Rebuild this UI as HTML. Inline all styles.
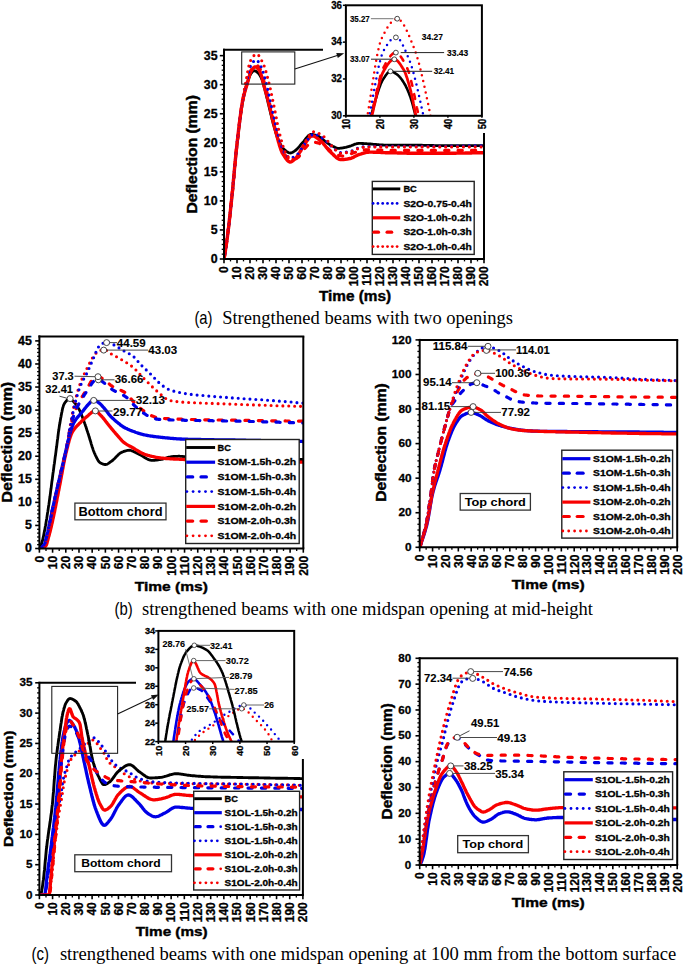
<!DOCTYPE html><html><head><meta charset="utf-8"><style>html,body{margin:0;padding:0;background:#fff;overflow:hidden;width:685px;height:965px;}svg{display:block;}</style></head><body><svg width="685" height="965" viewBox="0 0 685 965">
<rect width="685" height="965" fill="#fff"/>
<defs><clipPath id="cA"><rect x="224" y="49" width="260" height="210.5"/></clipPath><clipPath id="cAi"><rect x="345.9" y="5.3" width="136" height="110.5"/></clipPath></defs>
<path d="M224.0,259.0 224.2,257.8 224.4,256.5 224.7,255.2 224.9,253.9 225.1,252.6 225.3,251.2 225.5,249.8 225.7,248.4 226.0,246.9 226.2,245.5 226.4,244.0 226.6,242.4 226.8,240.9 227.0,239.3 227.3,237.7 227.5,236.1 227.7,234.5 227.9,232.8 228.1,231.1 228.3,229.4 228.6,227.6 228.8,225.8 229.0,224.0 229.2,222.1 229.4,220.2 229.6,218.2 229.9,216.3 230.1,214.3 230.3,212.3 230.5,210.2 230.7,208.2 230.9,206.2 231.2,204.1 231.4,202.1 231.6,200.0 231.8,197.9 232.0,195.9 232.2,193.7 232.5,191.5 232.7,189.3 232.9,187.1 233.1,184.8 233.3,182.5 233.5,180.2 233.8,177.9 234.0,175.6 234.2,173.3 234.4,170.9 234.6,168.6 234.8,166.3 235.1,164.0 235.3,161.8 235.5,159.5 235.7,157.3 235.9,155.2 236.1,153.0 236.4,150.9 236.6,148.9 236.8,146.9 237.0,145.0 237.2,143.1 237.4,141.3 237.7,139.4 237.9,137.5 238.1,135.6 238.3,133.8 238.5,131.9 238.7,130.1 239.0,128.3 239.2,126.5 239.4,124.7 239.6,123.0 239.8,121.2 240.0,119.5 240.3,117.9 240.5,116.2 240.7,114.6 240.9,113.0 241.1,111.5 241.3,110.0 241.6,108.6 241.8,107.2 242.0,105.8 242.2,104.5 242.4,103.2 242.6,102.0 242.9,100.9 243.1,99.8 243.3,98.7 243.5,97.6 243.7,96.6 243.9,95.6 244.2,94.6 244.4,93.6 244.6,92.7 244.8,91.7 245.0,90.8 245.3,90.0 245.5,89.1 245.7,88.3 245.9,87.4 246.1,86.6 246.3,85.9 246.8,84.4 247.2,83.0 247.6,81.7 248.1,80.4 248.5,79.2 248.9,78.0 249.4,76.9 249.8,75.8 250.2,74.9 250.7,74.0 251.1,73.3 251.8,72.5 252.4,71.7 253.1,71.1 253.9,70.7 254.8,70.8 255.7,71.2 256.5,71.6 257.4,72.3 258.0,72.9 258.7,73.7 259.3,74.5 260.0,75.5 260.4,76.2 260.9,77.1 261.3,78.0 261.7,79.0 262.2,80.1 262.6,81.4 263.0,82.8 263.5,84.2 263.9,85.8 264.1,86.6 264.3,87.4 264.6,88.2 264.8,89.0 265.0,89.9 265.2,90.8 265.4,91.7 265.6,92.5 265.9,93.4 266.1,94.3 266.3,95.2 266.5,96.1 266.7,97.0 266.9,97.9 267.2,98.8 267.4,99.7 267.6,100.5 267.8,101.4 268.0,102.3 268.2,103.2 268.5,104.1 268.7,105.0 268.9,105.9 269.1,106.8 269.3,107.7 269.5,108.7 269.8,109.6 270.0,110.5 270.2,111.4 270.4,112.3 270.6,113.3 270.8,114.2 271.1,115.1 271.3,116.0 271.5,116.9 271.7,117.7 271.9,118.6 272.1,119.5 272.4,120.3 272.6,121.2 272.8,122.0 273.0,122.8 273.2,123.6 273.4,124.4 273.9,125.9 274.3,127.4 274.7,128.9 275.2,130.5 275.6,131.9 276.0,133.4 276.5,134.7 276.9,136.1 277.3,137.3 277.8,138.5 278.2,139.6 278.6,140.6 279.1,141.5 279.5,142.4 279.9,143.3 280.4,144.2 280.8,145.0 281.2,145.8 281.7,146.5 282.1,147.2 282.8,148.1 283.4,148.8 284.1,149.4 284.7,150.0 285.4,150.5 286.0,151.1 286.7,151.5 287.5,152.1 288.4,152.5 289.3,152.8 290.1,153.0 291.0,152.9 291.9,152.6 292.7,152.2 293.6,151.7 294.5,151.1 295.3,150.5 296.0,150.0 296.6,149.4 297.3,148.8 297.9,148.1 298.6,147.3 299.2,146.6 299.9,145.8 300.5,145.0 301.2,144.3 301.8,143.5 302.5,142.8 303.1,142.1 303.8,141.3 304.5,140.4 305.1,139.6 305.8,138.7 306.4,137.9 307.1,137.1 307.7,136.4 308.4,135.7 309.0,135.2 309.9,134.7 310.7,134.4 311.6,134.4 312.5,134.5 313.3,134.6 314.2,134.8 315.1,135.0 315.9,135.3 316.8,135.6 317.7,135.9 318.5,136.2 319.4,136.8 320.3,137.4 320.9,137.9 321.6,138.5 322.2,139.0 322.9,139.6 323.5,140.2 324.2,140.7 324.8,141.2 325.7,141.8 326.6,142.4 327.4,143.0 328.3,143.6 329.2,144.2 330.0,144.7 330.9,145.2 331.8,145.6 332.6,146.1 333.5,146.6 334.4,147.0 335.2,147.5 336.1,147.8 337.0,148.1 337.8,148.3 338.7,148.3 339.6,148.3 340.4,148.2 341.3,148.1 342.2,148.0 343.0,147.8 343.9,147.6 344.8,147.5 345.7,147.3 346.5,147.1 347.4,146.9 348.3,146.7 349.1,146.4 350.0,146.1 350.9,145.8 351.7,145.5 352.6,145.1 353.5,144.8 354.3,144.4 355.2,144.1 356.1,143.9 356.9,143.7 357.8,143.5 358.7,143.4 359.5,143.4 360.4,143.4 361.3,143.4 362.1,143.5 363.0,143.5 363.9,143.6 364.7,143.6 365.6,143.7 366.5,143.7 367.3,143.8 368.2,143.9 369.1,143.9 369.9,144.0 370.8,144.0 371.7,144.1 372.5,144.2 373.4,144.3 374.3,144.3 375.1,144.4 376.0,144.5 376.9,144.6 377.7,144.6 378.6,144.7 379.5,144.8 380.3,144.9 381.2,144.9 382.1,145.0 382.9,145.0 383.8,145.1 384.7,145.1 385.6,145.1 386.4,145.1 387.3,145.1 388.2,145.1 389.0,145.1 389.9,145.1 390.8,145.1 391.6,145.1 392.5,145.1 393.4,145.1 394.2,145.1 395.1,145.1 396.0,145.1 396.8,145.1 397.7,145.1 398.6,145.1 399.4,145.1 400.3,145.1 401.2,145.1 402.0,145.1 402.9,145.1 403.8,145.1 404.6,145.1 405.5,145.1 406.4,145.1 407.2,145.1 408.1,145.1 409.0,145.1 409.8,145.1 410.7,145.1 411.6,145.1 412.4,145.1 413.3,145.1 414.2,145.1 415.0,145.1 415.9,145.1 416.8,145.2 417.6,145.2 418.5,145.2 419.4,145.2 420.2,145.2 421.1,145.2 422.0,145.2 422.8,145.3 423.7,145.3 424.6,145.3 425.5,145.3 426.3,145.3 427.2,145.4 428.1,145.4 428.9,145.4 429.8,145.4 430.7,145.5 431.5,145.5 432.4,145.5 433.3,145.5 434.1,145.6 435.0,145.6 435.9,145.6 436.7,145.6 437.6,145.6 438.5,145.6 439.3,145.7 440.2,145.7 441.1,145.7 441.9,145.7 442.8,145.7 443.7,145.7 444.5,145.7 445.4,145.7 446.3,145.7 447.1,145.7 448.0,145.7 448.9,145.7 449.7,145.7 450.6,145.7 451.5,145.7 452.3,145.7 453.2,145.7 454.1,145.7 454.9,145.7 455.8,145.7 456.7,145.7 457.5,145.7 458.4,145.7 459.3,145.7 460.1,145.7 461.0,145.7 461.9,145.7 462.7,145.7 463.6,145.7 464.5,145.7 465.4,145.7 466.2,145.7 467.1,145.7 468.0,145.7 468.8,145.7 469.7,145.7 470.6,145.7 471.4,145.7 472.3,145.7 473.2,145.7 474.0,145.7 474.9,145.7 475.8,145.7 476.6,145.7 477.5,145.7 478.4,145.7 479.2,145.7 480.1,145.7 481.0,145.7 481.8,145.7 482.7,145.7 483.6,145.7 484.0,145.7" fill="none" stroke="#000000" stroke-width="2.8" stroke-linejoin="round" stroke-linecap="round" clip-path="url(#cA)"/>
<path d="M224.0,259.0 224.2,257.8 224.4,256.5 224.7,255.3 224.9,254.0 225.1,252.6 225.3,251.3 225.5,249.9 225.7,248.4 226.0,247.0 226.2,245.5 226.4,244.0 226.6,242.5 226.8,240.9 227.0,239.4 227.3,237.8 227.5,236.1 227.7,234.5 227.9,232.8 228.1,231.1 228.3,229.4 228.6,227.6 228.8,225.7 229.0,223.9 229.2,221.9 229.4,220.0 229.6,218.0 229.9,216.0 230.1,214.0 230.3,211.9 230.5,209.9 230.7,207.8 230.9,205.7 231.2,203.6 231.4,201.5 231.6,199.4 231.8,197.4 232.0,195.2 232.2,193.1 232.5,190.9 232.7,188.6 232.9,186.4 233.1,184.1 233.3,181.8 233.5,179.4 233.8,177.1 234.0,174.7 234.2,172.4 234.4,170.0 234.6,167.7 234.8,165.3 235.1,163.0 235.3,160.7 235.5,158.5 235.7,156.3 235.9,154.1 236.1,151.9 236.4,149.8 236.6,147.8 236.8,145.8 237.0,143.9 237.2,142.0 237.4,140.1 237.7,138.2 237.9,136.3 238.1,134.4 238.3,132.5 238.5,130.6 238.7,128.8 239.0,127.0 239.2,125.1 239.4,123.3 239.6,121.6 239.8,119.8 240.0,118.1 240.3,116.4 240.5,114.8 240.7,113.2 240.9,111.6 241.1,110.1 241.3,108.6 241.6,107.2 241.8,105.8 242.0,104.4 242.2,103.2 242.4,102.0 242.6,100.8 242.9,99.7 243.1,98.7 243.3,97.7 243.5,96.8 243.7,95.8 243.9,95.0 244.2,94.1 244.4,93.3 244.6,92.5 244.8,91.7 245.3,90.2 245.7,88.8 246.1,87.3 246.6,85.9 247.0,84.5 247.4,83.0 247.9,81.5 248.1,80.7 248.3,79.9 248.5,79.0 248.7,78.2 248.9,77.4 249.2,76.6 249.4,75.9 249.8,74.4 250.2,73.1 250.7,72.0 251.1,71.1 251.8,70.1 252.4,69.2 253.1,68.4 253.7,67.7 254.4,67.2 255.2,66.9 256.1,67.0 257.0,67.6 257.6,68.3 258.3,69.1 258.9,69.9 259.6,70.9 260.0,71.8 260.4,72.9 260.9,74.1 261.3,75.4 261.7,76.7 262.2,78.2 262.4,79.0 262.6,79.9 262.8,80.8 263.0,81.7 263.2,82.6 263.5,83.5 263.7,84.3 263.9,85.2 264.1,86.0 264.3,86.8 264.6,87.6 264.8,88.4 265.0,89.2 265.2,90.0 265.4,90.7 265.6,91.5 265.9,92.3 266.1,93.1 266.3,93.9 266.5,94.7 266.7,95.4 266.9,96.2 267.2,97.0 267.4,97.8 267.6,98.6 267.8,99.5 268.0,100.3 268.2,101.1 268.5,102.0 268.7,102.8 268.9,103.7 269.1,104.5 269.3,105.4 269.5,106.3 269.8,107.2 270.0,108.1 270.2,109.0 270.4,109.9 270.6,110.8 270.8,111.7 271.1,112.7 271.3,113.6 271.5,114.5 271.7,115.4 271.9,116.3 272.1,117.2 272.4,118.2 272.6,119.1 272.8,120.0 273.0,120.9 273.2,121.8 273.4,122.6 273.7,123.5 273.9,124.4 274.1,125.3 274.3,126.1 274.5,126.9 274.7,127.8 275.0,128.6 275.2,129.4 275.4,130.2 275.6,131.0 275.8,131.8 276.0,132.6 276.3,133.4 276.5,134.2 276.7,135.0 276.9,135.9 277.1,136.7 277.3,137.5 277.6,138.3 277.8,139.2 278.0,140.0 278.2,140.8 278.4,141.6 278.6,142.4 278.9,143.1 279.3,144.7 279.7,146.1 280.2,147.5 280.6,148.8 281.0,150.0 281.5,151.1 281.9,152.1 282.3,153.0 282.8,153.7 283.2,154.4 283.6,155.1 284.1,155.8 284.5,156.5 285.2,157.5 285.8,158.5 286.5,159.3 287.1,160.1 287.8,160.7 288.4,161.3 289.3,161.8 290.1,162.0 291.0,161.9 291.9,161.5 292.7,160.9 293.4,160.4 294.0,159.8 294.7,159.2 295.3,158.6 296.0,158.0 296.6,157.2 297.3,156.3 297.9,155.3 298.4,154.6 298.8,153.8 299.2,153.1 299.7,152.3 300.1,151.5 300.5,150.7 301.0,150.0 301.4,149.2 301.8,148.5 302.3,147.8 302.9,146.8 303.6,145.9 304.2,145.0 304.9,144.0 305.5,143.0 306.2,142.0 306.8,141.0 307.5,140.1 308.1,139.2 308.8,138.3 309.4,137.6 310.1,136.9 310.7,136.4 311.6,136.0 312.5,135.8 313.3,135.9 314.2,136.2 315.1,136.6 315.9,137.2 316.8,137.8 317.5,138.3 318.1,138.8 318.8,139.3 319.4,139.9 320.1,140.4 320.7,140.9 321.4,141.5 322.0,142.1 322.7,142.8 323.3,143.6 324.0,144.4 324.6,145.2 325.3,146.0 325.9,146.8 326.6,147.6 327.2,148.4 327.9,149.2 328.5,150.0 329.2,150.7 329.8,151.4 330.5,152.0 331.1,152.6 331.8,153.2 332.4,153.8 333.1,154.4 333.7,155.1 334.4,155.7 335.0,156.3 335.7,156.9 336.3,157.5 337.0,158.0 337.8,158.6 338.7,159.1 339.6,159.4 340.4,159.6 341.3,159.6 342.2,159.6 343.0,159.6 343.9,159.5 344.8,159.4 345.7,159.3 346.5,159.1 347.4,159.0 348.3,158.8 349.1,158.7 350.0,158.5 350.9,158.3 351.7,158.0 352.6,157.6 353.5,157.2 354.3,156.7 355.2,156.3 356.1,155.8 356.9,155.4 357.8,154.9 358.7,154.6 359.5,154.3 360.4,154.1 361.3,153.8 362.1,153.5 363.0,153.3 363.9,153.0 364.7,152.8 365.6,152.6 366.5,152.4 367.3,152.3 368.2,152.2 369.1,152.1 369.9,152.1 370.8,152.1 371.7,152.1 372.5,152.1 373.4,152.2 374.3,152.2 375.1,152.2 376.0,152.2 376.9,152.3 377.7,152.3 378.6,152.4 379.5,152.4 380.3,152.4 381.2,152.5 382.1,152.5 382.9,152.6 383.8,152.6 384.7,152.6 385.6,152.7 386.4,152.7 387.3,152.7 388.2,152.7 389.0,152.7 389.9,152.8 390.8,152.8 391.6,152.8 392.5,152.8 393.4,152.8 394.2,152.9 395.1,152.9 396.0,152.9 396.8,152.9 397.7,153.0 398.6,153.0 399.4,153.0 400.3,153.0 401.2,153.0 402.0,153.1 402.9,153.1 403.8,153.1 404.6,153.1 405.5,153.1 406.4,153.1 407.2,153.2 408.1,153.2 409.0,153.2 409.8,153.2 410.7,153.2 411.6,153.2 412.4,153.2 413.3,153.2 414.2,153.2 415.0,153.2 415.9,153.2 416.8,153.3 417.6,153.3 418.5,153.3 419.4,153.3 420.2,153.3 421.1,153.3 422.0,153.3 422.8,153.3 423.7,153.3 424.6,153.3 425.5,153.3 426.3,153.3 427.2,153.3 428.1,153.3 428.9,153.3 429.8,153.3 430.7,153.3 431.5,153.3 432.4,153.3 433.3,153.3 434.1,153.3 435.0,153.2 435.9,153.2 436.7,153.2 437.6,153.2 438.5,153.2 439.3,153.2 440.2,153.2 441.1,153.2 441.9,153.2 442.8,153.2 443.7,153.2 444.5,153.2 445.4,153.2 446.3,153.2 447.1,153.2 448.0,153.2 448.9,153.2 449.7,153.2 450.6,153.2 451.5,153.2 452.3,153.2 453.2,153.2 454.1,153.2 454.9,153.2 455.8,153.2 456.7,153.1 457.5,153.1 458.4,153.1 459.3,153.1 460.1,153.1 461.0,153.1 461.9,153.1 462.7,153.1 463.6,153.1 464.5,153.1 465.4,153.0 466.2,153.0 467.1,153.0 468.0,153.0 468.8,153.0 469.7,153.0 470.6,153.0 471.4,153.0 472.3,152.9 473.2,152.9 474.0,152.9 474.9,152.9 475.8,152.9 476.6,152.9 477.5,152.8 478.4,152.8 479.2,152.8 480.1,152.8 481.0,152.8 481.8,152.7 482.7,152.7 483.6,152.7 484.0,152.7" fill="none" stroke="#f80000" stroke-width="3.4" stroke-linejoin="round" stroke-linecap="round" clip-path="url(#cA)"/>
<path d="M224.0,259.0 224.2,257.8 224.4,256.5 224.7,255.3 224.9,254.0 225.1,252.6 225.3,251.3 225.5,249.9 225.7,248.4 226.0,247.0 226.2,245.5 226.4,244.0 226.6,242.5 226.8,240.9 227.0,239.4 227.3,237.8 227.5,236.1 227.7,234.5 227.9,232.8 228.1,231.1 228.3,229.4 228.6,227.6 228.8,225.7 229.0,223.9 229.2,221.9 229.4,220.0 229.6,218.0 229.9,216.0 230.1,214.0 230.3,211.9 230.5,209.9 230.7,207.8 230.9,205.7 231.2,203.6 231.4,201.5 231.6,199.4 231.8,197.4 232.0,195.2 232.2,193.1 232.5,190.9 232.7,188.6 232.9,186.4 233.1,184.1 233.3,181.8 233.5,179.4 233.8,177.1 234.0,174.7 234.2,172.4 234.4,170.0 234.6,167.7 234.8,165.3 235.1,163.0 235.3,160.7 235.5,158.5 235.7,156.3 235.9,154.1 236.1,151.9 236.4,149.8 236.6,147.8 236.8,145.8 237.0,143.9 237.2,142.0 237.4,140.1 237.7,138.2 237.9,136.3 238.1,134.4 238.3,132.6 238.5,130.7 238.7,128.9 239.0,127.0 239.2,125.2 239.4,123.4 239.6,121.7 239.8,120.0 240.0,118.2 240.3,116.6 240.5,114.9 240.7,113.3 240.9,111.8 241.1,110.2 241.3,108.7 241.6,107.3 241.8,105.9 242.0,104.6 242.2,103.3 242.4,102.0 242.6,100.8 242.9,99.7 243.1,98.7 243.3,97.6 243.5,96.6 243.7,95.7 243.9,94.7 244.2,93.8 244.4,93.0 244.6,92.1 244.8,91.3 245.0,90.5 245.3,89.7 245.5,88.9 245.9,87.4 246.3,85.9 246.8,84.4 247.2,82.8 247.4,82.0 247.6,81.2 247.9,80.4 248.1,79.6 248.3,78.8 248.5,77.9 248.7,77.1 248.9,76.3 249.2,75.5 249.6,74.0 250.0,72.6 250.5,71.4 250.9,70.4 251.3,69.6 251.8,68.9 252.4,67.9 253.1,67.0 253.7,66.2 254.4,65.5 255.0,65.1 255.9,64.8 256.7,65.0 257.6,65.6 258.3,66.4 258.9,67.2 259.6,68.2 260.0,68.9 260.4,69.6 260.9,70.5 261.3,71.6 261.7,72.9 262.2,74.4 262.4,75.2 262.6,76.0 262.8,76.8 263.0,77.7 263.2,78.5 263.5,79.4 263.7,80.3 263.9,81.1 264.1,82.0 264.3,82.9 264.6,83.7 264.8,84.5 265.0,85.3 265.2,86.1 265.4,86.9 265.6,87.7 265.9,88.6 266.1,89.4 266.3,90.3 266.5,91.1 266.7,92.0 266.9,92.8 267.2,93.7 267.4,94.5 267.6,95.4 267.8,96.3 268.0,97.2 268.2,98.0 268.5,98.9 268.7,99.8 268.9,100.7 269.1,101.6 269.3,102.5 269.5,103.4 269.8,104.3 270.0,105.2 270.2,106.1 270.4,107.1 270.6,108.0 270.8,109.0 271.1,110.0 271.3,110.9 271.5,111.9 271.7,112.9 271.9,113.9 272.1,114.9 272.4,115.8 272.6,116.8 272.8,117.8 273.0,118.8 273.2,119.7 273.4,120.7 273.7,121.7 273.9,122.6 274.1,123.6 274.3,124.5 274.5,125.4 274.7,126.3 275.0,127.2 275.2,128.1 275.4,128.9 275.6,129.8 275.8,130.6 276.0,131.4 276.3,132.2 276.7,133.7 277.1,135.1 277.6,136.6 278.0,138.0 278.4,139.5 278.9,140.9 279.3,142.3 279.7,143.6 280.2,145.0 280.6,146.2 281.0,147.4 281.5,148.6 281.9,149.7 282.3,150.6 282.8,151.5 283.2,152.3 283.6,153.0 284.3,153.9 284.9,154.8 285.6,155.6 286.2,156.4 286.9,157.2 287.5,157.9 288.2,158.5 288.8,159.1 289.7,159.7 290.6,160.1 291.4,160.2 292.3,160.2 293.2,160.0 294.0,159.7 294.9,159.3 295.8,158.8 296.6,158.3 297.5,157.7 298.4,157.1 299.0,156.5 299.7,155.7 300.3,154.8 301.0,153.8 301.4,153.2 301.8,152.5 302.3,151.8 302.7,151.1 303.4,150.1 304.0,149.3 304.7,148.5 305.3,147.9 306.0,147.1 306.6,146.4 307.3,145.7 307.9,145.0 308.6,144.3 309.2,143.8 309.9,143.2 310.7,142.7 311.6,142.3 312.5,142.2 313.3,142.2 314.2,142.3 315.1,142.4 315.9,142.5 316.8,142.7 317.7,142.8 318.5,143.0 319.4,143.4 320.3,143.8 321.1,144.2 322.0,144.7 322.9,145.3 323.7,145.8 324.6,146.4 325.5,146.9 326.4,147.5 327.0,148.0 327.7,148.5 328.3,149.0 329.0,149.6 329.6,150.1 330.3,150.7 330.9,151.3 331.6,151.8 332.2,152.3 332.9,152.8 333.7,153.4 334.6,153.9 335.5,154.3 336.3,154.6 337.2,154.9 338.1,155.2 338.9,155.4 339.8,155.6 340.7,155.8 341.5,156.0 342.4,156.1 343.3,156.2 344.1,156.1 345.0,156.0 345.9,155.8 346.7,155.6 347.6,155.3 348.5,154.9 349.3,154.5 350.2,154.1 351.1,153.8 351.9,153.4 352.8,153.1 353.7,152.8 354.5,152.5 355.4,152.3 356.3,152.0 357.1,151.8 358.0,151.5 358.9,151.2 359.7,151.0 360.6,150.8 361.5,150.5 362.3,150.3 363.2,150.2 364.1,150.0 365.0,149.9 365.8,149.8 366.7,149.8 367.6,149.8 368.4,149.8 369.3,149.8 370.2,149.8 371.0,149.8 371.9,149.8 372.8,149.8 373.6,149.9 374.5,149.9 375.4,149.9 376.2,149.9 377.1,150.0 378.0,150.0 378.8,150.0 379.7,150.1 380.6,150.1 381.4,150.1 382.3,150.1 383.2,150.2 384.0,150.2 384.9,150.2 385.8,150.2 386.6,150.3 387.5,150.3 388.4,150.3 389.2,150.3 390.1,150.3 391.0,150.3 391.8,150.3 392.7,150.4 393.6,150.4 394.4,150.4 395.3,150.4 396.2,150.4 397.0,150.4 397.9,150.4 398.8,150.4 399.6,150.4 400.5,150.4 401.4,150.4 402.2,150.4 403.1,150.4 404.0,150.4 404.9,150.4 405.7,150.4 406.6,150.4 407.5,150.4 408.3,150.4 409.2,150.4 410.1,150.4 410.9,150.4 411.8,150.4 412.7,150.4 413.5,150.4 414.4,150.4 415.3,150.4 416.1,150.4 417.0,150.4 417.9,150.4 418.7,150.4 419.6,150.4 420.5,150.4 421.3,150.4 422.2,150.4 423.1,150.4 423.9,150.4 424.8,150.4 425.7,150.4 426.5,150.4 427.4,150.4 428.3,150.4 429.1,150.4 430.0,150.4 430.9,150.4 431.7,150.4 432.6,150.4 433.5,150.4 434.3,150.4 435.2,150.4 436.1,150.4 436.9,150.4 437.8,150.4 438.7,150.4 439.5,150.4 440.4,150.4 441.3,150.4 442.1,150.4 443.0,150.4 443.9,150.4 444.8,150.4 445.6,150.4 446.5,150.4 447.4,150.4 448.2,150.4 449.1,150.4 450.0,150.4 450.8,150.4 451.7,150.4 452.6,150.4 453.4,150.4 454.3,150.4 455.2,150.4 456.0,150.4 456.9,150.4 457.8,150.4 458.6,150.4 459.5,150.4 460.4,150.4 461.2,150.4 462.1,150.4 463.0,150.4 463.8,150.4 464.7,150.4 465.6,150.4 466.4,150.4 467.3,150.4 468.2,150.4 469.0,150.4 469.9,150.4 470.8,150.4 471.6,150.4 472.5,150.4 473.4,150.4 474.2,150.4 475.1,150.4 476.0,150.4 476.8,150.4 477.7,150.4 478.6,150.4 479.4,150.4 480.3,150.4 481.2,150.4 482.0,150.4 482.9,150.4 483.8,150.4 484.0,150.4" fill="none" stroke="#f80000" stroke-width="3.2" stroke-dasharray="4.2 9.2" stroke-linecap="round" stroke-linejoin="round" clip-path="url(#cA)"/>
<path d="M224.0,259.0 224.2,257.8 224.4,256.5 224.7,255.3 224.9,254.0 225.1,252.6 225.3,251.3 225.5,249.9 225.7,248.4 226.0,247.0 226.2,245.5 226.4,244.0 226.6,242.5 226.8,240.9 227.0,239.4 227.3,237.8 227.5,236.1 227.7,234.5 227.9,232.8 228.1,231.1 228.3,229.4 228.6,227.6 228.8,225.7 229.0,223.9 229.2,221.9 229.4,220.0 229.6,218.0 229.9,216.0 230.1,214.0 230.3,211.9 230.5,209.9 230.7,207.8 230.9,205.7 231.2,203.6 231.4,201.5 231.6,199.4 231.8,197.4 232.0,195.2 232.2,193.1 232.5,190.9 232.7,188.7 232.9,186.4 233.1,184.1 233.3,181.8 233.5,179.5 233.8,177.1 234.0,174.8 234.2,172.4 234.4,170.1 234.6,167.8 234.8,165.4 235.1,163.1 235.3,160.8 235.5,158.6 235.7,156.3 235.9,154.2 236.1,152.0 236.4,149.9 236.6,147.8 236.8,145.8 237.0,143.9 237.2,141.9 237.4,140.0 237.7,138.1 237.9,136.2 238.1,134.3 238.3,132.4 238.5,130.5 238.7,128.7 239.0,126.8 239.2,125.0 239.4,123.2 239.6,121.4 239.8,119.6 240.0,117.9 240.3,116.2 240.5,114.5 240.7,112.9 240.9,111.3 241.1,109.7 241.3,108.1 241.6,106.6 241.8,105.2 242.0,103.8 242.2,102.4 242.4,101.1 242.6,99.8 242.9,98.6 243.1,97.4 243.3,96.2 243.5,95.2 243.7,94.1 243.9,93.1 244.2,92.1 244.4,91.1 244.6,90.2 244.8,89.3 245.0,88.4 245.3,87.5 245.5,86.6 245.7,85.7 245.9,84.8 246.1,83.9 246.3,83.1 246.6,82.2 246.8,81.2 247.0,80.3 247.2,79.3 247.4,78.3 247.6,77.4 247.9,76.4 248.1,75.4 248.3,74.4 248.5,73.5 248.7,72.5 248.9,71.6 249.2,70.7 249.4,69.8 249.6,69.0 249.8,68.2 250.2,66.8 250.7,65.6 251.1,64.7 251.5,64.0 252.2,63.1 252.8,62.2 253.5,61.5 254.1,60.8 254.8,60.3 255.7,59.9 256.5,60.0 257.4,60.6 258.0,61.3 258.7,62.3 259.1,63.0 259.6,63.8 260.0,64.6 260.4,65.5 260.9,66.3 261.3,67.2 261.7,68.2 262.2,69.2 262.6,70.4 263.0,71.7 263.5,73.1 263.9,74.6 264.3,76.1 264.6,76.9 264.8,77.7 265.0,78.5 265.2,79.3 265.4,80.1 265.6,80.9 265.9,81.7 266.1,82.5 266.3,83.4 266.5,84.2 266.7,85.0 266.9,85.8 267.2,86.7 267.4,87.6 267.6,88.6 267.8,89.5 268.0,90.5 268.2,91.4 268.5,92.4 268.7,93.4 268.9,94.5 269.1,95.5 269.3,96.5 269.5,97.5 269.8,98.5 270.0,99.5 270.2,100.5 270.4,101.5 270.6,102.5 270.8,103.5 271.1,104.4 271.3,105.4 271.5,106.3 271.7,107.3 271.9,108.3 272.1,109.3 272.4,110.2 272.6,111.2 272.8,112.2 273.0,113.2 273.2,114.2 273.4,115.1 273.7,116.1 273.9,117.1 274.1,118.0 274.3,119.0 274.5,120.0 274.7,120.9 275.0,121.8 275.2,122.8 275.4,123.7 275.6,124.6 275.8,125.5 276.0,126.4 276.3,127.2 276.5,128.1 276.7,128.9 276.9,129.7 277.1,130.6 277.3,131.3 277.6,132.1 277.8,132.9 278.0,133.7 278.2,134.5 278.4,135.4 278.6,136.2 278.9,137.0 279.1,137.8 279.3,138.6 279.5,139.4 279.7,140.2 279.9,141.0 280.2,141.7 280.6,143.2 281.0,144.7 281.5,146.0 281.9,147.3 282.3,148.5 282.8,149.5 283.2,150.5 283.6,151.3 284.3,152.2 284.9,153.2 285.6,154.1 286.2,155.0 286.9,155.7 287.5,156.4 288.2,157.0 289.1,157.6 289.9,157.9 290.8,157.9 291.7,157.7 292.5,157.5 293.4,157.1 294.3,156.6 295.1,156.1 296.0,155.5 296.9,155.0 297.5,154.4 298.2,153.7 298.8,152.9 299.5,152.0 300.1,151.0 300.5,150.3 301.0,149.6 301.4,148.8 301.8,148.1 302.3,147.4 302.7,146.7 303.1,146.0 303.8,145.0 304.5,144.1 305.1,143.3 305.8,142.4 306.4,141.5 307.1,140.6 307.7,139.6 308.4,138.7 309.0,137.8 309.7,137.0 310.3,136.2 311.0,135.5 311.6,135.0 312.5,134.4 313.3,134.1 314.2,134.1 315.1,134.2 315.9,134.5 316.8,134.8 317.7,135.1 318.5,135.6 319.4,136.1 320.3,136.6 321.1,137.1 322.0,137.7 322.9,138.2 323.7,138.8 324.4,139.3 325.1,139.9 325.7,140.5 326.4,141.2 327.0,141.9 327.7,142.6 328.3,143.3 329.0,144.0 329.6,144.7 330.3,145.4 330.9,146.0 331.6,146.7 332.2,147.2 332.9,147.8 333.5,148.3 334.2,148.8 334.8,149.3 335.5,149.8 336.1,150.3 336.8,150.8 337.6,151.4 338.5,151.9 339.4,152.3 340.2,152.6 341.1,152.7 342.0,152.7 342.8,152.6 343.7,152.5 344.6,152.4 345.4,152.3 346.3,152.1 347.2,151.9 348.0,151.7 348.9,151.5 349.8,151.3 350.6,151.1 351.5,150.9 352.4,150.7 353.2,150.3 354.1,149.9 355.0,149.5 355.8,149.1 356.7,148.6 357.6,148.2 358.4,147.8 359.3,147.4 360.2,147.2 361.0,147.0 361.9,146.9 362.8,146.8 363.6,146.8 364.5,146.7 365.4,146.7 366.3,146.6 367.1,146.6 368.0,146.5 368.9,146.5 369.7,146.5 370.6,146.4 371.5,146.4 372.3,146.4 373.2,146.4 374.1,146.3 374.9,146.3 375.8,146.3 376.7,146.3 377.5,146.3 378.4,146.3 379.3,146.3 380.1,146.3 381.0,146.3 381.9,146.3 382.7,146.3 383.6,146.3 384.5,146.3 385.3,146.3 386.2,146.3 387.1,146.3 387.9,146.3 388.8,146.3 389.7,146.3 390.5,146.3 391.4,146.3 392.3,146.3 393.1,146.3 394.0,146.3 394.9,146.3 395.7,146.3 396.6,146.3 397.5,146.3 398.3,146.3 399.2,146.3 400.1,146.3 400.9,146.3 401.8,146.3 402.7,146.3 403.5,146.3 404.4,146.3 405.3,146.3 406.2,146.3 407.0,146.3 407.9,146.3 408.8,146.3 409.6,146.3 410.5,146.3 411.4,146.3 412.2,146.3 413.1,146.3 414.0,146.3 414.8,146.3 415.7,146.3 416.6,146.3 417.4,146.3 418.3,146.3 419.2,146.3 420.0,146.3 420.9,146.3 421.8,146.3 422.6,146.3 423.5,146.3 424.4,146.3 425.2,146.3 426.1,146.3 427.0,146.3 427.8,146.3 428.7,146.3 429.6,146.3 430.4,146.3 431.3,146.3 432.2,146.3 433.0,146.3 433.9,146.2 434.8,146.2 435.6,146.2 436.5,146.2 437.4,146.2 438.2,146.2 439.1,146.2 440.0,146.2 440.8,146.2 441.7,146.2 442.6,146.2 443.4,146.2 444.3,146.2 445.2,146.2 446.1,146.2 446.9,146.2 447.8,146.1 448.7,146.1 449.5,146.1 450.4,146.1 451.3,146.1 452.1,146.1 453.0,146.1 453.9,146.1 454.7,146.1 455.6,146.1 456.5,146.1 457.3,146.1 458.2,146.0 459.1,146.0 459.9,146.0 460.8,146.0 461.7,146.0 462.5,146.0 463.4,146.0 464.3,146.0 465.1,146.0 466.0,146.0 466.9,145.9 467.7,145.9 468.6,145.9 469.5,145.9 470.3,145.9 471.2,145.9 472.1,145.9 472.9,145.9 473.8,145.8 474.7,145.8 475.5,145.8 476.4,145.8 477.3,145.8 478.1,145.8 479.0,145.8 479.9,145.8 480.7,145.8 481.6,145.7 482.5,145.7 483.3,145.7 484.0,145.7" fill="none" stroke="#0000e6" stroke-width="3.1" stroke-dasharray="0 5.9" stroke-linecap="round" clip-path="url(#cA)"/>
<path d="M224.0,259.0 224.2,257.8 224.4,256.5 224.7,255.3 224.9,254.0 225.1,252.6 225.3,251.3 225.5,249.9 225.7,248.4 226.0,247.0 226.2,245.5 226.4,244.0 226.6,242.5 226.8,240.9 227.0,239.4 227.3,237.8 227.5,236.1 227.7,234.5 227.9,232.8 228.1,231.1 228.3,229.4 228.6,227.6 228.8,225.7 229.0,223.9 229.2,221.9 229.4,220.0 229.6,218.0 229.9,216.0 230.1,214.0 230.3,211.9 230.5,209.9 230.7,207.8 230.9,205.7 231.2,203.6 231.4,201.5 231.6,199.4 231.8,197.4 232.0,195.2 232.2,193.1 232.5,190.9 232.7,188.7 232.9,186.4 233.1,184.1 233.3,181.8 233.5,179.5 233.8,177.2 234.0,174.8 234.2,172.5 234.4,170.1 234.6,167.8 234.8,165.5 235.1,163.2 235.3,160.9 235.5,158.6 235.7,156.4 235.9,154.2 236.1,152.0 236.4,149.9 236.6,147.8 236.8,145.8 237.0,143.9 237.2,141.9 237.4,140.0 237.7,138.1 237.9,136.2 238.1,134.3 238.3,132.5 238.5,130.6 238.7,128.8 239.0,127.0 239.2,125.2 239.4,123.4 239.6,121.6 239.8,119.9 240.0,118.2 240.3,116.5 240.5,114.8 240.7,113.1 240.9,111.5 241.1,109.9 241.3,108.3 241.6,106.7 241.8,105.2 242.0,103.7 242.2,102.2 242.4,100.8 242.6,99.4 242.9,98.0 243.1,96.6 243.3,95.3 243.5,94.0 243.7,92.7 243.9,91.5 244.2,90.3 244.4,89.1 244.6,88.0 244.8,86.8 245.0,85.7 245.3,84.6 245.5,83.5 245.7,82.4 245.9,81.3 246.1,80.2 246.3,79.0 246.6,77.9 246.8,76.7 247.0,75.5 247.2,74.3 247.4,73.2 247.6,72.0 247.9,70.9 248.1,69.8 248.3,68.7 248.5,67.6 248.7,66.6 248.9,65.7 249.2,64.8 249.4,63.9 249.6,63.1 250.0,61.7 250.5,60.7 250.9,59.9 251.3,59.2 251.8,58.5 252.4,57.5 253.1,56.6 253.7,55.8 254.4,55.2 255.0,54.7 255.9,54.2 256.7,54.1 257.6,54.4 258.3,54.9 258.9,55.7 259.6,56.6 260.0,57.3 260.4,58.1 260.9,58.9 261.3,59.8 261.7,60.6 262.2,61.5 262.6,62.4 263.0,63.3 263.5,64.2 263.9,65.3 264.3,66.4 264.8,67.7 265.2,69.1 265.6,70.5 266.1,72.0 266.3,72.8 266.5,73.6 266.7,74.4 266.9,75.2 267.2,76.0 267.4,76.8 267.6,77.7 267.8,78.5 268.0,79.4 268.2,80.2 268.5,81.1 268.7,81.9 268.9,82.8 269.1,83.6 269.3,84.5 269.5,85.4 269.8,86.3 270.0,87.2 270.2,88.1 270.4,89.1 270.6,90.1 270.8,91.0 271.1,92.1 271.3,93.1 271.5,94.1 271.7,95.1 271.9,96.2 272.1,97.2 272.4,98.3 272.6,99.3 272.8,100.4 273.0,101.4 273.2,102.5 273.4,103.5 273.7,104.5 273.9,105.6 274.1,106.6 274.3,107.7 274.5,108.8 274.7,109.9 275.0,111.0 275.2,112.1 275.4,113.2 275.6,114.3 275.8,115.5 276.0,116.6 276.3,117.7 276.5,118.8 276.7,119.9 276.9,121.0 277.1,122.1 277.3,123.2 277.6,124.3 277.8,125.3 278.0,126.4 278.2,127.4 278.4,128.4 278.6,129.4 278.9,130.4 279.1,131.3 279.3,132.2 279.5,133.1 279.7,134.0 279.9,134.8 280.2,135.7 280.4,136.5 280.6,137.3 280.8,138.2 281.0,139.0 281.2,139.8 281.5,140.7 281.7,141.5 281.9,142.3 282.1,143.1 282.3,143.8 282.8,145.4 283.2,146.8 283.6,148.2 284.1,149.5 284.5,150.6 284.9,151.7 285.4,152.6 285.8,153.3 286.2,154.0 286.7,154.7 287.1,155.4 287.8,156.4 288.4,157.3 289.1,158.1 289.7,158.7 290.4,159.2 291.2,159.6 292.1,159.6 293.0,159.4 293.8,159.0 294.7,158.5 295.3,158.0 296.0,157.5 296.6,156.9 297.3,156.3 297.9,155.7 298.6,155.0 299.2,154.1 299.7,153.4 300.1,152.6 300.5,151.7 301.0,150.8 301.4,149.8 301.8,148.9 302.3,147.8 302.7,146.8 303.1,145.8 303.6,144.9 304.0,143.9 304.5,143.0 304.9,142.2 305.3,141.4 305.8,140.7 306.4,139.7 307.1,138.8 307.7,137.8 308.4,136.8 309.0,135.8 309.7,134.9 310.3,134.1 311.0,133.4 311.6,132.7 312.3,132.2 313.1,131.8 314.0,131.8 314.9,131.9 315.7,132.1 316.6,132.3 317.5,132.7 318.3,133.1 319.2,133.6 320.1,134.1 320.9,134.6 321.8,135.2 322.7,135.7 323.5,136.4 324.2,136.9 324.8,137.5 325.5,138.2 326.1,139.0 326.8,139.8 327.4,140.6 328.1,141.4 328.7,142.3 329.4,143.1 330.0,143.9 330.7,144.8 331.3,145.5 332.0,146.3 332.6,146.9 333.3,147.5 333.9,148.1 334.6,148.8 335.2,149.4 335.9,150.1 336.5,150.7 337.2,151.3 337.8,151.8 338.5,152.3 339.4,152.8 340.2,153.2 341.1,153.3 342.0,153.2 342.8,153.2 343.7,153.1 344.6,153.0 345.4,152.8 346.3,152.7 347.2,152.5 348.0,152.3 348.9,152.1 349.8,151.9 350.6,151.7 351.5,151.5 352.4,151.2 353.2,150.9 354.1,150.5 355.0,150.1 355.8,149.6 356.7,149.2 357.6,148.8 358.4,148.4 359.3,148.0 360.2,147.7 361.0,147.5 361.9,147.4 362.8,147.4 363.6,147.3 364.5,147.3 365.4,147.2 366.3,147.2 367.1,147.2 368.0,147.1 368.9,147.1 369.7,147.1 370.6,147.0 371.5,147.0 372.3,147.0 373.2,146.9 374.1,146.9 374.9,146.9 375.8,146.9 376.7,146.9 377.5,146.9 378.4,146.9 379.3,146.9 380.1,146.9 381.0,146.9 381.9,146.9 382.7,146.9 383.6,146.9 384.5,146.9 385.3,146.9 386.2,146.9 387.1,146.9 387.9,146.9 388.8,146.9 389.7,146.9 390.5,146.9 391.4,146.9 392.3,146.9 393.1,146.9 394.0,146.9 394.9,146.9 395.7,146.9 396.6,146.9 397.5,146.9 398.3,146.9 399.2,146.9 400.1,146.9 400.9,146.9 401.8,146.9 402.7,146.9 403.5,146.9 404.4,146.9 405.3,146.9 406.2,146.9 407.0,146.9 407.9,146.9 408.8,146.9 409.6,146.9 410.5,146.9 411.4,146.9 412.2,146.9 413.1,146.9 414.0,146.9 414.8,146.9 415.7,146.9 416.6,146.9 417.4,146.9 418.3,146.9 419.2,146.9 420.0,146.9 420.9,146.9 421.8,146.9 422.6,146.9 423.5,146.9 424.4,146.9 425.2,146.9 426.1,146.9 427.0,146.9 427.8,146.9 428.7,146.9 429.6,146.9 430.4,146.9 431.3,146.9 432.2,146.9 433.0,146.9 433.9,146.9 434.8,146.9 435.6,146.9 436.5,146.9 437.4,146.9 438.2,146.9 439.1,146.9 440.0,146.9 440.8,146.9 441.7,146.9 442.6,146.9 443.4,146.9 444.3,146.9 445.2,146.9 446.1,146.9 446.9,146.9 447.8,146.9 448.7,146.9 449.5,146.9 450.4,146.9 451.3,146.9 452.1,146.9 453.0,146.9 453.9,146.9 454.7,146.9 455.6,146.9 456.5,146.9 457.3,146.9 458.2,146.9 459.1,146.9 459.9,146.9 460.8,146.9 461.7,146.9 462.5,146.9 463.4,146.9 464.3,146.9 465.1,146.9 466.0,146.9 466.9,146.9 467.7,146.9 468.6,146.9 469.5,146.9 470.3,146.9 471.2,146.9 472.1,146.9 472.9,146.9 473.8,146.9 474.7,146.9 475.5,146.9 476.4,146.9 477.3,146.9 478.1,146.9 479.0,146.9 479.9,146.9 480.7,146.9 481.6,146.9 482.5,146.9 483.3,146.9 484.0,146.9" fill="none" stroke="#f80000" stroke-width="3.1" stroke-dasharray="0 5.9" stroke-linecap="round" clip-path="url(#cA)"/>
<rect x="241.7" y="51.9" width="53.1" height="32.2" fill="none" stroke="#222" stroke-width="1.1"/>
<rect x="324" y="0" width="200" height="132.5" fill="#fff"/>
<line x1="219.8" y1="259" x2="224" y2="259" stroke="#000" stroke-width="1.6" />
<line x1="221.7" y1="254.16" x2="224" y2="254.16" stroke="#000" stroke-width="1.3" />
<line x1="221.7" y1="249.32" x2="224" y2="249.32" stroke="#000" stroke-width="1.3" />
<line x1="221.7" y1="244.47" x2="224" y2="244.47" stroke="#000" stroke-width="1.3" />
<line x1="221.7" y1="239.63" x2="224" y2="239.63" stroke="#000" stroke-width="1.3" />
<line x1="221.7" y1="234.79" x2="224" y2="234.79" stroke="#000" stroke-width="1.3" />
<line x1="219.8" y1="229.95" x2="224" y2="229.95" stroke="#000" stroke-width="1.6" />
<line x1="221.7" y1="225.11" x2="224" y2="225.11" stroke="#000" stroke-width="1.3" />
<line x1="221.7" y1="220.27" x2="224" y2="220.27" stroke="#000" stroke-width="1.3" />
<line x1="221.7" y1="215.43" x2="224" y2="215.43" stroke="#000" stroke-width="1.3" />
<line x1="221.7" y1="210.58" x2="224" y2="210.58" stroke="#000" stroke-width="1.3" />
<line x1="221.7" y1="205.74" x2="224" y2="205.74" stroke="#000" stroke-width="1.3" />
<line x1="219.8" y1="200.9" x2="224" y2="200.9" stroke="#000" stroke-width="1.6" />
<line x1="221.7" y1="196.06" x2="224" y2="196.06" stroke="#000" stroke-width="1.3" />
<line x1="221.7" y1="191.22" x2="224" y2="191.22" stroke="#000" stroke-width="1.3" />
<line x1="221.7" y1="186.38" x2="224" y2="186.38" stroke="#000" stroke-width="1.3" />
<line x1="221.7" y1="181.53" x2="224" y2="181.53" stroke="#000" stroke-width="1.3" />
<line x1="221.7" y1="176.69" x2="224" y2="176.69" stroke="#000" stroke-width="1.3" />
<line x1="219.8" y1="171.85" x2="224" y2="171.85" stroke="#000" stroke-width="1.6" />
<line x1="221.7" y1="167.01" x2="224" y2="167.01" stroke="#000" stroke-width="1.3" />
<line x1="221.7" y1="162.17" x2="224" y2="162.17" stroke="#000" stroke-width="1.3" />
<line x1="221.7" y1="157.32" x2="224" y2="157.32" stroke="#000" stroke-width="1.3" />
<line x1="221.7" y1="152.48" x2="224" y2="152.48" stroke="#000" stroke-width="1.3" />
<line x1="221.7" y1="147.64" x2="224" y2="147.64" stroke="#000" stroke-width="1.3" />
<line x1="219.8" y1="142.8" x2="224" y2="142.8" stroke="#000" stroke-width="1.6" />
<line x1="221.7" y1="137.96" x2="224" y2="137.96" stroke="#000" stroke-width="1.3" />
<line x1="221.7" y1="133.12" x2="224" y2="133.12" stroke="#000" stroke-width="1.3" />
<line x1="221.7" y1="128.28" x2="224" y2="128.28" stroke="#000" stroke-width="1.3" />
<line x1="221.7" y1="123.43" x2="224" y2="123.43" stroke="#000" stroke-width="1.3" />
<line x1="221.7" y1="118.59" x2="224" y2="118.59" stroke="#000" stroke-width="1.3" />
<line x1="219.8" y1="113.75" x2="224" y2="113.75" stroke="#000" stroke-width="1.6" />
<line x1="221.7" y1="108.91" x2="224" y2="108.91" stroke="#000" stroke-width="1.3" />
<line x1="221.7" y1="104.07" x2="224" y2="104.07" stroke="#000" stroke-width="1.3" />
<line x1="221.7" y1="99.22" x2="224" y2="99.22" stroke="#000" stroke-width="1.3" />
<line x1="221.7" y1="94.38" x2="224" y2="94.38" stroke="#000" stroke-width="1.3" />
<line x1="221.7" y1="89.54" x2="224" y2="89.54" stroke="#000" stroke-width="1.3" />
<line x1="219.8" y1="84.7" x2="224" y2="84.7" stroke="#000" stroke-width="1.6" />
<line x1="221.7" y1="79.86" x2="224" y2="79.86" stroke="#000" stroke-width="1.3" />
<line x1="221.7" y1="75.02" x2="224" y2="75.02" stroke="#000" stroke-width="1.3" />
<line x1="221.7" y1="70.18" x2="224" y2="70.18" stroke="#000" stroke-width="1.3" />
<line x1="221.7" y1="65.33" x2="224" y2="65.33" stroke="#000" stroke-width="1.3" />
<line x1="221.7" y1="60.49" x2="224" y2="60.49" stroke="#000" stroke-width="1.3" />
<line x1="219.8" y1="55.65" x2="224" y2="55.65" stroke="#000" stroke-width="1.6" />
<line x1="224" y1="259" x2="224" y2="263.2" stroke="#000" stroke-width="1.6" />
<line x1="230.5" y1="259" x2="230.5" y2="261.4" stroke="#000" stroke-width="1.3" />
<line x1="237" y1="259" x2="237" y2="263.2" stroke="#000" stroke-width="1.6" />
<line x1="243.5" y1="259" x2="243.5" y2="261.4" stroke="#000" stroke-width="1.3" />
<line x1="250" y1="259" x2="250" y2="263.2" stroke="#000" stroke-width="1.6" />
<line x1="256.5" y1="259" x2="256.5" y2="261.4" stroke="#000" stroke-width="1.3" />
<line x1="263" y1="259" x2="263" y2="263.2" stroke="#000" stroke-width="1.6" />
<line x1="269.5" y1="259" x2="269.5" y2="261.4" stroke="#000" stroke-width="1.3" />
<line x1="276" y1="259" x2="276" y2="263.2" stroke="#000" stroke-width="1.6" />
<line x1="282.5" y1="259" x2="282.5" y2="261.4" stroke="#000" stroke-width="1.3" />
<line x1="289" y1="259" x2="289" y2="263.2" stroke="#000" stroke-width="1.6" />
<line x1="295.5" y1="259" x2="295.5" y2="261.4" stroke="#000" stroke-width="1.3" />
<line x1="302" y1="259" x2="302" y2="263.2" stroke="#000" stroke-width="1.6" />
<line x1="308.5" y1="259" x2="308.5" y2="261.4" stroke="#000" stroke-width="1.3" />
<line x1="315" y1="259" x2="315" y2="263.2" stroke="#000" stroke-width="1.6" />
<line x1="321.5" y1="259" x2="321.5" y2="261.4" stroke="#000" stroke-width="1.3" />
<line x1="328" y1="259" x2="328" y2="263.2" stroke="#000" stroke-width="1.6" />
<line x1="334.5" y1="259" x2="334.5" y2="261.4" stroke="#000" stroke-width="1.3" />
<line x1="341" y1="259" x2="341" y2="263.2" stroke="#000" stroke-width="1.6" />
<line x1="347.5" y1="259" x2="347.5" y2="261.4" stroke="#000" stroke-width="1.3" />
<line x1="354" y1="259" x2="354" y2="263.2" stroke="#000" stroke-width="1.6" />
<line x1="360.5" y1="259" x2="360.5" y2="261.4" stroke="#000" stroke-width="1.3" />
<line x1="367" y1="259" x2="367" y2="263.2" stroke="#000" stroke-width="1.6" />
<line x1="373.5" y1="259" x2="373.5" y2="261.4" stroke="#000" stroke-width="1.3" />
<line x1="380" y1="259" x2="380" y2="263.2" stroke="#000" stroke-width="1.6" />
<line x1="386.5" y1="259" x2="386.5" y2="261.4" stroke="#000" stroke-width="1.3" />
<line x1="393" y1="259" x2="393" y2="263.2" stroke="#000" stroke-width="1.6" />
<line x1="399.5" y1="259" x2="399.5" y2="261.4" stroke="#000" stroke-width="1.3" />
<line x1="406" y1="259" x2="406" y2="263.2" stroke="#000" stroke-width="1.6" />
<line x1="412.5" y1="259" x2="412.5" y2="261.4" stroke="#000" stroke-width="1.3" />
<line x1="419" y1="259" x2="419" y2="263.2" stroke="#000" stroke-width="1.6" />
<line x1="425.5" y1="259" x2="425.5" y2="261.4" stroke="#000" stroke-width="1.3" />
<line x1="432" y1="259" x2="432" y2="263.2" stroke="#000" stroke-width="1.6" />
<line x1="438.5" y1="259" x2="438.5" y2="261.4" stroke="#000" stroke-width="1.3" />
<line x1="445" y1="259" x2="445" y2="263.2" stroke="#000" stroke-width="1.6" />
<line x1="451.5" y1="259" x2="451.5" y2="261.4" stroke="#000" stroke-width="1.3" />
<line x1="458" y1="259" x2="458" y2="263.2" stroke="#000" stroke-width="1.6" />
<line x1="464.5" y1="259" x2="464.5" y2="261.4" stroke="#000" stroke-width="1.3" />
<line x1="471" y1="259" x2="471" y2="263.2" stroke="#000" stroke-width="1.6" />
<line x1="477.5" y1="259" x2="477.5" y2="261.4" stroke="#000" stroke-width="1.3" />
<line x1="484" y1="259" x2="484" y2="263.2" stroke="#000" stroke-width="1.6" />
<line x1="224" y1="48.84" x2="224" y2="260" stroke="#000" stroke-width="2.0" />
<line x1="223" y1="259" x2="485" y2="259" stroke="#000" stroke-width="2.0" />
<line x1="484" y1="133" x2="484" y2="259" stroke="#000" stroke-width="2.0" />
<line x1="223" y1="49.84" x2="323" y2="49.84" stroke="#000" stroke-width="2.0" />
<text x="217.6" y="262.94" font-family='"Liberation Sans", sans-serif' font-size="12.4" font-weight="bold" text-anchor="end" fill="#000" stroke="#000" stroke-width="0.3" >0</text>
<text x="217.6" y="233.89" font-family='"Liberation Sans", sans-serif' font-size="12.4" font-weight="bold" text-anchor="end" fill="#000" stroke="#000" stroke-width="0.3" >5</text>
<text x="217.6" y="204.84" font-family='"Liberation Sans", sans-serif' font-size="12.4" font-weight="bold" text-anchor="end" fill="#000" stroke="#000" stroke-width="0.3" >10</text>
<text x="217.6" y="175.79" font-family='"Liberation Sans", sans-serif' font-size="12.4" font-weight="bold" text-anchor="end" fill="#000" stroke="#000" stroke-width="0.3" >15</text>
<text x="217.6" y="146.74" font-family='"Liberation Sans", sans-serif' font-size="12.4" font-weight="bold" text-anchor="end" fill="#000" stroke="#000" stroke-width="0.3" >20</text>
<text x="217.6" y="117.69" font-family='"Liberation Sans", sans-serif' font-size="12.4" font-weight="bold" text-anchor="end" fill="#000" stroke="#000" stroke-width="0.3" >25</text>
<text x="217.6" y="88.64" font-family='"Liberation Sans", sans-serif' font-size="12.4" font-weight="bold" text-anchor="end" fill="#000" stroke="#000" stroke-width="0.3" >30</text>
<text x="217.6" y="59.59" font-family='"Liberation Sans", sans-serif' font-size="12.4" font-weight="bold" text-anchor="end" fill="#000" stroke="#000" stroke-width="0.3" >35</text>
<text transform="translate(228.3,266.3) rotate(-90)" font-family='"Liberation Sans", sans-serif' font-size="12.0" font-weight="bold" text-anchor="end" stroke="#000" stroke-width="0.3">0</text>
<text transform="translate(241.3,266.3) rotate(-90)" font-family='"Liberation Sans", sans-serif' font-size="12.0" font-weight="bold" text-anchor="end" stroke="#000" stroke-width="0.3">10</text>
<text transform="translate(254.3,266.3) rotate(-90)" font-family='"Liberation Sans", sans-serif' font-size="12.0" font-weight="bold" text-anchor="end" stroke="#000" stroke-width="0.3">20</text>
<text transform="translate(267.3,266.3) rotate(-90)" font-family='"Liberation Sans", sans-serif' font-size="12.0" font-weight="bold" text-anchor="end" stroke="#000" stroke-width="0.3">30</text>
<text transform="translate(280.3,266.3) rotate(-90)" font-family='"Liberation Sans", sans-serif' font-size="12.0" font-weight="bold" text-anchor="end" stroke="#000" stroke-width="0.3">40</text>
<text transform="translate(293.3,266.3) rotate(-90)" font-family='"Liberation Sans", sans-serif' font-size="12.0" font-weight="bold" text-anchor="end" stroke="#000" stroke-width="0.3">50</text>
<text transform="translate(306.3,266.3) rotate(-90)" font-family='"Liberation Sans", sans-serif' font-size="12.0" font-weight="bold" text-anchor="end" stroke="#000" stroke-width="0.3">60</text>
<text transform="translate(319.3,266.3) rotate(-90)" font-family='"Liberation Sans", sans-serif' font-size="12.0" font-weight="bold" text-anchor="end" stroke="#000" stroke-width="0.3">70</text>
<text transform="translate(332.3,266.3) rotate(-90)" font-family='"Liberation Sans", sans-serif' font-size="12.0" font-weight="bold" text-anchor="end" stroke="#000" stroke-width="0.3">80</text>
<text transform="translate(345.3,266.3) rotate(-90)" font-family='"Liberation Sans", sans-serif' font-size="12.0" font-weight="bold" text-anchor="end" stroke="#000" stroke-width="0.3">90</text>
<text transform="translate(358.3,266.3) rotate(-90)" font-family='"Liberation Sans", sans-serif' font-size="12.0" font-weight="bold" text-anchor="end" stroke="#000" stroke-width="0.3">100</text>
<text transform="translate(371.3,266.3) rotate(-90)" font-family='"Liberation Sans", sans-serif' font-size="12.0" font-weight="bold" text-anchor="end" stroke="#000" stroke-width="0.3">110</text>
<text transform="translate(384.3,266.3) rotate(-90)" font-family='"Liberation Sans", sans-serif' font-size="12.0" font-weight="bold" text-anchor="end" stroke="#000" stroke-width="0.3">120</text>
<text transform="translate(397.3,266.3) rotate(-90)" font-family='"Liberation Sans", sans-serif' font-size="12.0" font-weight="bold" text-anchor="end" stroke="#000" stroke-width="0.3">130</text>
<text transform="translate(410.3,266.3) rotate(-90)" font-family='"Liberation Sans", sans-serif' font-size="12.0" font-weight="bold" text-anchor="end" stroke="#000" stroke-width="0.3">140</text>
<text transform="translate(423.3,266.3) rotate(-90)" font-family='"Liberation Sans", sans-serif' font-size="12.0" font-weight="bold" text-anchor="end" stroke="#000" stroke-width="0.3">150</text>
<text transform="translate(436.3,266.3) rotate(-90)" font-family='"Liberation Sans", sans-serif' font-size="12.0" font-weight="bold" text-anchor="end" stroke="#000" stroke-width="0.3">160</text>
<text transform="translate(449.3,266.3) rotate(-90)" font-family='"Liberation Sans", sans-serif' font-size="12.0" font-weight="bold" text-anchor="end" stroke="#000" stroke-width="0.3">170</text>
<text transform="translate(462.3,266.3) rotate(-90)" font-family='"Liberation Sans", sans-serif' font-size="12.0" font-weight="bold" text-anchor="end" stroke="#000" stroke-width="0.3">180</text>
<text transform="translate(475.3,266.3) rotate(-90)" font-family='"Liberation Sans", sans-serif' font-size="12.0" font-weight="bold" text-anchor="end" stroke="#000" stroke-width="0.3">190</text>
<text transform="translate(488.3,266.3) rotate(-90)" font-family='"Liberation Sans", sans-serif' font-size="12.0" font-weight="bold" text-anchor="end" stroke="#000" stroke-width="0.3">200</text>
<line x1="294.8" y1="68.9" x2="338.01" y2="55.17" stroke="#111" stroke-width="1.1" />
<polygon points="344.2,53.2 337.84,57.95 336.26,52.99" fill="#111"/>
<path d="M370.3,119.5 370.9,117.1 371.4,114.8 372.0,112.6 372.6,110.4 373.2,108.2 373.7,106.2 374.3,104.2 374.9,102.2 375.4,100.2 376.0,98.3 376.6,96.4 377.1,94.5 377.7,92.7 378.3,90.9 378.8,89.2 379.4,87.6 380.0,86.1 380.5,84.6 381.1,83.2 381.7,82.0 382.2,80.8 382.8,79.8 383.4,78.9 383.9,78.0 384.5,77.2 385.1,76.3 385.6,75.5 386.2,74.7 386.8,74.0 387.3,73.3 387.9,72.7 389.0,71.8 390.2,71.4 391.3,71.5 392.4,71.8 393.6,72.3 394.7,72.9 395.8,73.7 397.0,74.4 398.1,75.3 399.2,76.4 399.8,77.1 400.4,77.7 400.9,78.5 401.5,79.2 402.1,80.0 402.6,80.9 403.2,81.7 403.8,82.6 404.3,83.5 404.9,84.5 405.5,85.5 406.0,86.6 406.6,87.8 407.2,89.0 407.7,90.3 408.3,91.7 408.9,93.1 409.4,94.5 410.0,96.0 410.6,97.6 411.1,99.3 411.7,101.2 412.3,103.2 412.9,105.3 413.4,107.5 414.0,109.7 414.6,112.0 415.1,114.3 415.7,116.7 416.3,119.2" fill="none" stroke="#000000" stroke-width="2.6" stroke-linejoin="round" stroke-linecap="round" clip-path="url(#cAi)"/>
<path d="M370.9,119.7 371.4,117.4 372.0,115.1 372.6,112.8 373.2,110.5 373.7,108.0 374.3,105.5 374.9,103.0 375.4,100.4 376.0,97.8 376.6,95.3 377.1,92.7 377.7,90.2 378.3,87.8 378.8,85.4 379.4,83.1 380.0,81.0 380.5,79.0 381.1,77.1 381.7,75.4 382.2,73.9 382.8,72.6 383.4,71.5 383.9,70.5 384.5,69.5 385.1,68.6 385.6,67.6 386.2,66.7 386.8,65.8 387.3,65.0 387.9,64.2 388.5,63.4 389.0,62.7 389.6,62.0 390.2,61.4 391.3,60.4 392.4,59.7 393.6,59.3 394.7,59.3 395.8,59.7 397.0,60.5 398.1,61.6 398.7,62.2 399.2,62.9 399.8,63.7 400.4,64.5 400.9,65.3 401.5,66.2 402.1,67.1 402.6,68.0 403.2,68.9 403.8,69.9 404.3,70.9 404.9,72.2 405.5,73.5 406.0,75.0 406.6,76.7 407.2,78.4 407.7,80.2 408.3,82.2 408.9,84.1 409.4,86.2 410.0,88.2 410.6,90.3 411.1,92.6 411.7,95.0 412.3,97.7 412.9,100.4 413.4,103.3 414.0,106.2 414.6,109.0 415.1,111.9 415.7,114.6 416.3,117.2 416.8,119.8" fill="none" stroke="#f80000" stroke-width="2.8" stroke-linejoin="round" stroke-linecap="round" clip-path="url(#cAi)"/>
<path d="M370.3,119.6 370.9,117.2 371.4,114.8 372.0,112.4 372.6,109.9 373.2,107.4 373.7,104.8 374.3,102.2 374.9,99.6 375.4,96.9 376.0,94.3 376.6,91.7 377.1,89.2 377.7,86.7 378.3,84.2 378.8,81.9 379.4,79.6 380.0,77.5 380.5,75.5 381.1,73.6 381.7,71.9 382.2,70.3 382.8,69.0 383.4,67.8 383.9,66.7 384.5,65.7 385.1,64.6 385.6,63.6 386.2,62.5 386.8,61.5 387.3,60.6 387.9,59.6 388.5,58.8 389.0,57.9 389.6,57.1 390.2,56.4 390.7,55.7 391.3,55.0 391.9,54.5 393.0,53.5 394.1,52.9 395.3,52.6 396.4,52.8 397.5,53.3 398.7,54.1 399.8,55.3 400.4,56.1 400.9,56.8 401.5,57.7 402.1,58.5 402.6,59.5 403.2,60.5 403.8,61.5 404.3,62.5 404.9,63.6 405.5,64.7 406.0,65.8 406.6,66.9 407.2,68.1 407.7,69.4 408.3,70.8 408.9,72.5 409.4,74.3 410.0,76.3 410.6,78.5 411.1,80.8 411.7,83.2 412.3,85.6 412.9,88.2 413.4,90.8 414.0,93.5 414.6,96.3 415.1,99.0 415.7,101.8 416.3,104.5 416.8,107.3 417.4,110.0 418.0,112.6 418.5,115.2 419.1,117.7 419.7,120.3" fill="none" stroke="#f80000" stroke-width="2.6" stroke-dasharray="4.8 8.6" stroke-linecap="round" stroke-linejoin="round" clip-path="url(#cAi)"/>
<path d="M368.6,119.0 369.2,116.2 369.7,113.4 370.3,110.6 370.9,107.7 371.4,104.8 372.0,101.8 372.6,98.7 373.2,95.6 373.7,92.5 374.3,89.4 374.9,86.3 375.4,83.2 376.0,80.2 376.6,77.2 377.1,74.2 377.7,71.4 378.3,68.7 378.8,66.1 379.4,63.6 380.0,61.3 380.5,59.1 381.1,57.1 381.7,55.3 382.2,53.7 382.8,52.4 383.4,51.2 383.9,50.2 384.5,49.2 385.1,48.2 385.6,47.3 386.2,46.3 386.8,45.4 387.3,44.6 387.9,43.7 388.5,42.9 389.0,42.1 389.6,41.4 390.2,40.7 390.7,40.1 391.3,39.5 392.4,38.5 393.6,37.8 394.7,37.3 395.8,37.2 397.0,37.4 398.1,38.1 399.2,39.3 399.8,40.0 400.4,40.8 400.9,41.7 401.5,42.7 402.1,43.7 402.6,44.8 403.2,45.9 403.8,47.1 404.3,48.4 404.9,49.6 405.5,50.9 406.0,52.2 406.6,53.6 407.2,54.9 407.7,56.2 408.3,57.6 408.9,58.9 409.4,60.3 410.0,61.8 410.6,63.4 411.1,65.0 411.7,66.8 412.3,68.7 412.9,70.6 413.4,72.6 414.0,74.7 414.6,76.9 415.1,79.1 415.7,81.4 416.3,83.7 416.8,86.1 417.4,88.5 418.0,91.0 418.5,93.5 419.1,96.0 419.7,98.6 420.2,101.1 420.8,103.7 421.4,106.3 421.9,108.9 422.5,111.5 423.1,114.1 423.6,116.8 424.2,119.4" fill="none" stroke="#0000e6" stroke-width="2.5" stroke-dasharray="0 5.9" stroke-linecap="round" clip-path="url(#cAi)"/>
<path d="M366.9,119.0 367.5,115.5 368.0,112.1 368.6,108.6 369.2,105.1 369.7,101.5 370.3,97.8 370.9,94.1 371.4,90.4 372.0,86.7 372.6,82.9 373.2,79.3 373.7,75.6 374.3,72.0 374.9,68.5 375.4,65.1 376.0,61.7 376.6,58.6 377.1,55.5 377.7,52.6 378.3,49.9 378.8,47.4 379.4,45.1 380.0,43.0 380.5,41.2 381.1,39.6 381.7,38.3 382.2,37.2 382.8,36.0 383.4,34.9 383.9,33.8 384.5,32.7 385.1,31.6 385.6,30.6 386.2,29.6 386.8,28.6 387.3,27.7 387.9,26.8 388.5,25.9 389.0,25.1 389.6,24.3 390.2,23.5 390.7,22.9 391.3,22.2 391.9,21.6 393.0,20.6 394.1,19.7 395.3,19.2 396.4,18.8 397.5,18.8 398.7,19.1 399.8,19.8 400.9,20.8 401.5,21.5 402.1,22.2 402.6,23.0 403.2,23.9 403.8,24.8 404.3,25.8 404.9,26.8 405.5,27.9 406.0,29.1 406.6,30.3 407.2,31.5 407.7,32.8 408.3,34.1 408.9,35.4 409.4,36.7 410.0,38.1 410.6,39.5 411.1,40.9 411.7,42.3 412.3,43.7 412.9,45.1 413.4,46.5 414.0,47.9 414.6,49.3 415.1,50.9 415.7,52.5 416.3,54.2 416.8,56.0 417.4,57.9 418.0,59.9 418.5,61.9 419.1,64.0 419.7,66.2 420.2,68.5 420.8,70.8 421.4,73.1 421.9,75.5 422.5,78.0 423.1,80.5 423.6,83.0 424.2,85.6 424.8,88.2 425.3,90.8 425.9,93.5 426.5,96.2 427.0,98.9 427.6,101.6 428.2,104.3 428.7,107.0 429.3,109.7 429.9,112.5 430.4,115.2 431.0,117.9 431.6,120.7" fill="none" stroke="#f80000" stroke-width="2.5" stroke-dasharray="0 5.9" stroke-linecap="round" clip-path="url(#cAi)"/>
<line x1="342.9" y1="115.8" x2="345.9" y2="115.8" stroke="#000" stroke-width="1.5" />
<text x="342" y="119.05" font-family='"Liberation Sans", sans-serif' font-size="10.2" font-weight="bold" text-anchor="end" fill="#000" textLength="10.8" lengthAdjust="spacingAndGlyphs" stroke="#000" stroke-width="0.3" >30</text>
<line x1="342.9" y1="78.97" x2="345.9" y2="78.97" stroke="#000" stroke-width="1.5" />
<text x="342" y="82.22" font-family='"Liberation Sans", sans-serif' font-size="10.2" font-weight="bold" text-anchor="end" fill="#000" textLength="10.8" lengthAdjust="spacingAndGlyphs" stroke="#000" stroke-width="0.3" >32</text>
<line x1="342.9" y1="42.13" x2="345.9" y2="42.13" stroke="#000" stroke-width="1.5" />
<text x="342" y="45.38" font-family='"Liberation Sans", sans-serif' font-size="10.2" font-weight="bold" text-anchor="end" fill="#000" textLength="10.8" lengthAdjust="spacingAndGlyphs" stroke="#000" stroke-width="0.3" >34</text>
<line x1="342.9" y1="5.3" x2="345.9" y2="5.3" stroke="#000" stroke-width="1.5" />
<text x="342" y="8.55" font-family='"Liberation Sans", sans-serif' font-size="10.2" font-weight="bold" text-anchor="end" fill="#000" textLength="10.8" lengthAdjust="spacingAndGlyphs" stroke="#000" stroke-width="0.3" >36</text>
<line x1="345.9" y1="115.8" x2="345.9" y2="117.8" stroke="#000" stroke-width="1.5" />
<text transform="translate(349.59,118.8) rotate(-90)" font-family='"Liberation Sans", sans-serif' font-size="10.3" font-weight="bold" text-anchor="end" stroke="#000" stroke-width="0.3" textLength="10.5" lengthAdjust="spacingAndGlyphs">10</text>
<line x1="379.9" y1="115.8" x2="379.9" y2="117.8" stroke="#000" stroke-width="1.5" />
<text transform="translate(383.59,118.8) rotate(-90)" font-family='"Liberation Sans", sans-serif' font-size="10.3" font-weight="bold" text-anchor="end" stroke="#000" stroke-width="0.3" textLength="10.5" lengthAdjust="spacingAndGlyphs">20</text>
<line x1="413.9" y1="115.8" x2="413.9" y2="117.8" stroke="#000" stroke-width="1.5" />
<text transform="translate(417.59,118.8) rotate(-90)" font-family='"Liberation Sans", sans-serif' font-size="10.3" font-weight="bold" text-anchor="end" stroke="#000" stroke-width="0.3" textLength="10.5" lengthAdjust="spacingAndGlyphs">30</text>
<line x1="447.9" y1="115.8" x2="447.9" y2="117.8" stroke="#000" stroke-width="1.5" />
<text transform="translate(451.59,118.8) rotate(-90)" font-family='"Liberation Sans", sans-serif' font-size="10.3" font-weight="bold" text-anchor="end" stroke="#000" stroke-width="0.3" textLength="10.5" lengthAdjust="spacingAndGlyphs">40</text>
<line x1="481.9" y1="115.8" x2="481.9" y2="117.8" stroke="#000" stroke-width="1.5" />
<text transform="translate(485.59,118.8) rotate(-90)" font-family='"Liberation Sans", sans-serif' font-size="10.3" font-weight="bold" text-anchor="end" stroke="#000" stroke-width="0.3" textLength="10.5" lengthAdjust="spacingAndGlyphs">50</text>
<rect x="345.9" y="5.3" width="136" height="110.5" fill="none" stroke="#000" stroke-width="2"/>
<line x1="370.9" y1="18.7" x2="393.5" y2="18.7" stroke="#777" stroke-width="1.0" />
<circle cx="397.2" cy="18.7" r="2.4" fill="#fff" stroke="#333" stroke-width="0.9"/>
<circle cx="395.9" cy="37.4" r="2.4" fill="#fff" stroke="#333" stroke-width="0.9"/>
<line x1="400.7" y1="52.6" x2="444.1" y2="52.6" stroke="#222" stroke-width="1.0" />
<circle cx="395.9" cy="52.6" r="2.4" fill="#fff" stroke="#333" stroke-width="0.9"/>
<line x1="371" y1="59.2" x2="392" y2="59.2" stroke="#222" stroke-width="1.0" />
<circle cx="394.3" cy="59.3" r="2.4" fill="#fff" stroke="#333" stroke-width="0.9"/>
<line x1="393" y1="71.3" x2="432.2" y2="71.3" stroke="#222" stroke-width="1.0" />
<circle cx="390.4" cy="71.3" r="2.4" fill="#fff" stroke="#333" stroke-width="0.9"/>
<text x="349.9" y="21.6" font-family='"Liberation Sans", sans-serif' font-size="8.2" font-weight="bold" text-anchor="start" fill="#000" textLength="19.8" lengthAdjust="spacingAndGlyphs" stroke="#000" stroke-width="0.12" >35.27</text>
<text x="421.8" y="40.2" font-family='"Liberation Sans", sans-serif' font-size="8.2" font-weight="bold" text-anchor="start" fill="#000" textLength="21.1" lengthAdjust="spacingAndGlyphs" stroke="#000" stroke-width="0.12" >34.27</text>
<text x="447.1" y="55.6" font-family='"Liberation Sans", sans-serif' font-size="8.2" font-weight="bold" text-anchor="start" fill="#000" textLength="21.1" lengthAdjust="spacingAndGlyphs" stroke="#000" stroke-width="0.12" >33.43</text>
<text x="349.9" y="62.2" font-family='"Liberation Sans", sans-serif' font-size="8.2" font-weight="bold" text-anchor="start" fill="#000" textLength="19.8" lengthAdjust="spacingAndGlyphs" stroke="#000" stroke-width="0.12" >33.07</text>
<text x="433.7" y="74.3" font-family='"Liberation Sans", sans-serif' font-size="8.2" font-weight="bold" text-anchor="start" fill="#000" textLength="20.4" lengthAdjust="spacingAndGlyphs" stroke="#000" stroke-width="0.12" >32.41</text>
<rect x="372.3" y="181.4" width="101.9" height="73" fill="#fff" stroke="#222" stroke-width="1.4"/>
<line x1="372.8" y1="188.9" x2="400.3" y2="188.9" stroke="#000000" stroke-width="2.9"/>
<text x="403.4" y="192.19" font-family='"Liberation Sans", sans-serif' font-size="9.2" font-weight="bold" text-anchor="start" fill="#000" textLength="13.4" lengthAdjust="spacingAndGlyphs" stroke="#000" stroke-width="0.3" >BC</text>
<circle cx="373.1" cy="203.4" r="1.4" fill="#0000e6"/>
<circle cx="377.9" cy="203.4" r="1.4" fill="#0000e6"/>
<circle cx="382.7" cy="203.4" r="1.4" fill="#0000e6"/>
<circle cx="387.5" cy="203.4" r="1.4" fill="#0000e6"/>
<circle cx="392.3" cy="203.4" r="1.4" fill="#0000e6"/>
<circle cx="397.1" cy="203.4" r="1.4" fill="#0000e6"/>
<text x="403.4" y="206.69" font-family='"Liberation Sans", sans-serif' font-size="9.2" font-weight="bold" text-anchor="start" fill="#000" textLength="68.4" lengthAdjust="spacingAndGlyphs" stroke="#000" stroke-width="0.3" >S2O-0.75-0.4h</text>
<line x1="372.8" y1="217.8" x2="400.3" y2="217.8" stroke="#f80000" stroke-width="3.2"/>
<text x="403.4" y="221.09" font-family='"Liberation Sans", sans-serif' font-size="9.2" font-weight="bold" text-anchor="start" fill="#000" textLength="68.4" lengthAdjust="spacingAndGlyphs" stroke="#000" stroke-width="0.3" >S2O-1.0h-0.2h</text>
<line x1="373.9" y1="232.2" x2="378.5" y2="232.2" stroke="#f80000" stroke-width="3.2" stroke-linecap="round"/>
<line x1="387.1" y1="232.2" x2="391.7" y2="232.2" stroke="#f80000" stroke-width="3.2" stroke-linecap="round"/>
<text x="403.4" y="235.49" font-family='"Liberation Sans", sans-serif' font-size="9.2" font-weight="bold" text-anchor="start" fill="#000" textLength="68.4" lengthAdjust="spacingAndGlyphs" stroke="#000" stroke-width="0.3" >S2O-1.0h-0.3h</text>
<circle cx="373.1" cy="246.6" r="1.4" fill="#f80000"/>
<circle cx="377.9" cy="246.6" r="1.4" fill="#f80000"/>
<circle cx="382.7" cy="246.6" r="1.4" fill="#f80000"/>
<circle cx="387.5" cy="246.6" r="1.4" fill="#f80000"/>
<circle cx="392.3" cy="246.6" r="1.4" fill="#f80000"/>
<circle cx="397.1" cy="246.6" r="1.4" fill="#f80000"/>
<text x="403.4" y="249.89" font-family='"Liberation Sans", sans-serif' font-size="9.2" font-weight="bold" text-anchor="start" fill="#000" textLength="68.4" lengthAdjust="spacingAndGlyphs" stroke="#000" stroke-width="0.3" >S2O-1.0h-0.4h</text>
<text transform="translate(197.1,154.3) rotate(-90)" font-family='"Liberation Sans", sans-serif' font-size="14.1" font-weight="bold" text-anchor="middle" textLength="118.4" lengthAdjust="spacingAndGlyphs" stroke="#000" stroke-width="0.4">Deflection (mm)</text>
<text x="318.9" y="300.7" font-family='"Liberation Sans", sans-serif' font-size="13.8" font-weight="bold" text-anchor="start" fill="#000" textLength="72.2" lengthAdjust="spacingAndGlyphs" stroke="#000" stroke-width="0.4" >Time (ms)</text>
<defs><clipPath id="cB1"><rect x="39.4" y="336" width="264" height="213"/></clipPath></defs>
<path d="M39.4,548.5 39.8,547.8 40.3,546.9 40.7,545.9 41.2,544.7 41.6,543.4 42.0,542.0 42.5,540.5 42.7,539.6 42.9,538.7 43.1,537.7 43.4,536.7 43.6,535.6 43.8,534.5 44.0,533.4 44.2,532.3 44.5,531.2 44.7,530.0 44.9,528.9 45.1,527.7 45.3,526.5 45.6,525.3 45.8,524.0 46.0,522.7 46.2,521.4 46.4,520.1 46.7,518.7 46.9,517.4 47.1,516.0 47.3,514.6 47.5,513.2 47.8,511.7 48.0,510.3 48.2,508.9 48.4,507.4 48.6,505.9 48.9,504.4 49.1,502.9 49.3,501.4 49.5,499.9 49.7,498.3 50.0,496.6 50.2,495.0 50.4,493.3 50.6,491.7 50.8,490.0 51.1,488.3 51.3,486.6 51.5,484.8 51.7,483.1 51.9,481.5 52.2,479.8 52.4,478.1 52.6,476.5 52.8,474.8 53.0,473.2 53.3,471.5 53.5,469.9 53.7,468.3 53.9,466.7 54.1,465.0 54.4,463.4 54.6,461.8 54.8,460.2 55.0,458.6 55.2,456.9 55.5,455.3 55.7,453.7 55.9,452.1 56.1,450.5 56.3,448.8 56.6,447.1 56.8,445.4 57.0,443.7 57.2,442.0 57.4,440.2 57.7,438.5 57.9,436.7 58.1,435.0 58.3,433.3 58.5,431.7 58.8,430.1 59.0,428.6 59.2,427.1 59.4,425.7 59.6,424.3 59.9,423.1 60.1,421.8 60.3,420.6 60.5,419.3 60.7,418.0 61.0,416.8 61.2,415.6 61.4,414.4 61.6,413.2 61.9,412.1 62.1,411.0 62.3,409.9 62.5,408.9 62.7,408.0 63.0,407.2 63.2,406.4 63.6,405.1 64.1,404.1 64.5,403.4 64.9,402.8 65.6,401.8 66.3,401.0 66.9,400.3 67.6,399.7 68.2,399.2 69.1,398.9 70.0,398.8 70.9,399.2 71.5,399.7 72.2,400.3 72.9,401.0 73.5,401.6 74.2,402.3 74.8,403.0 75.5,403.8 76.2,404.7 76.8,405.6 77.3,406.3 77.7,407.0 78.1,407.7 78.6,408.5 79.0,409.2 79.5,410.1 79.9,411.0 80.3,411.9 80.8,413.0 81.2,414.0 81.7,415.1 82.1,416.3 82.5,417.4 83.0,418.6 83.4,419.8 83.9,420.9 84.3,422.2 84.7,423.4 85.2,424.7 85.6,426.0 86.1,427.3 86.5,428.7 86.9,430.0 87.4,431.4 87.8,432.7 88.3,434.0 88.7,435.4 89.1,436.8 89.6,438.3 90.0,439.8 90.5,441.2 90.9,442.7 91.3,444.1 91.8,445.6 92.2,447.0 92.7,448.3 93.1,449.6 93.5,450.8 94.0,452.0 94.4,453.1 94.9,454.0 95.3,455.0 95.7,455.9 96.2,456.8 96.6,457.7 97.1,458.6 97.5,459.4 97.9,460.2 98.4,460.9 99.0,461.8 99.7,462.4 100.6,463.0 101.5,463.4 102.3,463.8 103.2,464.2 104.1,464.4 105.0,464.5 105.9,464.5 106.8,464.3 107.6,463.9 108.5,463.4 109.2,462.9 109.8,462.4 110.5,461.9 111.2,461.4 111.8,461.0 112.5,460.5 113.1,459.9 113.8,459.3 114.5,458.7 115.1,458.0 115.8,457.3 116.4,456.6 117.1,455.9 117.8,455.2 118.4,454.6 119.1,454.0 119.7,453.4 120.4,453.0 121.3,452.5 122.2,452.1 123.0,451.8 123.9,451.4 124.8,451.1 125.7,450.8 126.6,450.6 127.4,450.4 128.3,450.3 129.2,450.2 130.1,450.3 131.0,450.5 131.8,450.8 132.7,451.1 133.6,451.5 134.5,452.0 135.4,452.4 136.2,452.9 137.1,453.3 138.0,453.8 138.9,454.2 139.8,454.6 140.6,455.1 141.5,455.6 142.4,456.1 143.3,456.7 144.2,457.2 145.0,457.8 145.9,458.3 146.8,458.8 147.7,459.2 148.6,459.6 149.5,459.9 150.3,460.2 151.2,460.3 152.1,460.4 153.0,460.4 153.9,460.3 154.7,460.3 155.6,460.2 156.5,460.1 157.4,460.0 158.3,459.8 159.1,459.7 160.0,459.6 160.9,459.4 161.8,459.3 162.7,459.1 163.5,458.8 164.4,458.6 165.3,458.3 166.2,458.0 167.1,457.7 167.9,457.4 168.8,457.2 169.7,457.0 170.6,456.8 171.5,456.7 172.3,456.6 173.2,456.5 174.1,456.5 175.0,456.4 175.9,456.3 176.7,456.3 177.6,456.3 178.5,456.2 179.4,456.2 180.3,456.3 181.1,456.3 182.0,456.4 182.9,456.5 183.8,456.6 184.7,456.7 185.5,456.9 186.4,457.0 187.3,457.2 188.2,457.3 189.1,457.4 189.9,457.5 190.8,457.6 191.7,457.7 192.6,457.7 193.5,457.8 194.4,457.8 195.2,457.9 196.1,457.9 197.0,458.0 197.9,458.0 198.8,458.1 199.6,458.1 200.5,458.2 201.4,458.2 202.3,458.3 203.2,458.3 204.0,458.3 204.9,458.4 205.8,458.4 206.7,458.4 207.6,458.5 208.4,458.5 209.3,458.5 210.2,458.5 211.1,458.5 212.0,458.6 212.8,458.6 213.7,458.6 214.6,458.6 215.5,458.6 216.4,458.6 217.2,458.7 218.1,458.7 219.0,458.7 219.9,458.7 220.8,458.7 221.6,458.7 222.5,458.7 223.4,458.8 224.3,458.8 225.2,458.8 226.0,458.8 226.9,458.8 227.8,458.8 228.7,458.9 229.6,458.9 230.4,458.9 231.3,458.9 232.2,458.9 233.1,458.9 234.0,458.9 234.8,458.9 235.7,459.0 236.6,459.0 237.5,459.0 238.4,459.0 239.3,459.0 240.1,459.0 241.0,459.0 241.9,459.0 242.8,459.1 243.7,459.1 244.5,459.1 245.4,459.1 246.3,459.1 247.2,459.1 248.1,459.1 248.9,459.1 249.8,459.1 250.7,459.2 251.6,459.2 252.5,459.2 253.3,459.2 254.2,459.2 255.1,459.2 256.0,459.2 256.9,459.2 257.7,459.2 258.6,459.2 259.5,459.2 260.4,459.3 261.3,459.3 262.1,459.3 263.0,459.3 263.9,459.3 264.8,459.3 265.7,459.3 266.5,459.3 267.4,459.3 268.3,459.3 269.2,459.3 270.1,459.3 270.9,459.3 271.8,459.3 272.7,459.4 273.6,459.4 274.5,459.4 275.3,459.4 276.2,459.4 277.1,459.4 278.0,459.4 278.9,459.4 279.7,459.4 280.6,459.4 281.5,459.4 282.4,459.4 283.3,459.4 284.2,459.4 285.0,459.4 285.9,459.4 286.8,459.4 287.7,459.4 288.6,459.4 289.4,459.4 290.3,459.4 291.2,459.4 292.1,459.4 293.0,459.5 293.8,459.5 294.7,459.5 295.6,459.5 296.5,459.5 297.4,459.5 298.2,459.5 299.1,459.5 300.0,459.5 300.9,459.5 301.8,459.5 302.6,459.5 303.3,459.5" fill="none" stroke="#000000" stroke-width="2.8" stroke-linejoin="round" stroke-linecap="round" clip-path="url(#cB1)"/>
<path d="M39.4,548.5 40.3,548.5 41.2,548.3 42.0,548.1 42.9,547.7 43.8,547.3 44.7,546.8 45.6,546.2 46.2,545.3 46.7,544.1 47.1,542.7 47.3,541.9 47.5,541.1 47.8,540.2 48.0,539.4 48.2,538.5 48.4,537.7 48.6,536.9 48.9,536.2 49.1,535.4 49.3,534.6 49.5,533.7 49.7,532.9 50.0,532.0 50.2,531.1 50.4,530.2 50.6,529.3 50.8,528.4 51.1,527.5 51.3,526.6 51.5,525.6 51.7,524.7 51.9,523.7 52.2,522.7 52.4,521.7 52.6,520.8 52.8,519.8 53.0,518.8 53.3,517.8 53.5,516.8 53.7,515.7 53.9,514.7 54.1,513.6 54.4,512.6 54.6,511.5 54.8,510.4 55.0,509.3 55.2,508.2 55.5,507.1 55.7,506.0 55.9,504.9 56.1,503.8 56.3,502.7 56.6,501.5 56.8,500.4 57.0,499.3 57.2,498.1 57.4,497.0 57.7,495.9 57.9,494.7 58.1,493.6 58.3,492.4 58.5,491.3 58.8,490.2 59.0,489.0 59.2,487.9 59.4,486.8 59.6,485.7 59.9,484.5 60.1,483.4 60.3,482.2 60.5,481.1 60.7,479.9 61.0,478.7 61.2,477.5 61.4,476.3 61.6,475.1 61.9,473.9 62.1,472.6 62.3,471.4 62.5,470.2 62.7,469.0 63.0,467.8 63.2,466.6 63.4,465.5 63.6,464.3 63.8,463.1 64.1,462.0 64.3,460.9 64.5,459.8 64.7,458.8 64.9,457.7 65.2,456.7 65.4,455.7 65.6,454.8 65.8,453.8 66.0,452.9 66.3,452.0 66.5,451.1 66.7,450.2 66.9,449.3 67.1,448.4 67.4,447.5 67.6,446.6 67.8,445.7 68.0,444.9 68.2,444.0 68.5,443.2 68.7,442.3 68.9,441.5 69.1,440.7 69.3,440.0 69.8,438.5 70.2,437.1 70.7,435.8 71.1,434.7 71.5,433.6 72.0,432.7 72.4,432.0 72.9,431.2 73.3,430.5 74.0,429.5 74.6,428.6 75.3,427.8 75.9,427.0 76.6,426.3 77.3,425.6 77.9,425.0 78.6,424.3 79.2,423.7 79.9,423.0 80.6,422.4 81.2,421.7 81.9,421.0 82.5,420.4 83.2,419.8 83.9,419.2 84.5,418.6 85.2,418.0 85.8,417.4 86.5,416.9 87.2,416.4 87.8,415.8 88.5,415.2 89.1,414.6 89.8,414.0 90.5,413.4 91.1,412.8 91.8,412.3 92.4,411.9 93.3,411.3 94.2,411.0 95.1,410.8 96.0,410.9 96.8,411.4 97.5,412.0 98.2,412.6 98.8,413.4 99.5,414.1 100.1,414.8 100.8,415.4 101.5,416.1 102.1,416.9 102.8,417.6 103.4,418.4 104.1,419.2 104.8,420.1 105.4,420.9 106.1,421.8 106.8,422.6 107.4,423.5 108.1,424.3 108.7,425.2 109.4,426.0 110.1,426.8 110.7,427.6 111.4,428.4 112.0,429.2 112.7,430.0 113.4,430.8 114.0,431.6 114.7,432.3 115.3,433.1 116.0,433.9 116.7,434.7 117.3,435.4 118.0,436.2 118.6,436.9 119.3,437.7 120.0,438.4 120.6,439.2 121.3,439.9 121.9,440.6 122.6,441.3 123.3,441.9 123.9,442.4 124.6,442.9 125.2,443.4 126.1,444.0 127.0,444.6 127.9,445.1 128.8,445.6 129.6,446.1 130.5,446.5 131.4,447.0 132.3,447.5 133.2,448.0 134.0,448.5 134.9,449.0 135.8,449.6 136.7,450.1 137.6,450.6 138.4,451.2 139.3,451.7 140.2,452.2 141.1,452.7 142.0,453.1 142.8,453.6 143.7,453.9 144.6,454.3 145.5,454.6 146.4,454.8 147.2,455.1 148.1,455.4 149.0,455.6 149.9,455.9 150.8,456.1 151.7,456.3 152.5,456.5 153.4,456.7 154.3,456.9 155.2,457.1 156.1,457.3 156.9,457.5 157.8,457.6 158.7,457.7 159.6,457.9 160.5,458.0 161.3,458.1 162.2,458.2 163.1,458.2 164.0,458.3 164.9,458.4 165.7,458.5 166.6,458.5 167.5,458.6 168.4,458.7 169.3,458.7 170.1,458.8 171.0,458.8 171.9,458.9 172.8,458.9 173.7,459.0 174.5,459.0 175.4,459.1 176.3,459.1 177.2,459.2 178.1,459.2 178.9,459.2 179.8,459.3 180.7,459.3 181.6,459.3 182.5,459.4 183.3,459.4 184.2,459.5 185.1,459.5 186.0,459.5 186.9,459.5 187.7,459.6 188.6,459.6 189.5,459.6 190.4,459.7 191.3,459.7 192.1,459.7 193.0,459.8 193.9,459.8 194.8,459.8 195.7,459.8 196.6,459.9 197.4,459.9 198.3,459.9 199.2,459.9 200.1,460.0 201.0,460.0 201.8,460.0 202.7,460.0 203.6,460.1 204.5,460.1 205.4,460.1 206.2,460.1 207.1,460.2 208.0,460.2 208.9,460.2 209.8,460.2 210.6,460.2 211.5,460.3 212.4,460.3 213.3,460.3 214.2,460.3 215.0,460.3 215.9,460.4 216.8,460.4 217.7,460.4 218.6,460.4 219.4,460.4 220.3,460.5 221.2,460.5 222.1,460.5 223.0,460.5 223.8,460.5 224.7,460.6 225.6,460.6 226.5,460.6 227.4,460.6 228.2,460.6 229.1,460.7 230.0,460.7 230.9,460.7 231.8,460.7 232.6,460.7 233.5,460.8 234.4,460.8 235.3,460.8 236.2,460.8 237.0,460.8 237.9,460.9 238.8,460.9 239.7,460.9 240.6,460.9 241.5,460.9 242.3,461.0 243.2,461.0 244.1,461.0 245.0,461.0 245.9,461.0 246.7,461.1 247.6,461.1 248.5,461.1 249.4,461.1 250.3,461.1 251.1,461.2 252.0,461.2 252.9,461.2 253.8,461.2 254.7,461.2 255.5,461.3 256.4,461.3 257.3,461.3 258.2,461.3 259.1,461.3 259.9,461.4 260.8,461.4 261.7,461.4 262.6,461.4 263.5,461.4 264.3,461.5 265.2,461.5 266.1,461.5 267.0,461.5 267.9,461.5 268.7,461.5 269.6,461.6 270.5,461.6 271.4,461.6 272.3,461.6 273.1,461.6 274.0,461.7 274.9,461.7 275.8,461.7 276.7,461.7 277.5,461.7 278.4,461.8 279.3,461.8 280.2,461.8 281.1,461.8 282.0,461.8 282.8,461.8 283.7,461.9 284.6,461.9 285.5,461.9 286.4,461.9 287.2,461.9 288.1,461.9 289.0,462.0 289.9,462.0 290.8,462.0 291.6,462.0 292.5,462.0 293.4,462.0 294.3,462.1 295.2,462.1 296.0,462.1 296.9,462.1 297.8,462.1 298.7,462.1 299.6,462.2 300.4,462.2 301.3,462.2 302.2,462.2 303.1,462.2 303.3,462.2" fill="none" stroke="#f80000" stroke-width="3.3" stroke-linejoin="round" stroke-linecap="round" clip-path="url(#cB1)"/>
<path d="M39.4,548.5 40.3,548.3 41.2,547.8 41.8,547.3 42.5,546.7 43.1,545.9 43.8,545.1 44.5,544.1 44.9,543.0 45.3,541.7 45.8,540.1 46.0,539.2 46.2,538.4 46.4,537.4 46.7,536.5 46.9,535.5 47.1,534.5 47.3,533.6 47.5,532.6 47.8,531.6 48.0,530.6 48.2,529.6 48.4,528.6 48.6,527.7 48.9,526.8 49.1,525.8 49.3,524.8 49.5,523.8 49.7,522.8 50.0,521.7 50.2,520.6 50.4,519.5 50.6,518.5 50.8,517.4 51.1,516.3 51.3,515.2 51.5,514.1 51.7,513.0 51.9,511.9 52.2,510.8 52.4,509.8 52.6,508.8 52.8,507.8 53.0,506.7 53.3,505.7 53.5,504.7 53.7,503.7 53.9,502.7 54.1,501.8 54.4,500.8 54.6,499.8 54.8,498.8 55.0,497.8 55.2,496.8 55.5,495.9 55.7,494.9 55.9,493.9 56.1,492.9 56.3,492.0 56.6,491.0 56.8,490.0 57.0,489.1 57.2,488.1 57.4,487.2 57.7,486.2 57.9,485.2 58.1,484.3 58.3,483.3 58.5,482.4 58.8,481.4 59.0,480.5 59.2,479.5 59.4,478.6 59.6,477.6 59.9,476.7 60.1,475.8 60.3,474.8 60.5,473.9 60.7,472.9 61.0,472.0 61.2,471.1 61.4,470.1 61.6,469.2 61.9,468.2 62.1,467.3 62.3,466.3 62.5,465.4 62.7,464.4 63.0,463.5 63.2,462.5 63.4,461.5 63.6,460.6 63.8,459.6 64.1,458.6 64.3,457.7 64.5,456.7 64.7,455.7 64.9,454.8 65.2,453.8 65.4,452.8 65.6,451.9 65.8,450.9 66.0,450.0 66.3,449.0 66.5,448.0 66.7,447.1 66.9,446.1 67.1,445.2 67.4,444.2 67.6,443.2 67.8,442.2 68.0,441.2 68.2,440.2 68.5,439.2 68.7,438.3 68.9,437.3 69.1,436.4 69.3,435.6 69.6,434.8 69.8,434.0 70.2,432.5 70.7,431.1 71.1,429.7 71.5,428.4 72.0,427.1 72.4,425.9 72.9,424.8 73.3,423.8 73.7,423.0 74.2,422.2 74.6,421.4 75.1,420.7 75.5,420.0 76.2,419.1 76.8,418.2 77.5,417.4 78.1,416.6 78.8,415.8 79.5,415.1 80.1,414.3 80.8,413.6 81.4,412.8 82.1,412.0 82.8,411.2 83.4,410.4 84.1,409.5 84.7,408.7 85.4,407.8 86.1,407.0 86.7,406.2 87.4,405.5 88.0,404.7 88.7,404.1 89.4,403.3 90.0,402.6 90.7,401.8 91.3,401.2 92.0,400.6 92.9,400.1 93.8,400.0 94.6,400.1 95.5,400.5 96.4,401.0 97.1,401.5 97.7,402.0 98.4,402.4 99.0,402.9 99.7,403.4 100.4,404.0 101.0,404.7 101.7,405.4 102.3,406.1 103.0,406.9 103.7,407.6 104.3,408.4 105.0,409.2 105.7,410.0 106.3,410.8 107.0,411.7 107.6,412.6 108.3,413.5 109.0,414.4 109.6,415.2 110.3,415.9 110.9,416.6 111.6,417.3 112.3,417.9 112.9,418.5 113.6,419.1 114.2,419.7 114.9,420.3 115.6,420.9 116.2,421.4 116.9,422.0 117.5,422.5 118.2,423.1 118.9,423.6 119.5,424.1 120.2,424.7 120.8,425.2 121.5,425.6 122.2,426.1 123.0,426.7 123.9,427.2 124.8,427.7 125.7,428.2 126.6,428.6 127.4,429.0 128.3,429.4 129.2,429.8 130.1,430.2 131.0,430.5 131.8,430.9 132.7,431.2 133.6,431.5 134.5,431.8 135.4,432.2 136.2,432.5 137.1,432.8 138.0,433.1 138.9,433.4 139.8,433.7 140.6,433.9 141.5,434.2 142.4,434.4 143.3,434.6 144.2,434.8 145.0,435.0 145.9,435.2 146.8,435.4 147.7,435.5 148.6,435.7 149.5,435.8 150.3,436.0 151.2,436.1 152.1,436.2 153.0,436.4 153.9,436.5 154.7,436.6 155.6,436.7 156.5,436.8 157.4,436.9 158.3,437.0 159.1,437.1 160.0,437.2 160.9,437.3 161.8,437.4 162.7,437.5 163.5,437.6 164.4,437.7 165.3,437.8 166.2,437.9 167.1,437.9 167.9,438.0 168.8,438.1 169.7,438.2 170.6,438.3 171.5,438.4 172.3,438.4 173.2,438.5 174.1,438.6 175.0,438.6 175.9,438.7 176.7,438.8 177.6,438.8 178.5,438.9 179.4,438.9 180.3,439.0 181.1,439.0 182.0,439.1 182.9,439.1 183.8,439.1 184.7,439.2 185.5,439.2 186.4,439.2 187.3,439.2 188.2,439.3 189.1,439.3 189.9,439.3 190.8,439.3 191.7,439.4 192.6,439.4 193.5,439.4 194.4,439.4 195.2,439.4 196.1,439.5 197.0,439.5 197.9,439.5 198.8,439.5 199.6,439.5 200.5,439.5 201.4,439.6 202.3,439.6 203.2,439.6 204.0,439.6 204.9,439.6 205.8,439.6 206.7,439.6 207.6,439.7 208.4,439.7 209.3,439.7 210.2,439.7 211.1,439.7 212.0,439.7 212.8,439.7 213.7,439.7 214.6,439.8 215.5,439.8 216.4,439.8 217.2,439.8 218.1,439.8 219.0,439.8 219.9,439.8 220.8,439.8 221.6,439.8 222.5,439.9 223.4,439.9 224.3,439.9 225.2,439.9 226.0,439.9 226.9,439.9 227.8,439.9 228.7,439.9 229.6,440.0 230.4,440.0 231.3,440.0 232.2,440.0 233.1,440.0 234.0,440.0 234.8,440.0 235.7,440.1 236.6,440.1 237.5,440.1 238.4,440.1 239.3,440.1 240.1,440.1 241.0,440.2 241.9,440.2 242.8,440.2 243.7,440.2 244.5,440.2 245.4,440.2 246.3,440.3 247.2,440.3 248.1,440.3 248.9,440.3 249.8,440.3 250.7,440.3 251.6,440.4 252.5,440.4 253.3,440.4 254.2,440.4 255.1,440.4 256.0,440.5 256.9,440.5 257.7,440.5 258.6,440.5 259.5,440.5 260.4,440.5 261.3,440.6 262.1,440.6 263.0,440.6 263.9,440.6 264.8,440.6 265.7,440.6 266.5,440.7 267.4,440.7 268.3,440.7 269.2,440.7 270.1,440.7 270.9,440.8 271.8,440.8 272.7,440.8 273.6,440.8 274.5,440.8 275.3,440.9 276.2,440.9 277.1,440.9 278.0,440.9 278.9,440.9 279.7,440.9 280.6,441.0 281.5,441.0 282.4,441.0 283.3,441.0 284.2,441.0 285.0,441.1 285.9,441.1 286.8,441.1 287.7,441.1 288.6,441.1 289.4,441.2 290.3,441.2 291.2,441.2 292.1,441.2 293.0,441.2 293.8,441.3 294.7,441.3 295.6,441.3 296.5,441.3 297.4,441.3 298.2,441.4 299.1,441.4 300.0,441.4 300.9,441.4 301.8,441.4 302.6,441.5 303.3,441.5" fill="none" stroke="#0000e6" stroke-width="3.3" stroke-linejoin="round" stroke-linecap="round" clip-path="url(#cB1)"/>
<path d="M39.4,548.5 40.3,548.4 41.2,548.2 42.0,547.8 42.9,547.3 43.6,546.9 44.2,546.3 44.9,545.8 45.6,544.7 46.0,543.4 46.4,541.8 46.7,540.9 46.9,540.0 47.1,539.0 47.3,538.0 47.5,536.9 47.8,535.9 48.0,534.9 48.2,533.8 48.4,532.8 48.6,531.9 48.9,530.9 49.1,529.9 49.3,528.8 49.5,527.8 49.7,526.6 50.0,525.5 50.2,524.4 50.4,523.2 50.6,522.0 50.8,520.9 51.1,519.7 51.3,518.5 51.5,517.3 51.7,516.1 51.9,514.9 52.2,513.8 52.4,512.7 52.6,511.5 52.8,510.4 53.0,509.3 53.3,508.2 53.5,507.1 53.7,506.0 53.9,504.9 54.1,503.8 54.4,502.7 54.6,501.6 54.8,500.5 55.0,499.4 55.2,498.4 55.5,497.3 55.7,496.2 55.9,495.1 56.1,494.0 56.3,493.0 56.6,491.9 56.8,490.9 57.0,489.8 57.2,488.8 57.4,487.7 57.7,486.7 57.9,485.7 58.1,484.7 58.3,483.7 58.5,482.7 58.8,481.7 59.0,480.7 59.2,479.7 59.4,478.8 59.6,477.8 59.9,476.8 60.1,475.9 60.3,474.9 60.5,474.0 60.7,473.0 61.0,472.1 61.2,471.1 61.4,470.2 61.6,469.2 61.9,468.3 62.1,467.3 62.3,466.3 62.5,465.4 62.7,464.4 63.0,463.5 63.2,462.5 63.4,461.6 63.6,460.7 63.8,459.7 64.1,458.8 64.3,457.9 64.5,456.9 64.7,456.0 64.9,455.1 65.2,454.1 65.4,453.2 65.6,452.2 65.8,451.2 66.0,450.2 66.3,449.2 66.5,448.2 66.7,447.1 66.9,446.0 67.1,444.9 67.4,443.7 67.6,442.5 67.8,441.3 68.0,440.0 68.2,438.8 68.5,437.5 68.7,436.2 68.9,435.0 69.1,433.8 69.3,432.6 69.6,431.4 69.8,430.3 70.0,429.2 70.2,428.2 70.4,427.3 70.7,426.3 70.9,425.3 71.1,424.4 71.3,423.4 71.5,422.5 71.8,421.6 72.0,420.7 72.2,419.9 72.4,419.1 72.6,418.2 72.9,417.5 73.3,416.0 73.7,414.6 74.2,413.4 74.6,412.2 75.1,411.0 75.5,409.9 75.9,408.9 76.4,407.9 76.8,406.9 77.3,406.0 77.7,405.0 78.1,404.2 78.6,403.3 79.0,402.4 79.5,401.5 79.9,400.7 80.3,399.9 80.8,399.1 81.2,398.3 81.7,397.6 82.1,396.8 82.5,396.1 83.0,395.4 83.4,394.7 83.9,394.0 84.3,393.3 84.7,392.6 85.2,391.9 85.6,391.1 86.1,390.4 86.5,389.7 86.9,389.0 87.4,388.3 87.8,387.5 88.3,386.7 88.7,385.9 89.1,385.0 89.6,384.2 90.0,383.4 90.5,382.6 90.9,381.8 91.3,381.2 92.0,380.3 92.7,379.6 93.3,378.9 94.0,378.3 94.6,377.7 95.3,377.1 96.2,376.6 97.1,376.4 97.9,376.5 98.8,376.7 99.7,377.1 100.6,377.5 101.5,378.0 102.3,378.5 103.2,379.0 104.1,379.6 104.8,380.1 105.4,380.6 106.1,381.2 106.8,381.8 107.4,382.4 108.1,383.0 108.7,383.6 109.4,384.1 110.1,384.7 110.7,385.2 111.4,385.7 112.3,386.3 113.1,386.8 114.0,387.3 114.9,387.7 115.8,388.1 116.7,388.5 117.5,388.9 118.4,389.2 119.3,389.6 120.2,390.0 121.1,390.4 121.9,390.8 122.8,391.3 123.7,391.7 124.6,392.3 125.5,392.9 126.1,393.4 126.8,393.9 127.4,394.6 128.1,395.3 128.8,396.0 129.4,396.8 130.1,397.6 130.7,398.5 131.4,399.3 132.1,400.1 132.7,400.9 133.4,401.6 134.0,402.4 134.7,403.0 135.4,403.7 136.0,404.3 136.7,404.9 137.3,405.5 138.0,406.2 138.7,406.8 139.3,407.3 140.0,407.9 140.6,408.5 141.3,409.0 142.0,409.6 142.6,410.1 143.3,410.6 143.9,411.1 144.6,411.5 145.3,412.0 146.1,412.6 147.0,413.2 147.9,413.7 148.8,414.2 149.7,414.7 150.6,415.2 151.4,415.6 152.3,416.0 153.2,416.3 154.1,416.7 155.0,417.1 155.8,417.4 156.7,417.6 157.6,417.8 158.5,417.9 159.4,418.0 160.2,418.1 161.1,418.2 162.0,418.3 162.9,418.4 163.8,418.4 164.6,418.5 165.5,418.6 166.4,418.6 167.3,418.7 168.2,418.7 169.0,418.8 169.9,418.8 170.8,418.9 171.7,418.9 172.6,418.9 173.4,419.0 174.3,419.0 175.2,419.0 176.1,419.1 177.0,419.1 177.8,419.1 178.7,419.2 179.6,419.2 180.5,419.2 181.4,419.2 182.2,419.3 183.1,419.3 184.0,419.3 184.9,419.3 185.8,419.4 186.6,419.4 187.5,419.4 188.4,419.4 189.3,419.5 190.2,419.5 191.0,419.5 191.9,419.5 192.8,419.5 193.7,419.6 194.6,419.6 195.5,419.6 196.3,419.6 197.2,419.6 198.1,419.6 199.0,419.7 199.9,419.7 200.7,419.7 201.6,419.7 202.5,419.7 203.4,419.7 204.3,419.8 205.1,419.8 206.0,419.8 206.9,419.8 207.8,419.8 208.7,419.8 209.5,419.8 210.4,419.9 211.3,419.9 212.2,419.9 213.1,419.9 213.9,419.9 214.8,419.9 215.7,419.9 216.6,420.0 217.5,420.0 218.3,420.0 219.2,420.0 220.1,420.0 221.0,420.0 221.9,420.0 222.7,420.0 223.6,420.1 224.5,420.1 225.4,420.1 226.3,420.1 227.1,420.1 228.0,420.1 228.9,420.1 229.8,420.1 230.7,420.2 231.5,420.2 232.4,420.2 233.3,420.2 234.2,420.2 235.1,420.2 235.9,420.2 236.8,420.2 237.7,420.3 238.6,420.3 239.5,420.3 240.4,420.3 241.2,420.3 242.1,420.3 243.0,420.3 243.9,420.4 244.8,420.4 245.6,420.4 246.5,420.4 247.4,420.4 248.3,420.4 249.2,420.4 250.0,420.4 250.9,420.5 251.8,420.5 252.7,420.5 253.6,420.5 254.4,420.5 255.3,420.5 256.2,420.5 257.1,420.5 258.0,420.6 258.8,420.6 259.7,420.6 260.6,420.6 261.5,420.6 262.4,420.6 263.2,420.6 264.1,420.7 265.0,420.7 265.9,420.7 266.8,420.7 267.6,420.7 268.5,420.7 269.4,420.7 270.3,420.7 271.2,420.8 272.0,420.8 272.9,420.8 273.8,420.8 274.7,420.8 275.6,420.8 276.4,420.8 277.3,420.8 278.2,420.8 279.1,420.9 280.0,420.9 280.8,420.9 281.7,420.9 282.6,420.9 283.5,420.9 284.4,420.9 285.3,420.9 286.1,421.0 287.0,421.0 287.9,421.0 288.8,421.0 289.7,421.0 290.5,421.0 291.4,421.0 292.3,421.0 293.2,421.0 294.1,421.1 294.9,421.1 295.8,421.1 296.7,421.1 297.6,421.1 298.5,421.1 299.3,421.1 300.2,421.1 301.1,421.1 302.0,421.2 302.9,421.2 303.3,421.2" fill="none" stroke="#f80000" stroke-width="3.2" stroke-dasharray="4.2 9.2" stroke-linecap="round" stroke-linejoin="round" clip-path="url(#cB1)"/>
<path d="M39.4,548.5 40.3,548.3 41.2,547.8 41.8,547.3 42.5,546.7 43.1,545.9 43.8,545.1 44.5,544.1 44.9,543.0 45.3,541.7 45.8,540.1 46.0,539.2 46.2,538.4 46.4,537.4 46.7,536.5 46.9,535.5 47.1,534.5 47.3,533.6 47.5,532.6 47.8,531.6 48.0,530.6 48.2,529.6 48.4,528.6 48.6,527.7 48.9,526.8 49.1,525.8 49.3,524.8 49.5,523.8 49.7,522.8 50.0,521.7 50.2,520.6 50.4,519.5 50.6,518.5 50.8,517.4 51.1,516.3 51.3,515.2 51.5,514.1 51.7,513.0 51.9,511.9 52.2,510.8 52.4,509.8 52.6,508.8 52.8,507.8 53.0,506.7 53.3,505.7 53.5,504.7 53.7,503.7 53.9,502.7 54.1,501.8 54.4,500.8 54.6,499.8 54.8,498.8 55.0,497.8 55.2,496.8 55.5,495.9 55.7,494.9 55.9,493.9 56.1,492.9 56.3,492.0 56.6,491.0 56.8,490.0 57.0,489.1 57.2,488.1 57.4,487.2 57.7,486.2 57.9,485.2 58.1,484.3 58.3,483.3 58.5,482.4 58.8,481.4 59.0,480.5 59.2,479.5 59.4,478.6 59.6,477.6 59.9,476.7 60.1,475.8 60.3,474.8 60.5,473.9 60.7,472.9 61.0,472.0 61.2,471.1 61.4,470.1 61.6,469.2 61.9,468.2 62.1,467.3 62.3,466.3 62.5,465.4 62.7,464.4 63.0,463.5 63.2,462.6 63.4,461.6 63.6,460.7 63.8,459.8 64.1,458.8 64.3,457.9 64.5,457.0 64.7,456.0 64.9,455.1 65.2,454.1 65.4,453.2 65.6,452.2 65.8,451.2 66.0,450.2 66.3,449.2 66.5,448.2 66.7,447.1 66.9,446.0 67.1,444.9 67.4,443.7 67.6,442.5 67.8,441.2 68.0,439.9 68.2,438.6 68.5,437.4 68.7,436.1 68.9,434.8 69.1,433.6 69.3,432.4 69.6,431.3 69.8,430.2 70.0,429.2 70.2,428.3 70.4,427.4 70.7,426.5 70.9,425.6 71.1,424.7 71.3,423.9 71.5,423.0 71.8,422.2 72.0,421.4 72.2,420.6 72.6,419.1 73.1,417.7 73.5,416.3 74.0,414.9 74.4,413.7 74.8,412.5 75.3,411.4 75.7,410.3 76.2,409.3 76.6,408.4 77.0,407.4 77.5,406.5 77.9,405.7 78.4,404.8 78.8,404.0 79.2,403.3 79.7,402.5 80.1,401.8 80.6,401.0 81.0,400.3 81.4,399.6 81.9,398.9 82.3,398.2 82.8,397.5 83.2,396.7 83.6,396.0 84.1,395.3 84.5,394.6 85.0,393.9 85.4,393.3 86.1,392.3 86.7,391.3 87.4,390.3 88.0,389.4 88.7,388.4 89.4,387.4 89.8,386.7 90.2,386.0 90.7,385.3 91.1,384.6 91.6,383.9 92.2,382.9 92.9,382.1 93.5,381.5 94.2,380.9 94.9,380.4 95.5,379.9 96.4,379.4 97.3,379.1 98.2,379.0 99.0,379.2 99.9,379.7 100.6,380.2 101.2,380.8 101.9,381.3 102.6,381.8 103.2,382.3 103.9,382.8 104.5,383.3 105.2,383.9 105.9,384.4 106.5,385.0 107.2,385.6 107.9,386.1 108.5,386.7 109.2,387.2 109.8,387.8 110.5,388.3 111.2,388.8 111.8,389.2 112.7,389.8 113.6,390.3 114.5,390.8 115.3,391.3 116.2,391.7 117.1,392.1 118.0,392.5 118.9,392.9 119.7,393.3 120.6,393.8 121.5,394.2 122.4,394.7 123.3,395.2 124.1,395.7 125.0,396.3 125.7,396.7 126.3,397.2 127.0,397.8 127.7,398.4 128.3,399.0 129.0,399.7 129.6,400.4 130.3,401.2 131.0,401.9 131.6,402.6 132.3,403.4 132.9,404.1 133.6,404.7 134.3,405.4 134.9,406.0 135.6,406.6 136.2,407.2 136.9,407.7 137.6,408.3 138.2,408.9 138.9,409.5 139.5,410.0 140.2,410.6 140.9,411.1 141.5,411.6 142.2,412.1 142.8,412.6 143.5,413.1 144.4,413.6 145.3,414.2 146.1,414.8 147.0,415.3 147.9,415.8 148.8,416.3 149.7,416.7 150.6,417.1 151.4,417.4 152.3,417.8 153.2,418.1 154.1,418.4 155.0,418.6 155.8,418.9 156.7,419.1 157.6,419.2 158.5,419.3 159.4,419.4 160.2,419.5 161.1,419.5 162.0,419.6 162.9,419.6 163.8,419.7 164.6,419.7 165.5,419.7 166.4,419.8 167.3,419.8 168.2,419.8 169.0,419.9 169.9,419.9 170.8,419.9 171.7,420.0 172.6,420.0 173.4,420.0 174.3,420.0 175.2,420.0 176.1,420.1 177.0,420.1 177.8,420.1 178.7,420.1 179.6,420.1 180.5,420.2 181.4,420.2 182.2,420.2 183.1,420.2 184.0,420.2 184.9,420.3 185.8,420.3 186.6,420.3 187.5,420.3 188.4,420.3 189.3,420.4 190.2,420.4 191.0,420.4 191.9,420.4 192.8,420.4 193.7,420.4 194.6,420.5 195.5,420.5 196.3,420.5 197.2,420.5 198.1,420.5 199.0,420.5 199.9,420.6 200.7,420.6 201.6,420.6 202.5,420.6 203.4,420.6 204.3,420.6 205.1,420.6 206.0,420.7 206.9,420.7 207.8,420.7 208.7,420.7 209.5,420.7 210.4,420.7 211.3,420.7 212.2,420.7 213.1,420.8 213.9,420.8 214.8,420.8 215.7,420.8 216.6,420.8 217.5,420.8 218.3,420.8 219.2,420.9 220.1,420.9 221.0,420.9 221.9,420.9 222.7,420.9 223.6,420.9 224.5,420.9 225.4,421.0 226.3,421.0 227.1,421.0 228.0,421.0 228.9,421.0 229.8,421.0 230.7,421.0 231.5,421.1 232.4,421.1 233.3,421.1 234.2,421.1 235.1,421.1 235.9,421.1 236.8,421.2 237.7,421.2 238.6,421.2 239.5,421.2 240.4,421.2 241.2,421.3 242.1,421.3 243.0,421.3 243.9,421.3 244.8,421.3 245.6,421.4 246.5,421.4 247.4,421.4 248.3,421.4 249.2,421.4 250.0,421.5 250.9,421.5 251.8,421.5 252.7,421.5 253.6,421.5 254.4,421.6 255.3,421.6 256.2,421.6 257.1,421.6 258.0,421.7 258.8,421.7 259.7,421.7 260.6,421.7 261.5,421.8 262.4,421.8 263.2,421.8 264.1,421.8 265.0,421.8 265.9,421.9 266.8,421.9 267.6,421.9 268.5,421.9 269.4,422.0 270.3,422.0 271.2,422.0 272.0,422.0 272.9,422.1 273.8,422.1 274.7,422.1 275.6,422.1 276.4,422.2 277.3,422.2 278.2,422.2 279.1,422.2 280.0,422.3 280.8,422.3 281.7,422.3 282.6,422.4 283.5,422.4 284.4,422.4 285.3,422.4 286.1,422.5 287.0,422.5 287.9,422.5 288.8,422.5 289.7,422.6 290.5,422.6 291.4,422.6 292.3,422.7 293.2,422.7 294.1,422.7 294.9,422.7 295.8,422.8 296.7,422.8 297.6,422.8 298.5,422.9 299.3,422.9 300.2,422.9 301.1,422.9 302.0,423.0 302.9,423.0 303.3,423.0" fill="none" stroke="#0000e6" stroke-width="3.2" stroke-dasharray="4.2 9.2" stroke-linecap="round" stroke-linejoin="round" clip-path="url(#cB1)"/>
<path d="M39.4,548.5 40.3,548.4 41.2,548.1 42.0,547.6 42.7,547.1 43.4,546.6 44.0,546.0 44.7,545.3 45.1,544.5 45.6,543.3 46.0,541.7 46.2,540.8 46.4,539.8 46.7,538.8 46.9,537.8 47.1,536.7 47.3,535.6 47.5,534.4 47.8,533.3 48.0,532.2 48.2,531.1 48.4,530.1 48.6,529.1 48.9,528.1 49.1,527.1 49.3,526.0 49.5,525.0 49.7,523.9 50.0,522.8 50.2,521.8 50.4,520.7 50.6,519.5 50.8,518.4 51.1,517.3 51.3,516.2 51.5,515.1 51.7,514.0 51.9,512.9 52.2,511.8 52.4,510.8 52.6,509.7 52.8,508.6 53.0,507.6 53.3,506.6 53.5,505.5 53.7,504.5 53.9,503.4 54.1,502.4 54.4,501.4 54.6,500.3 54.8,499.3 55.0,498.3 55.2,497.3 55.5,496.2 55.7,495.2 55.9,494.2 56.1,493.2 56.3,492.2 56.6,491.2 56.8,490.2 57.0,489.2 57.2,488.2 57.4,487.2 57.7,486.2 57.9,485.2 58.1,484.3 58.3,483.3 58.5,482.3 58.8,481.4 59.0,480.4 59.2,479.5 59.4,478.5 59.6,477.6 59.9,476.6 60.1,475.7 60.3,474.8 60.5,473.8 60.7,472.9 61.0,472.0 61.2,471.0 61.4,470.1 61.6,469.2 61.9,468.2 62.1,467.3 62.3,466.3 62.5,465.4 62.7,464.4 63.0,463.5 63.2,462.6 63.4,461.7 63.6,460.7 63.8,459.8 64.1,458.9 64.3,458.0 64.5,457.1 64.7,456.2 64.9,455.2 65.2,454.3 65.4,453.3 65.6,452.4 65.8,451.4 66.0,450.3 66.3,449.3 66.5,448.2 66.7,447.1 66.9,446.0 67.1,444.8 67.4,443.5 67.6,442.2 67.8,440.8 68.0,439.5 68.2,438.1 68.5,436.7 68.7,435.2 68.9,433.8 69.1,432.4 69.3,431.1 69.6,429.7 69.8,428.4 70.0,427.1 70.2,425.9 70.4,424.6 70.7,423.4 70.9,422.2 71.1,421.0 71.3,419.8 71.5,418.5 71.8,417.3 72.0,416.1 72.2,415.0 72.4,413.8 72.6,412.6 72.9,411.5 73.1,410.3 73.3,409.2 73.5,408.1 73.7,407.0 74.0,406.0 74.2,404.9 74.4,403.9 74.6,402.9 74.8,401.9 75.1,401.0 75.3,400.1 75.5,399.2 75.7,398.3 75.9,397.5 76.2,396.6 76.4,395.8 76.6,395.0 76.8,394.2 77.0,393.4 77.5,391.9 77.9,390.4 78.4,389.0 78.8,387.7 79.2,386.3 79.7,385.1 80.1,383.8 80.6,382.7 81.0,381.5 81.4,380.4 81.9,379.3 82.3,378.3 82.8,377.3 83.2,376.3 83.6,375.3 84.1,374.3 84.5,373.4 85.0,372.5 85.4,371.6 85.8,370.7 86.3,369.8 86.7,368.9 87.2,368.0 87.6,367.1 88.0,366.2 88.5,365.3 88.9,364.4 89.4,363.6 89.8,362.7 90.2,361.8 90.7,361.0 91.1,360.2 91.6,359.4 92.0,358.6 92.4,357.9 93.1,356.9 93.8,356.1 94.4,355.2 95.1,354.4 95.7,353.6 96.4,352.9 97.1,352.2 97.7,351.7 98.6,351.1 99.5,350.7 100.4,350.4 101.2,350.1 102.1,349.9 103.0,349.7 103.9,349.7 104.8,349.8 105.7,350.1 106.5,350.5 107.4,351.1 108.1,351.5 108.7,352.0 109.4,352.5 110.1,353.0 110.7,353.5 111.6,354.1 112.5,354.6 113.4,355.1 114.2,355.5 115.1,356.0 116.0,356.5 116.9,357.0 117.8,357.5 118.6,358.0 119.5,358.5 120.4,359.0 121.3,359.5 122.2,360.0 123.0,360.6 123.9,361.1 124.8,361.7 125.7,362.2 126.6,362.7 127.4,363.3 128.3,363.8 129.2,364.4 130.1,365.0 130.7,365.5 131.4,366.0 132.1,366.5 132.7,367.0 133.4,367.6 134.0,368.1 134.7,368.8 135.4,369.4 136.0,370.1 136.7,370.8 137.3,371.5 138.0,372.3 138.7,373.0 139.3,373.7 140.0,374.4 140.6,375.1 141.3,375.8 142.0,376.5 142.6,377.2 143.3,377.8 143.9,378.5 144.6,379.2 145.3,379.8 145.9,380.5 146.6,381.2 147.2,381.8 147.9,382.5 148.6,383.1 149.2,383.8 149.9,384.4 150.6,385.1 151.2,385.7 151.9,386.3 152.5,387.0 153.2,387.6 153.9,388.2 154.5,388.9 155.2,389.5 155.8,390.1 156.5,390.7 157.2,391.3 157.8,391.9 158.5,392.5 159.1,393.1 159.8,393.6 160.5,394.1 161.1,394.7 161.8,395.2 162.4,395.8 163.1,396.3 163.8,396.9 164.4,397.4 165.1,398.0 165.7,398.5 166.4,398.9 167.3,399.5 168.2,400.0 169.0,400.3 169.9,400.5 170.8,400.7 171.7,400.9 172.6,401.0 173.4,401.2 174.3,401.3 175.2,401.4 176.1,401.5 177.0,401.6 177.8,401.7 178.7,401.8 179.6,401.9 180.5,402.0 181.4,402.0 182.2,402.1 183.1,402.2 184.0,402.2 184.9,402.3 185.8,402.3 186.6,402.4 187.5,402.4 188.4,402.5 189.3,402.5 190.2,402.6 191.0,402.6 191.9,402.7 192.8,402.7 193.7,402.7 194.6,402.8 195.5,402.8 196.3,402.8 197.2,402.9 198.1,402.9 199.0,402.9 199.9,403.0 200.7,403.0 201.6,403.0 202.5,403.1 203.4,403.1 204.3,403.1 205.1,403.2 206.0,403.2 206.9,403.2 207.8,403.3 208.7,403.3 209.5,403.3 210.4,403.4 211.3,403.4 212.2,403.4 213.1,403.5 213.9,403.5 214.8,403.5 215.7,403.6 216.6,403.6 217.5,403.6 218.3,403.7 219.2,403.7 220.1,403.7 221.0,403.8 221.9,403.8 222.7,403.8 223.6,403.8 224.5,403.9 225.4,403.9 226.3,403.9 227.1,404.0 228.0,404.0 228.9,404.0 229.8,404.1 230.7,404.1 231.5,404.1 232.4,404.2 233.3,404.2 234.2,404.2 235.1,404.3 235.9,404.3 236.8,404.3 237.7,404.3 238.6,404.4 239.5,404.4 240.4,404.4 241.2,404.5 242.1,404.5 243.0,404.5 243.9,404.6 244.8,404.6 245.6,404.6 246.5,404.7 247.4,404.7 248.3,404.7 249.2,404.8 250.0,404.8 250.9,404.8 251.8,404.9 252.7,404.9 253.6,404.9 254.4,405.0 255.3,405.0 256.2,405.0 257.1,405.0 258.0,405.1 258.8,405.1 259.7,405.1 260.6,405.2 261.5,405.2 262.4,405.2 263.2,405.3 264.1,405.3 265.0,405.3 265.9,405.3 266.8,405.4 267.6,405.4 268.5,405.4 269.4,405.5 270.3,405.5 271.2,405.5 272.0,405.5 272.9,405.6 273.8,405.6 274.7,405.6 275.6,405.6 276.4,405.7 277.3,405.7 278.2,405.7 279.1,405.8 280.0,405.8 280.8,405.8 281.7,405.8 282.6,405.9 283.5,405.9 284.4,405.9 285.3,405.9 286.1,406.0 287.0,406.0 287.9,406.0 288.8,406.0 289.7,406.1 290.5,406.1 291.4,406.1 292.3,406.1 293.2,406.1 294.1,406.2 294.9,406.2 295.8,406.2 296.7,406.2 297.6,406.3 298.5,406.3 299.3,406.3 300.2,406.3 301.1,406.4 302.0,406.4 302.9,406.4 303.3,406.4" fill="none" stroke="#f80000" stroke-width="3.1" stroke-dasharray="0 5.9" stroke-linecap="round" clip-path="url(#cB1)"/>
<path d="M39.4,548.5 40.3,548.3 41.2,547.8 41.8,547.3 42.5,546.7 43.1,545.9 43.8,545.1 44.5,544.1 44.9,543.0 45.3,541.7 45.8,540.1 46.0,539.2 46.2,538.4 46.4,537.4 46.7,536.5 46.9,535.5 47.1,534.5 47.3,533.6 47.5,532.6 47.8,531.6 48.0,530.6 48.2,529.6 48.4,528.6 48.6,527.7 48.9,526.8 49.1,525.8 49.3,524.8 49.5,523.8 49.7,522.8 50.0,521.7 50.2,520.6 50.4,519.5 50.6,518.5 50.8,517.4 51.1,516.3 51.3,515.2 51.5,514.1 51.7,513.0 51.9,511.9 52.2,510.8 52.4,509.8 52.6,508.8 52.8,507.8 53.0,506.7 53.3,505.7 53.5,504.7 53.7,503.7 53.9,502.7 54.1,501.8 54.4,500.8 54.6,499.8 54.8,498.8 55.0,497.8 55.2,496.8 55.5,495.9 55.7,494.9 55.9,493.9 56.1,492.9 56.3,492.0 56.6,491.0 56.8,490.0 57.0,489.1 57.2,488.1 57.4,487.2 57.7,486.2 57.9,485.2 58.1,484.3 58.3,483.3 58.5,482.4 58.8,481.4 59.0,480.5 59.2,479.5 59.4,478.6 59.6,477.6 59.9,476.7 60.1,475.8 60.3,474.8 60.5,473.9 60.7,472.9 61.0,472.0 61.2,471.1 61.4,470.1 61.6,469.2 61.9,468.2 62.1,467.3 62.3,466.3 62.5,465.4 62.7,464.4 63.0,463.5 63.2,462.6 63.4,461.6 63.6,460.7 63.8,459.8 64.1,458.9 64.3,458.0 64.5,457.1 64.7,456.1 64.9,455.2 65.2,454.2 65.4,453.3 65.6,452.3 65.8,451.3 66.0,450.3 66.3,449.3 66.5,448.2 66.7,447.1 66.9,446.0 67.1,444.8 67.4,443.6 67.6,442.3 67.8,441.0 68.0,439.7 68.2,438.4 68.5,437.1 68.7,435.7 68.9,434.4 69.1,433.0 69.3,431.7 69.6,430.4 69.8,429.2 70.0,428.0 70.2,426.8 70.4,425.6 70.7,424.5 70.9,423.3 71.1,422.2 71.3,421.0 71.5,419.9 71.8,418.7 72.0,417.6 72.2,416.5 72.4,415.4 72.6,414.3 72.9,413.2 73.1,412.1 73.3,411.0 73.5,410.0 73.7,409.0 74.0,408.0 74.2,407.0 74.4,406.0 74.6,405.1 74.8,404.1 75.1,403.2 75.3,402.4 75.5,401.5 75.7,400.7 75.9,399.8 76.2,399.0 76.4,398.2 76.6,397.4 76.8,396.7 77.3,395.1 77.7,393.7 78.1,392.2 78.6,390.9 79.0,389.6 79.5,388.3 79.9,387.1 80.3,386.0 80.8,385.0 81.2,384.0 81.7,383.0 82.1,382.1 82.5,381.2 83.0,380.4 83.4,379.6 83.9,378.8 84.3,378.0 84.7,377.2 85.2,376.4 85.6,375.6 86.1,374.8 86.5,374.0 86.9,373.1 87.4,372.2 87.8,371.2 88.3,370.3 88.7,369.3 89.1,368.3 89.6,367.3 90.0,366.2 90.5,365.2 90.9,364.1 91.3,363.1 91.8,362.0 92.2,361.0 92.7,360.0 93.1,359.0 93.5,358.0 94.0,357.0 94.4,356.0 94.9,354.9 95.3,353.8 95.7,352.7 96.2,351.6 96.6,350.5 97.1,349.5 97.5,348.6 97.9,347.8 98.4,347.1 99.0,346.2 99.7,345.6 100.4,345.1 101.0,344.6 101.7,344.1 102.6,343.5 103.4,343.0 104.3,342.6 105.2,342.3 106.1,342.1 107.0,342.1 107.9,342.2 108.7,342.4 109.6,342.8 110.5,343.2 111.4,343.6 112.3,344.1 113.1,344.5 114.0,344.9 114.9,345.4 115.8,345.9 116.7,346.4 117.5,347.0 118.4,347.5 119.3,348.1 120.2,348.7 121.1,349.2 121.9,349.8 122.8,350.3 123.7,350.8 124.6,351.3 125.5,351.7 126.3,352.2 127.2,352.6 128.1,353.1 129.0,353.6 129.9,354.1 130.7,354.6 131.6,355.2 132.3,355.6 132.9,356.1 133.6,356.7 134.3,357.3 134.9,357.9 135.6,358.6 136.2,359.4 136.9,360.2 137.6,361.0 138.2,361.7 138.9,362.5 139.5,363.3 140.2,364.0 140.9,364.8 141.5,365.4 142.2,366.1 142.8,366.7 143.5,367.4 144.2,368.0 144.8,368.6 145.5,369.2 146.1,369.8 146.8,370.5 147.5,371.1 148.1,371.7 148.8,372.3 149.5,372.9 150.1,373.6 150.8,374.2 151.4,374.8 152.1,375.5 152.8,376.2 153.4,376.9 154.1,377.6 154.7,378.3 155.4,379.0 156.1,379.7 156.7,380.4 157.4,381.1 158.0,381.8 158.7,382.4 159.4,383.1 160.0,383.6 160.7,384.2 161.3,384.7 162.0,385.2 162.7,385.7 163.3,386.2 164.0,386.7 164.6,387.1 165.5,387.7 166.4,388.3 167.3,388.8 168.2,389.2 169.0,389.6 169.9,390.0 170.8,390.3 171.7,390.5 172.6,390.8 173.4,391.0 174.3,391.3 175.2,391.5 176.1,391.7 177.0,391.9 177.8,392.1 178.7,392.3 179.6,392.5 180.5,392.7 181.4,392.8 182.2,393.0 183.1,393.2 184.0,393.4 184.9,393.5 185.8,393.7 186.6,393.8 187.5,393.9 188.4,394.0 189.3,394.2 190.2,394.3 191.0,394.4 191.9,394.5 192.8,394.6 193.7,394.7 194.6,394.8 195.5,394.9 196.3,395.0 197.2,395.1 198.1,395.1 199.0,395.2 199.9,395.3 200.7,395.4 201.6,395.5 202.5,395.5 203.4,395.6 204.3,395.7 205.1,395.8 206.0,395.8 206.9,395.9 207.8,396.0 208.7,396.1 209.5,396.1 210.4,396.2 211.3,396.3 212.2,396.4 213.1,396.4 213.9,396.5 214.8,396.6 215.7,396.7 216.6,396.7 217.5,396.8 218.3,396.9 219.2,396.9 220.1,397.0 221.0,397.1 221.9,397.1 222.7,397.2 223.6,397.3 224.5,397.3 225.4,397.4 226.3,397.4 227.1,397.5 228.0,397.6 228.9,397.6 229.8,397.7 230.7,397.8 231.5,397.8 232.4,397.9 233.3,397.9 234.2,398.0 235.1,398.1 235.9,398.1 236.8,398.2 237.7,398.2 238.6,398.3 239.5,398.4 240.4,398.4 241.2,398.5 242.1,398.5 243.0,398.6 243.9,398.7 244.8,398.7 245.6,398.8 246.5,398.8 247.4,398.9 248.3,399.0 249.2,399.0 250.0,399.1 250.9,399.1 251.8,399.2 252.7,399.2 253.6,399.3 254.4,399.4 255.3,399.4 256.2,399.5 257.1,399.5 258.0,399.6 258.8,399.6 259.7,399.7 260.6,399.7 261.5,399.8 262.4,399.9 263.2,399.9 264.1,400.0 265.0,400.0 265.9,400.1 266.8,400.2 267.6,400.2 268.5,400.3 269.4,400.3 270.3,400.4 271.2,400.5 272.0,400.5 272.9,400.6 273.8,400.7 274.7,400.7 275.6,400.8 276.4,400.9 277.3,400.9 278.2,401.0 279.1,401.1 280.0,401.2 280.8,401.2 281.7,401.3 282.6,401.4 283.5,401.4 284.4,401.5 285.3,401.6 286.1,401.7 287.0,401.7 287.9,401.8 288.8,401.9 289.7,402.0 290.5,402.0 291.4,402.1 292.3,402.2 293.2,402.3 294.1,402.3 294.9,402.4 295.8,402.5 296.7,402.6 297.6,402.7 298.5,402.7 299.3,402.8 300.2,402.9 301.1,403.0 302.0,403.1 302.9,403.1 303.3,403.2" fill="none" stroke="#0000e6" stroke-width="3.1" stroke-dasharray="0 5.9" stroke-linecap="round" clip-path="url(#cB1)"/>
<line x1="35.2" y1="548.5" x2="39.4" y2="548.5" stroke="#000" stroke-width="1.6" />
<line x1="37.1" y1="544.66" x2="39.4" y2="544.66" stroke="#000" stroke-width="1.3" />
<line x1="37.1" y1="540.81" x2="39.4" y2="540.81" stroke="#000" stroke-width="1.3" />
<line x1="37.1" y1="536.97" x2="39.4" y2="536.97" stroke="#000" stroke-width="1.3" />
<line x1="37.1" y1="533.12" x2="39.4" y2="533.12" stroke="#000" stroke-width="1.3" />
<line x1="37.1" y1="529.28" x2="39.4" y2="529.28" stroke="#000" stroke-width="1.3" />
<line x1="35.2" y1="525.43" x2="39.4" y2="525.43" stroke="#000" stroke-width="1.6" />
<line x1="37.1" y1="521.59" x2="39.4" y2="521.59" stroke="#000" stroke-width="1.3" />
<line x1="37.1" y1="517.74" x2="39.4" y2="517.74" stroke="#000" stroke-width="1.3" />
<line x1="37.1" y1="513.9" x2="39.4" y2="513.9" stroke="#000" stroke-width="1.3" />
<line x1="37.1" y1="510.06" x2="39.4" y2="510.06" stroke="#000" stroke-width="1.3" />
<line x1="37.1" y1="506.21" x2="39.4" y2="506.21" stroke="#000" stroke-width="1.3" />
<line x1="35.2" y1="502.37" x2="39.4" y2="502.37" stroke="#000" stroke-width="1.6" />
<line x1="37.1" y1="498.52" x2="39.4" y2="498.52" stroke="#000" stroke-width="1.3" />
<line x1="37.1" y1="494.68" x2="39.4" y2="494.68" stroke="#000" stroke-width="1.3" />
<line x1="37.1" y1="490.83" x2="39.4" y2="490.83" stroke="#000" stroke-width="1.3" />
<line x1="37.1" y1="486.99" x2="39.4" y2="486.99" stroke="#000" stroke-width="1.3" />
<line x1="37.1" y1="483.14" x2="39.4" y2="483.14" stroke="#000" stroke-width="1.3" />
<line x1="35.2" y1="479.3" x2="39.4" y2="479.3" stroke="#000" stroke-width="1.6" />
<line x1="37.1" y1="475.46" x2="39.4" y2="475.46" stroke="#000" stroke-width="1.3" />
<line x1="37.1" y1="471.61" x2="39.4" y2="471.61" stroke="#000" stroke-width="1.3" />
<line x1="37.1" y1="467.77" x2="39.4" y2="467.77" stroke="#000" stroke-width="1.3" />
<line x1="37.1" y1="463.92" x2="39.4" y2="463.92" stroke="#000" stroke-width="1.3" />
<line x1="37.1" y1="460.08" x2="39.4" y2="460.08" stroke="#000" stroke-width="1.3" />
<line x1="35.2" y1="456.23" x2="39.4" y2="456.23" stroke="#000" stroke-width="1.6" />
<line x1="37.1" y1="452.39" x2="39.4" y2="452.39" stroke="#000" stroke-width="1.3" />
<line x1="37.1" y1="448.54" x2="39.4" y2="448.54" stroke="#000" stroke-width="1.3" />
<line x1="37.1" y1="444.7" x2="39.4" y2="444.7" stroke="#000" stroke-width="1.3" />
<line x1="37.1" y1="440.86" x2="39.4" y2="440.86" stroke="#000" stroke-width="1.3" />
<line x1="37.1" y1="437.01" x2="39.4" y2="437.01" stroke="#000" stroke-width="1.3" />
<line x1="35.2" y1="433.17" x2="39.4" y2="433.17" stroke="#000" stroke-width="1.6" />
<line x1="37.1" y1="429.32" x2="39.4" y2="429.32" stroke="#000" stroke-width="1.3" />
<line x1="37.1" y1="425.48" x2="39.4" y2="425.48" stroke="#000" stroke-width="1.3" />
<line x1="37.1" y1="421.63" x2="39.4" y2="421.63" stroke="#000" stroke-width="1.3" />
<line x1="37.1" y1="417.79" x2="39.4" y2="417.79" stroke="#000" stroke-width="1.3" />
<line x1="37.1" y1="413.94" x2="39.4" y2="413.94" stroke="#000" stroke-width="1.3" />
<line x1="35.2" y1="410.1" x2="39.4" y2="410.1" stroke="#000" stroke-width="1.6" />
<line x1="37.1" y1="406.26" x2="39.4" y2="406.26" stroke="#000" stroke-width="1.3" />
<line x1="37.1" y1="402.41" x2="39.4" y2="402.41" stroke="#000" stroke-width="1.3" />
<line x1="37.1" y1="398.57" x2="39.4" y2="398.57" stroke="#000" stroke-width="1.3" />
<line x1="37.1" y1="394.72" x2="39.4" y2="394.72" stroke="#000" stroke-width="1.3" />
<line x1="37.1" y1="390.88" x2="39.4" y2="390.88" stroke="#000" stroke-width="1.3" />
<line x1="35.2" y1="387.03" x2="39.4" y2="387.03" stroke="#000" stroke-width="1.6" />
<line x1="37.1" y1="383.19" x2="39.4" y2="383.19" stroke="#000" stroke-width="1.3" />
<line x1="37.1" y1="379.34" x2="39.4" y2="379.34" stroke="#000" stroke-width="1.3" />
<line x1="37.1" y1="375.5" x2="39.4" y2="375.5" stroke="#000" stroke-width="1.3" />
<line x1="37.1" y1="371.66" x2="39.4" y2="371.66" stroke="#000" stroke-width="1.3" />
<line x1="37.1" y1="367.81" x2="39.4" y2="367.81" stroke="#000" stroke-width="1.3" />
<line x1="35.2" y1="363.97" x2="39.4" y2="363.97" stroke="#000" stroke-width="1.6" />
<line x1="37.1" y1="360.12" x2="39.4" y2="360.12" stroke="#000" stroke-width="1.3" />
<line x1="37.1" y1="356.28" x2="39.4" y2="356.28" stroke="#000" stroke-width="1.3" />
<line x1="37.1" y1="352.43" x2="39.4" y2="352.43" stroke="#000" stroke-width="1.3" />
<line x1="37.1" y1="348.59" x2="39.4" y2="348.59" stroke="#000" stroke-width="1.3" />
<line x1="37.1" y1="344.74" x2="39.4" y2="344.74" stroke="#000" stroke-width="1.3" />
<line x1="35.2" y1="340.9" x2="39.4" y2="340.9" stroke="#000" stroke-width="1.6" />
<line x1="39.4" y1="548.5" x2="39.4" y2="552.7" stroke="#000" stroke-width="1.6" />
<line x1="46" y1="548.5" x2="46" y2="550.9" stroke="#000" stroke-width="1.3" />
<line x1="52.59" y1="548.5" x2="52.59" y2="552.7" stroke="#000" stroke-width="1.6" />
<line x1="59.19" y1="548.5" x2="59.19" y2="550.9" stroke="#000" stroke-width="1.3" />
<line x1="65.79" y1="548.5" x2="65.79" y2="552.7" stroke="#000" stroke-width="1.6" />
<line x1="72.39" y1="548.5" x2="72.39" y2="550.9" stroke="#000" stroke-width="1.3" />
<line x1="78.99" y1="548.5" x2="78.99" y2="552.7" stroke="#000" stroke-width="1.6" />
<line x1="85.58" y1="548.5" x2="85.58" y2="550.9" stroke="#000" stroke-width="1.3" />
<line x1="92.18" y1="548.5" x2="92.18" y2="552.7" stroke="#000" stroke-width="1.6" />
<line x1="98.78" y1="548.5" x2="98.78" y2="550.9" stroke="#000" stroke-width="1.3" />
<line x1="105.38" y1="548.5" x2="105.38" y2="552.7" stroke="#000" stroke-width="1.6" />
<line x1="111.97" y1="548.5" x2="111.97" y2="550.9" stroke="#000" stroke-width="1.3" />
<line x1="118.57" y1="548.5" x2="118.57" y2="552.7" stroke="#000" stroke-width="1.6" />
<line x1="125.17" y1="548.5" x2="125.17" y2="550.9" stroke="#000" stroke-width="1.3" />
<line x1="131.77" y1="548.5" x2="131.77" y2="552.7" stroke="#000" stroke-width="1.6" />
<line x1="138.36" y1="548.5" x2="138.36" y2="550.9" stroke="#000" stroke-width="1.3" />
<line x1="144.96" y1="548.5" x2="144.96" y2="552.7" stroke="#000" stroke-width="1.6" />
<line x1="151.56" y1="548.5" x2="151.56" y2="550.9" stroke="#000" stroke-width="1.3" />
<line x1="158.16" y1="548.5" x2="158.16" y2="552.7" stroke="#000" stroke-width="1.6" />
<line x1="164.75" y1="548.5" x2="164.75" y2="550.9" stroke="#000" stroke-width="1.3" />
<line x1="171.35" y1="548.5" x2="171.35" y2="552.7" stroke="#000" stroke-width="1.6" />
<line x1="177.95" y1="548.5" x2="177.95" y2="550.9" stroke="#000" stroke-width="1.3" />
<line x1="184.55" y1="548.5" x2="184.55" y2="552.7" stroke="#000" stroke-width="1.6" />
<line x1="191.14" y1="548.5" x2="191.14" y2="550.9" stroke="#000" stroke-width="1.3" />
<line x1="197.74" y1="548.5" x2="197.74" y2="552.7" stroke="#000" stroke-width="1.6" />
<line x1="204.34" y1="548.5" x2="204.34" y2="550.9" stroke="#000" stroke-width="1.3" />
<line x1="210.94" y1="548.5" x2="210.94" y2="552.7" stroke="#000" stroke-width="1.6" />
<line x1="217.53" y1="548.5" x2="217.53" y2="550.9" stroke="#000" stroke-width="1.3" />
<line x1="224.13" y1="548.5" x2="224.13" y2="552.7" stroke="#000" stroke-width="1.6" />
<line x1="230.73" y1="548.5" x2="230.73" y2="550.9" stroke="#000" stroke-width="1.3" />
<line x1="237.33" y1="548.5" x2="237.33" y2="552.7" stroke="#000" stroke-width="1.6" />
<line x1="243.92" y1="548.5" x2="243.92" y2="550.9" stroke="#000" stroke-width="1.3" />
<line x1="250.52" y1="548.5" x2="250.52" y2="552.7" stroke="#000" stroke-width="1.6" />
<line x1="257.12" y1="548.5" x2="257.12" y2="550.9" stroke="#000" stroke-width="1.3" />
<line x1="263.72" y1="548.5" x2="263.72" y2="552.7" stroke="#000" stroke-width="1.6" />
<line x1="270.31" y1="548.5" x2="270.31" y2="550.9" stroke="#000" stroke-width="1.3" />
<line x1="276.91" y1="548.5" x2="276.91" y2="552.7" stroke="#000" stroke-width="1.6" />
<line x1="283.51" y1="548.5" x2="283.51" y2="550.9" stroke="#000" stroke-width="1.3" />
<line x1="290.11" y1="548.5" x2="290.11" y2="552.7" stroke="#000" stroke-width="1.6" />
<line x1="296.7" y1="548.5" x2="296.7" y2="550.9" stroke="#000" stroke-width="1.3" />
<line x1="303.3" y1="548.5" x2="303.3" y2="552.7" stroke="#000" stroke-width="1.6" />
<line x1="39.4" y1="335.38" x2="39.4" y2="549.5" stroke="#000" stroke-width="2.0" />
<line x1="38.4" y1="548.5" x2="304.3" y2="548.5" stroke="#000" stroke-width="2.0" />
<line x1="303.3" y1="336.38" x2="303.3" y2="548.5" stroke="#000" stroke-width="2.0" />
<line x1="38.4" y1="336.38" x2="304.3" y2="336.38" stroke="#000" stroke-width="2.0" />
<text x="31.9" y="552.44" font-family='"Liberation Sans", sans-serif' font-size="12.4" font-weight="bold" text-anchor="end" fill="#000" stroke="#000" stroke-width="0.3" >0</text>
<text x="31.9" y="529.37" font-family='"Liberation Sans", sans-serif' font-size="12.4" font-weight="bold" text-anchor="end" fill="#000" stroke="#000" stroke-width="0.3" >5</text>
<text x="31.9" y="506.31" font-family='"Liberation Sans", sans-serif' font-size="12.4" font-weight="bold" text-anchor="end" fill="#000" stroke="#000" stroke-width="0.3" >10</text>
<text x="31.9" y="483.24" font-family='"Liberation Sans", sans-serif' font-size="12.4" font-weight="bold" text-anchor="end" fill="#000" stroke="#000" stroke-width="0.3" >15</text>
<text x="31.9" y="460.17" font-family='"Liberation Sans", sans-serif' font-size="12.4" font-weight="bold" text-anchor="end" fill="#000" stroke="#000" stroke-width="0.3" >20</text>
<text x="31.9" y="437.11" font-family='"Liberation Sans", sans-serif' font-size="12.4" font-weight="bold" text-anchor="end" fill="#000" stroke="#000" stroke-width="0.3" >25</text>
<text x="31.9" y="414.04" font-family='"Liberation Sans", sans-serif' font-size="12.4" font-weight="bold" text-anchor="end" fill="#000" stroke="#000" stroke-width="0.3" >30</text>
<text x="31.9" y="390.97" font-family='"Liberation Sans", sans-serif' font-size="12.4" font-weight="bold" text-anchor="end" fill="#000" stroke="#000" stroke-width="0.3" >35</text>
<text x="31.9" y="367.91" font-family='"Liberation Sans", sans-serif' font-size="12.4" font-weight="bold" text-anchor="end" fill="#000" stroke="#000" stroke-width="0.3" >40</text>
<text x="31.9" y="344.84" font-family='"Liberation Sans", sans-serif' font-size="12.4" font-weight="bold" text-anchor="end" fill="#000" stroke="#000" stroke-width="0.3" >45</text>
<text transform="translate(43.7,555.8) rotate(-90)" font-family='"Liberation Sans", sans-serif' font-size="12.0" font-weight="bold" text-anchor="end" stroke="#000" stroke-width="0.3">0</text>
<text transform="translate(56.89,555.8) rotate(-90)" font-family='"Liberation Sans", sans-serif' font-size="12.0" font-weight="bold" text-anchor="end" stroke="#000" stroke-width="0.3">10</text>
<text transform="translate(70.09,555.8) rotate(-90)" font-family='"Liberation Sans", sans-serif' font-size="12.0" font-weight="bold" text-anchor="end" stroke="#000" stroke-width="0.3">20</text>
<text transform="translate(83.28,555.8) rotate(-90)" font-family='"Liberation Sans", sans-serif' font-size="12.0" font-weight="bold" text-anchor="end" stroke="#000" stroke-width="0.3">30</text>
<text transform="translate(96.48,555.8) rotate(-90)" font-family='"Liberation Sans", sans-serif' font-size="12.0" font-weight="bold" text-anchor="end" stroke="#000" stroke-width="0.3">40</text>
<text transform="translate(109.67,555.8) rotate(-90)" font-family='"Liberation Sans", sans-serif' font-size="12.0" font-weight="bold" text-anchor="end" stroke="#000" stroke-width="0.3">50</text>
<text transform="translate(122.87,555.8) rotate(-90)" font-family='"Liberation Sans", sans-serif' font-size="12.0" font-weight="bold" text-anchor="end" stroke="#000" stroke-width="0.3">60</text>
<text transform="translate(136.06,555.8) rotate(-90)" font-family='"Liberation Sans", sans-serif' font-size="12.0" font-weight="bold" text-anchor="end" stroke="#000" stroke-width="0.3">70</text>
<text transform="translate(149.26,555.8) rotate(-90)" font-family='"Liberation Sans", sans-serif' font-size="12.0" font-weight="bold" text-anchor="end" stroke="#000" stroke-width="0.3">80</text>
<text transform="translate(162.45,555.8) rotate(-90)" font-family='"Liberation Sans", sans-serif' font-size="12.0" font-weight="bold" text-anchor="end" stroke="#000" stroke-width="0.3">90</text>
<text transform="translate(175.65,555.8) rotate(-90)" font-family='"Liberation Sans", sans-serif' font-size="12.0" font-weight="bold" text-anchor="end" stroke="#000" stroke-width="0.3">100</text>
<text transform="translate(188.84,555.8) rotate(-90)" font-family='"Liberation Sans", sans-serif' font-size="12.0" font-weight="bold" text-anchor="end" stroke="#000" stroke-width="0.3">110</text>
<text transform="translate(202.04,555.8) rotate(-90)" font-family='"Liberation Sans", sans-serif' font-size="12.0" font-weight="bold" text-anchor="end" stroke="#000" stroke-width="0.3">120</text>
<text transform="translate(215.23,555.8) rotate(-90)" font-family='"Liberation Sans", sans-serif' font-size="12.0" font-weight="bold" text-anchor="end" stroke="#000" stroke-width="0.3">130</text>
<text transform="translate(228.43,555.8) rotate(-90)" font-family='"Liberation Sans", sans-serif' font-size="12.0" font-weight="bold" text-anchor="end" stroke="#000" stroke-width="0.3">140</text>
<text transform="translate(241.62,555.8) rotate(-90)" font-family='"Liberation Sans", sans-serif' font-size="12.0" font-weight="bold" text-anchor="end" stroke="#000" stroke-width="0.3">150</text>
<text transform="translate(254.82,555.8) rotate(-90)" font-family='"Liberation Sans", sans-serif' font-size="12.0" font-weight="bold" text-anchor="end" stroke="#000" stroke-width="0.3">160</text>
<text transform="translate(268.01,555.8) rotate(-90)" font-family='"Liberation Sans", sans-serif' font-size="12.0" font-weight="bold" text-anchor="end" stroke="#000" stroke-width="0.3">170</text>
<text transform="translate(281.21,555.8) rotate(-90)" font-family='"Liberation Sans", sans-serif' font-size="12.0" font-weight="bold" text-anchor="end" stroke="#000" stroke-width="0.3">180</text>
<text transform="translate(294.4,555.8) rotate(-90)" font-family='"Liberation Sans", sans-serif' font-size="12.0" font-weight="bold" text-anchor="end" stroke="#000" stroke-width="0.3">190</text>
<text transform="translate(307.6,555.8) rotate(-90)" font-family='"Liberation Sans", sans-serif' font-size="12.0" font-weight="bold" text-anchor="end" stroke="#000" stroke-width="0.3">200</text>
<rect x="185.7" y="439.5" width="113.5" height="104" fill="#fff" stroke="#222" stroke-width="1.4"/>
<line x1="186.2" y1="447.5" x2="215.1" y2="447.5" stroke="#000000" stroke-width="2.9"/>
<text x="217.6" y="450.79" font-family='"Liberation Sans", sans-serif' font-size="9.2" font-weight="bold" text-anchor="start" fill="#000" textLength="13.4" lengthAdjust="spacingAndGlyphs" stroke="#000" stroke-width="0.3" >BC</text>
<line x1="186.2" y1="462.2" x2="215.1" y2="462.2" stroke="#0000e6" stroke-width="3.2"/>
<text x="217.6" y="465.49" font-family='"Liberation Sans", sans-serif' font-size="9.2" font-weight="bold" text-anchor="start" fill="#000" textLength="78.6" lengthAdjust="spacingAndGlyphs" stroke="#000" stroke-width="0.3" >S1OM-1.5h-0.2h</text>
<line x1="187.3" y1="476.9" x2="192.7" y2="476.9" stroke="#0000e6" stroke-width="3.2" stroke-linecap="round"/>
<line x1="201" y1="476.9" x2="206.4" y2="476.9" stroke="#0000e6" stroke-width="3.2" stroke-linecap="round"/>
<text x="217.6" y="480.19" font-family='"Liberation Sans", sans-serif' font-size="9.2" font-weight="bold" text-anchor="start" fill="#000" textLength="78.6" lengthAdjust="spacingAndGlyphs" stroke="#000" stroke-width="0.3" >S1OM-1.5h-0.3h</text>
<circle cx="186.9" cy="491.6" r="1.4" fill="#0000e6"/>
<circle cx="193.1" cy="491.6" r="1.4" fill="#0000e6"/>
<circle cx="199.3" cy="491.6" r="1.4" fill="#0000e6"/>
<circle cx="205.5" cy="491.6" r="1.4" fill="#0000e6"/>
<circle cx="211.7" cy="491.6" r="1.4" fill="#0000e6"/>
<text x="217.6" y="494.89" font-family='"Liberation Sans", sans-serif' font-size="9.2" font-weight="bold" text-anchor="start" fill="#000" textLength="78.6" lengthAdjust="spacingAndGlyphs" stroke="#000" stroke-width="0.3" >S1OM-1.5h-0.4h</text>
<line x1="186.2" y1="506.4" x2="215.1" y2="506.4" stroke="#f80000" stroke-width="3.2"/>
<text x="217.6" y="509.69" font-family='"Liberation Sans", sans-serif' font-size="9.2" font-weight="bold" text-anchor="start" fill="#000" textLength="78.6" lengthAdjust="spacingAndGlyphs" stroke="#000" stroke-width="0.3" >S1OM-2.0h-0.2h</text>
<line x1="187.3" y1="521.1" x2="192.7" y2="521.1" stroke="#f80000" stroke-width="3.2" stroke-linecap="round"/>
<line x1="201" y1="521.1" x2="206.4" y2="521.1" stroke="#f80000" stroke-width="3.2" stroke-linecap="round"/>
<text x="217.6" y="524.39" font-family='"Liberation Sans", sans-serif' font-size="9.2" font-weight="bold" text-anchor="start" fill="#000" textLength="78.6" lengthAdjust="spacingAndGlyphs" stroke="#000" stroke-width="0.3" >S1OM-2.0h-0.3h</text>
<circle cx="186.9" cy="535.8" r="1.4" fill="#f80000"/>
<circle cx="193.1" cy="535.8" r="1.4" fill="#f80000"/>
<circle cx="199.3" cy="535.8" r="1.4" fill="#f80000"/>
<circle cx="205.5" cy="535.8" r="1.4" fill="#f80000"/>
<circle cx="211.7" cy="535.8" r="1.4" fill="#f80000"/>
<text x="217.6" y="539.09" font-family='"Liberation Sans", sans-serif' font-size="9.2" font-weight="bold" text-anchor="start" fill="#000" textLength="78.6" lengthAdjust="spacingAndGlyphs" stroke="#000" stroke-width="0.3" >S1OM-2.0h-0.4h</text>
<rect x="74.9" y="503.1" width="91.1" height="16.7" fill="#fff" stroke="#333" stroke-width="1.3"/>
<text x="78.4" y="515.9" font-family='"Liberation Sans", sans-serif' font-size="13" font-weight="bold" text-anchor="start" fill="#000" textLength="84.1" lengthAdjust="spacingAndGlyphs" stroke="#000" stroke-width="0.01" >Bottom chord</text>
<line x1="59.5" y1="396.2" x2="67.5" y2="398.4" stroke="#333" stroke-width="0.9" />
<circle cx="70.1" cy="398.6" r="3.0" fill="#fff" stroke="#333" stroke-width="0.9"/>
<text x="45.3" y="392.8" font-family='"Liberation Sans", sans-serif' font-size="11" font-weight="bold" text-anchor="start" fill="#000" textLength="27.7" lengthAdjust="spacingAndGlyphs" stroke="#000" stroke-width="0.12" >32.41</text>
<line x1="74.5" y1="376.2" x2="95" y2="376.7" stroke="#333" stroke-width="0.9" />
<line x1="100" y1="379.8" x2="114.5" y2="379.8" stroke="#333" stroke-width="0.9" />
<circle cx="98.3" cy="379.8" r="3.0" fill="#fff" stroke="#333" stroke-width="0.9"/>
<circle cx="98" cy="376.7" r="3.0" fill="#fff" stroke="#333" stroke-width="0.9"/>
<text x="52.3" y="380.4" font-family='"Liberation Sans", sans-serif' font-size="11" font-weight="bold" text-anchor="start" fill="#000" textLength="21.4" lengthAdjust="spacingAndGlyphs" stroke="#000" stroke-width="0.12" >37.3</text>
<text x="114.7" y="383.4" font-family='"Liberation Sans", sans-serif' font-size="11" font-weight="bold" text-anchor="start" fill="#000" textLength="28.7" lengthAdjust="spacingAndGlyphs" stroke="#000" stroke-width="0.12" >36.66</text>
<line x1="109" y1="342.6" x2="117" y2="342.6" stroke="#333" stroke-width="0.9" />
<line x1="106" y1="350.1" x2="148" y2="350.1" stroke="#333" stroke-width="0.9" />
<circle cx="103.7" cy="350.1" r="3.0" fill="#fff" stroke="#333" stroke-width="0.9"/>
<circle cx="106.6" cy="342.6" r="3.0" fill="#fff" stroke="#333" stroke-width="0.9"/>
<text x="116.8" y="346.6" font-family='"Liberation Sans", sans-serif' font-size="11" font-weight="bold" text-anchor="start" fill="#000" textLength="28.9" lengthAdjust="spacingAndGlyphs" stroke="#000" stroke-width="0.12" >44.59</text>
<text x="148.3" y="353.7" font-family='"Liberation Sans", sans-serif' font-size="11" font-weight="bold" text-anchor="start" fill="#000" textLength="28.9" lengthAdjust="spacingAndGlyphs" stroke="#000" stroke-width="0.12" >43.03</text>
<line x1="96" y1="400.4" x2="135.5" y2="400.4" stroke="#333" stroke-width="0.9" />
<circle cx="93.7" cy="400.4" r="3.0" fill="#fff" stroke="#333" stroke-width="0.9"/>
<text x="135.7" y="403.6" font-family='"Liberation Sans", sans-serif' font-size="11" font-weight="bold" text-anchor="start" fill="#000" textLength="29.3" lengthAdjust="spacingAndGlyphs" stroke="#000" stroke-width="0.12" >32.13</text>
<line x1="98" y1="411" x2="112.5" y2="411" stroke="#333" stroke-width="0.9" />
<circle cx="95.4" cy="410.9" r="3.0" fill="#fff" stroke="#333" stroke-width="0.9"/>
<text x="112.9" y="415.8" font-family='"Liberation Sans", sans-serif' font-size="11" font-weight="bold" text-anchor="start" fill="#000" textLength="29.3" lengthAdjust="spacingAndGlyphs" stroke="#000" stroke-width="0.12" >29.77</text>
<text transform="translate(11.65,442.2) rotate(-90)" font-family='"Liberation Sans", sans-serif' font-size="14.1" font-weight="bold" text-anchor="middle" textLength="120.7" lengthAdjust="spacingAndGlyphs" stroke="#000" stroke-width="0.4">Deflection (mm)</text>
<text x="134.7" y="591.2" font-family='"Liberation Sans", sans-serif' font-size="13.4" font-weight="bold" text-anchor="start" fill="#000" textLength="73.2" lengthAdjust="spacingAndGlyphs" stroke="#000" stroke-width="0.4" >Time (ms)</text>
<defs><clipPath id="cB2"><rect x="419" y="339" width="258.5" height="209"/></clipPath></defs>
<path d="M419.7,547.3 420.1,546.1 420.6,544.9 421.0,543.6 421.4,542.4 421.8,541.1 422.3,539.8 422.7,538.5 423.1,537.1 423.6,535.8 424.0,534.5 424.4,533.1 424.9,531.8 425.3,530.4 425.7,528.9 426.1,527.4 426.4,526.6 426.6,525.8 426.8,525.0 427.0,524.1 427.2,523.2 427.4,522.2 427.6,521.2 427.9,520.1 428.1,519.0 428.3,517.8 428.5,516.6 428.7,515.4 428.9,514.1 429.1,512.8 429.4,511.5 429.6,510.2 429.8,508.9 430.0,507.6 430.2,506.3 430.4,505.0 430.7,503.7 430.9,502.4 431.1,501.2 431.3,500.0 431.5,498.8 431.7,497.7 431.9,496.6 432.2,495.6 432.4,494.6 432.6,493.7 432.8,492.8 433.0,492.0 433.2,491.1 433.4,490.3 433.7,489.6 434.1,488.0 434.5,486.6 434.9,485.2 435.4,483.9 435.8,482.6 436.2,481.3 436.7,480.0 437.1,478.8 437.5,477.5 438.0,476.3 438.4,475.0 438.8,473.7 439.2,472.4 439.7,471.0 440.1,469.6 440.5,468.1 441.0,466.6 441.2,465.8 441.4,465.0 441.6,464.2 441.8,463.4 442.0,462.6 442.3,461.8 442.5,460.9 442.7,460.1 442.9,459.3 443.1,458.4 443.3,457.6 443.5,456.8 443.8,455.9 444.0,455.1 444.2,454.3 444.4,453.5 444.6,452.6 444.8,451.8 445.0,451.0 445.3,450.2 445.5,449.5 445.9,447.9 446.3,446.5 446.8,445.1 447.2,443.7 447.6,442.4 448.0,441.2 448.5,440.0 448.9,438.9 449.3,437.7 449.8,436.5 450.2,435.4 450.6,434.3 451.1,433.2 451.5,432.2 451.9,431.2 452.3,430.2 452.8,429.2 453.2,428.3 453.6,427.4 454.1,426.5 454.5,425.7 454.9,424.9 455.4,424.2 455.8,423.5 456.2,422.8 456.9,421.8 457.5,420.9 458.1,419.9 458.8,419.0 459.4,418.2 460.1,417.4 460.7,416.7 461.4,416.2 462.0,415.7 462.9,415.2 463.7,414.8 464.6,414.4 465.4,414.0 466.3,413.6 467.2,413.3 468.0,413.0 468.9,412.8 469.7,412.7 470.6,412.6 471.5,412.6 472.3,412.7 473.2,412.8 474.0,413.1 474.9,413.4 475.8,413.7 476.6,414.1 477.5,414.4 478.3,414.8 479.2,415.2 480.0,415.6 480.9,416.1 481.8,416.6 482.6,417.2 483.5,417.8 484.3,418.4 485.2,419.0 486.1,419.5 486.9,420.1 487.8,420.5 488.6,421.0 489.5,421.4 490.4,421.8 491.2,422.2 492.1,422.6 492.9,423.0 493.8,423.3 494.7,423.7 495.5,424.0 496.4,424.4 497.2,424.7 498.1,425.0 498.9,425.3 499.8,425.5 500.7,425.8 501.5,426.1 502.4,426.3 503.2,426.5 504.1,426.8 505.0,427.0 505.8,427.2 506.7,427.4 507.5,427.6 508.4,427.8 509.3,428.0 510.1,428.2 511.0,428.4 511.8,428.5 512.7,428.7 513.6,428.9 514.4,429.0 515.3,429.2 516.1,429.4 517.0,429.5 517.8,429.6 518.7,429.8 519.6,429.9 520.4,430.0 521.3,430.1 522.1,430.2 523.0,430.3 523.9,430.4 524.7,430.5 525.6,430.6 526.4,430.6 527.3,430.7 528.2,430.8 529.0,430.8 529.9,430.9 530.7,430.9 531.6,431.0 532.5,431.0 533.3,431.1 534.2,431.1 535.0,431.1 535.9,431.2 536.7,431.2 537.6,431.2 538.5,431.2 539.3,431.2 540.2,431.3 541.0,431.3 541.9,431.3 542.8,431.3 543.6,431.3 544.5,431.3 545.3,431.3 546.2,431.3 547.1,431.4 547.9,431.4 548.8,431.4 549.6,431.4 550.5,431.4 551.3,431.4 552.2,431.4 553.1,431.4 553.9,431.4 554.8,431.4 555.6,431.5 556.5,431.5 557.4,431.5 558.2,431.5 559.1,431.5 559.9,431.5 560.8,431.5 561.7,431.5 562.5,431.5 563.4,431.5 564.2,431.5 565.1,431.5 566.0,431.5 566.8,431.5 567.7,431.6 568.5,431.6 569.4,431.6 570.2,431.6 571.1,431.6 572.0,431.6 572.8,431.6 573.7,431.6 574.5,431.6 575.4,431.6 576.3,431.6 577.1,431.6 578.0,431.6 578.8,431.6 579.7,431.6 580.6,431.6 581.4,431.7 582.3,431.7 583.1,431.7 584.0,431.7 584.9,431.7 585.7,431.7 586.6,431.7 587.4,431.7 588.3,431.7 589.1,431.7 590.0,431.7 590.9,431.7 591.7,431.7 592.6,431.7 593.4,431.7 594.3,431.7 595.2,431.7 596.0,431.7 596.9,431.7 597.7,431.7 598.6,431.8 599.5,431.8 600.3,431.8 601.2,431.8 602.0,431.8 602.9,431.8 603.8,431.8 604.6,431.8 605.5,431.8 606.3,431.8 607.2,431.8 608.0,431.8 608.9,431.8 609.8,431.8 610.6,431.8 611.5,431.8 612.3,431.8 613.2,431.9 614.1,431.9 614.9,431.9 615.8,431.9 616.6,431.9 617.5,431.9 618.4,431.9 619.2,431.9 620.1,431.9 620.9,431.9 621.8,431.9 622.7,431.9 623.5,431.9 624.4,431.9 625.2,431.9 626.1,431.9 626.9,432.0 627.8,432.0 628.7,432.0 629.5,432.0 630.4,432.0 631.2,432.0 632.1,432.0 633.0,432.0 633.8,432.0 634.7,432.0 635.5,432.0 636.4,432.0 637.3,432.0 638.1,432.0 639.0,432.0 639.8,432.1 640.7,432.1 641.5,432.1 642.4,432.1 643.3,432.1 644.1,432.1 645.0,432.1 645.8,432.1 646.7,432.1 647.6,432.1 648.4,432.1 649.3,432.1 650.1,432.1 651.0,432.1 651.9,432.2 652.7,432.2 653.6,432.2 654.4,432.2 655.3,432.2 656.2,432.2 657.0,432.2 657.9,432.2 658.7,432.2 659.6,432.2 660.4,432.2 661.3,432.2 662.2,432.2 663.0,432.2 663.9,432.3 664.7,432.3 665.6,432.3 666.5,432.3 667.3,432.3 668.2,432.3 669.0,432.3 669.9,432.3 670.8,432.3 671.6,432.3 672.5,432.3 673.3,432.3 674.2,432.3 675.1,432.3 675.9,432.4 676.8,432.4 677.2,432.4" fill="none" stroke="#0000e6" stroke-width="3.3" stroke-linejoin="round" stroke-linecap="round" clip-path="url(#cB2)"/>
<path d="M419.7,547.3 420.1,546.0 420.6,544.8 421.0,543.5 421.4,542.1 421.8,540.8 422.3,539.4 422.7,538.0 423.1,536.5 423.6,535.1 424.0,533.7 424.4,532.2 424.9,530.7 425.3,529.2 425.5,528.4 425.7,527.6 425.9,526.8 426.1,525.9 426.4,525.1 426.6,524.2 426.8,523.3 427.0,522.4 427.2,521.5 427.4,520.5 427.6,519.4 427.9,518.3 428.1,517.2 428.3,516.1 428.5,514.9 428.7,513.7 428.9,512.4 429.1,511.2 429.4,509.9 429.6,508.7 429.8,507.4 430.0,506.1 430.2,504.8 430.4,503.6 430.7,502.3 430.9,501.0 431.1,499.8 431.3,498.6 431.5,497.4 431.7,496.2 431.9,495.1 432.2,494.0 432.4,493.0 432.6,491.9 432.8,491.0 433.0,490.0 433.2,489.0 433.4,488.1 433.7,487.2 433.9,486.3 434.1,485.4 434.3,484.5 434.5,483.6 434.7,482.8 434.9,481.9 435.2,481.1 435.4,480.2 435.6,479.4 435.8,478.6 436.0,477.7 436.2,476.9 436.5,476.1 436.7,475.3 436.9,474.5 437.1,473.7 437.3,472.9 437.5,472.1 437.7,471.2 438.0,470.4 438.2,469.6 438.4,468.8 438.6,468.0 438.8,467.2 439.0,466.3 439.2,465.5 439.5,464.7 439.7,463.8 439.9,463.0 440.1,462.2 440.3,461.4 440.5,460.5 440.7,459.7 441.0,458.9 441.2,458.1 441.4,457.3 441.6,456.5 441.8,455.7 442.0,454.9 442.3,454.1 442.5,453.3 442.7,452.5 443.1,451.0 443.5,449.5 444.0,448.1 444.4,446.7 444.8,445.3 445.3,444.0 445.7,442.7 446.1,441.4 446.5,440.1 447.0,438.8 447.4,437.5 447.8,436.3 448.3,435.1 448.7,433.9 449.1,432.7 449.6,431.6 450.0,430.4 450.4,429.4 450.8,428.3 451.3,427.3 451.7,426.3 452.1,425.4 452.6,424.5 453.0,423.7 453.4,422.8 453.8,422.0 454.3,421.2 454.7,420.4 455.1,419.6 455.6,418.8 456.0,418.1 456.4,417.3 456.9,416.6 457.3,415.8 457.7,415.1 458.4,414.1 459.0,413.2 459.6,412.4 460.3,411.6 460.9,411.0 461.6,410.4 462.4,409.9 463.3,409.5 464.2,409.1 465.0,408.7 465.9,408.4 466.7,408.1 467.6,407.8 468.5,407.5 469.3,407.3 470.2,407.2 471.0,407.0 471.9,407.0 472.7,407.0 473.6,407.0 474.5,407.2 475.3,407.5 476.2,407.8 477.0,408.1 477.9,408.6 478.8,409.0 479.6,409.4 480.5,409.9 481.3,410.4 482.0,410.9 482.6,411.5 483.3,412.1 483.9,412.7 484.6,413.4 485.2,414.0 485.8,414.7 486.5,415.3 487.1,415.9 487.8,416.4 488.4,416.9 489.1,417.4 489.7,417.9 490.4,418.4 491.0,418.8 491.9,419.5 492.7,420.1 493.6,420.7 494.4,421.3 495.3,421.8 496.2,422.4 497.0,422.9 497.9,423.4 498.7,423.8 499.6,424.3 500.5,424.7 501.3,425.1 502.2,425.5 503.0,425.9 503.9,426.2 504.7,426.6 505.6,426.9 506.5,427.3 507.3,427.6 508.2,427.9 509.0,428.1 509.9,428.4 510.8,428.6 511.6,428.8 512.5,429.0 513.3,429.1 514.2,429.3 515.1,429.5 515.9,429.6 516.8,429.7 517.6,429.9 518.5,430.0 519.3,430.1 520.2,430.2 521.1,430.3 521.9,430.4 522.8,430.5 523.6,430.5 524.5,430.6 525.4,430.7 526.2,430.7 527.1,430.8 527.9,430.8 528.8,430.9 529.7,430.9 530.5,431.0 531.4,431.0 532.2,431.1 533.1,431.1 534.0,431.1 534.8,431.2 535.7,431.2 536.5,431.2 537.4,431.2 538.2,431.3 539.1,431.3 540.0,431.3 540.8,431.4 541.7,431.4 542.5,431.4 543.4,431.4 544.3,431.5 545.1,431.5 546.0,431.5 546.8,431.5 547.7,431.6 548.6,431.6 549.4,431.6 550.3,431.6 551.1,431.6 552.0,431.7 552.9,431.7 553.7,431.7 554.6,431.7 555.4,431.7 556.3,431.8 557.1,431.8 558.0,431.8 558.9,431.8 559.7,431.8 560.6,431.9 561.4,431.9 562.3,431.9 563.2,431.9 564.0,431.9 564.9,431.9 565.7,432.0 566.6,432.0 567.5,432.0 568.3,432.0 569.2,432.0 570.0,432.0 570.9,432.1 571.8,432.1 572.6,432.1 573.5,432.1 574.3,432.1 575.2,432.2 576.0,432.2 576.9,432.2 577.8,432.2 578.6,432.2 579.5,432.3 580.3,432.3 581.2,432.3 582.1,432.3 582.9,432.3 583.8,432.4 584.6,432.4 585.5,432.4 586.4,432.4 587.2,432.4 588.1,432.5 588.9,432.5 589.8,432.5 590.7,432.5 591.5,432.5 592.4,432.6 593.2,432.6 594.1,432.6 594.9,432.6 595.8,432.6 596.7,432.6 597.5,432.7 598.4,432.7 599.2,432.7 600.1,432.7 601.0,432.7 601.8,432.8 602.7,432.8 603.5,432.8 604.4,432.8 605.3,432.8 606.1,432.9 607.0,432.9 607.8,432.9 608.7,432.9 609.5,432.9 610.4,432.9 611.3,433.0 612.1,433.0 613.0,433.0 613.8,433.0 614.7,433.0 615.6,433.0 616.4,433.1 617.3,433.1 618.1,433.1 619.0,433.1 619.9,433.1 620.7,433.1 621.6,433.2 622.4,433.2 623.3,433.2 624.2,433.2 625.0,433.2 625.9,433.2 626.7,433.2 627.6,433.3 628.4,433.3 629.3,433.3 630.2,433.3 631.0,433.3 631.9,433.3 632.7,433.3 633.6,433.4 634.5,433.4 635.3,433.4 636.2,433.4 637.0,433.4 637.9,433.4 638.8,433.4 639.6,433.5 640.5,433.5 641.3,433.5 642.2,433.5 643.1,433.5 643.9,433.5 644.8,433.5 645.6,433.5 646.5,433.6 647.3,433.6 648.2,433.6 649.1,433.6 649.9,433.6 650.8,433.6 651.6,433.6 652.5,433.6 653.4,433.6 654.2,433.7 655.1,433.7 655.9,433.7 656.8,433.7 657.7,433.7 658.5,433.7 659.4,433.7 660.2,433.7 661.1,433.7 662.0,433.8 662.8,433.8 663.7,433.8 664.5,433.8 665.4,433.8 666.2,433.8 667.1,433.8 668.0,433.8 668.8,433.8 669.7,433.8 670.5,433.9 671.4,433.9 672.3,433.9 673.1,433.9 674.0,433.9 674.8,433.9 675.7,433.9 676.6,433.9 677.2,433.9" fill="none" stroke="#f80000" stroke-width="3.3" stroke-linejoin="round" stroke-linecap="round" clip-path="url(#cB2)"/>
<path d="M419.7,547.3 420.1,546.1 420.6,544.8 421.0,543.5 421.4,542.1 421.8,540.7 422.3,539.2 422.7,537.7 422.9,536.9 423.1,536.1 423.4,535.4 423.6,534.6 423.8,533.8 424.0,533.0 424.2,532.1 424.4,531.3 424.6,530.5 424.9,529.6 425.1,528.7 425.3,527.8 425.5,526.9 425.7,526.0 425.9,525.0 426.1,524.0 426.4,523.0 426.6,522.0 426.8,520.9 427.0,519.8 427.2,518.7 427.4,517.5 427.6,516.2 427.9,514.9 428.1,513.5 428.3,512.1 428.5,510.7 428.7,509.2 428.9,507.7 429.1,506.1 429.4,504.6 429.6,503.1 429.8,501.5 430.0,500.0 430.2,498.4 430.4,496.9 430.7,495.4 430.9,493.9 431.1,492.3 431.3,490.7 431.5,489.0 431.7,487.4 431.9,485.7 432.2,484.0 432.4,482.3 432.6,480.7 432.8,479.1 433.0,477.5 433.2,475.9 433.4,474.4 433.7,473.0 433.9,471.7 434.1,470.4 434.3,469.2 434.5,468.1 434.7,467.1 434.9,466.0 435.2,465.0 435.4,464.1 435.6,463.2 435.8,462.3 436.0,461.4 436.2,460.5 436.5,459.7 436.7,458.9 436.9,458.0 437.1,457.2 437.3,456.4 437.5,455.6 437.7,454.7 438.0,453.9 438.2,453.1 438.4,452.2 438.6,451.3 438.8,450.4 439.0,449.5 439.2,448.7 439.5,447.8 439.7,446.9 439.9,446.0 440.1,445.1 440.3,444.3 440.5,443.4 440.7,442.5 441.0,441.7 441.2,440.8 441.4,440.0 441.6,439.1 441.8,438.3 442.0,437.4 442.3,436.6 442.5,435.8 442.7,435.0 442.9,434.2 443.1,433.3 443.3,432.5 443.5,431.7 443.8,430.9 444.0,430.1 444.2,429.3 444.4,428.5 444.6,427.7 444.8,427.0 445.0,426.2 445.3,425.4 445.5,424.6 445.7,423.8 445.9,423.1 446.1,422.3 446.3,421.5 446.5,420.7 446.8,420.0 447.0,419.2 447.2,418.4 447.6,416.9 447.8,416.1 448.0,415.3 448.3,414.4 448.5,413.6 448.7,412.7 448.9,411.9 449.1,411.1 449.3,410.3 449.8,408.8 450.2,407.6 450.6,406.7 451.1,405.9 451.5,405.2 452.1,404.3 452.8,403.4 453.4,402.6 454.1,401.8 454.7,400.9 455.4,400.0 456.0,399.2 456.6,398.3 457.3,397.4 457.9,396.5 458.6,395.7 459.2,394.9 459.9,394.1 460.5,393.3 461.1,392.6 461.8,391.9 462.4,391.2 463.1,390.6 463.7,390.0 464.4,389.3 465.0,388.7 465.7,388.1 466.3,387.5 466.9,386.9 467.6,386.4 468.2,385.9 468.9,385.4 469.7,384.8 470.6,384.3 471.5,383.9 472.3,383.6 473.2,383.4 474.0,383.1 474.9,382.9 475.8,382.8 476.6,382.8 477.5,382.8 478.3,383.0 479.2,383.3 480.0,383.6 480.9,384.0 481.8,384.5 482.6,384.9 483.5,385.3 484.3,385.6 485.2,386.0 486.1,386.3 486.9,386.6 487.8,387.0 488.6,387.3 489.5,387.7 490.4,388.0 491.2,388.4 492.1,388.8 492.9,389.3 493.8,389.8 494.7,390.3 495.5,390.9 496.4,391.5 497.2,392.0 498.1,392.6 498.9,393.1 499.8,393.6 500.7,394.1 501.5,394.5 502.4,395.0 503.2,395.4 504.1,395.8 505.0,396.2 505.8,396.6 506.7,397.0 507.5,397.4 508.4,397.9 509.3,398.4 510.1,398.8 511.0,399.3 511.8,399.7 512.7,400.0 513.6,400.3 514.4,400.6 515.3,400.8 516.1,401.1 517.0,401.3 517.8,401.5 518.7,401.6 519.6,401.8 520.4,401.9 521.3,402.0 522.1,402.1 523.0,402.2 523.9,402.3 524.7,402.3 525.6,402.4 526.4,402.5 527.3,402.6 528.2,402.6 529.0,402.7 529.9,402.7 530.7,402.8 531.6,402.9 532.5,402.9 533.3,402.9 534.2,403.0 535.0,403.0 535.9,403.1 536.7,403.1 537.6,403.1 538.5,403.1 539.3,403.2 540.2,403.2 541.0,403.2 541.9,403.2 542.8,403.2 543.6,403.2 544.5,403.2 545.3,403.2 546.2,403.3 547.1,403.3 547.9,403.3 548.8,403.3 549.6,403.3 550.5,403.3 551.3,403.3 552.2,403.3 553.1,403.3 553.9,403.3 554.8,403.3 555.6,403.4 556.5,403.4 557.4,403.4 558.2,403.4 559.1,403.4 559.9,403.4 560.8,403.4 561.7,403.4 562.5,403.4 563.4,403.4 564.2,403.4 565.1,403.4 566.0,403.4 566.8,403.4 567.7,403.4 568.5,403.4 569.4,403.5 570.2,403.5 571.1,403.5 572.0,403.5 572.8,403.5 573.7,403.5 574.5,403.5 575.4,403.5 576.3,403.5 577.1,403.5 578.0,403.5 578.8,403.6 579.7,403.6 580.6,403.6 581.4,403.6 582.3,403.6 583.1,403.6 584.0,403.6 584.9,403.6 585.7,403.6 586.6,403.7 587.4,403.7 588.3,403.7 589.1,403.7 590.0,403.7 590.9,403.7 591.7,403.7 592.6,403.7 593.4,403.7 594.3,403.7 595.2,403.8 596.0,403.8 596.9,403.8 597.7,403.8 598.6,403.8 599.5,403.8 600.3,403.8 601.2,403.8 602.0,403.9 602.9,403.9 603.8,403.9 604.6,403.9 605.5,403.9 606.3,403.9 607.2,403.9 608.0,403.9 608.9,403.9 609.8,404.0 610.6,404.0 611.5,404.0 612.3,404.0 613.2,404.0 614.1,404.0 614.9,404.0 615.8,404.0 616.6,404.1 617.5,404.1 618.4,404.1 619.2,404.1 620.1,404.1 620.9,404.1 621.8,404.1 622.7,404.1 623.5,404.2 624.4,404.2 625.2,404.2 626.1,404.2 626.9,404.2 627.8,404.2 628.7,404.2 629.5,404.3 630.4,404.3 631.2,404.3 632.1,404.3 633.0,404.3 633.8,404.3 634.7,404.3 635.5,404.3 636.4,404.4 637.3,404.4 638.1,404.4 639.0,404.4 639.8,404.4 640.7,404.4 641.5,404.4 642.4,404.5 643.3,404.5 644.1,404.5 645.0,404.5 645.8,404.5 646.7,404.5 647.6,404.5 648.4,404.6 649.3,404.6 650.1,404.6 651.0,404.6 651.9,404.6 652.7,404.6 653.6,404.6 654.4,404.7 655.3,404.7 656.2,404.7 657.0,404.7 657.9,404.7 658.7,404.7 659.6,404.7 660.4,404.8 661.3,404.8 662.2,404.8 663.0,404.8 663.9,404.8 664.7,404.8 665.6,404.8 666.5,404.9 667.3,404.9 668.2,404.9 669.0,404.9 669.9,404.9 670.8,404.9 671.6,405.0 672.5,405.0 673.3,405.0 674.2,405.0 675.1,405.0 675.9,405.0 676.8,405.1 677.2,405.1" fill="none" stroke="#0000e6" stroke-width="3.2" stroke-dasharray="4.2 9.2" stroke-linecap="round" stroke-linejoin="round" clip-path="url(#cB2)"/>
<path d="M419.7,547.3 420.1,546.1 420.6,544.8 421.0,543.5 421.4,542.1 421.8,540.7 422.3,539.2 422.7,537.7 422.9,536.9 423.1,536.1 423.4,535.4 423.6,534.6 423.8,533.8 424.0,533.0 424.2,532.1 424.4,531.3 424.6,530.5 424.9,529.6 425.1,528.7 425.3,527.8 425.5,526.9 425.7,526.0 425.9,525.0 426.1,524.0 426.4,523.0 426.6,522.0 426.8,520.9 427.0,519.8 427.2,518.7 427.4,517.5 427.6,516.2 427.9,514.9 428.1,513.5 428.3,512.1 428.5,510.7 428.7,509.2 428.9,507.7 429.1,506.1 429.4,504.6 429.6,503.1 429.8,501.5 430.0,500.0 430.2,498.4 430.4,496.9 430.7,495.4 430.9,493.9 431.1,492.3 431.3,490.7 431.5,489.0 431.7,487.4 431.9,485.7 432.2,484.0 432.4,482.3 432.6,480.7 432.8,479.1 433.0,477.5 433.2,475.9 433.4,474.4 433.7,473.0 433.9,471.7 434.1,470.4 434.3,469.2 434.5,468.1 434.7,467.1 434.9,466.0 435.2,465.0 435.4,464.1 435.6,463.2 435.8,462.3 436.0,461.4 436.2,460.5 436.5,459.7 436.7,458.9 436.9,458.0 437.1,457.2 437.3,456.4 437.5,455.6 437.7,454.7 438.0,453.9 438.2,453.1 438.4,452.2 438.6,451.3 438.8,450.4 439.0,449.5 439.2,448.7 439.5,447.8 439.7,446.9 439.9,446.0 440.1,445.1 440.3,444.3 440.5,443.4 440.7,442.5 441.0,441.7 441.2,440.8 441.4,440.0 441.6,439.1 441.8,438.3 442.0,437.4 442.3,436.6 442.5,435.8 442.7,435.0 442.9,434.2 443.1,433.3 443.3,432.5 443.5,431.7 443.8,430.9 444.0,430.1 444.2,429.3 444.4,428.5 444.6,427.7 444.8,427.0 445.0,426.2 445.3,425.4 445.5,424.6 445.7,423.8 445.9,423.1 446.1,422.3 446.3,421.5 446.5,420.7 446.8,420.0 447.0,419.2 447.2,418.4 447.6,416.9 447.8,416.1 448.0,415.3 448.3,414.5 448.5,413.7 448.7,412.9 448.9,412.1 449.1,411.4 449.6,409.8 450.0,408.4 450.4,407.1 450.8,405.9 451.3,404.8 451.7,403.7 452.1,402.7 452.6,401.7 453.0,400.7 453.4,399.7 453.8,398.8 454.3,397.8 454.7,396.9 455.1,396.0 455.6,395.1 456.0,394.3 456.4,393.4 456.9,392.6 457.3,391.8 457.7,391.0 458.1,390.2 458.6,389.4 459.0,388.6 459.4,387.9 459.9,387.1 460.3,386.3 460.7,385.5 461.1,384.8 461.6,384.0 462.0,383.3 462.4,382.6 463.1,381.6 463.7,380.7 464.4,379.9 465.0,379.3 465.7,378.7 466.3,378.1 466.9,377.6 467.6,377.1 468.5,376.5 469.3,376.0 470.2,375.6 471.0,375.2 471.9,374.9 472.7,374.6 473.6,374.3 474.5,374.1 475.3,373.9 476.2,373.7 477.0,373.6 477.9,373.6 478.8,373.7 479.6,373.8 480.5,374.0 481.3,374.3 482.2,374.5 483.1,374.8 483.9,375.1 484.8,375.4 485.6,375.7 486.5,376.1 487.4,376.5 488.2,376.9 489.1,377.4 489.9,377.9 490.8,378.4 491.6,378.9 492.5,379.4 493.4,379.9 494.2,380.3 495.1,380.8 495.9,381.3 496.8,381.8 497.7,382.3 498.5,382.8 499.4,383.4 500.2,383.9 501.1,384.4 502.0,384.9 502.8,385.4 503.7,385.8 504.5,386.3 505.4,386.7 506.2,387.1 507.1,387.5 508.0,387.9 508.8,388.3 509.7,388.7 510.5,389.1 511.4,389.5 512.3,389.9 513.1,390.4 514.0,390.8 514.8,391.3 515.7,391.7 516.6,392.2 517.4,392.6 518.3,393.1 519.1,393.4 520.0,393.8 520.9,394.1 521.7,394.4 522.6,394.6 523.4,394.7 524.3,394.9 525.1,395.0 526.0,395.1 526.9,395.2 527.7,395.3 528.6,395.4 529.4,395.5 530.3,395.6 531.2,395.7 532.0,395.7 532.9,395.8 533.7,395.8 534.6,395.9 535.5,395.9 536.3,395.9 537.2,395.9 538.0,395.9 538.9,396.0 539.8,396.0 540.6,396.0 541.5,396.0 542.3,396.0 543.2,396.0 544.0,396.0 544.9,396.0 545.8,396.0 546.6,396.1 547.5,396.1 548.3,396.1 549.2,396.1 550.1,396.1 550.9,396.1 551.8,396.1 552.6,396.1 553.5,396.1 554.4,396.1 555.2,396.1 556.1,396.1 556.9,396.1 557.8,396.1 558.7,396.1 559.5,396.1 560.4,396.1 561.2,396.1 562.1,396.2 562.9,396.2 563.8,396.2 564.7,396.2 565.5,396.2 566.4,396.2 567.2,396.2 568.1,396.2 569.0,396.2 569.8,396.2 570.7,396.2 571.5,396.2 572.4,396.2 573.3,396.2 574.1,396.2 575.0,396.3 575.8,396.3 576.7,396.3 577.6,396.3 578.4,396.3 579.3,396.3 580.1,396.3 581.0,396.3 581.8,396.3 582.7,396.3 583.6,396.4 584.4,396.4 585.3,396.4 586.1,396.4 587.0,396.4 587.9,396.4 588.7,396.4 589.6,396.4 590.4,396.5 591.3,396.5 592.2,396.5 593.0,396.5 593.9,396.5 594.7,396.5 595.6,396.5 596.4,396.5 597.3,396.6 598.2,396.6 599.0,396.6 599.9,396.6 600.7,396.6 601.6,396.6 602.5,396.6 603.3,396.7 604.2,396.7 605.0,396.7 605.9,396.7 606.8,396.7 607.6,396.7 608.5,396.7 609.3,396.7 610.2,396.8 611.1,396.8 611.9,396.8 612.8,396.8 613.6,396.8 614.5,396.8 615.3,396.8 616.2,396.8 617.1,396.8 617.9,396.9 618.8,396.9 619.6,396.9 620.5,396.9 621.4,396.9 622.2,396.9 623.1,396.9 623.9,396.9 624.8,396.9 625.7,396.9 626.5,396.9 627.4,396.9 628.2,397.0 629.1,397.0 630.0,397.0 630.8,397.0 631.7,397.0 632.5,397.0 633.4,397.0 634.2,397.0 635.1,397.0 636.0,397.0 636.8,397.0 637.7,397.0 638.5,397.0 639.4,397.1 640.3,397.1 641.1,397.1 642.0,397.1 642.8,397.1 643.7,397.1 644.6,397.1 645.4,397.1 646.3,397.1 647.1,397.1 648.0,397.1 648.9,397.1 649.7,397.1 650.6,397.1 651.4,397.1 652.3,397.1 653.1,397.2 654.0,397.2 654.9,397.2 655.7,397.2 656.6,397.2 657.4,397.2 658.3,397.2 659.2,397.2 660.0,397.2 660.9,397.2 661.7,397.2 662.6,397.2 663.5,397.2 664.3,397.2 665.2,397.2 666.0,397.2 666.9,397.2 667.8,397.2 668.6,397.2 669.5,397.2 670.3,397.3 671.2,397.3 672.0,397.3 672.9,397.3 673.8,397.3 674.6,397.3 675.5,397.3 676.3,397.3 677.2,397.3" fill="none" stroke="#f80000" stroke-width="3.2" stroke-dasharray="4.2 9.2" stroke-linecap="round" stroke-linejoin="round" clip-path="url(#cB2)"/>
<path d="M419.7,547.3 420.1,546.1 420.6,544.8 421.0,543.5 421.4,542.1 421.8,540.7 422.3,539.2 422.7,537.7 422.9,536.9 423.1,536.1 423.4,535.4 423.6,534.6 423.8,533.8 424.0,533.0 424.2,532.1 424.4,531.3 424.6,530.5 424.9,529.6 425.1,528.7 425.3,527.8 425.5,526.9 425.7,526.0 425.9,525.0 426.1,524.0 426.4,523.0 426.6,522.0 426.8,520.9 427.0,519.8 427.2,518.7 427.4,517.5 427.6,516.2 427.9,514.9 428.1,513.5 428.3,512.1 428.5,510.7 428.7,509.2 428.9,507.7 429.1,506.1 429.4,504.6 429.6,503.1 429.8,501.5 430.0,500.0 430.2,498.4 430.4,496.9 430.7,495.4 430.9,493.9 431.1,492.3 431.3,490.7 431.5,489.0 431.7,487.4 431.9,485.7 432.2,484.0 432.4,482.3 432.6,480.7 432.8,479.1 433.0,477.5 433.2,475.9 433.4,474.4 433.7,473.0 433.9,471.7 434.1,470.4 434.3,469.2 434.5,468.1 434.7,467.1 434.9,466.0 435.2,465.0 435.4,464.1 435.6,463.2 435.8,462.3 436.0,461.4 436.2,460.5 436.5,459.7 436.7,458.9 436.9,458.0 437.1,457.2 437.3,456.4 437.5,455.6 437.7,454.7 438.0,453.9 438.2,453.1 438.4,452.2 438.6,451.3 438.8,450.4 439.0,449.5 439.2,448.7 439.5,447.8 439.7,446.9 439.9,446.0 440.1,445.1 440.3,444.3 440.5,443.4 440.7,442.5 441.0,441.7 441.2,440.8 441.4,440.0 441.6,439.1 441.8,438.3 442.0,437.4 442.3,436.6 442.5,435.8 442.7,435.0 442.9,434.2 443.1,433.3 443.3,432.5 443.5,431.7 443.8,430.9 444.0,430.1 444.2,429.3 444.4,428.5 444.6,427.7 444.8,427.0 445.0,426.2 445.3,425.4 445.5,424.6 445.7,423.8 445.9,423.1 446.1,422.3 446.3,421.5 446.5,420.7 446.8,420.0 447.0,419.2 447.2,418.4 447.6,416.9 447.8,416.1 448.0,415.3 448.3,414.5 448.5,413.8 448.7,413.0 448.9,412.2 449.1,411.4 449.6,409.9 450.0,408.5 450.4,407.1 450.8,405.8 451.3,404.5 451.7,403.3 452.1,402.2 452.6,401.0 453.0,399.9 453.4,398.7 453.8,397.5 454.3,396.4 454.7,395.2 455.1,394.1 455.6,392.9 456.0,391.8 456.4,390.6 456.9,389.5 457.3,388.4 457.7,387.3 458.1,386.2 458.6,385.1 459.0,384.0 459.4,382.8 459.9,381.7 460.3,380.6 460.7,379.5 461.1,378.4 461.6,377.3 462.0,376.2 462.4,375.2 462.9,374.1 463.3,373.1 463.7,372.2 464.2,371.2 464.6,370.3 465.0,369.4 465.4,368.5 465.9,367.6 466.3,366.7 466.7,365.8 467.2,365.0 467.6,364.2 468.0,363.4 468.5,362.6 468.9,361.9 469.3,361.2 470.0,360.3 470.6,359.3 471.2,358.4 471.9,357.5 472.5,356.6 473.2,355.8 473.8,355.1 474.5,354.3 475.1,353.6 475.8,352.9 476.4,352.3 477.0,351.7 477.7,351.0 478.3,350.4 479.0,349.9 479.6,349.3 480.5,348.7 481.3,348.3 482.2,347.9 483.1,347.5 483.9,347.2 484.8,346.9 485.6,346.7 486.5,346.5 487.4,346.5 488.2,346.5 489.1,346.7 489.9,346.9 490.8,347.2 491.6,347.5 492.5,347.7 493.4,348.0 494.2,348.3 495.1,348.7 495.9,349.1 496.8,349.5 497.7,349.9 498.5,350.3 499.4,350.8 500.2,351.2 501.1,351.8 502.0,352.3 502.8,353.0 503.5,353.5 504.1,354.0 504.7,354.5 505.4,355.0 506.0,355.6 506.7,356.1 507.3,356.7 508.0,357.2 508.6,357.7 509.3,358.2 509.9,358.7 510.8,359.4 511.6,359.9 512.5,360.5 513.3,361.0 514.2,361.6 515.1,362.1 515.9,362.6 516.8,363.1 517.6,363.6 518.5,364.1 519.3,364.6 520.2,365.0 521.1,365.5 521.9,365.9 522.8,366.3 523.6,366.8 524.5,367.2 525.4,367.6 526.2,368.0 527.1,368.4 527.9,368.9 528.8,369.3 529.7,369.6 530.5,370.0 531.4,370.4 532.2,370.7 533.1,371.0 534.0,371.4 534.8,371.6 535.7,371.9 536.5,372.2 537.4,372.4 538.2,372.6 539.1,372.9 540.0,373.1 540.8,373.3 541.7,373.6 542.5,373.8 543.4,374.0 544.3,374.2 545.1,374.3 546.0,374.5 546.8,374.7 547.7,374.8 548.6,374.9 549.4,375.0 550.3,375.1 551.1,375.2 552.0,375.3 552.9,375.4 553.7,375.4 554.6,375.5 555.4,375.6 556.3,375.6 557.1,375.7 558.0,375.8 558.9,375.8 559.7,375.9 560.6,375.9 561.4,376.0 562.3,376.0 563.2,376.1 564.0,376.1 564.9,376.2 565.7,376.2 566.6,376.2 567.5,376.3 568.3,376.3 569.2,376.4 570.0,376.4 570.9,376.4 571.8,376.5 572.6,376.5 573.5,376.5 574.3,376.5 575.2,376.6 576.0,376.6 576.9,376.6 577.8,376.6 578.6,376.7 579.5,376.7 580.3,376.7 581.2,376.7 582.1,376.8 582.9,376.8 583.8,376.8 584.6,376.8 585.5,376.8 586.4,376.8 587.2,376.9 588.1,376.9 588.9,376.9 589.8,376.9 590.7,376.9 591.5,376.9 592.4,376.9 593.2,377.0 594.1,377.0 594.9,377.0 595.8,377.0 596.7,377.0 597.5,377.0 598.4,377.1 599.2,377.1 600.1,377.1 601.0,377.1 601.8,377.2 602.7,377.2 603.5,377.2 604.4,377.2 605.3,377.3 606.1,377.3 607.0,377.3 607.8,377.4 608.7,377.4 609.5,377.4 610.4,377.5 611.3,377.5 612.1,377.6 613.0,377.6 613.8,377.7 614.7,377.7 615.6,377.8 616.4,377.8 617.3,377.9 618.1,377.9 619.0,378.0 619.9,378.0 620.7,378.1 621.6,378.1 622.4,378.2 623.3,378.2 624.2,378.3 625.0,378.4 625.9,378.4 626.7,378.5 627.6,378.5 628.4,378.6 629.3,378.6 630.2,378.7 631.0,378.7 631.9,378.8 632.7,378.8 633.6,378.9 634.5,378.9 635.3,379.0 636.2,379.0 637.0,379.1 637.9,379.1 638.8,379.1 639.6,379.2 640.5,379.2 641.3,379.3 642.2,379.3 643.1,379.3 643.9,379.4 644.8,379.4 645.6,379.4 646.5,379.5 647.3,379.5 648.2,379.5 649.1,379.6 649.9,379.6 650.8,379.6 651.6,379.7 652.5,379.7 653.4,379.7 654.2,379.8 655.1,379.8 655.9,379.8 656.8,379.9 657.7,379.9 658.5,379.9 659.4,380.0 660.2,380.0 661.1,380.0 662.0,380.1 662.8,380.1 663.7,380.1 664.5,380.1 665.4,380.2 666.2,380.2 667.1,380.2 668.0,380.3 668.8,380.3 669.7,380.3 670.5,380.3 671.4,380.4 672.3,380.4 673.1,380.4 674.0,380.4 674.8,380.5 675.7,380.5 676.6,380.5 677.2,380.5" fill="none" stroke="#0000e6" stroke-width="3.1" stroke-dasharray="0 5.9" stroke-linecap="round" clip-path="url(#cB2)"/>
<path d="M419.7,547.3 420.1,546.1 420.6,544.8 421.0,543.5 421.4,542.1 421.8,540.7 422.3,539.2 422.7,537.7 422.9,536.9 423.1,536.1 423.4,535.4 423.6,534.6 423.8,533.8 424.0,533.0 424.2,532.1 424.4,531.3 424.6,530.5 424.9,529.6 425.1,528.7 425.3,527.8 425.5,526.9 425.7,526.0 425.9,525.0 426.1,524.0 426.4,523.0 426.6,522.0 426.8,520.9 427.0,519.8 427.2,518.7 427.4,517.5 427.6,516.2 427.9,514.9 428.1,513.5 428.3,512.1 428.5,510.7 428.7,509.2 428.9,507.7 429.1,506.1 429.4,504.6 429.6,503.1 429.8,501.5 430.0,500.0 430.2,498.4 430.4,496.9 430.7,495.4 430.9,493.9 431.1,492.3 431.3,490.7 431.5,489.0 431.7,487.4 431.9,485.7 432.2,484.0 432.4,482.3 432.6,480.7 432.8,479.1 433.0,477.5 433.2,475.9 433.4,474.4 433.7,473.0 433.9,471.7 434.1,470.4 434.3,469.2 434.5,468.1 434.7,467.1 434.9,466.0 435.2,465.0 435.4,464.1 435.6,463.2 435.8,462.3 436.0,461.4 436.2,460.5 436.5,459.7 436.7,458.9 436.9,458.0 437.1,457.2 437.3,456.4 437.5,455.6 437.7,454.7 438.0,453.9 438.2,453.1 438.4,452.2 438.6,451.3 438.8,450.4 439.0,449.5 439.2,448.7 439.5,447.8 439.7,446.9 439.9,446.0 440.1,445.1 440.3,444.3 440.5,443.4 440.7,442.5 441.0,441.7 441.2,440.8 441.4,440.0 441.6,439.1 441.8,438.3 442.0,437.4 442.3,436.6 442.5,435.8 442.7,435.0 442.9,434.2 443.1,433.3 443.3,432.5 443.5,431.7 443.8,430.9 444.0,430.1 444.2,429.3 444.4,428.5 444.6,427.7 444.8,427.0 445.0,426.2 445.3,425.4 445.5,424.6 445.7,423.8 445.9,423.1 446.1,422.3 446.3,421.5 446.5,420.7 446.8,420.0 447.0,419.2 447.2,418.4 447.6,416.9 448.0,415.3 448.5,413.8 448.9,412.3 449.3,410.8 449.8,409.3 450.2,407.8 450.6,406.3 451.1,404.9 451.5,403.4 451.9,402.0 452.3,400.6 452.8,399.1 453.2,397.7 453.6,396.4 454.1,395.0 454.5,393.7 454.9,392.5 455.4,391.2 455.8,390.0 456.2,388.8 456.6,387.6 457.1,386.4 457.5,385.3 457.9,384.1 458.4,383.0 458.8,381.9 459.2,380.8 459.6,379.7 460.1,378.6 460.5,377.5 460.9,376.4 461.4,375.3 461.8,374.3 462.2,373.3 462.7,372.3 463.1,371.3 463.5,370.4 463.9,369.5 464.4,368.6 464.8,367.7 465.2,366.9 465.7,366.0 466.1,365.2 466.5,364.4 466.9,363.6 467.4,362.9 467.8,362.1 468.2,361.5 468.9,360.5 469.5,359.6 470.2,358.7 470.8,357.8 471.5,356.9 472.1,356.1 472.7,355.3 473.4,354.6 474.0,353.9 474.7,353.4 475.5,352.8 476.4,352.5 477.3,352.1 478.1,351.8 479.0,351.5 479.8,351.2 480.7,350.9 481.6,350.7 482.4,350.6 483.3,350.4 484.1,350.3 485.0,350.3 485.8,350.3 486.7,350.4 487.6,350.6 488.4,350.9 489.3,351.2 490.1,351.5 491.0,351.8 491.9,352.1 492.7,352.5 493.6,352.9 494.4,353.3 495.3,353.7 496.2,354.2 497.0,354.6 497.9,355.1 498.7,355.6 499.6,356.1 500.5,356.6 501.3,357.1 502.2,357.6 503.0,358.2 503.9,358.8 504.7,359.5 505.6,360.1 506.2,360.6 506.9,361.0 507.8,361.7 508.6,362.3 509.5,362.9 510.3,363.4 511.2,364.0 512.0,364.5 512.9,365.0 513.8,365.5 514.6,366.0 515.5,366.5 516.3,366.9 517.2,367.4 518.1,367.8 518.9,368.3 519.8,368.7 520.6,369.2 521.5,369.6 522.4,370.0 523.2,370.4 524.1,370.8 524.9,371.2 525.8,371.5 526.7,371.9 527.5,372.3 528.4,372.7 529.2,373.1 530.1,373.4 530.9,373.8 531.8,374.1 532.7,374.4 533.5,374.7 534.4,375.0 535.2,375.2 536.1,375.5 537.0,375.7 537.8,376.0 538.7,376.2 539.5,376.4 540.4,376.7 541.3,376.9 542.1,377.1 543.0,377.3 543.8,377.5 544.7,377.7 545.6,377.9 546.4,378.0 547.3,378.1 548.1,378.2 549.0,378.3 549.8,378.4 550.7,378.5 551.6,378.5 552.4,378.5 553.3,378.6 554.1,378.6 555.0,378.6 555.9,378.6 556.7,378.7 557.6,378.7 558.4,378.7 559.3,378.7 560.2,378.8 561.0,378.8 561.9,378.8 562.7,378.8 563.6,378.8 564.4,378.8 565.3,378.9 566.2,378.9 567.0,378.9 567.9,378.9 568.7,378.9 569.6,378.9 570.5,378.9 571.3,378.9 572.2,378.9 573.0,378.9 573.9,379.0 574.8,379.0 575.6,379.0 576.5,379.0 577.3,379.0 578.2,379.0 579.1,379.0 579.9,379.0 580.8,379.0 581.6,379.0 582.5,379.0 583.3,379.0 584.2,379.0 585.1,379.0 585.9,379.0 586.8,379.0 587.6,379.0 588.5,379.0 589.4,379.0 590.2,379.1 591.1,379.1 591.9,379.1 592.8,379.1 593.7,379.1 594.5,379.1 595.4,379.1 596.2,379.1 597.1,379.1 598.0,379.1 598.8,379.1 599.7,379.1 600.5,379.1 601.4,379.1 602.2,379.1 603.1,379.1 604.0,379.1 604.8,379.1 605.7,379.1 606.5,379.2 607.4,379.2 608.3,379.2 609.1,379.2 610.0,379.2 610.8,379.2 611.7,379.2 612.6,379.3 613.4,379.3 614.3,379.3 615.1,379.3 616.0,379.3 616.9,379.4 617.7,379.4 618.6,379.4 619.4,379.4 620.3,379.5 621.1,379.5 622.0,379.5 622.9,379.5 623.7,379.6 624.6,379.6 625.4,379.6 626.3,379.6 627.2,379.7 628.0,379.7 628.9,379.7 629.7,379.8 630.6,379.8 631.5,379.8 632.3,379.8 633.2,379.9 634.0,379.9 634.9,379.9 635.8,379.9 636.6,379.9 637.5,380.0 638.3,380.0 639.2,380.0 640.0,380.0 640.9,380.1 641.8,380.1 642.6,380.1 643.5,380.1 644.3,380.1 645.2,380.2 646.1,380.2 646.9,380.2 647.8,380.2 648.6,380.2 649.5,380.3 650.4,380.3 651.2,380.3 652.1,380.3 652.9,380.3 653.8,380.4 654.6,380.4 655.5,380.4 656.4,380.4 657.2,380.4 658.1,380.4 658.9,380.5 659.8,380.5 660.7,380.5 661.5,380.5 662.4,380.5 663.2,380.6 664.1,380.6 665.0,380.6 665.8,380.6 666.7,380.6 667.5,380.7 668.4,380.7 669.3,380.7 670.1,380.7 671.0,380.7 671.8,380.7 672.7,380.8 673.5,380.8 674.4,380.8 675.3,380.8 676.1,380.8 677.0,380.9 677.2,380.9" fill="none" stroke="#f80000" stroke-width="3.1" stroke-dasharray="0 5.9" stroke-linecap="round" clip-path="url(#cB2)"/>
<line x1="415.5" y1="547.3" x2="419.7" y2="547.3" stroke="#000" stroke-width="1.6" />
<line x1="417.4" y1="541.54" x2="419.7" y2="541.54" stroke="#000" stroke-width="1.3" />
<line x1="417.4" y1="535.78" x2="419.7" y2="535.78" stroke="#000" stroke-width="1.3" />
<line x1="417.4" y1="530.02" x2="419.7" y2="530.02" stroke="#000" stroke-width="1.3" />
<line x1="417.4" y1="524.26" x2="419.7" y2="524.26" stroke="#000" stroke-width="1.3" />
<line x1="417.4" y1="518.49" x2="419.7" y2="518.49" stroke="#000" stroke-width="1.3" />
<line x1="415.5" y1="512.73" x2="419.7" y2="512.73" stroke="#000" stroke-width="1.6" />
<line x1="417.4" y1="506.97" x2="419.7" y2="506.97" stroke="#000" stroke-width="1.3" />
<line x1="417.4" y1="501.21" x2="419.7" y2="501.21" stroke="#000" stroke-width="1.3" />
<line x1="417.4" y1="495.45" x2="419.7" y2="495.45" stroke="#000" stroke-width="1.3" />
<line x1="417.4" y1="489.69" x2="419.7" y2="489.69" stroke="#000" stroke-width="1.3" />
<line x1="417.4" y1="483.93" x2="419.7" y2="483.93" stroke="#000" stroke-width="1.3" />
<line x1="415.5" y1="478.17" x2="419.7" y2="478.17" stroke="#000" stroke-width="1.6" />
<line x1="417.4" y1="472.41" x2="419.7" y2="472.41" stroke="#000" stroke-width="1.3" />
<line x1="417.4" y1="466.64" x2="419.7" y2="466.64" stroke="#000" stroke-width="1.3" />
<line x1="417.4" y1="460.88" x2="419.7" y2="460.88" stroke="#000" stroke-width="1.3" />
<line x1="417.4" y1="455.12" x2="419.7" y2="455.12" stroke="#000" stroke-width="1.3" />
<line x1="417.4" y1="449.36" x2="419.7" y2="449.36" stroke="#000" stroke-width="1.3" />
<line x1="415.5" y1="443.6" x2="419.7" y2="443.6" stroke="#000" stroke-width="1.6" />
<line x1="417.4" y1="437.84" x2="419.7" y2="437.84" stroke="#000" stroke-width="1.3" />
<line x1="417.4" y1="432.08" x2="419.7" y2="432.08" stroke="#000" stroke-width="1.3" />
<line x1="417.4" y1="426.32" x2="419.7" y2="426.32" stroke="#000" stroke-width="1.3" />
<line x1="417.4" y1="420.56" x2="419.7" y2="420.56" stroke="#000" stroke-width="1.3" />
<line x1="417.4" y1="414.79" x2="419.7" y2="414.79" stroke="#000" stroke-width="1.3" />
<line x1="415.5" y1="409.03" x2="419.7" y2="409.03" stroke="#000" stroke-width="1.6" />
<line x1="417.4" y1="403.27" x2="419.7" y2="403.27" stroke="#000" stroke-width="1.3" />
<line x1="417.4" y1="397.51" x2="419.7" y2="397.51" stroke="#000" stroke-width="1.3" />
<line x1="417.4" y1="391.75" x2="419.7" y2="391.75" stroke="#000" stroke-width="1.3" />
<line x1="417.4" y1="385.99" x2="419.7" y2="385.99" stroke="#000" stroke-width="1.3" />
<line x1="417.4" y1="380.23" x2="419.7" y2="380.23" stroke="#000" stroke-width="1.3" />
<line x1="415.5" y1="374.47" x2="419.7" y2="374.47" stroke="#000" stroke-width="1.6" />
<line x1="417.4" y1="368.71" x2="419.7" y2="368.71" stroke="#000" stroke-width="1.3" />
<line x1="417.4" y1="362.94" x2="419.7" y2="362.94" stroke="#000" stroke-width="1.3" />
<line x1="417.4" y1="357.18" x2="419.7" y2="357.18" stroke="#000" stroke-width="1.3" />
<line x1="417.4" y1="351.42" x2="419.7" y2="351.42" stroke="#000" stroke-width="1.3" />
<line x1="417.4" y1="345.66" x2="419.7" y2="345.66" stroke="#000" stroke-width="1.3" />
<line x1="415.5" y1="339.9" x2="419.7" y2="339.9" stroke="#000" stroke-width="1.6" />
<line x1="419.7" y1="547.3" x2="419.7" y2="551.5" stroke="#000" stroke-width="1.6" />
<line x1="426.14" y1="547.3" x2="426.14" y2="549.7" stroke="#000" stroke-width="1.3" />
<line x1="432.57" y1="547.3" x2="432.57" y2="551.5" stroke="#000" stroke-width="1.6" />
<line x1="439.01" y1="547.3" x2="439.01" y2="549.7" stroke="#000" stroke-width="1.3" />
<line x1="445.45" y1="547.3" x2="445.45" y2="551.5" stroke="#000" stroke-width="1.6" />
<line x1="451.89" y1="547.3" x2="451.89" y2="549.7" stroke="#000" stroke-width="1.3" />
<line x1="458.32" y1="547.3" x2="458.32" y2="551.5" stroke="#000" stroke-width="1.6" />
<line x1="464.76" y1="547.3" x2="464.76" y2="549.7" stroke="#000" stroke-width="1.3" />
<line x1="471.2" y1="547.3" x2="471.2" y2="551.5" stroke="#000" stroke-width="1.6" />
<line x1="477.64" y1="547.3" x2="477.64" y2="549.7" stroke="#000" stroke-width="1.3" />
<line x1="484.07" y1="547.3" x2="484.07" y2="551.5" stroke="#000" stroke-width="1.6" />
<line x1="490.51" y1="547.3" x2="490.51" y2="549.7" stroke="#000" stroke-width="1.3" />
<line x1="496.95" y1="547.3" x2="496.95" y2="551.5" stroke="#000" stroke-width="1.6" />
<line x1="503.39" y1="547.3" x2="503.39" y2="549.7" stroke="#000" stroke-width="1.3" />
<line x1="509.82" y1="547.3" x2="509.82" y2="551.5" stroke="#000" stroke-width="1.6" />
<line x1="516.26" y1="547.3" x2="516.26" y2="549.7" stroke="#000" stroke-width="1.3" />
<line x1="522.7" y1="547.3" x2="522.7" y2="551.5" stroke="#000" stroke-width="1.6" />
<line x1="529.14" y1="547.3" x2="529.14" y2="549.7" stroke="#000" stroke-width="1.3" />
<line x1="535.58" y1="547.3" x2="535.58" y2="551.5" stroke="#000" stroke-width="1.6" />
<line x1="542.01" y1="547.3" x2="542.01" y2="549.7" stroke="#000" stroke-width="1.3" />
<line x1="548.45" y1="547.3" x2="548.45" y2="551.5" stroke="#000" stroke-width="1.6" />
<line x1="554.89" y1="547.3" x2="554.89" y2="549.7" stroke="#000" stroke-width="1.3" />
<line x1="561.33" y1="547.3" x2="561.33" y2="551.5" stroke="#000" stroke-width="1.6" />
<line x1="567.76" y1="547.3" x2="567.76" y2="549.7" stroke="#000" stroke-width="1.3" />
<line x1="574.2" y1="547.3" x2="574.2" y2="551.5" stroke="#000" stroke-width="1.6" />
<line x1="580.64" y1="547.3" x2="580.64" y2="549.7" stroke="#000" stroke-width="1.3" />
<line x1="587.08" y1="547.3" x2="587.08" y2="551.5" stroke="#000" stroke-width="1.6" />
<line x1="593.51" y1="547.3" x2="593.51" y2="549.7" stroke="#000" stroke-width="1.3" />
<line x1="599.95" y1="547.3" x2="599.95" y2="551.5" stroke="#000" stroke-width="1.6" />
<line x1="606.39" y1="547.3" x2="606.39" y2="549.7" stroke="#000" stroke-width="1.3" />
<line x1="612.83" y1="547.3" x2="612.83" y2="551.5" stroke="#000" stroke-width="1.6" />
<line x1="619.26" y1="547.3" x2="619.26" y2="549.7" stroke="#000" stroke-width="1.3" />
<line x1="625.7" y1="547.3" x2="625.7" y2="551.5" stroke="#000" stroke-width="1.6" />
<line x1="632.14" y1="547.3" x2="632.14" y2="549.7" stroke="#000" stroke-width="1.3" />
<line x1="638.58" y1="547.3" x2="638.58" y2="551.5" stroke="#000" stroke-width="1.6" />
<line x1="645.01" y1="547.3" x2="645.01" y2="549.7" stroke="#000" stroke-width="1.3" />
<line x1="651.45" y1="547.3" x2="651.45" y2="551.5" stroke="#000" stroke-width="1.6" />
<line x1="657.89" y1="547.3" x2="657.89" y2="549.7" stroke="#000" stroke-width="1.3" />
<line x1="664.33" y1="547.3" x2="664.33" y2="551.5" stroke="#000" stroke-width="1.6" />
<line x1="670.76" y1="547.3" x2="670.76" y2="549.7" stroke="#000" stroke-width="1.3" />
<line x1="677.2" y1="547.3" x2="677.2" y2="551.5" stroke="#000" stroke-width="1.6" />
<line x1="419.7" y1="338.9" x2="419.7" y2="548.3" stroke="#000" stroke-width="2.0" />
<line x1="418.7" y1="547.3" x2="678.2" y2="547.3" stroke="#000" stroke-width="2.0" />
<line x1="677.2" y1="339.9" x2="677.2" y2="547.3" stroke="#000" stroke-width="2.0" />
<line x1="418.7" y1="339.9" x2="678.2" y2="339.9" stroke="#000" stroke-width="2.0" />
<text x="411.5" y="551.02" font-family='"Liberation Sans", sans-serif' font-size="11.8" font-weight="bold" text-anchor="end" fill="#000" stroke="#000" stroke-width="0.3" >0</text>
<text x="411.5" y="516.46" font-family='"Liberation Sans", sans-serif' font-size="11.8" font-weight="bold" text-anchor="end" fill="#000" stroke="#000" stroke-width="0.3" >20</text>
<text x="411.5" y="481.89" font-family='"Liberation Sans", sans-serif' font-size="11.8" font-weight="bold" text-anchor="end" fill="#000" stroke="#000" stroke-width="0.3" >40</text>
<text x="411.5" y="447.32" font-family='"Liberation Sans", sans-serif' font-size="11.8" font-weight="bold" text-anchor="end" fill="#000" stroke="#000" stroke-width="0.3" >60</text>
<text x="411.5" y="412.76" font-family='"Liberation Sans", sans-serif' font-size="11.8" font-weight="bold" text-anchor="end" fill="#000" stroke="#000" stroke-width="0.3" >80</text>
<text x="411.5" y="378.19" font-family='"Liberation Sans", sans-serif' font-size="11.8" font-weight="bold" text-anchor="end" fill="#000" stroke="#000" stroke-width="0.3" >100</text>
<text x="411.5" y="343.62" font-family='"Liberation Sans", sans-serif' font-size="11.8" font-weight="bold" text-anchor="end" fill="#000" stroke="#000" stroke-width="0.3" >120</text>
<text transform="translate(424,554.6) rotate(-90)" font-family='"Liberation Sans", sans-serif' font-size="12.0" font-weight="bold" text-anchor="end" stroke="#000" stroke-width="0.3">0</text>
<text transform="translate(436.87,554.6) rotate(-90)" font-family='"Liberation Sans", sans-serif' font-size="12.0" font-weight="bold" text-anchor="end" stroke="#000" stroke-width="0.3">10</text>
<text transform="translate(449.75,554.6) rotate(-90)" font-family='"Liberation Sans", sans-serif' font-size="12.0" font-weight="bold" text-anchor="end" stroke="#000" stroke-width="0.3">20</text>
<text transform="translate(462.62,554.6) rotate(-90)" font-family='"Liberation Sans", sans-serif' font-size="12.0" font-weight="bold" text-anchor="end" stroke="#000" stroke-width="0.3">30</text>
<text transform="translate(475.5,554.6) rotate(-90)" font-family='"Liberation Sans", sans-serif' font-size="12.0" font-weight="bold" text-anchor="end" stroke="#000" stroke-width="0.3">40</text>
<text transform="translate(488.37,554.6) rotate(-90)" font-family='"Liberation Sans", sans-serif' font-size="12.0" font-weight="bold" text-anchor="end" stroke="#000" stroke-width="0.3">50</text>
<text transform="translate(501.25,554.6) rotate(-90)" font-family='"Liberation Sans", sans-serif' font-size="12.0" font-weight="bold" text-anchor="end" stroke="#000" stroke-width="0.3">60</text>
<text transform="translate(514.12,554.6) rotate(-90)" font-family='"Liberation Sans", sans-serif' font-size="12.0" font-weight="bold" text-anchor="end" stroke="#000" stroke-width="0.3">70</text>
<text transform="translate(527,554.6) rotate(-90)" font-family='"Liberation Sans", sans-serif' font-size="12.0" font-weight="bold" text-anchor="end" stroke="#000" stroke-width="0.3">80</text>
<text transform="translate(539.87,554.6) rotate(-90)" font-family='"Liberation Sans", sans-serif' font-size="12.0" font-weight="bold" text-anchor="end" stroke="#000" stroke-width="0.3">90</text>
<text transform="translate(552.75,554.6) rotate(-90)" font-family='"Liberation Sans", sans-serif' font-size="12.0" font-weight="bold" text-anchor="end" stroke="#000" stroke-width="0.3">100</text>
<text transform="translate(565.62,554.6) rotate(-90)" font-family='"Liberation Sans", sans-serif' font-size="12.0" font-weight="bold" text-anchor="end" stroke="#000" stroke-width="0.3">110</text>
<text transform="translate(578.5,554.6) rotate(-90)" font-family='"Liberation Sans", sans-serif' font-size="12.0" font-weight="bold" text-anchor="end" stroke="#000" stroke-width="0.3">120</text>
<text transform="translate(591.37,554.6) rotate(-90)" font-family='"Liberation Sans", sans-serif' font-size="12.0" font-weight="bold" text-anchor="end" stroke="#000" stroke-width="0.3">130</text>
<text transform="translate(604.25,554.6) rotate(-90)" font-family='"Liberation Sans", sans-serif' font-size="12.0" font-weight="bold" text-anchor="end" stroke="#000" stroke-width="0.3">140</text>
<text transform="translate(617.12,554.6) rotate(-90)" font-family='"Liberation Sans", sans-serif' font-size="12.0" font-weight="bold" text-anchor="end" stroke="#000" stroke-width="0.3">150</text>
<text transform="translate(630,554.6) rotate(-90)" font-family='"Liberation Sans", sans-serif' font-size="12.0" font-weight="bold" text-anchor="end" stroke="#000" stroke-width="0.3">160</text>
<text transform="translate(642.87,554.6) rotate(-90)" font-family='"Liberation Sans", sans-serif' font-size="12.0" font-weight="bold" text-anchor="end" stroke="#000" stroke-width="0.3">170</text>
<text transform="translate(655.75,554.6) rotate(-90)" font-family='"Liberation Sans", sans-serif' font-size="12.0" font-weight="bold" text-anchor="end" stroke="#000" stroke-width="0.3">180</text>
<text transform="translate(668.62,554.6) rotate(-90)" font-family='"Liberation Sans", sans-serif' font-size="12.0" font-weight="bold" text-anchor="end" stroke="#000" stroke-width="0.3">190</text>
<text transform="translate(681.5,554.6) rotate(-90)" font-family='"Liberation Sans", sans-serif' font-size="12.0" font-weight="bold" text-anchor="end" stroke="#000" stroke-width="0.3">200</text>
<rect x="561.8" y="450.2" width="110.8" height="87.9" fill="#fff" stroke="#222" stroke-width="1.4"/>
<line x1="562.3" y1="458.7" x2="590.4" y2="458.7" stroke="#0000e6" stroke-width="3.2"/>
<text x="593" y="461.99" font-family='"Liberation Sans", sans-serif' font-size="9.2" font-weight="bold" text-anchor="start" fill="#000" textLength="77.6" lengthAdjust="spacingAndGlyphs" stroke="#000" stroke-width="0.3" >S1OM-1.5h-0.2h</text>
<line x1="563.4" y1="473.2" x2="569.3" y2="473.2" stroke="#0000e6" stroke-width="3.2" stroke-linecap="round"/>
<line x1="577.2" y1="473.2" x2="583.1" y2="473.2" stroke="#0000e6" stroke-width="3.2" stroke-linecap="round"/>
<text x="593" y="476.49" font-family='"Liberation Sans", sans-serif' font-size="9.2" font-weight="bold" text-anchor="start" fill="#000" textLength="77.6" lengthAdjust="spacingAndGlyphs" stroke="#000" stroke-width="0.3" >S1OM-1.5h-0.3h</text>
<circle cx="562.8" cy="487.6" r="1.4" fill="#0000e6"/>
<circle cx="568.7" cy="487.6" r="1.4" fill="#0000e6"/>
<circle cx="574.6" cy="487.6" r="1.4" fill="#0000e6"/>
<circle cx="580.5" cy="487.6" r="1.4" fill="#0000e6"/>
<circle cx="586.4" cy="487.6" r="1.4" fill="#0000e6"/>
<text x="593" y="490.89" font-family='"Liberation Sans", sans-serif' font-size="9.2" font-weight="bold" text-anchor="start" fill="#000" textLength="77.6" lengthAdjust="spacingAndGlyphs" stroke="#000" stroke-width="0.3" >S1OM-1.5h-0.4h</text>
<line x1="562.3" y1="502.1" x2="590.4" y2="502.1" stroke="#f80000" stroke-width="3.2"/>
<text x="593" y="505.39" font-family='"Liberation Sans", sans-serif' font-size="9.2" font-weight="bold" text-anchor="start" fill="#000" textLength="77.6" lengthAdjust="spacingAndGlyphs" stroke="#000" stroke-width="0.3" >S1OM-2.0h-0.2h</text>
<line x1="563.4" y1="516.5" x2="569.3" y2="516.5" stroke="#f80000" stroke-width="3.2" stroke-linecap="round"/>
<line x1="577.2" y1="516.5" x2="583.1" y2="516.5" stroke="#f80000" stroke-width="3.2" stroke-linecap="round"/>
<text x="593" y="519.79" font-family='"Liberation Sans", sans-serif' font-size="9.2" font-weight="bold" text-anchor="start" fill="#000" textLength="77.6" lengthAdjust="spacingAndGlyphs" stroke="#000" stroke-width="0.3" >S1OM-2.0h-0.3h</text>
<circle cx="562.8" cy="531" r="1.4" fill="#f80000"/>
<circle cx="568.7" cy="531" r="1.4" fill="#f80000"/>
<circle cx="574.6" cy="531" r="1.4" fill="#f80000"/>
<circle cx="580.5" cy="531" r="1.4" fill="#f80000"/>
<circle cx="586.4" cy="531" r="1.4" fill="#f80000"/>
<text x="593" y="534.29" font-family='"Liberation Sans", sans-serif' font-size="9.2" font-weight="bold" text-anchor="start" fill="#000" textLength="77.6" lengthAdjust="spacingAndGlyphs" stroke="#000" stroke-width="0.3" >S1OM-2.0h-0.4h</text>
<rect x="460.2" y="493.5" width="70.2" height="16.6" fill="#fff" stroke="#333" stroke-width="1.3"/>
<text x="464.7" y="505.8" font-family='"Liberation Sans", sans-serif' font-size="11.6" font-weight="bold" text-anchor="start" fill="#000" textLength="61.2" lengthAdjust="spacingAndGlyphs" stroke="#000" stroke-width="0.01" >Top chord</text>
<line x1="467.8" y1="346.3" x2="485" y2="346.3" stroke="#333" stroke-width="0.9" />
<line x1="489" y1="349.9" x2="516" y2="349.9" stroke="#333" stroke-width="0.9" />
<circle cx="486.4" cy="350.4" r="3.0" fill="#fff" stroke="#333" stroke-width="0.9"/>
<circle cx="488" cy="346.3" r="3.0" fill="#fff" stroke="#333" stroke-width="0.9"/>
<text x="432.7" y="350.4" font-family='"Liberation Sans", sans-serif' font-size="11" font-weight="bold" text-anchor="start" fill="#000" textLength="34.7" lengthAdjust="spacingAndGlyphs" stroke="#000" stroke-width="0.12" >115.84</text>
<text x="516" y="354.1" font-family='"Liberation Sans", sans-serif' font-size="11" font-weight="bold" text-anchor="start" fill="#000" textLength="33.8" lengthAdjust="spacingAndGlyphs" stroke="#000" stroke-width="0.12" >114.01</text>
<line x1="480.5" y1="373.3" x2="495" y2="373.3" stroke="#333" stroke-width="0.9" />
<circle cx="477.8" cy="373.3" r="3.0" fill="#fff" stroke="#333" stroke-width="0.9"/>
<text x="495.2" y="377.4" font-family='"Liberation Sans", sans-serif' font-size="11" font-weight="bold" text-anchor="start" fill="#000" textLength="34.8" lengthAdjust="spacingAndGlyphs" stroke="#000" stroke-width="0.12" >100.36</text>
<line x1="452" y1="382.7" x2="474" y2="382.7" stroke="#333" stroke-width="0.9" />
<circle cx="476.8" cy="382.7" r="3.0" fill="#fff" stroke="#333" stroke-width="0.9"/>
<text x="423.1" y="386.2" font-family='"Liberation Sans", sans-serif' font-size="11" font-weight="bold" text-anchor="start" fill="#000" textLength="28.6" lengthAdjust="spacingAndGlyphs" stroke="#000" stroke-width="0.12" >95.14</text>
<line x1="450.5" y1="406.6" x2="470.4" y2="406.6" stroke="#333" stroke-width="0.9" />
<circle cx="473.1" cy="406.6" r="3.0" fill="#fff" stroke="#333" stroke-width="0.9"/>
<text x="421.6" y="410.1" font-family='"Liberation Sans", sans-serif' font-size="11" font-weight="bold" text-anchor="start" fill="#000" textLength="28.6" lengthAdjust="spacingAndGlyphs" stroke="#000" stroke-width="0.12" >81.15</text>
<line x1="473.8" y1="412.4" x2="501" y2="412.4" stroke="#333" stroke-width="0.9" />
<circle cx="471.1" cy="412.4" r="3.0" fill="#fff" stroke="#333" stroke-width="0.9"/>
<text x="501.3" y="415.8" font-family='"Liberation Sans", sans-serif' font-size="11" font-weight="bold" text-anchor="start" fill="#000" textLength="28.7" lengthAdjust="spacingAndGlyphs" stroke="#000" stroke-width="0.12" >77.92</text>
<text transform="translate(385.55,442.5) rotate(-90)" font-family='"Liberation Sans", sans-serif' font-size="14.1" font-weight="bold" text-anchor="middle" textLength="118.7" lengthAdjust="spacingAndGlyphs" stroke="#000" stroke-width="0.4">Deflection (mm)</text>
<text x="511.7" y="588.7" font-family='"Liberation Sans", sans-serif' font-size="12.9" font-weight="bold" text-anchor="start" fill="#000" textLength="72.9" lengthAdjust="spacingAndGlyphs" stroke="#000" stroke-width="0.4" >Time (ms)</text>
<defs><clipPath id="cC1"><rect x="39.4" y="682" width="263.5" height="213.5"/></clipPath><clipPath id="cC1i"><rect x="158.4" y="630.9" width="135.8" height="110.7"/></clipPath></defs>
<path d="M39.4,895.0 40.3,895.0 41.2,895.0 42.0,895.0 42.9,895.0 43.8,895.0 44.7,895.0 45.6,895.0 46.4,895.0 47.3,895.0 48.2,895.0 49.1,895.0 49.5,894.0 49.7,892.9 49.9,891.6 50.2,890.0 50.4,888.2 50.6,886.2 50.8,884.1 51.0,882.0 51.3,879.8 51.5,877.7 51.7,875.6 51.9,873.7 52.1,871.7 52.4,869.6 52.6,867.4 52.8,865.2 53.0,862.8 53.2,860.4 53.5,858.1 53.7,855.7 53.9,853.4 54.1,851.2 54.3,849.0 54.6,847.0 54.8,845.0 55.0,843.1 55.2,841.2 55.4,839.4 55.7,837.5 55.9,835.7 56.1,833.9 56.3,832.1 56.5,830.4 56.8,828.7 57.0,827.0 57.2,825.3 57.4,823.7 57.6,822.1 57.9,820.6 58.1,819.0 58.3,817.5 58.5,816.1 58.7,814.7 59.0,813.3 59.2,812.0 59.4,810.7 59.6,809.5 59.8,808.3 60.1,807.1 60.3,805.9 60.5,804.7 60.7,803.4 60.9,802.2 61.2,800.9 61.4,799.6 61.6,798.2 61.8,796.8 62.0,795.4 62.3,794.0 62.5,792.6 62.7,791.2 62.9,789.8 63.1,788.4 63.4,787.0 63.6,785.7 63.8,784.4 64.0,783.2 64.2,782.0 64.5,780.9 64.7,779.9 64.9,778.8 65.1,777.9 65.3,776.9 65.6,775.9 65.8,775.0 66.0,774.1 66.2,773.2 66.4,772.4 66.7,771.6 66.9,770.7 67.1,769.9 67.3,769.1 67.5,768.4 68.0,766.8 68.4,765.3 68.8,763.9 69.3,762.6 69.7,761.6 70.2,760.7 70.6,760.0 71.0,759.3 71.7,758.4 72.4,757.6 73.0,756.9 73.7,756.1 74.3,755.4 75.0,754.8 75.7,754.1 76.3,753.5 77.0,752.9 77.6,752.4 78.3,751.8 79.0,751.2 79.6,750.6 80.3,750.0 80.9,749.5 81.6,748.9 82.3,748.3 82.9,747.8 83.6,747.2 84.2,746.7 84.9,746.2 85.6,745.6 86.2,745.1 86.9,744.5 87.5,743.9 88.2,743.2 88.8,742.6 89.5,741.9 90.2,741.3 90.8,740.8 91.7,740.3 92.6,740.0 93.5,740.0 94.3,740.4 95.0,741.0 95.7,741.7 96.3,742.5 97.0,743.4 97.6,744.3 98.3,745.3 99.0,746.2 99.6,747.2 100.3,748.0 100.9,748.9 101.6,749.7 102.3,750.6 102.9,751.6 103.6,752.5 104.0,753.2 104.5,753.9 104.9,754.7 105.3,755.4 105.8,756.3 106.2,757.3 106.6,758.4 107.1,759.5 107.5,760.4 108.0,761.1 108.6,761.9 109.3,762.5 109.9,763.1 110.6,763.7 111.3,764.2 111.9,764.7 112.6,765.2 113.2,765.7 113.9,766.2 114.6,766.7 115.2,767.2 115.9,767.7 116.5,768.1 117.2,768.6 117.9,769.1 118.5,769.5 119.2,770.0 119.8,770.5 120.5,771.0 121.2,771.5 121.8,772.0 122.5,772.5 123.1,773.0 123.8,773.5 124.4,773.9 125.1,774.4 126.0,775.0 126.9,775.5 127.7,776.0 128.6,776.5 129.5,776.9 130.4,777.3 131.3,777.8 132.1,778.2 133.0,778.6 133.9,778.9 134.8,779.3 135.7,779.6 136.5,779.9 137.4,780.2 138.3,780.4 139.2,780.7 140.1,780.9 140.9,781.1 141.8,781.4 142.7,781.6 143.6,781.8 144.4,782.0 145.3,782.2 146.2,782.3 147.1,782.5 148.0,782.6 148.8,782.7 149.7,782.8 150.6,782.9 151.5,782.9 152.4,782.9 153.2,783.0 154.1,783.0 155.0,783.1 155.9,783.1 156.8,783.1 157.6,783.2 158.5,783.2 159.4,783.2 160.3,783.2 161.2,783.3 162.0,783.3 162.9,783.3 163.8,783.3 164.7,783.3 165.5,783.3 166.4,783.4 167.3,783.4 168.2,783.4 169.1,783.4 169.9,783.4 170.8,783.4 171.7,783.5 172.6,783.5 173.5,783.5 174.3,783.5 175.2,783.5 176.1,783.5 177.0,783.5 177.9,783.5 178.7,783.5 179.6,783.6 180.5,783.6 181.4,783.6 182.2,783.6 183.1,783.6 184.0,783.6 184.9,783.6 185.8,783.6 186.6,783.6 187.5,783.6 188.4,783.6 189.3,783.7 190.2,783.7 191.0,783.7 191.9,783.7 192.8,783.7 193.7,783.7 194.6,783.7 195.4,783.7 196.3,783.7 197.2,783.7 198.1,783.7 199.0,783.7 199.8,783.7 200.7,783.7 201.6,783.8 202.5,783.8 203.3,783.8 204.2,783.8 205.1,783.8 206.0,783.8 206.9,783.8 207.7,783.8 208.6,783.8 209.5,783.8 210.4,783.8 211.3,783.8 212.1,783.8 213.0,783.8 213.9,783.8 214.8,783.8 215.7,783.9 216.5,783.9 217.4,783.9 218.3,783.9 219.2,783.9 220.0,783.9 220.9,783.9 221.8,783.9 222.7,783.9 223.6,783.9 224.4,783.9 225.3,783.9 226.2,783.9 227.1,783.9 228.0,784.0 228.8,784.0 229.7,784.0 230.6,784.0 231.5,784.0 232.4,784.0 233.2,784.0 234.1,784.0 235.0,784.0 235.9,784.0 236.8,784.0 237.6,784.1 238.5,784.1 239.4,784.1 240.3,784.1 241.1,784.1 242.0,784.1 242.9,784.1 243.8,784.1 244.7,784.2 245.5,784.2 246.4,784.2 247.3,784.2 248.2,784.2 249.1,784.2 249.9,784.2 250.8,784.2 251.7,784.3 252.6,784.3 253.5,784.3 254.3,784.3 255.2,784.3 256.1,784.3 257.0,784.3 257.8,784.4 258.7,784.4 259.6,784.4 260.5,784.4 261.4,784.4 262.2,784.4 263.1,784.4 264.0,784.5 264.9,784.5 265.8,784.5 266.6,784.5 267.5,784.5 268.4,784.5 269.3,784.6 270.2,784.6 271.0,784.6 271.9,784.6 272.8,784.6 273.7,784.6 274.6,784.7 275.4,784.7 276.3,784.7 277.2,784.7 278.1,784.7 278.9,784.7 279.8,784.8 280.7,784.8 281.6,784.8 282.5,784.8 283.3,784.8 284.2,784.9 285.1,784.9 286.0,784.9 286.9,784.9 287.7,784.9 288.6,784.9 289.5,785.0 290.4,785.0 291.3,785.0 292.1,785.0 293.0,785.0 293.9,785.1 294.8,785.1 295.6,785.1 296.5,785.1 297.4,785.1 298.3,785.2 299.2,785.2 300.0,785.2 300.9,785.2 301.8,785.2 302.7,785.3 302.9,785.3" fill="none" stroke="#f80000" stroke-width="3.1" stroke-dasharray="0 5.9" stroke-linecap="round" clip-path="url(#cC1)"/>
<path d="M39.4,895.0 40.3,895.0 41.2,895.0 42.0,895.0 42.9,895.0 43.8,895.0 44.7,895.0 45.1,894.3 45.3,893.5 45.6,892.4 45.8,891.2 46.0,889.7 46.2,888.1 46.4,886.3 46.7,884.5 46.9,882.6 47.1,880.7 47.3,878.9 47.5,877.0 47.8,875.3 48.0,873.7 48.2,872.2 48.4,870.6 48.6,869.0 48.8,867.3 49.1,865.7 49.3,864.0 49.5,862.3 49.7,860.6 49.9,858.9 50.2,857.2 50.4,855.5 50.6,853.8 50.8,852.1 51.0,850.5 51.3,848.9 51.5,847.3 51.7,845.8 51.9,844.3 52.1,842.7 52.4,841.2 52.6,839.6 52.8,838.1 53.0,836.6 53.2,835.0 53.5,833.5 53.7,832.0 53.9,830.5 54.1,829.0 54.3,827.6 54.6,826.1 54.8,824.7 55.0,823.3 55.2,821.9 55.4,820.6 55.7,819.3 55.9,818.0 56.1,816.8 56.3,815.6 56.5,814.4 56.8,813.3 57.0,812.2 57.2,811.2 57.4,810.3 57.6,809.4 57.9,808.5 58.1,807.7 58.3,806.8 58.5,806.0 58.7,805.2 59.0,804.3 59.2,803.4 59.4,802.4 59.6,801.4 59.8,800.3 60.1,799.1 60.3,797.8 60.5,796.5 60.7,795.1 60.9,793.6 61.2,792.2 61.4,790.7 61.6,789.2 61.8,787.7 62.0,786.3 62.3,784.8 62.5,783.5 62.7,782.2 62.9,780.9 63.1,779.8 63.4,778.7 63.6,777.7 63.8,776.8 64.0,775.9 64.2,775.0 64.5,774.2 64.7,773.4 64.9,772.6 65.3,771.1 65.8,769.7 66.2,768.2 66.7,766.8 67.1,765.3 67.3,764.6 67.5,763.8 68.0,762.4 68.4,761.3 68.8,760.3 69.3,759.4 69.7,758.6 70.2,757.9 70.6,757.2 71.3,756.3 71.9,755.4 72.6,754.7 73.2,754.0 73.9,753.4 74.6,752.9 75.2,752.4 75.9,751.9 76.5,751.4 77.2,750.9 77.9,750.3 78.5,749.8 79.2,749.2 79.8,748.5 80.5,747.9 81.2,747.3 81.8,746.6 82.5,746.0 83.1,745.3 83.8,744.7 84.5,744.1 85.1,743.6 85.8,743.0 86.4,742.5 87.1,742.0 87.7,741.4 88.4,740.8 89.1,740.3 89.7,739.7 90.4,739.2 91.0,738.7 91.9,738.2 92.8,737.9 93.7,737.7 94.6,737.8 95.4,738.2 96.1,738.7 96.8,739.4 97.4,740.1 98.1,740.9 98.7,741.8 99.4,742.7 100.1,743.6 100.7,744.4 101.4,745.2 102.0,746.0 102.7,746.9 103.4,747.9 104.0,748.8 104.7,749.8 105.3,750.8 105.8,751.5 106.2,752.2 106.9,753.1 107.3,753.8 107.7,754.5 108.2,755.3 108.6,756.0 109.1,756.8 109.5,757.5 109.9,758.3 110.4,759.0 110.8,759.6 111.5,760.5 112.1,761.3 112.8,762.1 113.5,762.8 114.1,763.5 114.8,764.1 115.4,764.7 116.1,765.3 116.8,765.8 117.4,766.3 118.1,766.8 119.0,767.4 119.8,767.9 120.7,768.4 121.6,768.9 122.5,769.3 123.4,769.7 124.2,770.1 125.1,770.5 126.0,770.9 126.9,771.3 127.7,771.8 128.6,772.2 129.5,772.8 130.4,773.3 131.3,773.9 132.1,774.5 133.0,775.1 133.9,775.6 134.8,776.2 135.7,776.7 136.5,777.2 137.4,777.6 138.3,778.0 139.2,778.4 140.1,778.7 140.9,779.1 141.8,779.4 142.7,779.7 143.6,780.0 144.4,780.3 145.3,780.6 146.2,780.8 147.1,781.1 148.0,781.3 148.8,781.4 149.7,781.6 150.6,781.7 151.5,781.7 152.4,781.8 153.2,781.9 154.1,782.0 155.0,782.0 155.9,782.1 156.8,782.2 157.6,782.2 158.5,782.3 159.4,782.3 160.3,782.4 161.2,782.4 162.0,782.5 162.9,782.5 163.8,782.6 164.7,782.6 165.5,782.6 166.4,782.7 167.3,782.7 168.2,782.7 169.1,782.8 169.9,782.8 170.8,782.8 171.7,782.9 172.6,782.9 173.5,782.9 174.3,782.9 175.2,783.0 176.1,783.0 177.0,783.0 177.9,783.0 178.7,783.0 179.6,783.1 180.5,783.1 181.4,783.1 182.2,783.1 183.1,783.2 184.0,783.2 184.9,783.2 185.8,783.2 186.6,783.2 187.5,783.3 188.4,783.3 189.3,783.3 190.2,783.3 191.0,783.3 191.9,783.3 192.8,783.4 193.7,783.4 194.6,783.4 195.4,783.4 196.3,783.4 197.2,783.4 198.1,783.4 199.0,783.5 199.8,783.5 200.7,783.5 201.6,783.5 202.5,783.5 203.3,783.5 204.2,783.5 205.1,783.6 206.0,783.6 206.9,783.6 207.7,783.6 208.6,783.6 209.5,783.6 210.4,783.6 211.3,783.7 212.1,783.7 213.0,783.7 213.9,783.7 214.8,783.7 215.7,783.7 216.5,783.7 217.4,783.7 218.3,783.8 219.2,783.8 220.0,783.8 220.9,783.8 221.8,783.8 222.7,783.8 223.6,783.8 224.4,783.8 225.3,783.9 226.2,783.9 227.1,783.9 228.0,783.9 228.8,783.9 229.7,783.9 230.6,783.9 231.5,784.0 232.4,784.0 233.2,784.0 234.1,784.0 235.0,784.0 235.9,784.0 236.8,784.0 237.6,784.1 238.5,784.1 239.4,784.1 240.3,784.1 241.1,784.1 242.0,784.1 242.9,784.2 243.8,784.2 244.7,784.2 245.5,784.2 246.4,784.2 247.3,784.2 248.2,784.3 249.1,784.3 249.9,784.3 250.8,784.3 251.7,784.3 252.6,784.3 253.5,784.4 254.3,784.4 255.2,784.4 256.1,784.4 257.0,784.4 257.8,784.4 258.7,784.4 259.6,784.5 260.5,784.5 261.4,784.5 262.2,784.5 263.1,784.5 264.0,784.5 264.9,784.6 265.8,784.6 266.6,784.6 267.5,784.6 268.4,784.6 269.3,784.6 270.2,784.7 271.0,784.7 271.9,784.7 272.8,784.7 273.7,784.7 274.6,784.7 275.4,784.8 276.3,784.8 277.2,784.8 278.1,784.8 278.9,784.8 279.8,784.8 280.7,784.9 281.6,784.9 282.5,784.9 283.3,784.9 284.2,784.9 285.1,784.9 286.0,785.0 286.9,785.0 287.7,785.0 288.6,785.0 289.5,785.0 290.4,785.0 291.3,785.0 292.1,785.1 293.0,785.1 293.9,785.1 294.8,785.1 295.6,785.1 296.5,785.1 297.4,785.2 298.3,785.2 299.2,785.2 300.0,785.2 300.9,785.2 301.8,785.2 302.7,785.3 302.9,785.3" fill="none" stroke="#0000e6" stroke-width="3.1" stroke-dasharray="0 5.9" stroke-linecap="round" clip-path="url(#cC1)"/>
<path d="M39.4,895.0 40.3,894.5 40.9,893.6 41.4,892.4 41.6,891.4 41.8,890.3 42.0,889.0 42.3,887.6 42.5,886.1 42.7,884.6 42.9,883.0 43.1,881.4 43.4,879.8 43.6,878.2 43.8,876.3 44.0,874.3 44.2,872.2 44.5,870.0 44.7,867.7 44.9,865.3 45.1,862.9 45.3,860.5 45.6,858.1 45.8,855.7 46.0,853.4 46.2,851.1 46.4,849.0 46.7,847.1 46.9,845.2 47.1,843.4 47.3,841.6 47.5,839.9 47.8,838.3 48.0,836.7 48.2,835.1 48.4,833.6 48.6,832.1 48.8,830.6 49.1,829.1 49.3,827.6 49.5,826.1 49.7,824.6 49.9,823.1 50.2,821.6 50.4,820.1 50.6,818.5 50.8,816.9 51.0,815.3 51.3,813.6 51.5,811.8 51.7,810.0 51.9,808.1 52.1,806.2 52.4,804.2 52.6,802.0 52.8,799.7 53.0,797.2 53.2,794.5 53.5,791.7 53.7,788.8 53.9,785.9 54.1,782.9 54.3,779.9 54.6,777.0 54.8,774.1 55.0,771.3 55.2,768.6 55.4,766.0 55.7,763.6 55.9,761.5 56.1,759.5 56.3,757.5 56.5,755.6 56.8,753.8 57.0,752.1 57.2,750.3 57.4,748.7 57.6,747.0 57.9,745.5 58.1,743.9 58.3,742.4 58.5,740.8 58.7,739.3 59.0,737.8 59.2,736.3 59.4,734.8 59.6,733.3 59.8,731.8 60.1,730.3 60.3,728.7 60.5,727.2 60.7,725.7 60.9,724.2 61.2,722.7 61.4,721.3 61.6,719.9 61.8,718.5 62.0,717.2 62.3,716.0 62.5,714.8 62.7,713.7 62.9,712.7 63.1,711.7 63.4,710.9 63.6,710.1 63.8,709.2 64.0,708.5 64.5,707.0 64.9,705.6 65.3,704.4 65.8,703.4 66.2,702.5 66.7,701.8 67.1,701.2 67.7,700.2 68.4,699.4 69.1,698.8 69.9,698.5 70.8,698.6 71.7,698.8 72.6,699.2 73.5,699.7 74.3,700.2 75.0,700.7 75.7,701.2 76.3,701.7 77.0,702.5 77.6,703.5 78.1,704.2 78.5,705.0 79.0,705.9 79.4,706.7 79.8,707.5 80.3,708.4 80.7,709.2 81.2,710.1 81.6,711.1 82.0,712.1 82.5,713.1 82.9,714.3 83.4,715.6 83.8,717.0 84.0,717.8 84.2,718.6 84.5,719.4 84.7,720.3 84.9,721.2 85.1,722.1 85.3,723.0 85.6,724.0 85.8,725.0 86.0,726.0 86.2,727.0 86.4,728.1 86.6,729.1 86.9,730.1 87.1,731.2 87.3,732.2 87.5,733.3 87.7,734.3 88.0,735.3 88.2,736.4 88.4,737.5 88.6,738.6 88.8,739.8 89.1,741.0 89.3,742.2 89.5,743.4 89.7,744.7 89.9,746.0 90.2,747.2 90.4,748.5 90.6,749.8 90.8,751.0 91.0,752.3 91.3,753.5 91.5,754.7 91.7,755.8 91.9,756.9 92.1,758.0 92.4,759.0 92.6,759.9 92.8,760.8 93.0,761.6 93.2,762.4 93.7,763.9 94.1,765.3 94.6,766.7 95.0,768.0 95.4,769.2 95.9,770.4 96.3,771.6 96.8,772.6 97.2,773.7 97.6,774.6 98.1,775.6 98.5,776.4 99.0,777.3 99.4,778.2 99.8,779.1 100.3,780.0 100.7,780.8 101.2,781.7 101.6,782.4 102.0,783.1 102.7,784.0 103.4,784.5 104.2,784.6 105.1,784.5 106.0,784.2 106.9,783.7 107.7,783.2 108.6,782.6 109.5,782.0 110.2,781.5 110.8,780.9 111.5,780.1 112.1,779.3 112.8,778.4 113.5,777.5 114.1,776.6 114.8,775.6 115.4,774.7 116.1,773.8 116.8,773.0 117.4,772.3 118.1,771.6 118.7,771.1 119.4,770.5 120.1,770.0 120.7,769.5 121.4,768.9 122.0,768.4 122.7,767.9 123.4,767.4 124.0,766.9 124.9,766.3 125.8,765.8 126.6,765.4 127.5,765.0 128.4,764.8 129.3,764.7 130.2,764.7 131.0,764.9 131.9,765.4 132.8,766.0 133.5,766.5 134.1,767.1 134.8,767.7 135.4,768.3 136.1,769.0 136.8,769.6 137.4,770.2 138.1,770.8 138.7,771.4 139.4,771.8 140.3,772.4 140.9,772.9 141.6,773.4 142.3,773.9 142.9,774.4 143.6,774.8 144.2,775.3 144.9,775.8 145.8,776.4 146.6,776.9 147.5,777.3 148.4,777.7 149.3,777.9 150.2,778.0 151.0,778.0 151.9,778.0 152.8,777.9 153.7,777.9 154.6,777.9 155.4,777.8 156.3,777.7 157.2,777.7 158.1,777.6 159.0,777.5 159.8,777.5 160.7,777.4 161.6,777.3 162.5,777.1 163.3,776.9 164.2,776.7 165.1,776.4 166.0,776.2 166.9,775.9 167.7,775.6 168.6,775.3 169.5,775.0 170.4,774.7 171.3,774.5 172.1,774.3 173.0,774.1 173.9,773.9 174.8,773.8 175.7,773.7 176.5,773.7 177.4,773.8 178.3,773.8 179.2,773.9 180.1,774.0 180.9,774.1 181.8,774.2 182.7,774.4 183.6,774.5 184.4,774.6 185.3,774.8 186.2,774.9 187.1,775.1 188.0,775.2 188.8,775.3 189.7,775.4 190.6,775.5 191.5,775.6 192.4,775.7 193.2,775.8 194.1,775.8 195.0,775.9 195.9,776.0 196.8,776.1 197.6,776.1 198.5,776.2 199.4,776.3 200.3,776.3 201.1,776.4 202.0,776.5 202.9,776.5 203.8,776.6 204.7,776.6 205.5,776.7 206.4,776.7 207.3,776.7 208.2,776.8 209.1,776.8 209.9,776.8 210.8,776.9 211.7,776.9 212.6,776.9 213.5,777.0 214.3,777.0 215.2,777.0 216.1,777.0 217.0,777.0 217.9,777.1 218.7,777.1 219.6,777.1 220.5,777.1 221.4,777.2 222.2,777.2 223.1,777.2 224.0,777.2 224.9,777.2 225.8,777.3 226.6,777.3 227.5,777.3 228.4,777.3 229.3,777.3 230.2,777.3 231.0,777.4 231.9,777.4 232.8,777.4 233.7,777.4 234.6,777.4 235.4,777.4 236.3,777.4 237.2,777.5 238.1,777.5 238.9,777.5 239.8,777.5 240.7,777.5 241.6,777.5 242.5,777.5 243.3,777.6 244.2,777.6 245.1,777.6 246.0,777.6 246.9,777.6 247.7,777.6 248.6,777.7 249.5,777.7 250.4,777.7 251.3,777.7 252.1,777.7 253.0,777.7 253.9,777.8 254.8,777.8 255.7,777.8 256.5,777.8 257.4,777.8 258.3,777.8 259.2,777.9 260.0,777.9 260.9,777.9 261.8,777.9 262.7,777.9 263.6,777.9 264.4,778.0 265.3,778.0 266.2,778.0 267.1,778.0 268.0,778.0 268.8,778.0 269.7,778.0 270.6,778.1 271.5,778.1 272.4,778.1 273.2,778.1 274.1,778.1 275.0,778.1 275.9,778.2 276.7,778.2 277.6,778.2 278.5,778.2 279.4,778.2 280.3,778.2 281.1,778.2 282.0,778.3 282.9,778.3 283.8,778.3 284.7,778.3 285.5,778.3 286.4,778.3 287.3,778.3 288.2,778.4 289.1,778.4 289.9,778.4 290.8,778.4 291.7,778.4 292.6,778.4 293.5,778.4 294.3,778.5 295.2,778.5 296.1,778.5 297.0,778.5 297.8,778.5 298.7,778.5 299.6,778.5 300.5,778.6 301.4,778.6 302.2,778.6 302.9,778.6" fill="none" stroke="#000000" stroke-width="2.9" stroke-linejoin="round" stroke-linecap="round" clip-path="url(#cC1)"/>
<path d="M39.4,895.0 40.3,895.0 41.2,895.0 42.0,895.0 42.9,895.0 43.8,895.0 44.7,894.9 45.1,893.3 45.3,892.0 45.6,890.3 45.8,888.4 46.0,886.3 46.2,884.1 46.4,881.8 46.7,879.6 46.9,877.5 47.1,875.5 47.3,873.7 47.5,872.1 47.8,870.5 48.0,868.9 48.2,867.3 48.4,865.8 48.6,864.2 48.8,862.7 49.1,861.2 49.3,859.6 49.5,858.1 49.7,856.5 49.9,854.9 50.2,853.3 50.4,851.7 50.6,850.1 50.8,848.4 51.0,846.7 51.3,845.0 51.5,843.3 51.7,841.5 51.9,839.8 52.1,838.1 52.4,836.3 52.6,834.6 52.8,832.8 53.0,831.0 53.2,829.2 53.5,827.4 53.7,825.6 53.9,823.7 54.1,821.8 54.3,819.9 54.6,818.0 54.8,816.0 55.0,814.1 55.2,812.1 55.4,810.0 55.7,808.0 55.9,805.9 56.1,803.7 56.3,801.5 56.5,799.2 56.8,796.8 57.0,794.3 57.2,791.7 57.4,789.0 57.6,786.3 57.9,783.6 58.1,780.9 58.3,778.3 58.5,775.6 58.7,773.0 59.0,770.5 59.2,768.1 59.4,765.7 59.6,763.5 59.8,761.5 60.1,759.5 60.3,757.5 60.5,755.5 60.7,753.6 60.9,751.7 61.2,749.8 61.4,748.0 61.6,746.2 61.8,744.5 62.0,742.9 62.3,741.3 62.5,739.9 62.7,738.5 62.9,737.2 63.1,736.1 63.4,735.0 63.6,734.0 63.8,733.0 64.0,732.0 64.2,731.1 64.5,730.1 64.7,729.2 64.9,728.4 65.1,727.6 65.3,726.8 65.8,725.3 66.2,724.1 66.7,723.1 67.1,722.4 67.7,721.5 68.4,720.9 69.3,720.4 70.2,720.7 70.8,721.3 71.5,722.1 72.1,723.1 72.6,723.8 73.0,724.5 73.7,725.5 74.1,726.2 74.6,727.0 75.0,727.8 75.4,728.7 75.9,729.6 76.3,730.6 76.8,731.7 77.2,732.8 77.6,734.1 78.1,735.6 78.3,736.3 78.5,737.1 78.7,738.0 79.0,738.8 79.2,739.7 79.4,740.6 79.6,741.4 79.8,742.3 80.1,743.2 80.3,744.1 80.5,745.0 80.7,746.0 80.9,746.9 81.2,747.9 81.4,748.9 81.6,749.9 81.8,751.0 82.0,752.0 82.3,753.1 82.5,754.1 82.7,755.2 82.9,756.2 83.1,757.3 83.4,758.3 83.6,759.4 83.8,760.4 84.0,761.4 84.2,762.4 84.5,763.4 84.7,764.4 84.9,765.4 85.1,766.4 85.3,767.5 85.6,768.5 85.8,769.5 86.0,770.5 86.2,771.5 86.4,772.5 86.6,773.5 86.9,774.6 87.1,775.6 87.3,776.6 87.5,777.5 87.7,778.5 88.0,779.5 88.2,780.5 88.4,781.4 88.6,782.4 88.8,783.3 89.1,784.2 89.3,785.1 89.5,786.0 89.7,786.9 89.9,787.8 90.2,788.7 90.4,789.6 90.6,790.6 90.8,791.5 91.0,792.4 91.3,793.3 91.5,794.2 91.7,795.1 91.9,796.0 92.1,796.9 92.4,797.7 92.6,798.6 92.8,799.5 93.0,800.3 93.2,801.1 93.5,801.9 93.7,802.8 93.9,803.5 94.3,805.1 94.8,806.5 95.2,807.8 95.7,809.1 96.1,810.2 96.5,811.3 97.0,812.5 97.4,813.6 97.9,814.7 98.3,815.9 98.7,817.0 99.2,818.0 99.6,819.1 100.1,820.1 100.5,821.0 100.9,821.9 101.4,822.7 101.8,823.4 102.5,824.2 103.1,824.9 104.0,825.3 104.9,825.2 105.8,824.7 106.4,824.2 107.1,823.5 107.7,822.8 108.4,822.0 109.1,821.1 109.7,820.3 110.4,819.4 111.0,818.6 111.7,817.6 112.1,816.8 112.6,816.0 113.0,815.2 113.5,814.4 113.9,813.5 114.3,812.7 114.8,811.8 115.2,810.9 115.7,810.0 116.1,809.2 116.5,808.3 117.0,807.6 117.4,806.8 117.9,806.1 118.5,805.2 119.2,804.3 119.8,803.4 120.5,802.4 121.2,801.5 121.8,800.6 122.5,799.7 123.1,798.8 123.8,798.0 124.4,797.3 125.1,796.6 125.8,796.0 126.4,795.6 127.3,795.1 128.2,795.0 129.1,795.0 129.9,795.3 130.8,795.8 131.7,796.4 132.4,796.9 133.0,797.5 133.7,798.2 134.3,798.8 135.0,799.5 135.7,800.2 136.3,800.9 137.0,801.6 137.6,802.3 138.3,802.9 139.0,803.6 139.6,804.3 140.3,805.1 140.9,805.9 141.6,806.7 142.3,807.6 142.9,808.4 143.6,809.3 144.2,810.1 144.9,810.8 145.5,811.5 146.2,812.2 146.9,812.7 147.5,813.2 148.4,813.8 149.3,814.4 150.2,814.9 151.0,815.4 151.9,815.9 152.8,816.3 153.7,816.6 154.6,816.7 155.4,816.8 156.3,816.7 157.2,816.5 158.1,816.3 159.0,815.9 159.8,815.5 160.7,815.1 161.6,814.7 162.5,814.2 163.3,813.7 164.2,813.3 165.1,812.9 166.0,812.4 166.9,811.9 167.7,811.3 168.4,810.8 169.1,810.3 169.7,809.9 170.4,809.4 171.3,808.8 172.1,808.3 173.0,807.9 173.9,807.5 174.8,807.2 175.7,807.1 176.5,807.1 177.4,807.1 178.3,807.2 179.2,807.2 180.1,807.3 180.9,807.4 181.8,807.5 182.7,807.5 183.6,807.6 184.4,807.7 185.3,807.8 186.2,807.9 187.1,808.0 188.0,808.1 188.8,808.2 189.7,808.2 190.6,808.3 191.5,808.3 192.4,808.3 193.2,808.4 194.1,808.4 195.0,808.4 195.9,808.4 196.8,808.5 197.6,808.5 198.5,808.5 199.4,808.5 200.3,808.6 201.1,808.6 202.0,808.6 202.9,808.6 203.8,808.6 204.7,808.6 205.5,808.7 206.4,808.7 207.3,808.7 208.2,808.7 209.1,808.7 209.9,808.7 210.8,808.7 211.7,808.8 212.6,808.8 213.5,808.8 214.3,808.8 215.2,808.8 216.1,808.8 217.0,808.8 217.9,808.8 218.7,808.8 219.6,808.9 220.5,808.9 221.4,808.9 222.2,808.9 223.1,808.9 224.0,808.9 224.9,808.9 225.8,808.9 226.6,808.9 227.5,808.9 228.4,809.0 229.3,809.0 230.2,809.0 231.0,809.0 231.9,809.0 232.8,809.0 233.7,809.0 234.6,809.0 235.4,809.0 236.3,809.0 237.2,809.1 238.1,809.1 238.9,809.1 239.8,809.1 240.7,809.1 241.6,809.1 242.5,809.1 243.3,809.1 244.2,809.1 245.1,809.1 246.0,809.2 246.9,809.2 247.7,809.2 248.6,809.2 249.5,809.2 250.4,809.2 251.3,809.2 252.1,809.2 253.0,809.2 253.9,809.2 254.8,809.2 255.7,809.3 256.5,809.3 257.4,809.3 258.3,809.3 259.2,809.3 260.0,809.3 260.9,809.3 261.8,809.3 262.7,809.3 263.6,809.3 264.4,809.3 265.3,809.3 266.2,809.3 267.1,809.4 268.0,809.4 268.8,809.4 269.7,809.4 270.6,809.4 271.5,809.4 272.4,809.4 273.2,809.4 274.1,809.4 275.0,809.4 275.9,809.4 276.7,809.4 277.6,809.4 278.5,809.4 279.4,809.4 280.3,809.4 281.1,809.4 282.0,809.5 282.9,809.5 283.8,809.5 284.7,809.5 285.5,809.5 286.4,809.5 287.3,809.5 288.2,809.5 289.1,809.5 289.9,809.5 290.8,809.5 291.7,809.5 292.6,809.5 293.5,809.5 294.3,809.5 295.2,809.5 296.1,809.5 297.0,809.5 297.8,809.5 298.7,809.5 299.6,809.5 300.5,809.5 301.4,809.5 302.2,809.5 302.9,809.5" fill="none" stroke="#0000e6" stroke-width="3.3" stroke-linejoin="round" stroke-linecap="round" clip-path="url(#cC1)"/>
<path d="M39.4,895.0 40.3,895.0 41.2,895.0 42.0,895.0 42.9,895.0 43.8,895.0 44.7,895.0 45.6,895.0 46.4,895.0 47.3,895.0 48.2,895.0 49.1,894.8 49.3,893.9 49.5,892.5 49.7,890.7 49.9,888.5 50.2,886.1 50.4,883.6 50.6,880.9 50.8,878.4 51.0,875.9 51.3,873.7 51.5,871.6 51.7,869.4 51.9,867.2 52.1,865.0 52.4,862.8 52.6,860.5 52.8,858.3 53.0,856.0 53.2,853.7 53.5,851.5 53.7,849.2 53.9,847.0 54.1,844.8 54.3,842.6 54.6,840.5 54.8,838.4 55.0,836.3 55.2,834.2 55.4,832.1 55.7,830.0 55.9,827.9 56.1,825.8 56.3,823.7 56.5,821.6 56.8,819.4 57.0,817.2 57.2,814.9 57.4,812.6 57.6,810.2 57.9,807.8 58.1,805.3 58.3,802.7 58.5,800.0 58.7,797.1 59.0,794.0 59.2,790.8 59.4,787.5 59.6,784.2 59.8,780.9 60.1,777.6 60.3,774.3 60.5,771.2 60.7,768.2 60.9,765.4 61.2,762.9 61.4,760.5 61.6,758.3 61.8,756.1 62.0,754.1 62.3,752.1 62.5,750.1 62.7,748.3 62.9,746.4 63.1,744.7 63.4,742.9 63.6,741.2 63.8,739.5 64.0,737.8 64.2,736.1 64.5,734.3 64.7,732.6 64.9,730.8 65.1,729.0 65.3,727.1 65.6,725.4 65.8,723.6 66.0,722.0 66.2,720.4 66.4,718.9 66.7,717.6 66.9,716.4 67.1,715.4 67.3,714.5 67.5,713.7 67.7,712.8 68.0,712.0 68.4,710.5 68.8,709.4 69.3,708.7 70.2,709.1 70.6,710.0 71.0,711.2 71.5,712.6 71.9,714.0 72.4,715.2 72.8,716.3 73.5,717.1 74.1,717.7 74.8,718.1 75.7,718.7 76.5,719.3 77.2,719.9 77.9,720.6 78.5,721.3 79.2,722.3 79.6,723.2 80.1,724.6 80.3,725.7 80.5,727.0 80.7,728.5 80.9,730.1 81.2,731.7 81.4,733.3 81.6,734.9 81.8,736.4 82.0,737.7 82.3,738.8 82.5,740.0 82.7,741.1 82.9,742.2 83.1,743.2 83.4,744.3 83.6,745.3 83.8,746.4 84.0,747.4 84.2,748.3 84.5,749.3 84.7,750.2 84.9,751.1 85.1,752.0 85.3,752.9 85.6,753.8 85.8,754.6 86.0,755.4 86.4,756.9 86.9,758.2 87.3,759.4 87.7,760.7 88.2,762.2 88.4,763.0 88.6,763.8 88.8,764.6 89.1,765.5 89.3,766.4 89.5,767.3 89.7,768.2 89.9,769.1 90.2,770.0 90.4,771.0 90.6,771.9 90.8,772.9 91.0,773.9 91.3,774.8 91.5,775.8 91.7,776.8 91.9,777.7 92.1,778.7 92.4,779.6 92.6,780.6 92.8,781.5 93.0,782.4 93.2,783.3 93.5,784.2 93.7,785.1 93.9,785.9 94.1,786.7 94.3,787.5 94.6,788.3 95.0,789.8 95.4,791.3 95.9,792.7 96.3,794.2 96.8,795.6 97.2,797.0 97.6,798.3 98.1,799.6 98.5,800.8 99.0,801.9 99.4,802.9 99.8,803.7 100.3,804.5 100.7,805.4 101.2,806.2 101.6,806.9 102.0,807.7 102.5,808.4 103.1,809.2 103.8,809.8 104.7,810.1 105.5,810.0 106.4,809.6 107.3,809.1 108.0,808.7 108.6,808.1 109.3,807.6 109.9,807.0 110.6,806.4 111.3,805.7 111.9,804.9 112.6,803.9 113.0,803.2 113.5,802.4 113.9,801.6 114.3,800.8 114.8,800.0 115.2,799.2 115.7,798.4 116.1,797.7 116.5,796.9 117.0,796.2 117.6,795.3 118.3,794.5 119.0,793.9 119.6,793.2 120.3,792.5 120.9,791.9 121.6,791.2 122.3,790.6 122.9,790.0 123.6,789.4 124.2,788.9 124.9,788.4 125.5,787.9 126.4,787.4 127.3,787.0 128.2,786.7 129.1,786.5 129.9,786.5 130.8,786.6 131.7,787.0 132.6,787.4 133.5,788.0 134.1,788.5 134.8,789.0 135.4,789.5 136.1,790.0 136.8,790.6 137.4,791.1 138.1,791.6 138.7,792.0 139.6,792.6 140.5,793.1 141.4,793.7 142.3,794.2 143.1,794.8 143.8,795.3 144.4,795.8 145.3,796.3 146.2,796.9 147.1,797.5 148.0,798.0 148.8,798.5 149.7,798.9 150.6,799.2 151.5,799.5 152.4,799.7 153.2,799.8 154.1,799.8 155.0,799.8 155.9,799.7 156.8,799.6 157.6,799.5 158.5,799.3 159.4,799.1 160.3,799.0 161.2,798.8 162.0,798.6 162.9,798.4 163.8,798.2 164.7,798.0 165.5,797.7 166.4,797.5 167.3,797.1 168.2,796.8 169.1,796.4 169.9,796.0 170.8,795.6 171.7,795.3 172.6,795.0 173.5,794.7 174.3,794.5 175.2,794.4 176.1,794.4 177.0,794.4 177.9,794.4 178.7,794.4 179.6,794.5 180.5,794.6 181.4,794.7 182.2,794.8 183.1,794.9 184.0,795.0 184.9,795.1 185.8,795.2 186.6,795.3 187.5,795.3 188.4,795.4 189.3,795.5 190.2,795.5 191.0,795.6 191.9,795.6 192.8,795.6 193.7,795.7 194.6,795.7 195.4,795.7 196.3,795.7 197.2,795.7 198.1,795.8 199.0,795.8 199.8,795.8 200.7,795.8 201.6,795.9 202.5,795.9 203.3,795.9 204.2,795.9 205.1,795.9 206.0,795.9 206.9,796.0 207.7,796.0 208.6,796.0 209.5,796.0 210.4,796.0 211.3,796.0 212.1,796.0 213.0,796.0 213.9,796.1 214.8,796.1 215.7,796.1 216.5,796.1 217.4,796.1 218.3,796.1 219.2,796.1 220.0,796.1 220.9,796.1 221.8,796.2 222.7,796.2 223.6,796.2 224.4,796.2 225.3,796.2 226.2,796.2 227.1,796.2 228.0,796.2 228.8,796.2 229.7,796.2 230.6,796.3 231.5,796.3 232.4,796.3 233.2,796.3 234.1,796.3 235.0,796.3 235.9,796.3 236.8,796.3 237.6,796.3 238.5,796.3 239.4,796.4 240.3,796.4 241.1,796.4 242.0,796.4 242.9,796.4 243.8,796.4 244.7,796.4 245.5,796.4 246.4,796.4 247.3,796.4 248.2,796.4 249.1,796.5 249.9,796.5 250.8,796.5 251.7,796.5 252.6,796.5 253.5,796.5 254.3,796.5 255.2,796.5 256.1,796.5 257.0,796.5 257.8,796.5 258.7,796.5 259.6,796.6 260.5,796.6 261.4,796.6 262.2,796.6 263.1,796.6 264.0,796.6 264.9,796.6 265.8,796.6 266.6,796.6 267.5,796.6 268.4,796.6 269.3,796.6 270.2,796.6 271.0,796.7 271.9,796.7 272.8,796.7 273.7,796.7 274.6,796.7 275.4,796.7 276.3,796.7 277.2,796.7 278.1,796.7 278.9,796.7 279.8,796.7 280.7,796.7 281.6,796.7 282.5,796.7 283.3,796.7 284.2,796.7 285.1,796.7 286.0,796.7 286.9,796.7 287.7,796.7 288.6,796.8 289.5,796.8 290.4,796.8 291.3,796.8 292.1,796.8 293.0,796.8 293.9,796.8 294.8,796.8 295.6,796.8 296.5,796.8 297.4,796.8 298.3,796.8 299.2,796.8 300.0,796.8 300.9,796.8 301.8,796.8 302.7,796.8 302.9,796.8" fill="none" stroke="#f80000" stroke-width="3.3" stroke-linejoin="round" stroke-linecap="round" clip-path="url(#cC1)"/>
<path d="M39.4,895.0 40.3,895.0 41.2,895.0 42.0,895.0 42.9,895.0 43.8,895.0 44.7,895.0 45.3,894.3 45.6,893.4 45.8,892.2 46.0,890.8 46.2,889.1 46.4,887.3 46.7,885.3 46.9,883.3 47.1,881.2 47.3,879.2 47.5,877.3 47.8,875.4 48.0,873.7 48.2,872.1 48.4,870.5 48.6,868.9 48.8,867.3 49.1,865.7 49.3,864.1 49.5,862.5 49.7,860.8 49.9,859.2 50.2,857.5 50.4,855.8 50.6,854.2 50.8,852.5 51.0,850.8 51.3,849.1 51.5,847.4 51.7,845.6 51.9,843.9 52.1,842.2 52.4,840.4 52.6,838.6 52.8,836.8 53.0,835.1 53.2,833.3 53.5,831.5 53.7,829.6 53.9,827.8 54.1,826.0 54.3,824.2 54.6,822.3 54.8,820.5 55.0,818.6 55.2,816.8 55.4,814.9 55.7,813.1 55.9,811.2 56.1,809.3 56.3,807.5 56.5,805.6 56.8,803.7 57.0,801.8 57.2,799.9 57.4,798.0 57.6,796.0 57.9,794.0 58.1,792.0 58.3,790.0 58.5,788.0 58.7,786.0 59.0,784.0 59.2,781.9 59.4,779.9 59.6,778.0 59.8,776.0 60.1,774.0 60.3,772.1 60.5,770.2 60.7,768.3 60.9,766.4 61.2,764.6 61.4,762.9 61.6,761.1 61.8,759.4 62.0,757.6 62.3,755.8 62.5,753.9 62.7,752.1 62.9,750.3 63.1,748.5 63.4,746.7 63.6,745.1 63.8,743.4 64.0,741.9 64.2,740.5 64.5,739.1 64.7,737.9 64.9,736.9 65.1,735.9 65.3,735.2 65.8,733.7 66.2,732.3 66.7,730.9 67.1,729.7 67.5,728.6 68.0,727.6 68.4,726.9 69.1,726.3 69.9,726.2 70.8,726.4 71.7,726.9 72.6,727.4 73.2,727.9 73.9,728.6 74.6,729.5 75.0,730.3 75.4,731.1 75.9,732.0 76.3,732.8 76.8,733.7 77.2,734.6 77.6,735.5 78.1,736.5 78.5,737.6 79.0,738.8 79.4,739.9 79.8,741.1 80.3,742.3 80.7,743.4 81.2,744.5 81.6,745.5 82.0,746.4 82.5,747.2 82.9,748.0 83.4,748.7 83.8,749.4 84.2,750.1 84.9,751.1 85.6,752.0 86.2,753.0 86.9,754.0 87.3,754.7 88.0,755.7 88.6,756.6 89.3,757.6 89.9,758.5 90.6,759.6 91.0,760.3 91.5,761.0 91.9,761.8 92.4,762.6 92.8,763.6 93.2,764.6 93.7,765.6 94.1,766.7 94.6,767.8 95.0,768.9 95.4,769.9 95.9,770.9 96.3,771.8 96.8,772.7 97.2,773.5 97.6,774.1 98.3,775.1 99.0,776.1 99.6,777.0 100.3,777.8 100.9,778.6 101.6,779.4 102.3,780.1 102.9,780.8 103.6,781.4 104.2,782.0 104.9,782.4 105.8,783.0 106.6,783.4 107.5,783.8 108.4,784.2 109.3,784.5 110.2,784.8 111.0,785.1 111.9,785.3 112.8,785.4 113.7,785.6 114.6,785.8 115.4,785.9 116.3,786.0 117.2,786.1 118.1,786.2 119.0,786.3 119.8,786.4 120.7,786.5 121.6,786.5 122.5,786.5 123.4,786.6 124.2,786.6 125.1,786.6 126.0,786.7 126.9,786.7 127.7,786.7 128.6,786.8 129.5,786.8 130.4,786.8 131.3,786.8 132.1,786.9 133.0,786.9 133.9,786.9 134.8,786.9 135.7,786.9 136.5,786.9 137.4,787.0 138.3,787.0 139.2,787.0 140.1,787.0 140.9,787.0 141.8,787.0 142.7,787.0 143.6,787.1 144.4,787.1 145.3,787.1 146.2,787.1 147.1,787.1 148.0,787.1 148.8,787.1 149.7,787.2 150.6,787.2 151.5,787.2 152.4,787.2 153.2,787.2 154.1,787.2 155.0,787.2 155.9,787.3 156.8,787.3 157.6,787.3 158.5,787.3 159.4,787.3 160.3,787.3 161.2,787.3 162.0,787.3 162.9,787.3 163.8,787.4 164.7,787.4 165.5,787.4 166.4,787.4 167.3,787.4 168.2,787.4 169.1,787.4 169.9,787.4 170.8,787.4 171.7,787.4 172.6,787.5 173.5,787.5 174.3,787.5 175.2,787.5 176.1,787.5 177.0,787.5 177.9,787.5 178.7,787.5 179.6,787.5 180.5,787.5 181.4,787.5 182.2,787.6 183.1,787.6 184.0,787.6 184.9,787.6 185.8,787.6 186.6,787.6 187.5,787.6 188.4,787.6 189.3,787.6 190.2,787.6 191.0,787.6 191.9,787.6 192.8,787.6 193.7,787.7 194.6,787.7 195.4,787.7 196.3,787.7 197.2,787.7 198.1,787.7 199.0,787.7 199.8,787.7 200.7,787.7 201.6,787.7 202.5,787.7 203.3,787.7 204.2,787.7 205.1,787.7 206.0,787.8 206.9,787.8 207.7,787.8 208.6,787.8 209.5,787.8 210.4,787.8 211.3,787.8 212.1,787.8 213.0,787.8 213.9,787.8 214.8,787.8 215.7,787.8 216.5,787.8 217.4,787.8 218.3,787.8 219.2,787.9 220.0,787.9 220.9,787.9 221.8,787.9 222.7,787.9 223.6,787.9 224.4,787.9 225.3,787.9 226.2,787.9 227.1,787.9 228.0,787.9 228.8,787.9 229.7,787.9 230.6,787.9 231.5,787.9 232.4,788.0 233.2,788.0 234.1,788.0 235.0,788.0 235.9,788.0 236.8,788.0 237.6,788.0 238.5,788.0 239.4,788.0 240.3,788.0 241.1,788.0 242.0,788.0 242.9,788.0 243.8,788.0 244.7,788.0 245.5,788.0 246.4,788.0 247.3,788.1 248.2,788.1 249.1,788.1 249.9,788.1 250.8,788.1 251.7,788.1 252.6,788.1 253.5,788.1 254.3,788.1 255.2,788.1 256.1,788.1 257.0,788.1 257.8,788.1 258.7,788.1 259.6,788.1 260.5,788.1 261.4,788.1 262.2,788.1 263.1,788.1 264.0,788.1 264.9,788.2 265.8,788.2 266.6,788.2 267.5,788.2 268.4,788.2 269.3,788.2 270.2,788.2 271.0,788.2 271.9,788.2 272.8,788.2 273.7,788.2 274.6,788.2 275.4,788.2 276.3,788.2 277.2,788.2 278.1,788.2 278.9,788.2 279.8,788.2 280.7,788.2 281.6,788.2 282.5,788.2 283.3,788.2 284.2,788.2 285.1,788.2 286.0,788.2 286.9,788.3 287.7,788.3 288.6,788.3 289.5,788.3 290.4,788.3 291.3,788.3 292.1,788.3 293.0,788.3 293.9,788.3 294.8,788.3 295.6,788.3 296.5,788.3 297.4,788.3 298.3,788.3 299.2,788.3 300.0,788.3 300.9,788.3 301.8,788.3 302.7,788.3 302.9,788.3" fill="none" stroke="#0000e6" stroke-width="3.2" stroke-dasharray="4.2 9.2" stroke-linecap="round" stroke-linejoin="round" clip-path="url(#cC1)"/>
<path d="M39.4,895.0 40.3,895.0 41.2,895.0 42.0,895.0 42.9,895.0 43.8,895.0 44.7,895.0 45.6,895.0 46.4,895.0 47.3,895.0 48.2,895.0 49.1,895.0 49.7,893.9 49.9,892.7 50.2,891.2 50.4,889.3 50.6,887.3 50.8,885.0 51.0,882.7 51.3,880.3 51.5,878.0 51.7,875.8 51.9,873.7 52.1,871.7 52.4,869.6 52.6,867.4 52.8,865.2 53.0,863.0 53.2,860.7 53.5,858.4 53.7,856.1 53.9,853.8 54.1,851.5 54.3,849.2 54.6,847.0 54.8,844.7 55.0,842.5 55.2,840.3 55.4,838.1 55.7,836.0 55.9,833.8 56.1,831.6 56.3,829.4 56.5,827.2 56.8,825.0 57.0,822.8 57.2,820.5 57.4,818.3 57.6,815.9 57.9,813.6 58.1,811.2 58.3,808.8 58.5,806.3 58.7,803.8 59.0,801.1 59.2,798.4 59.4,795.4 59.6,792.4 59.8,789.3 60.1,786.2 60.3,783.0 60.5,779.9 60.7,776.8 60.9,773.8 61.2,770.8 61.4,768.0 61.6,765.3 61.8,762.8 62.0,760.5 62.3,758.2 62.5,756.0 62.7,753.8 62.9,751.7 63.1,749.6 63.4,747.6 63.6,745.6 63.8,743.7 64.0,742.0 64.2,740.3 64.5,738.7 64.7,737.3 64.9,735.9 65.1,734.7 65.3,733.5 65.6,732.4 65.8,731.3 66.0,730.3 66.2,729.3 66.4,728.3 66.7,727.5 66.9,726.6 67.3,725.2 67.7,724.0 68.2,722.8 68.6,721.8 69.1,721.0 69.9,720.7 70.6,721.2 71.3,722.0 71.9,723.0 72.4,723.7 72.8,724.4 73.5,725.3 73.9,726.0 74.3,726.7 74.8,727.5 75.2,728.2 75.7,729.1 76.1,729.9 76.5,730.8 77.0,731.7 77.4,732.7 77.9,733.7 78.3,734.8 78.7,736.0 79.2,737.3 79.6,738.6 80.1,739.9 80.5,741.3 80.9,742.7 81.4,744.1 81.8,745.5 82.3,747.0 82.5,747.8 82.7,748.6 82.9,749.4 83.1,750.2 83.4,751.1 83.6,751.9 83.8,752.7 84.0,753.5 84.5,755.0 84.9,756.4 85.3,757.6 85.8,758.5 86.2,759.5 86.6,760.3 87.1,761.1 87.5,761.8 88.0,762.5 88.6,763.5 89.3,764.4 89.9,765.3 90.6,766.1 91.3,766.8 91.9,767.5 92.6,768.2 93.2,768.8 93.9,769.4 94.6,770.0 95.2,770.5 95.9,771.0 96.5,771.4 97.4,772.0 98.3,772.6 99.2,773.1 100.1,773.7 100.9,774.2 101.8,774.8 102.7,775.3 103.6,775.8 104.5,776.3 105.3,776.8 106.2,777.3 107.1,777.8 108.0,778.3 108.8,778.7 109.7,779.1 110.6,779.5 111.5,779.7 112.4,779.9 113.2,780.0 114.1,780.2 115.0,780.3 115.9,780.4 116.8,780.5 117.6,780.6 118.5,780.7 119.4,780.7 120.3,780.8 121.2,780.9 122.0,781.0 122.9,781.0 123.8,781.1 124.7,781.1 125.5,781.2 126.4,781.2 127.3,781.3 128.2,781.4 129.1,781.4 129.9,781.5 130.8,781.6 131.7,781.6 132.6,781.7 133.5,781.8 134.3,781.9 135.2,781.9 136.1,782.0 137.0,782.1 137.9,782.2 138.7,782.2 139.6,782.3 140.5,782.4 141.4,782.5 142.3,782.5 143.1,782.6 144.0,782.7 144.9,782.8 145.8,782.8 146.6,782.9 147.5,783.0 148.4,783.1 149.3,783.1 150.2,783.2 151.0,783.3 151.9,783.3 152.8,783.4 153.7,783.5 154.6,783.6 155.4,783.6 156.3,783.7 157.2,783.8 158.1,783.8 159.0,783.9 159.8,784.0 160.7,784.0 161.6,784.1 162.5,784.1 163.3,784.2 164.2,784.3 165.1,784.3 166.0,784.4 166.9,784.4 167.7,784.5 168.6,784.5 169.5,784.6 170.4,784.6 171.3,784.7 172.1,784.7 173.0,784.8 173.9,784.8 174.8,784.8 175.7,784.9 176.5,784.9 177.4,785.0 178.3,785.0 179.2,785.1 180.1,785.1 180.9,785.1 181.8,785.2 182.7,785.2 183.6,785.3 184.4,785.3 185.3,785.3 186.2,785.4 187.1,785.4 188.0,785.5 188.8,785.5 189.7,785.5 190.6,785.6 191.5,785.6 192.4,785.6 193.2,785.7 194.1,785.7 195.0,785.7 195.9,785.8 196.8,785.8 197.6,785.8 198.5,785.9 199.4,785.9 200.3,785.9 201.1,785.9 202.0,786.0 202.9,786.0 203.8,786.0 204.7,786.0 205.5,786.1 206.4,786.1 207.3,786.1 208.2,786.1 209.1,786.1 209.9,786.2 210.8,786.2 211.7,786.2 212.6,786.2 213.5,786.2 214.3,786.2 215.2,786.2 216.1,786.3 217.0,786.3 217.9,786.3 218.7,786.3 219.6,786.3 220.5,786.3 221.4,786.3 222.2,786.4 223.1,786.4 224.0,786.4 224.9,786.4 225.8,786.4 226.6,786.4 227.5,786.4 228.4,786.5 229.3,786.5 230.2,786.5 231.0,786.5 231.9,786.5 232.8,786.5 233.7,786.5 234.6,786.5 235.4,786.6 236.3,786.6 237.2,786.6 238.1,786.6 238.9,786.6 239.8,786.6 240.7,786.6 241.6,786.6 242.5,786.7 243.3,786.7 244.2,786.7 245.1,786.7 246.0,786.7 246.9,786.7 247.7,786.7 248.6,786.7 249.5,786.7 250.4,786.8 251.3,786.8 252.1,786.8 253.0,786.8 253.9,786.8 254.8,786.8 255.7,786.8 256.5,786.8 257.4,786.8 258.3,786.8 259.2,786.8 260.0,786.9 260.9,786.9 261.8,786.9 262.7,786.9 263.6,786.9 264.4,786.9 265.3,786.9 266.2,786.9 267.1,786.9 268.0,786.9 268.8,786.9 269.7,786.9 270.6,786.9 271.5,787.0 272.4,787.0 273.2,787.0 274.1,787.0 275.0,787.0 275.9,787.0 276.7,787.0 277.6,787.0 278.5,787.0 279.4,787.0 280.3,787.0 281.1,787.0 282.0,787.0 282.9,787.0 283.8,787.0 284.7,787.0 285.5,787.0 286.4,787.0 287.3,787.0 288.2,787.1 289.1,787.1 289.9,787.1 290.8,787.1 291.7,787.1 292.6,787.1 293.5,787.1 294.3,787.1 295.2,787.1 296.1,787.1 297.0,787.1 297.8,787.1 298.7,787.1 299.6,787.1 300.5,787.1 301.4,787.1 302.2,787.1 302.9,787.1" fill="none" stroke="#f80000" stroke-width="3.2" stroke-dasharray="4.2 9.2" stroke-linecap="round" stroke-linejoin="round" clip-path="url(#cC1)"/>
<rect x="51.8" y="686.4" width="65.8" height="66.9" fill="none" stroke="#222" stroke-width="1.1"/>
<rect x="137" y="600" width="200" height="159" fill="#fff"/>
<line x1="35.2" y1="895" x2="39.4" y2="895" stroke="#000" stroke-width="1.6" />
<line x1="37.1" y1="889.95" x2="39.4" y2="889.95" stroke="#000" stroke-width="1.3" />
<line x1="37.1" y1="884.9" x2="39.4" y2="884.9" stroke="#000" stroke-width="1.3" />
<line x1="37.1" y1="879.84" x2="39.4" y2="879.84" stroke="#000" stroke-width="1.3" />
<line x1="37.1" y1="874.79" x2="39.4" y2="874.79" stroke="#000" stroke-width="1.3" />
<line x1="37.1" y1="869.74" x2="39.4" y2="869.74" stroke="#000" stroke-width="1.3" />
<line x1="35.2" y1="864.69" x2="39.4" y2="864.69" stroke="#000" stroke-width="1.6" />
<line x1="37.1" y1="859.63" x2="39.4" y2="859.63" stroke="#000" stroke-width="1.3" />
<line x1="37.1" y1="854.58" x2="39.4" y2="854.58" stroke="#000" stroke-width="1.3" />
<line x1="37.1" y1="849.53" x2="39.4" y2="849.53" stroke="#000" stroke-width="1.3" />
<line x1="37.1" y1="844.48" x2="39.4" y2="844.48" stroke="#000" stroke-width="1.3" />
<line x1="37.1" y1="839.42" x2="39.4" y2="839.42" stroke="#000" stroke-width="1.3" />
<line x1="35.2" y1="834.37" x2="39.4" y2="834.37" stroke="#000" stroke-width="1.6" />
<line x1="37.1" y1="829.32" x2="39.4" y2="829.32" stroke="#000" stroke-width="1.3" />
<line x1="37.1" y1="824.27" x2="39.4" y2="824.27" stroke="#000" stroke-width="1.3" />
<line x1="37.1" y1="819.21" x2="39.4" y2="819.21" stroke="#000" stroke-width="1.3" />
<line x1="37.1" y1="814.16" x2="39.4" y2="814.16" stroke="#000" stroke-width="1.3" />
<line x1="37.1" y1="809.11" x2="39.4" y2="809.11" stroke="#000" stroke-width="1.3" />
<line x1="35.2" y1="804.06" x2="39.4" y2="804.06" stroke="#000" stroke-width="1.6" />
<line x1="37.1" y1="799" x2="39.4" y2="799" stroke="#000" stroke-width="1.3" />
<line x1="37.1" y1="793.95" x2="39.4" y2="793.95" stroke="#000" stroke-width="1.3" />
<line x1="37.1" y1="788.9" x2="39.4" y2="788.9" stroke="#000" stroke-width="1.3" />
<line x1="37.1" y1="783.85" x2="39.4" y2="783.85" stroke="#000" stroke-width="1.3" />
<line x1="37.1" y1="778.8" x2="39.4" y2="778.8" stroke="#000" stroke-width="1.3" />
<line x1="35.2" y1="773.74" x2="39.4" y2="773.74" stroke="#000" stroke-width="1.6" />
<line x1="37.1" y1="768.69" x2="39.4" y2="768.69" stroke="#000" stroke-width="1.3" />
<line x1="37.1" y1="763.64" x2="39.4" y2="763.64" stroke="#000" stroke-width="1.3" />
<line x1="37.1" y1="758.59" x2="39.4" y2="758.59" stroke="#000" stroke-width="1.3" />
<line x1="37.1" y1="753.53" x2="39.4" y2="753.53" stroke="#000" stroke-width="1.3" />
<line x1="37.1" y1="748.48" x2="39.4" y2="748.48" stroke="#000" stroke-width="1.3" />
<line x1="35.2" y1="743.43" x2="39.4" y2="743.43" stroke="#000" stroke-width="1.6" />
<line x1="37.1" y1="738.38" x2="39.4" y2="738.38" stroke="#000" stroke-width="1.3" />
<line x1="37.1" y1="733.32" x2="39.4" y2="733.32" stroke="#000" stroke-width="1.3" />
<line x1="37.1" y1="728.27" x2="39.4" y2="728.27" stroke="#000" stroke-width="1.3" />
<line x1="37.1" y1="723.22" x2="39.4" y2="723.22" stroke="#000" stroke-width="1.3" />
<line x1="37.1" y1="718.17" x2="39.4" y2="718.17" stroke="#000" stroke-width="1.3" />
<line x1="35.2" y1="713.11" x2="39.4" y2="713.11" stroke="#000" stroke-width="1.6" />
<line x1="37.1" y1="708.06" x2="39.4" y2="708.06" stroke="#000" stroke-width="1.3" />
<line x1="37.1" y1="703.01" x2="39.4" y2="703.01" stroke="#000" stroke-width="1.3" />
<line x1="37.1" y1="697.96" x2="39.4" y2="697.96" stroke="#000" stroke-width="1.3" />
<line x1="37.1" y1="692.9" x2="39.4" y2="692.9" stroke="#000" stroke-width="1.3" />
<line x1="37.1" y1="687.85" x2="39.4" y2="687.85" stroke="#000" stroke-width="1.3" />
<line x1="35.2" y1="682.8" x2="39.4" y2="682.8" stroke="#000" stroke-width="1.6" />
<line x1="39.4" y1="895" x2="39.4" y2="899.2" stroke="#000" stroke-width="1.6" />
<line x1="45.99" y1="895" x2="45.99" y2="897.4" stroke="#000" stroke-width="1.3" />
<line x1="52.58" y1="895" x2="52.58" y2="899.2" stroke="#000" stroke-width="1.6" />
<line x1="59.16" y1="895" x2="59.16" y2="897.4" stroke="#000" stroke-width="1.3" />
<line x1="65.75" y1="895" x2="65.75" y2="899.2" stroke="#000" stroke-width="1.6" />
<line x1="72.34" y1="895" x2="72.34" y2="897.4" stroke="#000" stroke-width="1.3" />
<line x1="78.92" y1="895" x2="78.92" y2="899.2" stroke="#000" stroke-width="1.6" />
<line x1="85.51" y1="895" x2="85.51" y2="897.4" stroke="#000" stroke-width="1.3" />
<line x1="92.1" y1="895" x2="92.1" y2="899.2" stroke="#000" stroke-width="1.6" />
<line x1="98.69" y1="895" x2="98.69" y2="897.4" stroke="#000" stroke-width="1.3" />
<line x1="105.28" y1="895" x2="105.28" y2="899.2" stroke="#000" stroke-width="1.6" />
<line x1="111.86" y1="895" x2="111.86" y2="897.4" stroke="#000" stroke-width="1.3" />
<line x1="118.45" y1="895" x2="118.45" y2="899.2" stroke="#000" stroke-width="1.6" />
<line x1="125.04" y1="895" x2="125.04" y2="897.4" stroke="#000" stroke-width="1.3" />
<line x1="131.62" y1="895" x2="131.62" y2="899.2" stroke="#000" stroke-width="1.6" />
<line x1="138.21" y1="895" x2="138.21" y2="897.4" stroke="#000" stroke-width="1.3" />
<line x1="144.8" y1="895" x2="144.8" y2="899.2" stroke="#000" stroke-width="1.6" />
<line x1="151.39" y1="895" x2="151.39" y2="897.4" stroke="#000" stroke-width="1.3" />
<line x1="157.97" y1="895" x2="157.97" y2="899.2" stroke="#000" stroke-width="1.6" />
<line x1="164.56" y1="895" x2="164.56" y2="897.4" stroke="#000" stroke-width="1.3" />
<line x1="171.15" y1="895" x2="171.15" y2="899.2" stroke="#000" stroke-width="1.6" />
<line x1="177.74" y1="895" x2="177.74" y2="897.4" stroke="#000" stroke-width="1.3" />
<line x1="184.33" y1="895" x2="184.33" y2="899.2" stroke="#000" stroke-width="1.6" />
<line x1="190.91" y1="895" x2="190.91" y2="897.4" stroke="#000" stroke-width="1.3" />
<line x1="197.5" y1="895" x2="197.5" y2="899.2" stroke="#000" stroke-width="1.6" />
<line x1="204.09" y1="895" x2="204.09" y2="897.4" stroke="#000" stroke-width="1.3" />
<line x1="210.68" y1="895" x2="210.68" y2="899.2" stroke="#000" stroke-width="1.6" />
<line x1="217.26" y1="895" x2="217.26" y2="897.4" stroke="#000" stroke-width="1.3" />
<line x1="223.85" y1="895" x2="223.85" y2="899.2" stroke="#000" stroke-width="1.6" />
<line x1="230.44" y1="895" x2="230.44" y2="897.4" stroke="#000" stroke-width="1.3" />
<line x1="237.03" y1="895" x2="237.03" y2="899.2" stroke="#000" stroke-width="1.6" />
<line x1="243.61" y1="895" x2="243.61" y2="897.4" stroke="#000" stroke-width="1.3" />
<line x1="250.2" y1="895" x2="250.2" y2="899.2" stroke="#000" stroke-width="1.6" />
<line x1="256.79" y1="895" x2="256.79" y2="897.4" stroke="#000" stroke-width="1.3" />
<line x1="263.38" y1="895" x2="263.38" y2="899.2" stroke="#000" stroke-width="1.6" />
<line x1="269.96" y1="895" x2="269.96" y2="897.4" stroke="#000" stroke-width="1.3" />
<line x1="276.55" y1="895" x2="276.55" y2="899.2" stroke="#000" stroke-width="1.6" />
<line x1="283.14" y1="895" x2="283.14" y2="897.4" stroke="#000" stroke-width="1.3" />
<line x1="289.72" y1="895" x2="289.72" y2="899.2" stroke="#000" stroke-width="1.6" />
<line x1="296.31" y1="895" x2="296.31" y2="897.4" stroke="#000" stroke-width="1.3" />
<line x1="302.9" y1="895" x2="302.9" y2="899.2" stroke="#000" stroke-width="1.6" />
<line x1="39.4" y1="681.8" x2="39.4" y2="896" stroke="#000" stroke-width="2.0" />
<line x1="38.4" y1="895" x2="303.9" y2="895" stroke="#000" stroke-width="2.0" />
<line x1="302.9" y1="759" x2="302.9" y2="895" stroke="#000" stroke-width="2.0" />
<line x1="38.4" y1="682.8" x2="136" y2="682.8" stroke="#000" stroke-width="2.0" />
<text x="32.6" y="898.69" font-family='"Liberation Sans", sans-serif' font-size="11.7" font-weight="bold" text-anchor="end" fill="#000" stroke="#000" stroke-width="0.3" >0</text>
<text x="32.6" y="868.37" font-family='"Liberation Sans", sans-serif' font-size="11.7" font-weight="bold" text-anchor="end" fill="#000" stroke="#000" stroke-width="0.3" >5</text>
<text x="32.6" y="838.06" font-family='"Liberation Sans", sans-serif' font-size="11.7" font-weight="bold" text-anchor="end" fill="#000" stroke="#000" stroke-width="0.3" >10</text>
<text x="32.6" y="807.75" font-family='"Liberation Sans", sans-serif' font-size="11.7" font-weight="bold" text-anchor="end" fill="#000" stroke="#000" stroke-width="0.3" >15</text>
<text x="32.6" y="777.43" font-family='"Liberation Sans", sans-serif' font-size="11.7" font-weight="bold" text-anchor="end" fill="#000" stroke="#000" stroke-width="0.3" >20</text>
<text x="32.6" y="747.12" font-family='"Liberation Sans", sans-serif' font-size="11.7" font-weight="bold" text-anchor="end" fill="#000" stroke="#000" stroke-width="0.3" >25</text>
<text x="32.6" y="716.8" font-family='"Liberation Sans", sans-serif' font-size="11.7" font-weight="bold" text-anchor="end" fill="#000" stroke="#000" stroke-width="0.3" >30</text>
<text x="32.6" y="686.49" font-family='"Liberation Sans", sans-serif' font-size="11.7" font-weight="bold" text-anchor="end" fill="#000" stroke="#000" stroke-width="0.3" >35</text>
<text transform="translate(43.7,902.2) rotate(-90)" font-family='"Liberation Sans", sans-serif' font-size="12.0" font-weight="bold" text-anchor="end" stroke="#000" stroke-width="0.3">0</text>
<text transform="translate(56.87,902.2) rotate(-90)" font-family='"Liberation Sans", sans-serif' font-size="12.0" font-weight="bold" text-anchor="end" stroke="#000" stroke-width="0.3">10</text>
<text transform="translate(70.05,902.2) rotate(-90)" font-family='"Liberation Sans", sans-serif' font-size="12.0" font-weight="bold" text-anchor="end" stroke="#000" stroke-width="0.3">20</text>
<text transform="translate(83.22,902.2) rotate(-90)" font-family='"Liberation Sans", sans-serif' font-size="12.0" font-weight="bold" text-anchor="end" stroke="#000" stroke-width="0.3">30</text>
<text transform="translate(96.4,902.2) rotate(-90)" font-family='"Liberation Sans", sans-serif' font-size="12.0" font-weight="bold" text-anchor="end" stroke="#000" stroke-width="0.3">40</text>
<text transform="translate(109.57,902.2) rotate(-90)" font-family='"Liberation Sans", sans-serif' font-size="12.0" font-weight="bold" text-anchor="end" stroke="#000" stroke-width="0.3">50</text>
<text transform="translate(122.75,902.2) rotate(-90)" font-family='"Liberation Sans", sans-serif' font-size="12.0" font-weight="bold" text-anchor="end" stroke="#000" stroke-width="0.3">60</text>
<text transform="translate(135.92,902.2) rotate(-90)" font-family='"Liberation Sans", sans-serif' font-size="12.0" font-weight="bold" text-anchor="end" stroke="#000" stroke-width="0.3">70</text>
<text transform="translate(149.1,902.2) rotate(-90)" font-family='"Liberation Sans", sans-serif' font-size="12.0" font-weight="bold" text-anchor="end" stroke="#000" stroke-width="0.3">80</text>
<text transform="translate(162.27,902.2) rotate(-90)" font-family='"Liberation Sans", sans-serif' font-size="12.0" font-weight="bold" text-anchor="end" stroke="#000" stroke-width="0.3">90</text>
<text transform="translate(175.45,902.2) rotate(-90)" font-family='"Liberation Sans", sans-serif' font-size="12.0" font-weight="bold" text-anchor="end" stroke="#000" stroke-width="0.3">100</text>
<text transform="translate(188.62,902.2) rotate(-90)" font-family='"Liberation Sans", sans-serif' font-size="12.0" font-weight="bold" text-anchor="end" stroke="#000" stroke-width="0.3">110</text>
<text transform="translate(201.8,902.2) rotate(-90)" font-family='"Liberation Sans", sans-serif' font-size="12.0" font-weight="bold" text-anchor="end" stroke="#000" stroke-width="0.3">120</text>
<text transform="translate(214.97,902.2) rotate(-90)" font-family='"Liberation Sans", sans-serif' font-size="12.0" font-weight="bold" text-anchor="end" stroke="#000" stroke-width="0.3">130</text>
<text transform="translate(228.15,902.2) rotate(-90)" font-family='"Liberation Sans", sans-serif' font-size="12.0" font-weight="bold" text-anchor="end" stroke="#000" stroke-width="0.3">140</text>
<text transform="translate(241.32,902.2) rotate(-90)" font-family='"Liberation Sans", sans-serif' font-size="12.0" font-weight="bold" text-anchor="end" stroke="#000" stroke-width="0.3">150</text>
<text transform="translate(254.5,902.2) rotate(-90)" font-family='"Liberation Sans", sans-serif' font-size="12.0" font-weight="bold" text-anchor="end" stroke="#000" stroke-width="0.3">160</text>
<text transform="translate(267.67,902.2) rotate(-90)" font-family='"Liberation Sans", sans-serif' font-size="12.0" font-weight="bold" text-anchor="end" stroke="#000" stroke-width="0.3">170</text>
<text transform="translate(280.85,902.2) rotate(-90)" font-family='"Liberation Sans", sans-serif' font-size="12.0" font-weight="bold" text-anchor="end" stroke="#000" stroke-width="0.3">180</text>
<text transform="translate(294.02,902.2) rotate(-90)" font-family='"Liberation Sans", sans-serif' font-size="12.0" font-weight="bold" text-anchor="end" stroke="#000" stroke-width="0.3">190</text>
<text transform="translate(307.2,902.2) rotate(-90)" font-family='"Liberation Sans", sans-serif' font-size="12.0" font-weight="bold" text-anchor="end" stroke="#000" stroke-width="0.3">200</text>
<line x1="117.6" y1="714" x2="152.93" y2="697.19" stroke="#111" stroke-width="1.1" />
<polygon points="158.8,694.4 153.14,699.97 150.91,695.27" fill="#111"/>
<path d="M191.9,745.0 192.4,744.0 192.9,743.1 193.3,742.2 193.8,741.5 194.7,740.3 195.6,739.1 196.5,738.1 197.4,737.2 198.3,736.3 199.2,735.5 200.1,734.8 201.0,734.0 201.9,733.2 202.8,732.5 203.7,731.8 204.6,731.2 205.5,730.5 206.4,729.9 207.4,729.3 208.3,728.7 209.2,728.1 210.1,727.5 211.0,726.9 211.9,726.3 212.8,725.7 213.7,725.1 214.6,724.5 215.5,724.0 216.4,723.4 217.3,722.8 218.2,722.2 219.1,721.7 220.0,721.1 220.9,720.6 221.8,720.0 222.8,719.5 223.7,718.9 224.6,718.4 225.5,717.8 226.4,717.3 227.3,716.8 228.2,716.2 229.1,715.6 230.0,715.0 230.9,714.3 231.8,713.6 232.7,713.0 233.6,712.3 234.5,711.7 235.4,711.0 236.3,710.5 237.3,710.0 238.2,709.5 239.1,709.2 240.0,708.9 240.9,708.7 241.8,708.7 242.7,708.8 243.6,709.0 244.5,709.4 245.4,709.9 246.3,710.5 247.2,711.2 248.1,712.0 249.0,712.9 249.9,713.8 250.8,714.8 251.7,715.8 252.7,716.7 253.6,717.7 254.5,718.7 255.4,719.6 256.3,720.5 257.2,721.3 258.1,722.2 259.0,723.1 259.9,724.0 260.8,724.9 261.7,725.8 262.6,726.8 263.5,727.8 264.4,728.8 265.3,729.9 266.2,731.0 267.2,732.2 268.1,733.5 268.5,734.2 269.0,735.0 269.4,735.9 269.9,736.7 270.3,737.5 270.8,738.3 271.2,739.1 271.7,739.7 272.6,740.8 273.5,741.6 274.4,742.4 275.3,743.0 276.2,743.6 277.1,744.2 278.0,744.7" fill="none" stroke="#f80000" stroke-width="2.4" stroke-dasharray="0 5.9" stroke-linecap="round" clip-path="url(#cC1i)"/>
<path d="M189.2,744.9 189.7,743.8 190.1,742.7 190.6,741.8 191.0,741.1 191.5,740.3 191.9,739.6 192.4,738.9 193.3,737.7 194.2,736.5 195.1,735.4 196.0,734.4 196.9,733.5 197.8,732.6 198.7,731.8 199.6,731.0 200.6,730.3 201.5,729.7 202.4,729.1 203.3,728.5 204.2,728.0 205.1,727.5 206.0,727.0 206.9,726.5 207.8,726.0 208.7,725.5 209.6,725.0 210.5,724.4 211.4,723.9 212.3,723.3 213.2,722.6 214.1,722.0 215.1,721.4 216.0,720.7 216.9,720.1 217.8,719.4 218.7,718.8 219.6,718.1 220.5,717.5 221.4,716.8 222.3,716.2 223.2,715.6 224.1,715.0 225.0,714.4 225.9,713.9 226.8,713.3 227.7,712.8 228.6,712.3 229.6,711.7 230.5,711.1 231.4,710.5 232.3,710.0 233.2,709.4 234.1,708.8 235.0,708.3 235.9,707.7 236.8,707.2 237.7,706.8 238.6,706.4 239.5,706.0 240.4,705.7 241.3,705.4 242.2,705.3 243.1,705.2 244.0,705.2 245.0,705.3 245.9,705.6 246.8,706.0 247.7,706.5 248.6,707.0 249.5,707.7 250.4,708.5 251.3,709.3 252.2,710.1 253.1,711.0 254.0,711.9 254.9,712.8 255.8,713.7 256.7,714.5 257.6,715.4 258.5,716.2 259.5,717.0 260.4,717.9 261.3,718.8 262.2,719.7 263.1,720.7 264.0,721.6 264.9,722.6 265.8,723.6 266.7,724.7 267.6,725.7 268.5,726.7 269.4,727.7 270.3,728.7 271.2,729.7 272.1,730.8 273.0,732.0 273.9,733.1 274.9,734.2 275.8,735.4 276.7,736.5 277.6,737.5 278.5,738.6 279.4,739.5 280.3,740.4 281.2,741.2 282.1,741.9 283.0,742.7 283.9,743.4 284.8,744.1 285.7,744.7" fill="none" stroke="#0000e6" stroke-width="2.4" stroke-dasharray="0 5.9" stroke-linecap="round" clip-path="url(#cC1i)"/>
<path d="M164.8,744.7 165.2,741.4 165.7,738.3 166.1,735.4 166.6,732.5 167.0,729.7 167.5,727.1 167.9,724.4 168.4,721.9 168.8,719.4 169.3,717.0 169.7,714.6 170.2,712.3 170.7,710.0 171.1,707.7 171.6,705.4 172.0,703.1 172.5,700.8 172.9,698.5 173.4,696.2 173.8,693.9 174.3,691.5 174.7,689.2 175.2,686.9 175.6,684.6 176.1,682.4 176.5,680.2 177.0,678.1 177.5,676.0 177.9,674.1 178.4,672.2 178.8,670.4 179.3,668.7 179.7,667.1 180.2,665.7 180.6,664.4 181.1,663.1 181.5,661.9 182.0,660.7 182.4,659.6 182.9,658.5 183.3,657.4 183.8,656.4 184.2,655.5 184.7,654.6 185.2,653.8 185.6,653.0 186.1,652.3 187.0,651.1 187.9,650.1 188.8,649.1 189.7,648.2 190.6,647.3 191.5,646.6 192.4,646.1 193.3,645.7 194.2,645.6 195.1,645.6 196.0,645.7 196.9,645.8 197.8,646.0 198.7,646.3 199.6,646.6 200.6,646.9 201.5,647.3 202.4,647.7 203.3,648.2 204.2,648.7 205.1,649.2 206.0,649.7 206.9,650.2 207.8,650.8 208.7,651.6 209.6,652.6 210.5,653.7 211.4,654.9 212.3,656.1 213.2,657.4 214.1,658.7 215.1,659.9 216.0,661.2 216.9,662.5 217.3,663.2 217.8,663.9 218.2,664.7 218.7,665.4 219.1,666.2 219.6,667.0 220.0,667.8 220.5,668.7 220.9,669.6 221.4,670.5 221.8,671.5 222.3,672.6 222.8,673.7 223.2,674.9 223.7,676.1 224.1,677.4 224.6,678.7 225.0,680.1 225.5,681.5 225.9,682.9 226.4,684.4 226.8,685.9 227.3,687.4 227.7,689.0 228.2,690.5 228.6,692.1 229.1,693.7 229.6,695.3 230.0,696.9 230.5,698.4 230.9,700.0 231.4,701.6 231.8,703.2 232.3,704.8 232.7,706.6 233.2,708.3 233.6,710.2 234.1,712.0 234.5,713.9 235.0,715.8 235.4,717.8 235.9,719.7 236.3,721.7 236.8,723.6 237.3,725.5 237.7,727.4 238.2,729.2 238.6,731.0 239.1,732.7 239.5,734.4 240.0,736.0 240.4,737.6 240.9,739.0 241.3,740.4 241.8,741.6 242.2,742.8 242.7,743.9 243.1,745.1" fill="none" stroke="#000000" stroke-width="2.5" stroke-linejoin="round" stroke-linecap="round" clip-path="url(#cC1i)"/>
<path d="M172.5,747.9 172.9,744.5 173.4,741.4 173.8,738.3 174.3,735.3 174.7,732.3 175.2,729.4 175.6,726.5 176.1,723.6 176.5,720.9 177.0,718.2 177.5,715.6 177.9,713.1 178.4,710.7 178.8,708.5 179.3,706.4 179.7,704.5 180.2,702.8 180.6,701.2 181.1,699.6 181.5,698.1 182.0,696.6 182.4,695.1 182.9,693.7 183.3,692.3 183.8,691.0 184.2,689.8 184.7,688.6 185.2,687.5 185.6,686.4 186.1,685.4 186.5,684.5 187.0,683.7 187.4,683.0 188.3,681.9 189.2,681.0 190.1,680.3 191.0,679.6 191.9,679.1 192.9,678.9 193.8,678.9 194.7,679.3 195.6,679.8 196.5,680.6 197.4,681.5 198.3,682.5 199.2,683.6 200.1,684.6 201.0,685.6 201.9,686.6 202.8,687.7 203.7,688.9 204.6,690.2 205.1,690.8 205.5,691.5 206.0,692.2 206.4,692.9 206.9,693.7 207.4,694.5 207.8,695.3 208.3,696.1 208.7,696.9 209.2,697.8 209.6,698.7 210.1,699.8 210.5,700.8 211.0,702.0 211.4,703.1 211.9,704.4 212.3,705.6 212.8,706.9 213.2,708.2 213.7,709.6 214.1,710.9 214.6,712.2 215.1,713.6 215.5,715.0 216.0,716.3 216.4,717.8 216.9,719.3 217.3,720.8 217.8,722.3 218.2,723.8 218.7,725.4 219.1,727.0 219.6,728.6 220.0,730.2 220.5,731.8 220.9,733.4 221.4,735.0 221.8,736.6 222.3,738.2 222.8,739.7 223.2,741.2 223.7,742.8 224.1,744.3 224.6,745.8" fill="none" stroke="#0000e6" stroke-width="2.6" stroke-linejoin="round" stroke-linecap="round" clip-path="url(#cC1i)"/>
<path d="M175.6,747.4 176.1,743.5 176.5,739.9 177.0,736.5 177.5,733.2 177.9,730.1 178.4,727.1 178.8,724.1 179.3,721.3 179.7,718.5 180.2,715.8 180.6,713.1 181.1,710.5 181.5,707.9 182.0,705.3 182.4,702.7 182.9,700.1 183.3,697.4 183.8,694.7 184.2,691.9 184.7,689.2 185.2,686.5 185.6,683.8 186.1,681.3 186.5,678.9 187.0,676.7 187.4,674.6 187.9,672.8 188.3,671.2 188.8,669.9 189.2,668.6 189.7,667.3 190.1,666.1 190.6,664.9 191.0,663.9 191.5,662.9 191.9,662.1 192.9,661.1 193.8,660.9 194.7,661.7 195.6,663.1 196.0,663.9 196.5,664.9 196.9,665.9 197.4,667.0 197.8,668.0 198.3,669.1 198.7,670.1 199.2,671.0 199.6,671.9 200.1,672.6 201.0,673.5 201.9,674.2 202.8,674.8 203.7,675.2 204.6,675.7 205.5,676.1 206.4,676.5 207.4,677.0 208.3,677.5 209.2,678.1 210.1,678.8 211.0,679.5 211.9,680.3 212.8,681.3 213.7,682.5 214.1,683.1 214.6,684.0 215.1,685.3 215.5,686.9 216.0,688.9 216.4,691.2 216.9,693.6 217.3,696.1 217.8,698.6 218.2,701.0 218.7,703.2 219.1,705.2 219.6,706.9 220.0,708.7 220.5,710.4 220.9,712.0 221.4,713.7 221.8,715.3 222.3,716.8 222.8,718.4 223.2,719.9 223.7,721.4 224.1,722.9 224.6,724.3 225.0,725.7 225.5,727.0 225.9,728.4 226.4,729.6 226.8,730.9 227.3,732.1 227.7,733.3 228.2,734.4 228.6,735.4 229.1,736.4 229.6,737.3 230.0,738.3 230.5,739.3 230.9,740.3 231.4,741.4 231.8,742.5 232.3,743.7 232.7,744.9" fill="none" stroke="#f80000" stroke-width="2.6" stroke-linejoin="round" stroke-linecap="round" clip-path="url(#cC1i)"/>
<path d="M176.1,746.2 176.5,743.5 177.0,740.9 177.5,738.2 177.9,735.5 178.4,732.7 178.8,729.9 179.3,727.1 179.7,724.3 180.2,721.6 180.6,719.0 181.1,716.4 181.5,713.9 182.0,711.6 182.4,709.4 182.9,707.4 183.3,705.6 183.8,703.9 184.2,702.5 184.7,701.4 185.2,700.2 185.6,699.1 186.1,698.0 186.5,696.9 187.0,695.9 187.4,694.9 187.9,693.9 188.3,693.0 188.8,692.1 189.2,691.3 189.7,690.6 190.1,689.9 191.0,688.8 191.9,688.0 192.9,687.7 193.8,687.7 194.7,687.8 195.6,688.0 196.5,688.2 197.4,688.5 198.3,688.9 199.2,689.3 200.1,689.7 201.0,690.2 201.9,690.9 202.8,691.8 203.7,692.8 204.6,693.9 205.5,695.2 206.4,696.5 206.9,697.1 207.4,697.8 207.8,698.5 208.3,699.1 209.2,700.4 209.6,701.1 210.1,701.9 210.5,702.6 211.0,703.4 211.4,704.2 211.9,705.1 212.3,705.9 212.8,706.8 213.2,707.7 213.7,708.6 214.1,709.5 214.6,710.4 215.1,711.3 215.5,712.1 216.0,713.0 216.4,713.8 216.9,714.7 217.3,715.5 217.8,716.3 218.2,717.0 218.7,717.7 219.1,718.4 220.0,719.6 220.9,720.8 221.8,721.9 222.8,723.0 223.7,724.0 224.6,725.1 225.5,726.0 226.4,727.0 227.3,728.0 228.2,729.0 229.1,730.0 230.0,731.0 230.9,732.0 231.8,733.0 232.7,734.0 233.6,735.0 234.5,735.9 235.4,736.9 236.3,737.9 237.3,739.0 238.2,740.1 239.1,741.2 240.0,742.5 240.4,743.1 240.9,743.8 241.3,744.6 241.8,745.3" fill="none" stroke="#0000e6" stroke-width="2.6" stroke-dasharray="4.8 8.6" stroke-linecap="round" stroke-linejoin="round" clip-path="url(#cC1i)"/>
<path d="M177.0,747.2 177.5,743.4 177.9,739.9 178.4,736.5 178.8,733.1 179.3,729.7 179.7,726.5 180.2,723.3 180.6,720.2 181.1,717.2 181.5,714.4 182.0,711.7 182.4,709.1 182.9,706.7 183.3,704.5 183.8,702.5 184.2,700.6 184.7,698.9 185.2,697.1 185.6,695.5 186.1,693.9 186.5,692.4 187.0,691.0 187.4,689.6 187.9,688.4 188.3,687.2 188.8,686.2 189.2,685.2 189.7,684.3 190.1,683.5 190.6,682.6 191.0,681.8 191.5,681.0 191.9,680.3 192.9,679.4 193.8,679.3 194.7,679.5 195.6,680.1 196.5,680.9 197.4,681.8 198.3,682.8 199.2,683.9 200.1,684.9 201.0,685.9 201.9,686.9 202.8,687.9 203.7,689.0 204.6,690.2 205.5,691.4 206.4,692.7 207.4,694.0 207.8,694.7 208.3,695.4 208.7,696.1 209.2,696.9 209.6,697.6 210.1,698.4 210.5,699.1 211.0,700.0 211.4,700.8 211.9,701.7 212.3,702.6 212.8,703.6 213.2,704.5 213.7,705.5 214.1,706.5 214.6,707.5 215.1,708.6 215.5,709.6 216.0,710.7 216.4,711.7 216.9,712.8 217.3,713.8 217.8,714.9 218.2,715.9 218.7,717.0 219.1,718.2 219.6,719.3 220.0,720.5 220.5,721.8 220.9,723.0 221.4,724.3 221.8,725.5 222.3,726.8 222.8,728.0 223.2,729.2 223.7,730.4 224.1,731.5 224.6,732.6 225.0,733.6 225.5,734.5 225.9,735.4 226.4,736.2 226.8,736.9 227.3,737.6 227.7,738.3 228.6,739.6 229.6,740.8 230.5,742.0 231.4,743.0 232.3,744.0 233.2,745.0" fill="none" stroke="#f80000" stroke-width="2.6" stroke-dasharray="4.8 8.6" stroke-linecap="round" stroke-linejoin="round" clip-path="url(#cC1i)"/>
<line x1="155.2" y1="741.6" x2="158.4" y2="741.6" stroke="#000" stroke-width="1.5" />
<text x="155.2" y="744.81" font-family='"Liberation Sans", sans-serif' font-size="9.8" font-weight="bold" text-anchor="end" fill="#000" textLength="10.2" lengthAdjust="spacingAndGlyphs" stroke="#000" stroke-width="0.3" >22</text>
<line x1="155.2" y1="723.15" x2="158.4" y2="723.15" stroke="#000" stroke-width="1.5" />
<text x="155.2" y="726.36" font-family='"Liberation Sans", sans-serif' font-size="9.8" font-weight="bold" text-anchor="end" fill="#000" textLength="10.2" lengthAdjust="spacingAndGlyphs" stroke="#000" stroke-width="0.3" >24</text>
<line x1="155.2" y1="704.7" x2="158.4" y2="704.7" stroke="#000" stroke-width="1.5" />
<text x="155.2" y="707.91" font-family='"Liberation Sans", sans-serif' font-size="9.8" font-weight="bold" text-anchor="end" fill="#000" textLength="10.2" lengthAdjust="spacingAndGlyphs" stroke="#000" stroke-width="0.3" >26</text>
<line x1="155.2" y1="686.25" x2="158.4" y2="686.25" stroke="#000" stroke-width="1.5" />
<text x="155.2" y="689.46" font-family='"Liberation Sans", sans-serif' font-size="9.8" font-weight="bold" text-anchor="end" fill="#000" textLength="10.2" lengthAdjust="spacingAndGlyphs" stroke="#000" stroke-width="0.3" >28</text>
<line x1="155.2" y1="667.8" x2="158.4" y2="667.8" stroke="#000" stroke-width="1.5" />
<text x="155.2" y="671.01" font-family='"Liberation Sans", sans-serif' font-size="9.8" font-weight="bold" text-anchor="end" fill="#000" textLength="10.2" lengthAdjust="spacingAndGlyphs" stroke="#000" stroke-width="0.3" >30</text>
<line x1="155.2" y1="649.35" x2="158.4" y2="649.35" stroke="#000" stroke-width="1.5" />
<text x="155.2" y="652.56" font-family='"Liberation Sans", sans-serif' font-size="9.8" font-weight="bold" text-anchor="end" fill="#000" textLength="10.2" lengthAdjust="spacingAndGlyphs" stroke="#000" stroke-width="0.3" >32</text>
<line x1="155.2" y1="630.9" x2="158.4" y2="630.9" stroke="#000" stroke-width="1.5" />
<text x="155.2" y="634.11" font-family='"Liberation Sans", sans-serif' font-size="9.8" font-weight="bold" text-anchor="end" fill="#000" textLength="10.2" lengthAdjust="spacingAndGlyphs" stroke="#000" stroke-width="0.3" >34</text>
<line x1="158.4" y1="741.6" x2="158.4" y2="744" stroke="#000" stroke-width="1.5" />
<text transform="translate(161.77,745.6) rotate(-90)" font-family='"Liberation Sans", sans-serif' font-size="9.4" font-weight="bold" text-anchor="end" stroke="#000" stroke-width="0.3">10</text>
<line x1="185.56" y1="741.6" x2="185.56" y2="744" stroke="#000" stroke-width="1.5" />
<text transform="translate(188.93,745.6) rotate(-90)" font-family='"Liberation Sans", sans-serif' font-size="9.4" font-weight="bold" text-anchor="end" stroke="#000" stroke-width="0.3">20</text>
<line x1="212.72" y1="741.6" x2="212.72" y2="744" stroke="#000" stroke-width="1.5" />
<text transform="translate(216.09,745.6) rotate(-90)" font-family='"Liberation Sans", sans-serif' font-size="9.4" font-weight="bold" text-anchor="end" stroke="#000" stroke-width="0.3">30</text>
<line x1="239.88" y1="741.6" x2="239.88" y2="744" stroke="#000" stroke-width="1.5" />
<text transform="translate(243.25,745.6) rotate(-90)" font-family='"Liberation Sans", sans-serif' font-size="9.4" font-weight="bold" text-anchor="end" stroke="#000" stroke-width="0.3">40</text>
<line x1="267.04" y1="741.6" x2="267.04" y2="744" stroke="#000" stroke-width="1.5" />
<text transform="translate(270.41,745.6) rotate(-90)" font-family='"Liberation Sans", sans-serif' font-size="9.4" font-weight="bold" text-anchor="end" stroke="#000" stroke-width="0.3">50</text>
<line x1="294.2" y1="741.6" x2="294.2" y2="744" stroke="#000" stroke-width="1.5" />
<text transform="translate(297.57,745.6) rotate(-90)" font-family='"Liberation Sans", sans-serif' font-size="9.4" font-weight="bold" text-anchor="end" stroke="#000" stroke-width="0.3">60</text>
<rect x="158.4" y="630.9" width="135.8" height="110.7" fill="none" stroke="#000" stroke-width="2"/>
<line x1="185.5" y1="649.2" x2="192.7" y2="677.5" stroke="#555" stroke-width="0.8" />
<line x1="196.8" y1="645.3" x2="210" y2="645.3" stroke="#555" stroke-width="0.9" />
<line x1="196.3" y1="660.6" x2="225.5" y2="660.6" stroke="#555" stroke-width="0.9" />
<line x1="196.3" y1="678.6" x2="229" y2="677.4" stroke="#555" stroke-width="0.9" />
<line x1="196.3" y1="688" x2="234.4" y2="689.4" stroke="#555" stroke-width="0.9" />
<line x1="246.3" y1="705" x2="264" y2="705" stroke="#555" stroke-width="0.9" />
<line x1="209.2" y1="708.8" x2="239.3" y2="708.8" stroke="#555" stroke-width="0.9" />
<circle cx="194.3" cy="645.3" r="2.3" fill="#fff" stroke="#333" stroke-width="0.8"/>
<circle cx="193.7" cy="660.6" r="2.3" fill="#fff" stroke="#333" stroke-width="0.8"/>
<circle cx="193.9" cy="678.8" r="2.3" fill="#fff" stroke="#333" stroke-width="0.8"/>
<circle cx="193.7" cy="688" r="2.3" fill="#fff" stroke="#333" stroke-width="0.8"/>
<circle cx="243.8" cy="705" r="2.3" fill="#fff" stroke="#333" stroke-width="0.8"/>
<circle cx="241.7" cy="708.7" r="2.3" fill="#fff" stroke="#333" stroke-width="0.8"/>
<text x="162.5" y="647.4" font-family='"Liberation Sans", sans-serif' font-size="9.0" font-weight="bold" text-anchor="start" fill="#000" textLength="22.6" lengthAdjust="spacingAndGlyphs" stroke="#000" stroke-width="0.12" >28.76</text>
<text x="210.1" y="648.6" font-family='"Liberation Sans", sans-serif' font-size="9.0" font-weight="bold" text-anchor="start" fill="#000" textLength="22.5" lengthAdjust="spacingAndGlyphs" stroke="#000" stroke-width="0.12" >32.41</text>
<text x="225.8" y="664.1" font-family='"Liberation Sans", sans-serif' font-size="9.0" font-weight="bold" text-anchor="start" fill="#000" textLength="23.1" lengthAdjust="spacingAndGlyphs" stroke="#000" stroke-width="0.12" >30.72</text>
<text x="229.5" y="679.2" font-family='"Liberation Sans", sans-serif' font-size="9.0" font-weight="bold" text-anchor="start" fill="#000" textLength="22.9" lengthAdjust="spacingAndGlyphs" stroke="#000" stroke-width="0.12" >28.79</text>
<text x="234.6" y="693.5" font-family='"Liberation Sans", sans-serif' font-size="9.0" font-weight="bold" text-anchor="start" fill="#000" textLength="23.1" lengthAdjust="spacingAndGlyphs" stroke="#000" stroke-width="0.12" >27.85</text>
<text x="264.2" y="707.9" font-family='"Liberation Sans", sans-serif' font-size="9.0" font-weight="bold" text-anchor="start" fill="#000" textLength="9.8" lengthAdjust="spacingAndGlyphs" stroke="#000" stroke-width="0.12" >26</text>
<text x="186.6" y="711.9" font-family='"Liberation Sans", sans-serif' font-size="9.0" font-weight="bold" text-anchor="start" fill="#000" textLength="22.4" lengthAdjust="spacingAndGlyphs" stroke="#000" stroke-width="0.12" >25.57</text>
<rect x="193.7" y="791.3" width="105.9" height="98.7" fill="#fff" stroke="#222" stroke-width="1.4"/>
<line x1="194.2" y1="798.7" x2="221.8" y2="798.7" stroke="#000000" stroke-width="2.9"/>
<text x="224.6" y="801.99" font-family='"Liberation Sans", sans-serif' font-size="9.2" font-weight="bold" text-anchor="start" fill="#000" textLength="13.4" lengthAdjust="spacingAndGlyphs" stroke="#000" stroke-width="0.3" >BC</text>
<line x1="194.2" y1="812.7" x2="221.8" y2="812.7" stroke="#0000e6" stroke-width="3.2"/>
<text x="224.6" y="815.99" font-family='"Liberation Sans", sans-serif' font-size="9.2" font-weight="bold" text-anchor="start" fill="#000" textLength="73.1" lengthAdjust="spacingAndGlyphs" stroke="#000" stroke-width="0.3" >S1OL-1.5h-0.2h</text>
<line x1="195.3" y1="826.7" x2="200.2" y2="826.7" stroke="#0000e6" stroke-width="3.2" stroke-linecap="round"/>
<line x1="208" y1="826.7" x2="212.9" y2="826.7" stroke="#0000e6" stroke-width="3.2" stroke-linecap="round"/>
<circle cx="220.7" cy="826.7" r="1.35" fill="#0000e6"/>
<text x="224.6" y="829.99" font-family='"Liberation Sans", sans-serif' font-size="9.2" font-weight="bold" text-anchor="start" fill="#000" textLength="73.1" lengthAdjust="spacingAndGlyphs" stroke="#000" stroke-width="0.3" >S1OL-1.5h-0.3h</text>
<circle cx="194.5" cy="840.8" r="1.4" fill="#0000e6"/>
<circle cx="200.2" cy="840.8" r="1.4" fill="#0000e6"/>
<circle cx="205.9" cy="840.8" r="1.4" fill="#0000e6"/>
<circle cx="211.6" cy="840.8" r="1.4" fill="#0000e6"/>
<circle cx="217.3" cy="840.8" r="1.4" fill="#0000e6"/>
<text x="224.6" y="844.09" font-family='"Liberation Sans", sans-serif' font-size="9.2" font-weight="bold" text-anchor="start" fill="#000" textLength="73.1" lengthAdjust="spacingAndGlyphs" stroke="#000" stroke-width="0.3" >S1OL-1.5h-0.4h</text>
<line x1="194.2" y1="854.8" x2="221.8" y2="854.8" stroke="#f80000" stroke-width="3.2"/>
<text x="224.6" y="858.09" font-family='"Liberation Sans", sans-serif' font-size="9.2" font-weight="bold" text-anchor="start" fill="#000" textLength="73.1" lengthAdjust="spacingAndGlyphs" stroke="#000" stroke-width="0.3" >S1OL-2.0h-0.2h</text>
<line x1="195.3" y1="868.8" x2="200.2" y2="868.8" stroke="#f80000" stroke-width="3.2" stroke-linecap="round"/>
<line x1="208" y1="868.8" x2="212.9" y2="868.8" stroke="#f80000" stroke-width="3.2" stroke-linecap="round"/>
<circle cx="220.7" cy="868.8" r="1.35" fill="#f80000"/>
<text x="224.6" y="872.09" font-family='"Liberation Sans", sans-serif' font-size="9.2" font-weight="bold" text-anchor="start" fill="#000" textLength="73.1" lengthAdjust="spacingAndGlyphs" stroke="#000" stroke-width="0.3" >S1OL-2.0h-0.3h</text>
<circle cx="194.5" cy="882.8" r="1.4" fill="#f80000"/>
<circle cx="200.2" cy="882.8" r="1.4" fill="#f80000"/>
<circle cx="205.9" cy="882.8" r="1.4" fill="#f80000"/>
<circle cx="211.6" cy="882.8" r="1.4" fill="#f80000"/>
<circle cx="217.3" cy="882.8" r="1.4" fill="#f80000"/>
<text x="224.6" y="886.09" font-family='"Liberation Sans", sans-serif' font-size="9.2" font-weight="bold" text-anchor="start" fill="#000" textLength="73.1" lengthAdjust="spacingAndGlyphs" stroke="#000" stroke-width="0.3" >S1OL-2.0h-0.4h</text>
<rect x="74.8" y="854.8" width="96.7" height="16.9" fill="#fff" stroke="#333" stroke-width="1.3"/>
<text x="81.2" y="867.4" font-family='"Liberation Sans", sans-serif' font-size="10.9" font-weight="bold" text-anchor="start" fill="#000" textLength="79.5" lengthAdjust="spacingAndGlyphs" stroke="#000" stroke-width="0.01" >Bottom chord</text>
<text transform="translate(12.91,788.7) rotate(-90)" font-family='"Liberation Sans", sans-serif' font-size="13.3" font-weight="bold" text-anchor="middle" textLength="116.5" lengthAdjust="spacingAndGlyphs" stroke="#000" stroke-width="0.4">Deflection (mm)</text>
<text x="135.8" y="935.6" font-family='"Liberation Sans", sans-serif' font-size="13.0" font-weight="bold" text-anchor="start" fill="#000" textLength="71.8" lengthAdjust="spacingAndGlyphs" stroke="#000" stroke-width="0.4" >Time (ms)</text>
<defs><clipPath id="cC2"><rect x="419" y="657.5" width="258.5" height="208"/></clipPath></defs>
<path d="M419.7,865.0 420.3,864.1 420.8,863.3 421.2,862.4 421.6,861.3 422.1,860.1 422.5,858.8 422.9,857.4 423.4,855.9 423.8,854.4 424.0,853.4 424.2,852.4 424.4,851.3 424.6,850.1 424.9,848.9 425.1,847.6 425.3,846.2 425.5,844.7 425.7,843.3 425.9,841.7 426.1,840.2 426.4,838.6 426.6,837.1 426.8,835.5 427.0,833.9 427.2,832.4 427.4,830.8 427.6,829.3 427.9,827.8 428.1,826.4 428.3,825.0 428.5,823.7 428.7,822.4 428.9,821.3 429.1,820.2 429.4,819.1 429.6,818.1 429.8,817.1 430.0,816.1 430.2,815.1 430.4,814.2 430.7,813.2 430.9,812.2 431.1,811.3 431.3,810.4 431.5,809.5 431.7,808.6 431.9,807.7 432.2,806.8 432.4,805.9 432.6,805.1 432.8,804.2 433.0,803.4 433.2,802.6 433.4,801.8 433.7,801.0 433.9,800.2 434.3,798.7 434.7,797.3 435.2,795.9 435.6,794.6 436.0,793.4 436.5,792.2 436.9,791.1 437.3,789.9 437.7,788.8 438.2,787.8 438.6,786.7 439.0,785.7 439.5,784.7 439.9,783.7 440.3,782.8 440.7,781.9 441.2,781.0 441.6,780.2 442.0,779.5 442.5,778.8 443.1,777.9 443.8,777.2 444.4,776.6 445.0,776.0 445.7,775.4 446.3,774.9 447.2,774.2 448.0,773.8 448.9,773.5 449.8,773.4 450.6,773.8 451.3,774.3 451.9,774.9 452.6,775.7 453.2,776.5 453.8,777.4 454.5,778.2 455.1,779.0 455.8,779.9 456.4,780.9 457.1,781.9 457.5,782.6 457.9,783.4 458.4,784.1 458.8,784.9 459.2,785.7 459.6,786.5 460.1,787.4 460.5,788.2 460.9,789.1 461.4,790.0 461.8,790.9 462.2,791.8 462.7,792.9 463.1,794.0 463.5,795.2 463.9,796.3 464.4,797.5 464.8,798.6 465.2,799.7 465.7,800.8 466.1,801.8 466.5,802.7 466.9,803.7 467.4,804.6 467.8,805.5 468.2,806.4 468.7,807.3 469.1,808.1 469.5,808.9 470.0,809.6 470.4,810.3 470.8,811.0 471.5,812.0 472.1,812.9 472.7,813.9 473.4,814.7 474.0,815.6 474.7,816.3 475.3,817.0 476.0,817.6 476.6,818.2 477.3,818.7 477.9,819.3 478.5,819.8 479.2,820.3 480.0,820.9 480.9,821.5 481.8,821.8 482.6,822.1 483.5,822.1 484.3,822.0 485.2,821.8 486.1,821.5 486.9,821.2 487.8,820.8 488.6,820.4 489.5,820.0 490.4,819.6 491.2,819.2 492.1,818.6 492.9,818.0 493.6,817.6 494.2,817.1 494.9,816.6 495.5,816.0 496.2,815.6 497.0,814.9 497.9,814.4 498.7,813.9 499.6,813.6 500.5,813.3 501.3,813.0 502.2,812.7 503.0,812.4 503.9,812.2 504.7,812.0 505.6,811.9 506.5,811.8 507.3,811.8 508.2,811.8 509.0,812.0 509.9,812.1 510.8,812.4 511.6,812.6 512.5,812.9 513.3,813.3 514.2,813.6 515.1,813.9 515.9,814.2 516.8,814.6 517.6,814.9 518.5,815.4 519.3,815.8 520.2,816.3 521.1,816.8 521.9,817.2 522.8,817.6 523.6,818.0 524.5,818.3 525.4,818.5 526.2,818.7 527.1,818.8 527.9,819.0 528.8,819.1 529.7,819.3 530.5,819.4 531.4,819.5 532.2,819.6 533.1,819.7 534.0,819.7 534.8,819.8 535.7,819.8 536.5,819.8 537.4,819.7 538.2,819.6 539.1,819.5 540.0,819.4 540.8,819.2 541.7,819.0 542.5,818.9 543.4,818.7 544.3,818.5 545.1,818.4 546.0,818.3 546.8,818.1 547.7,818.0 548.6,818.0 549.4,817.9 550.3,817.9 551.1,817.8 552.0,817.8 552.9,817.7 553.7,817.7 554.6,817.6 555.4,817.6 556.3,817.6 557.1,817.5 558.0,817.5 558.9,817.5 559.7,817.5 560.6,817.5 561.4,817.5 562.3,817.5 563.2,817.5 564.0,817.5 564.9,817.5 565.7,817.5 566.6,817.5 567.5,817.5 568.3,817.5 569.2,817.5 570.0,817.6 570.9,817.6 571.8,817.6 572.6,817.6 573.5,817.6 574.3,817.7 575.2,817.7 576.0,817.7 576.9,817.7 577.8,817.7 578.6,817.8 579.5,817.8 580.3,817.8 581.2,817.8 582.1,817.9 582.9,817.9 583.8,817.9 584.6,817.9 585.5,817.9 586.4,818.0 587.2,818.0 588.1,818.0 588.9,818.0 589.8,818.0 590.7,818.0 591.5,818.1 592.4,818.1 593.2,818.1 594.1,818.1 594.9,818.1 595.8,818.2 596.7,818.2 597.5,818.2 598.4,818.2 599.2,818.2 600.1,818.2 601.0,818.3 601.8,818.3 602.7,818.3 603.5,818.3 604.4,818.3 605.3,818.4 606.1,818.4 607.0,818.4 607.8,818.4 608.7,818.4 609.5,818.4 610.4,818.5 611.3,818.5 612.1,818.5 613.0,818.5 613.8,818.5 614.7,818.5 615.6,818.6 616.4,818.6 617.3,818.6 618.1,818.6 619.0,818.6 619.9,818.6 620.7,818.7 621.6,818.7 622.4,818.7 623.3,818.7 624.2,818.7 625.0,818.7 625.9,818.8 626.7,818.8 627.6,818.8 628.4,818.8 629.3,818.8 630.2,818.8 631.0,818.8 631.9,818.9 632.7,818.9 633.6,818.9 634.5,818.9 635.3,818.9 636.2,818.9 637.0,818.9 637.9,819.0 638.8,819.0 639.6,819.0 640.5,819.0 641.3,819.0 642.2,819.0 643.1,819.0 643.9,819.1 644.8,819.1 645.6,819.1 646.5,819.1 647.3,819.1 648.2,819.1 649.1,819.1 649.9,819.1 650.8,819.2 651.6,819.2 652.5,819.2 653.4,819.2 654.2,819.2 655.1,819.2 655.9,819.2 656.8,819.3 657.7,819.3 658.5,819.3 659.4,819.3 660.2,819.3 661.1,819.3 662.0,819.3 662.8,819.3 663.7,819.3 664.5,819.4 665.4,819.4 666.2,819.4 667.1,819.4 668.0,819.4 668.8,819.4 669.7,819.4 670.5,819.4 671.4,819.5 672.3,819.5 673.1,819.5 674.0,819.5 674.8,819.5 675.7,819.5 676.6,819.5 677.2,819.5" fill="none" stroke="#0000e6" stroke-width="3.3" stroke-linejoin="round" stroke-linecap="round" clip-path="url(#cC2)"/>
<path d="M419.7,865.0 419.9,864.1 420.1,863.1 420.3,862.1 420.6,861.2 420.8,860.1 421.0,859.1 421.2,858.1 421.4,857.0 421.6,855.9 421.8,854.7 422.1,853.5 422.3,852.3 422.5,850.9 422.7,849.6 422.9,848.2 423.1,846.8 423.4,845.3 423.6,843.9 423.8,842.4 424.0,840.9 424.2,839.3 424.4,837.8 424.6,836.3 424.9,834.8 425.1,833.3 425.3,831.8 425.5,830.4 425.7,828.9 425.9,827.5 426.1,826.2 426.4,824.9 426.6,823.6 426.8,822.4 427.0,821.3 427.2,820.2 427.4,819.1 427.6,818.1 427.9,817.1 428.1,816.2 428.3,815.2 428.5,814.3 428.7,813.3 428.9,812.4 429.1,811.5 429.4,810.6 429.6,809.7 429.8,808.9 430.0,808.0 430.2,807.2 430.4,806.4 430.7,805.6 430.9,804.8 431.1,804.0 431.3,803.2 431.7,801.7 432.2,800.2 432.6,798.7 433.0,797.3 433.4,795.9 433.9,794.6 434.3,793.3 434.7,792.0 435.2,790.7 435.6,789.4 436.0,788.1 436.5,786.8 436.9,785.6 437.3,784.3 437.7,783.1 438.2,781.9 438.6,780.7 439.0,779.6 439.5,778.6 439.9,777.6 440.3,776.6 440.7,775.7 441.2,774.9 441.6,774.2 442.3,773.3 442.9,772.4 443.5,771.6 444.2,770.8 444.8,770.0 445.5,769.3 446.1,768.6 446.8,767.9 447.4,767.3 448.0,766.8 448.9,766.3 449.8,766.0 450.6,765.8 451.5,765.9 452.3,766.5 453.0,767.2 453.6,768.0 454.3,768.9 454.9,769.8 455.6,770.7 456.2,771.6 456.9,772.6 457.3,773.3 457.7,774.1 458.1,774.9 458.6,775.8 459.0,776.6 459.4,777.5 459.9,778.4 460.3,779.2 460.7,780.1 461.1,781.0 461.6,781.9 462.0,782.7 462.4,783.6 462.9,784.6 463.3,785.5 463.7,786.4 464.2,787.4 464.6,788.3 465.0,789.2 465.4,790.1 465.9,791.0 466.3,791.9 466.7,792.7 467.2,793.6 467.6,794.4 468.0,795.2 468.5,796.0 468.9,796.8 469.3,797.6 469.7,798.4 470.2,799.1 470.6,799.9 471.0,800.6 471.5,801.4 471.9,802.1 472.3,802.9 472.7,803.6 473.2,804.3 473.8,805.3 474.5,806.2 475.1,806.9 475.8,807.6 476.4,808.1 477.0,808.7 477.7,809.1 478.5,809.7 479.4,810.3 480.3,810.8 481.1,811.4 482.0,811.8 482.8,812.0 483.7,812.0 484.6,811.8 485.4,811.6 486.3,811.2 487.1,810.8 488.0,810.3 488.9,809.9 489.7,809.5 490.6,808.9 491.4,808.4 492.3,807.7 492.9,807.2 493.6,806.8 494.4,806.2 495.3,805.6 496.2,805.1 497.0,804.8 497.9,804.5 498.7,804.2 499.6,803.9 500.5,803.6 501.3,803.4 502.2,803.2 503.0,803.0 503.9,802.8 504.7,802.6 505.6,802.5 506.5,802.5 507.3,802.5 508.2,802.5 509.0,802.7 509.9,802.8 510.8,803.1 511.6,803.4 512.5,803.7 513.3,804.0 514.2,804.3 515.1,804.6 515.9,804.9 516.8,805.2 517.6,805.6 518.5,805.9 519.3,806.3 520.2,806.7 521.1,807.1 521.9,807.5 522.8,807.9 523.6,808.2 524.5,808.5 525.4,808.7 526.2,808.9 527.1,809.1 527.9,809.3 528.8,809.4 529.7,809.6 530.5,809.7 531.4,809.9 532.2,810.0 533.1,810.1 534.0,810.2 534.8,810.2 535.7,810.2 536.5,810.2 537.4,810.2 538.2,810.1 539.1,810.0 540.0,809.9 540.8,809.8 541.7,809.6 542.5,809.5 543.4,809.4 544.3,809.2 545.1,809.1 546.0,809.0 546.8,808.9 547.7,808.8 548.6,808.7 549.4,808.6 550.3,808.5 551.1,808.4 552.0,808.3 552.9,808.2 553.7,808.2 554.6,808.1 555.4,808.0 556.3,807.9 557.1,807.8 558.0,807.8 558.9,807.7 559.7,807.7 560.6,807.7 561.4,807.6 562.3,807.6 563.2,807.6 564.0,807.6 564.9,807.6 565.7,807.6 566.6,807.6 567.5,807.6 568.3,807.6 569.2,807.6 570.0,807.6 570.9,807.6 571.8,807.6 572.6,807.6 573.5,807.6 574.3,807.6 575.2,807.6 576.0,807.6 576.9,807.6 577.8,807.6 578.6,807.6 579.5,807.6 580.3,807.6 581.2,807.6 582.1,807.6 582.9,807.6 583.8,807.6 584.6,807.6 585.5,807.6 586.4,807.6 587.2,807.6 588.1,807.6 588.9,807.6 589.8,807.6 590.7,807.6 591.5,807.6 592.4,807.6 593.2,807.6 594.1,807.6 594.9,807.6 595.8,807.6 596.7,807.6 597.5,807.6 598.4,807.6 599.2,807.6 600.1,807.6 601.0,807.6 601.8,807.6 602.7,807.6 603.5,807.6 604.4,807.7 605.3,807.7 606.1,807.7 607.0,807.7 607.8,807.7 608.7,807.7 609.5,807.7 610.4,807.7 611.3,807.7 612.1,807.7 613.0,807.7 613.8,807.7 614.7,807.7 615.6,807.7 616.4,807.7 617.3,807.8 618.1,807.8 619.0,807.8 619.9,807.8 620.7,807.8 621.6,807.8 622.4,807.8 623.3,807.8 624.2,807.8 625.0,807.8 625.9,807.8 626.7,807.8 627.6,807.8 628.4,807.9 629.3,807.9 630.2,807.9 631.0,807.9 631.9,807.9 632.7,807.9 633.6,807.9 634.5,807.9 635.3,807.9 636.2,807.9 637.0,807.9 637.9,807.9 638.8,807.9 639.6,807.9 640.5,807.9 641.3,807.9 642.2,807.9 643.1,807.9 643.9,807.9 644.8,807.9 645.6,807.9 646.5,807.9 647.3,807.9 648.2,807.9 649.1,807.9 649.9,807.9 650.8,807.9 651.6,807.9 652.5,807.9 653.4,807.9 654.2,807.9 655.1,807.9 655.9,807.9 656.8,807.9 657.7,807.9 658.5,807.9 659.4,807.9 660.2,807.9 661.1,807.9 662.0,807.9 662.8,807.9 663.7,807.9 664.5,807.9 665.4,807.9 666.2,807.9 667.1,807.9 668.0,807.9 668.8,807.9 669.7,807.9 670.5,807.9 671.4,807.9 672.3,807.9 673.1,807.9 674.0,807.9 674.8,807.9 675.7,807.9 676.6,807.9 677.2,807.9" fill="none" stroke="#f80000" stroke-width="3.3" stroke-linejoin="round" stroke-linecap="round" clip-path="url(#cC2)"/>
<path d="M419.7,865.0 419.9,864.0 420.1,863.0 420.3,861.9 420.6,860.8 420.8,859.8 421.0,858.7 421.2,857.5 421.4,856.4 421.6,855.3 421.8,854.1 422.1,852.9 422.3,851.7 422.5,850.5 422.7,849.3 422.9,848.1 423.1,846.8 423.4,845.6 423.6,844.3 423.8,843.0 424.0,841.7 424.2,840.3 424.4,838.8 424.6,837.4 424.9,835.9 425.1,834.4 425.3,832.9 425.5,831.4 425.7,829.9 425.9,828.4 426.1,826.9 426.4,825.4 426.6,823.9 426.8,822.5 427.0,821.1 427.2,819.8 427.4,818.5 427.6,817.2 427.9,815.9 428.1,814.7 428.3,813.4 428.5,812.2 428.7,811.0 428.9,809.8 429.1,808.6 429.4,807.5 429.6,806.3 429.8,805.2 430.0,804.1 430.2,803.0 430.4,801.9 430.7,800.8 430.9,799.8 431.1,798.8 431.3,797.8 431.5,796.8 431.7,795.8 431.9,794.9 432.2,793.9 432.4,793.0 432.6,792.1 432.8,791.2 433.0,790.3 433.2,789.4 433.4,788.5 433.7,787.7 433.9,786.8 434.1,786.0 434.3,785.2 434.5,784.4 434.7,783.6 434.9,782.8 435.2,782.0 435.4,781.2 435.8,779.7 436.2,778.2 436.7,776.8 437.1,775.4 437.5,774.0 438.0,772.7 438.4,771.4 438.8,770.1 439.2,768.8 439.7,767.6 440.1,766.3 440.5,765.1 441.0,763.8 441.4,762.6 441.8,761.3 442.3,760.0 442.7,758.7 443.1,757.3 443.5,755.9 444.0,754.5 444.4,753.0 444.8,751.6 445.3,750.2 445.7,748.9 446.1,747.7 446.5,746.5 447.0,745.5 447.4,744.7 447.8,744.0 448.5,743.1 449.1,742.3 449.8,741.6 450.4,740.9 451.1,740.4 451.9,739.8 452.8,739.3 453.6,738.9 454.5,738.5 455.4,738.2 456.2,738.0 457.1,737.9 457.9,738.0 458.8,738.5 459.4,739.0 460.1,739.5 460.7,740.1 461.4,740.8 462.0,741.3 462.7,741.9 463.3,742.5 463.9,743.2 464.6,743.9 465.2,744.6 465.9,745.3 466.5,746.0 467.2,746.6 467.8,747.3 468.5,747.9 469.1,748.5 469.7,749.1 470.4,749.6 471.0,750.2 471.7,750.8 472.3,751.3 473.0,751.8 473.8,752.4 474.7,752.9 475.5,753.4 476.4,753.9 477.3,754.3 478.1,754.8 479.0,755.2 479.8,755.7 480.7,756.3 481.6,756.9 482.4,757.5 483.3,758.1 484.1,758.7 485.0,759.2 485.8,759.6 486.7,759.9 487.6,760.1 488.4,760.2 489.3,760.3 490.1,760.4 491.0,760.5 491.9,760.6 492.7,760.7 493.6,760.7 494.4,760.8 495.3,760.8 496.2,760.9 497.0,760.9 497.9,760.9 498.7,760.9 499.6,760.9 500.5,760.9 501.3,761.0 502.2,761.0 503.0,761.0 503.9,761.0 504.7,761.0 505.6,761.0 506.5,761.0 507.3,761.0 508.2,761.0 509.0,761.1 509.9,761.1 510.8,761.1 511.6,761.1 512.5,761.1 513.3,761.1 514.2,761.1 515.1,761.1 515.9,761.1 516.8,761.1 517.6,761.2 518.5,761.2 519.3,761.2 520.2,761.2 521.1,761.2 521.9,761.2 522.8,761.2 523.6,761.2 524.5,761.3 525.4,761.3 526.2,761.3 527.1,761.3 527.9,761.3 528.8,761.3 529.7,761.3 530.5,761.3 531.4,761.4 532.2,761.4 533.1,761.4 534.0,761.4 534.8,761.4 535.7,761.4 536.5,761.4 537.4,761.5 538.2,761.5 539.1,761.5 540.0,761.5 540.8,761.5 541.7,761.5 542.5,761.5 543.4,761.6 544.3,761.6 545.1,761.6 546.0,761.6 546.8,761.6 547.7,761.6 548.6,761.7 549.4,761.7 550.3,761.7 551.1,761.7 552.0,761.7 552.9,761.7 553.7,761.7 554.6,761.8 555.4,761.8 556.3,761.8 557.1,761.8 558.0,761.8 558.9,761.8 559.7,761.9 560.6,761.9 561.4,761.9 562.3,761.9 563.2,761.9 564.0,762.0 564.9,762.0 565.7,762.0 566.6,762.0 567.5,762.0 568.3,762.0 569.2,762.1 570.0,762.1 570.9,762.1 571.8,762.1 572.6,762.1 573.5,762.2 574.3,762.2 575.2,762.2 576.0,762.2 576.9,762.2 577.8,762.3 578.6,762.3 579.5,762.3 580.3,762.3 581.2,762.3 582.1,762.3 582.9,762.4 583.8,762.4 584.6,762.4 585.5,762.4 586.4,762.4 587.2,762.4 588.1,762.5 588.9,762.5 589.8,762.5 590.7,762.5 591.5,762.5 592.4,762.6 593.2,762.6 594.1,762.6 594.9,762.6 595.8,762.6 596.7,762.6 597.5,762.6 598.4,762.7 599.2,762.7 600.1,762.7 601.0,762.7 601.8,762.7 602.7,762.7 603.5,762.7 604.4,762.8 605.3,762.8 606.1,762.8 607.0,762.8 607.8,762.8 608.7,762.8 609.5,762.8 610.4,762.9 611.3,762.9 612.1,762.9 613.0,762.9 613.8,762.9 614.7,762.9 615.6,762.9 616.4,762.9 617.3,763.0 618.1,763.0 619.0,763.0 619.9,763.0 620.7,763.0 621.6,763.0 622.4,763.0 623.3,763.0 624.2,763.1 625.0,763.1 625.9,763.1 626.7,763.1 627.6,763.1 628.4,763.1 629.3,763.1 630.2,763.1 631.0,763.2 631.9,763.2 632.7,763.2 633.6,763.2 634.5,763.2 635.3,763.2 636.2,763.2 637.0,763.2 637.9,763.3 638.8,763.3 639.6,763.3 640.5,763.3 641.3,763.3 642.2,763.3 643.1,763.3 643.9,763.3 644.8,763.3 645.6,763.4 646.5,763.4 647.3,763.4 648.2,763.4 649.1,763.4 649.9,763.4 650.8,763.4 651.6,763.4 652.5,763.4 653.4,763.5 654.2,763.5 655.1,763.5 655.9,763.5 656.8,763.5 657.7,763.5 658.5,763.5 659.4,763.5 660.2,763.5 661.1,763.5 662.0,763.6 662.8,763.6 663.7,763.6 664.5,763.6 665.4,763.6 666.2,763.6 667.1,763.6 668.0,763.6 668.8,763.6 669.7,763.6 670.5,763.7 671.4,763.7 672.3,763.7 673.1,763.7 674.0,763.7 674.8,763.7 675.7,763.7 676.6,763.7 677.2,763.7" fill="none" stroke="#0000e6" stroke-width="3.2" stroke-dasharray="4.2 9.2" stroke-linecap="round" stroke-linejoin="round" clip-path="url(#cC2)"/>
<path d="M419.7,865.0 419.9,864.0 420.1,863.0 420.3,861.9 420.6,860.8 420.8,859.8 421.0,858.7 421.2,857.5 421.4,856.4 421.6,855.3 421.8,854.1 422.1,852.9 422.3,851.7 422.5,850.5 422.7,849.3 422.9,848.1 423.1,846.8 423.4,845.6 423.6,844.3 423.8,843.0 424.0,841.7 424.2,840.3 424.4,838.8 424.6,837.4 424.9,835.9 425.1,834.4 425.3,832.9 425.5,831.4 425.7,829.9 425.9,828.4 426.1,826.9 426.4,825.4 426.6,823.9 426.8,822.5 427.0,821.1 427.2,819.8 427.4,818.5 427.6,817.2 427.9,815.9 428.1,814.7 428.3,813.4 428.5,812.2 428.7,811.0 428.9,809.8 429.1,808.6 429.4,807.5 429.6,806.3 429.8,805.2 430.0,804.1 430.2,803.0 430.4,801.9 430.7,800.8 430.9,799.8 431.1,798.8 431.3,797.8 431.5,796.8 431.7,795.8 431.9,794.9 432.2,793.9 432.4,793.0 432.6,792.1 432.8,791.2 433.0,790.3 433.2,789.4 433.4,788.5 433.7,787.7 433.9,786.8 434.1,786.0 434.3,785.2 434.5,784.4 434.7,783.6 434.9,782.8 435.2,782.0 435.4,781.2 435.8,779.7 436.2,778.2 436.7,776.8 437.1,775.4 437.5,774.0 438.0,772.7 438.4,771.4 438.8,770.1 439.2,768.9 439.7,767.6 440.1,766.4 440.5,765.1 441.0,763.9 441.4,762.6 441.8,761.3 442.3,760.0 442.7,758.7 443.1,757.3 443.5,755.8 444.0,754.3 444.4,752.7 444.8,751.2 445.3,749.8 445.7,748.4 446.1,747.1 446.5,745.9 447.0,744.8 447.4,743.9 447.8,743.2 448.5,742.3 449.1,741.4 449.8,740.6 450.4,739.9 451.1,739.4 451.7,738.9 452.6,738.4 453.4,738.0 454.3,737.7 455.1,737.4 456.0,737.2 456.9,737.1 457.7,737.2 458.6,737.6 459.4,738.1 460.1,738.6 460.7,739.2 461.4,739.8 462.0,740.3 462.7,740.9 463.3,741.5 463.9,742.2 464.6,743.0 465.2,743.8 465.9,744.6 466.5,745.3 467.2,746.1 467.8,746.8 468.5,747.4 469.1,748.0 469.7,748.6 470.4,749.2 471.0,749.8 471.7,750.3 472.3,750.8 473.0,751.3 473.8,751.9 474.7,752.4 475.5,752.9 476.4,753.4 477.3,753.8 478.1,754.1 479.0,754.4 479.8,754.7 480.7,754.9 481.6,755.1 482.4,755.3 483.3,755.4 484.1,755.4 485.0,755.4 485.8,755.4 486.7,755.4 487.6,755.4 488.4,755.4 489.3,755.4 490.1,755.3 491.0,755.3 491.9,755.3 492.7,755.3 493.6,755.2 494.4,755.2 495.3,755.2 496.2,755.2 497.0,755.2 497.9,755.2 498.7,755.2 499.6,755.2 500.5,755.2 501.3,755.2 502.2,755.2 503.0,755.2 503.9,755.2 504.7,755.2 505.6,755.2 506.5,755.2 507.3,755.2 508.2,755.2 509.0,755.2 509.9,755.2 510.8,755.2 511.6,755.2 512.5,755.2 513.3,755.2 514.2,755.2 515.1,755.2 515.9,755.2 516.8,755.2 517.6,755.2 518.5,755.2 519.3,755.2 520.2,755.2 521.1,755.2 521.9,755.3 522.8,755.3 523.6,755.3 524.5,755.3 525.4,755.3 526.2,755.4 527.1,755.4 527.9,755.4 528.8,755.5 529.7,755.5 530.5,755.5 531.4,755.6 532.2,755.6 533.1,755.6 534.0,755.7 534.8,755.7 535.7,755.7 536.5,755.7 537.4,755.8 538.2,755.8 539.1,755.8 540.0,755.9 540.8,755.9 541.7,756.0 542.5,756.0 543.4,756.1 544.3,756.1 545.1,756.2 546.0,756.2 546.8,756.2 547.7,756.3 548.6,756.3 549.4,756.4 550.3,756.4 551.1,756.5 552.0,756.5 552.9,756.6 553.7,756.6 554.6,756.7 555.4,756.7 556.3,756.8 557.1,756.8 558.0,756.9 558.9,756.9 559.7,756.9 560.6,757.0 561.4,757.0 562.3,757.0 563.2,757.1 564.0,757.1 564.9,757.1 565.7,757.2 566.6,757.2 567.5,757.2 568.3,757.3 569.2,757.3 570.0,757.3 570.9,757.4 571.8,757.4 572.6,757.4 573.5,757.4 574.3,757.5 575.2,757.5 576.0,757.5 576.9,757.6 577.8,757.6 578.6,757.6 579.5,757.6 580.3,757.7 581.2,757.7 582.1,757.7 582.9,757.8 583.8,757.8 584.6,757.8 585.5,757.8 586.4,757.9 587.2,757.9 588.1,757.9 588.9,757.9 589.8,758.0 590.7,758.0 591.5,758.0 592.4,758.0 593.2,758.1 594.1,758.1 594.9,758.1 595.8,758.1 596.7,758.2 597.5,758.2 598.4,758.2 599.2,758.2 600.1,758.3 601.0,758.3 601.8,758.3 602.7,758.3 603.5,758.3 604.4,758.4 605.3,758.4 606.1,758.4 607.0,758.4 607.8,758.4 608.7,758.5 609.5,758.5 610.4,758.5 611.3,758.5 612.1,758.5 613.0,758.6 613.8,758.6 614.7,758.6 615.6,758.6 616.4,758.6 617.3,758.6 618.1,758.7 619.0,758.7 619.9,758.7 620.7,758.7 621.6,758.7 622.4,758.7 623.3,758.8 624.2,758.8 625.0,758.8 625.9,758.8 626.7,758.8 627.6,758.9 628.4,758.9 629.3,758.9 630.2,758.9 631.0,758.9 631.9,758.9 632.7,759.0 633.6,759.0 634.5,759.0 635.3,759.0 636.2,759.0 637.0,759.0 637.9,759.0 638.8,759.1 639.6,759.1 640.5,759.1 641.3,759.1 642.2,759.1 643.1,759.1 643.9,759.2 644.8,759.2 645.6,759.2 646.5,759.2 647.3,759.2 648.2,759.2 649.1,759.2 649.9,759.2 650.8,759.3 651.6,759.3 652.5,759.3 653.4,759.3 654.2,759.3 655.1,759.3 655.9,759.3 656.8,759.4 657.7,759.4 658.5,759.4 659.4,759.4 660.2,759.4 661.1,759.4 662.0,759.4 662.8,759.4 663.7,759.4 664.5,759.5 665.4,759.5 666.2,759.5 667.1,759.5 668.0,759.5 668.8,759.5 669.7,759.5 670.5,759.5 671.4,759.5 672.3,759.5 673.1,759.5 674.0,759.6 674.8,759.6 675.7,759.6 676.6,759.6 677.2,759.6" fill="none" stroke="#f80000" stroke-width="3.2" stroke-dasharray="4.2 9.2" stroke-linecap="round" stroke-linejoin="round" clip-path="url(#cC2)"/>
<path d="M419.7,865.0 419.9,863.1 420.1,861.2 420.3,859.4 420.6,857.5 420.8,855.7 421.0,853.9 421.2,852.1 421.4,850.4 421.6,848.6 421.8,846.9 422.1,845.2 422.3,843.5 422.5,841.9 422.7,840.3 422.9,838.7 423.1,837.1 423.4,835.5 423.6,834.0 423.8,832.5 424.0,831.0 424.2,829.5 424.4,828.0 424.6,826.6 424.9,825.2 425.1,823.8 425.3,822.4 425.5,821.1 425.7,819.7 425.9,818.4 426.1,817.1 426.4,815.8 426.6,814.5 426.8,813.2 427.0,811.9 427.2,810.7 427.4,809.4 427.6,808.2 427.9,806.9 428.1,805.7 428.3,804.5 428.5,803.3 428.7,802.2 428.9,801.0 429.1,799.8 429.4,798.7 429.6,797.6 429.8,796.4 430.0,795.3 430.2,794.2 430.4,793.1 430.7,792.0 430.9,790.9 431.1,789.8 431.3,788.7 431.5,787.6 431.7,786.6 431.9,785.5 432.2,784.4 432.4,783.3 432.6,782.3 432.8,781.2 433.0,780.1 433.2,779.1 433.4,778.0 433.7,777.0 433.9,776.0 434.1,774.9 434.3,773.9 434.5,772.9 434.7,771.9 434.9,770.9 435.2,770.0 435.4,769.0 435.6,768.0 435.8,767.1 436.0,766.2 436.2,765.3 436.5,764.4 436.7,763.5 436.9,762.7 437.1,761.8 437.3,761.0 437.5,760.1 437.7,759.3 438.0,758.5 438.2,757.7 438.4,756.9 438.6,756.1 438.8,755.4 439.0,754.6 439.5,753.0 439.9,751.5 440.3,750.0 440.7,748.5 441.2,746.9 441.6,745.4 441.8,744.6 442.0,743.8 442.3,743.0 442.5,742.2 442.7,741.4 442.9,740.6 443.1,739.8 443.3,738.9 443.5,738.1 443.8,737.2 444.0,736.4 444.2,735.5 444.4,734.6 444.6,733.7 444.8,732.8 445.0,731.9 445.3,731.0 445.5,730.1 445.7,729.2 445.9,728.3 446.1,727.4 446.3,726.5 446.5,725.6 446.8,724.7 447.0,723.8 447.2,722.9 447.4,722.1 447.6,721.2 447.8,720.4 448.0,719.5 448.3,718.7 448.5,717.9 448.7,717.1 448.9,716.3 449.1,715.6 449.6,714.0 450.0,712.5 450.4,711.0 450.8,709.5 451.3,708.1 451.7,706.7 452.1,705.3 452.6,703.9 453.0,702.6 453.4,701.3 453.8,700.0 454.3,698.8 454.7,697.5 455.1,696.3 455.6,695.0 456.0,693.8 456.4,692.5 456.9,691.2 457.3,690.0 457.7,688.9 458.1,687.7 458.6,686.7 459.0,685.7 459.4,684.8 459.9,684.0 460.3,683.3 460.9,682.6 461.6,681.9 462.2,681.4 462.9,680.9 463.7,680.3 464.6,679.8 465.4,679.4 466.3,679.2 467.2,678.9 468.0,678.7 468.9,678.5 469.7,678.4 470.6,678.2 471.5,678.1 472.3,678.1 473.2,678.1 474.0,678.2 474.9,678.3 475.8,678.6 476.6,678.8 477.5,679.1 478.3,679.5 479.2,679.9 480.0,680.3 480.9,680.7 481.8,681.1 482.6,681.6 483.5,682.0 484.3,682.4 485.2,682.9 486.1,683.5 486.9,684.1 487.8,684.8 488.4,685.2 489.1,685.7 489.9,686.3 490.8,686.9 491.6,687.5 492.5,688.0 493.4,688.4 494.2,688.8 495.1,689.2 495.9,689.5 496.8,689.8 497.7,690.2 498.5,690.5 499.4,690.8 500.2,691.0 501.1,691.3 502.0,691.6 502.8,691.9 503.7,692.2 504.5,692.5 505.4,692.8 506.2,693.1 507.1,693.4 508.0,693.7 508.8,694.0 509.7,694.3 510.5,694.6 511.4,695.0 512.3,695.3 513.1,695.6 514.0,695.8 514.8,696.1 515.7,696.4 516.6,696.6 517.4,696.9 518.3,697.1 519.1,697.3 520.0,697.6 520.9,697.8 521.7,698.0 522.6,698.2 523.4,698.4 524.3,698.6 525.1,698.8 526.0,699.0 526.9,699.2 527.7,699.4 528.6,699.6 529.4,699.8 530.3,699.9 531.2,700.1 532.0,700.2 532.9,700.3 533.7,700.5 534.6,700.6 535.5,700.7 536.3,700.7 537.2,700.8 538.0,700.9 538.9,701.0 539.8,701.0 540.6,701.1 541.5,701.2 542.3,701.2 543.2,701.3 544.0,701.4 544.9,701.4 545.8,701.5 546.6,701.5 547.5,701.6 548.3,701.6 549.2,701.7 550.1,701.7 550.9,701.8 551.8,701.8 552.6,701.9 553.5,701.9 554.4,701.9 555.2,702.0 556.1,702.0 556.9,702.0 557.8,702.1 558.7,702.1 559.5,702.2 560.4,702.2 561.2,702.2 562.1,702.3 562.9,702.3 563.8,702.3 564.7,702.3 565.5,702.4 566.4,702.4 567.2,702.4 568.1,702.5 569.0,702.5 569.8,702.5 570.7,702.5 571.5,702.6 572.4,702.6 573.3,702.6 574.1,702.6 575.0,702.7 575.8,702.7 576.7,702.7 577.6,702.7 578.4,702.8 579.3,702.8 580.1,702.8 581.0,702.8 581.8,702.8 582.7,702.9 583.6,702.9 584.4,702.9 585.3,702.9 586.1,702.9 587.0,703.0 587.9,703.0 588.7,703.0 589.6,703.0 590.4,703.0 591.3,703.1 592.2,703.1 593.0,703.1 593.9,703.1 594.7,703.1 595.6,703.2 596.4,703.2 597.3,703.2 598.2,703.2 599.0,703.2 599.9,703.3 600.7,703.3 601.6,703.3 602.5,703.3 603.3,703.3 604.2,703.4 605.0,703.4 605.9,703.4 606.8,703.4 607.6,703.4 608.5,703.4 609.3,703.5 610.2,703.5 611.1,703.5 611.9,703.5 612.8,703.5 613.6,703.5 614.5,703.6 615.3,703.6 616.2,703.6 617.1,703.6 617.9,703.6 618.8,703.6 619.6,703.7 620.5,703.7 621.4,703.7 622.2,703.7 623.1,703.7 623.9,703.7 624.8,703.8 625.7,703.8 626.5,703.8 627.4,703.8 628.2,703.8 629.1,703.8 630.0,703.9 630.8,703.9 631.7,703.9 632.5,703.9 633.4,703.9 634.2,703.9 635.1,704.0 636.0,704.0 636.8,704.0 637.7,704.0 638.5,704.0 639.4,704.0 640.3,704.1 641.1,704.1 642.0,704.1 642.8,704.1 643.7,704.1 644.6,704.2 645.4,704.2 646.3,704.2 647.1,704.2 648.0,704.2 648.9,704.2 649.7,704.3 650.6,704.3 651.4,704.3 652.3,704.3 653.1,704.3 654.0,704.3 654.9,704.4 655.7,704.4 656.6,704.4 657.4,704.4 658.3,704.4 659.2,704.4 660.0,704.5 660.9,704.5 661.7,704.5 662.6,704.5 663.5,704.5 664.3,704.5 665.2,704.6 666.0,704.6 666.9,704.6 667.8,704.6 668.6,704.6 669.5,704.7 670.3,704.7 671.2,704.7 672.0,704.7 672.9,704.7 673.8,704.7 674.6,704.8 675.5,704.8 676.3,704.8 677.2,704.8" fill="none" stroke="#0000e6" stroke-width="3.1" stroke-dasharray="0 5.9" stroke-linecap="round" clip-path="url(#cC2)"/>
<path d="M419.7,865.0 419.9,863.1 420.1,861.1 420.3,859.2 420.6,857.3 420.8,855.5 421.0,853.6 421.2,851.8 421.4,849.9 421.6,848.1 421.8,846.3 422.1,844.6 422.3,842.8 422.5,841.1 422.7,839.4 422.9,837.7 423.1,836.0 423.4,834.3 423.6,832.7 423.8,831.1 424.0,829.4 424.2,827.9 424.4,826.3 424.6,824.7 424.9,823.2 425.1,821.6 425.3,820.1 425.5,818.6 425.7,817.1 425.9,815.7 426.1,814.2 426.4,812.8 426.6,811.3 426.8,809.9 427.0,808.5 427.2,807.1 427.4,805.7 427.6,804.4 427.9,803.0 428.1,801.7 428.3,800.3 428.5,799.0 428.7,797.7 428.9,796.4 429.1,795.1 429.4,793.8 429.6,792.5 429.8,791.3 430.0,790.1 430.2,788.8 430.4,787.6 430.7,786.4 430.9,785.3 431.1,784.1 431.3,783.0 431.5,781.8 431.7,780.7 431.9,779.7 432.2,778.6 432.4,777.5 432.6,776.5 432.8,775.4 433.0,774.4 433.2,773.4 433.4,772.3 433.7,771.3 433.9,770.3 434.1,769.3 434.3,768.3 434.5,767.3 434.7,766.3 434.9,765.3 435.2,764.3 435.4,763.3 435.6,762.3 435.8,761.2 436.0,760.2 436.2,759.2 436.5,758.2 436.7,757.1 436.9,756.1 437.1,755.1 437.3,754.1 437.5,753.0 437.7,752.0 438.0,751.0 438.2,750.0 438.4,749.0 438.6,748.0 438.8,747.0 439.0,746.0 439.2,745.0 439.5,744.0 439.7,743.0 439.9,742.1 440.1,741.1 440.3,740.2 440.5,739.2 440.7,738.3 441.0,737.4 441.2,736.5 441.4,735.5 441.6,734.6 441.8,733.7 442.0,732.8 442.3,731.9 442.5,731.0 442.7,730.1 442.9,729.2 443.1,728.3 443.3,727.5 443.5,726.6 443.8,725.7 444.0,724.9 444.2,724.0 444.4,723.2 444.6,722.3 444.8,721.5 445.0,720.7 445.3,719.9 445.5,719.0 445.7,718.2 445.9,717.4 446.1,716.7 446.3,715.9 446.5,715.1 446.8,714.3 447.2,712.8 447.6,711.3 448.0,709.8 448.5,708.4 448.9,706.9 449.3,705.5 449.8,704.1 450.2,702.7 450.6,701.3 451.1,700.0 451.5,698.7 451.9,697.3 452.3,695.9 452.8,694.5 453.2,693.1 453.6,691.7 454.1,690.3 454.5,688.9 454.9,687.6 455.4,686.3 455.8,685.1 456.2,683.9 456.6,682.8 457.1,681.8 457.5,681.0 457.9,680.2 458.6,679.3 459.2,678.4 459.9,677.5 460.5,676.7 461.1,676.0 461.8,675.4 462.4,674.8 463.3,674.2 464.2,673.8 465.0,673.5 465.9,673.2 466.7,672.9 467.6,672.7 468.5,672.5 469.3,672.3 470.2,672.3 471.0,672.3 471.9,672.4 472.7,672.5 473.6,672.8 474.5,673.1 475.3,673.4 476.2,673.7 477.0,674.1 477.9,674.5 478.8,674.9 479.6,675.3 480.5,675.8 481.3,676.3 482.2,676.9 483.1,677.4 483.9,677.9 484.8,678.4 485.6,678.9 486.5,679.5 487.4,680.1 488.2,680.6 489.1,681.2 489.9,681.8 490.8,682.3 491.6,682.8 492.5,683.3 493.4,683.8 494.2,684.2 495.1,684.6 495.9,685.0 496.8,685.4 497.7,685.8 498.5,686.2 499.4,686.6 500.2,686.9 501.1,687.3 502.0,687.6 502.8,687.9 503.7,688.3 504.5,688.6 505.4,688.9 506.2,689.2 507.1,689.5 508.0,689.8 508.8,690.1 509.7,690.4 510.5,690.7 511.4,691.0 512.3,691.2 513.1,691.5 514.0,691.8 514.8,692.0 515.7,692.3 516.6,692.5 517.4,692.7 518.3,693.0 519.1,693.2 520.0,693.5 520.9,693.7 521.7,694.0 522.6,694.2 523.4,694.5 524.3,694.7 525.1,694.9 526.0,695.2 526.9,695.4 527.7,695.6 528.6,695.8 529.4,696.0 530.3,696.2 531.2,696.4 532.0,696.6 532.9,696.7 533.7,696.8 534.6,697.0 535.5,697.0 536.3,697.1 537.2,697.2 538.0,697.3 538.9,697.3 539.8,697.4 540.6,697.4 541.5,697.5 542.3,697.6 543.2,697.6 544.0,697.7 544.9,697.7 545.8,697.8 546.6,697.8 547.5,697.8 548.3,697.9 549.2,697.9 550.1,698.0 550.9,698.0 551.8,698.0 552.6,698.1 553.5,698.1 554.4,698.1 555.2,698.2 556.1,698.2 556.9,698.2 557.8,698.2 558.7,698.3 559.5,698.3 560.4,698.3 561.2,698.3 562.1,698.4 562.9,698.4 563.8,698.4 564.7,698.4 565.5,698.5 566.4,698.5 567.2,698.5 568.1,698.5 569.0,698.5 569.8,698.6 570.7,698.6 571.5,698.6 572.4,698.6 573.3,698.6 574.1,698.7 575.0,698.7 575.8,698.7 576.7,698.7 577.6,698.7 578.4,698.7 579.3,698.7 580.1,698.8 581.0,698.8 581.8,698.8 582.7,698.8 583.6,698.8 584.4,698.8 585.3,698.8 586.1,698.9 587.0,698.9 587.9,698.9 588.7,698.9 589.6,698.9 590.4,698.9 591.3,698.9 592.2,699.0 593.0,699.0 593.9,699.0 594.7,699.0 595.6,699.0 596.4,699.0 597.3,699.1 598.2,699.1 599.0,699.1 599.9,699.1 600.7,699.1 601.6,699.2 602.5,699.2 603.3,699.2 604.2,699.2 605.0,699.2 605.9,699.3 606.8,699.3 607.6,699.3 608.5,699.3 609.3,699.3 610.2,699.4 611.1,699.4 611.9,699.4 612.8,699.4 613.6,699.5 614.5,699.5 615.3,699.5 616.2,699.5 617.1,699.5 617.9,699.6 618.8,699.6 619.6,699.6 620.5,699.6 621.4,699.7 622.2,699.7 623.1,699.7 623.9,699.7 624.8,699.7 625.7,699.8 626.5,699.8 627.4,699.8 628.2,699.8 629.1,699.9 630.0,699.9 630.8,699.9 631.7,699.9 632.5,700.0 633.4,700.0 634.2,700.0 635.1,700.0 636.0,700.1 636.8,700.1 637.7,700.1 638.5,700.2 639.4,700.2 640.3,700.2 641.1,700.2 642.0,700.3 642.8,700.3 643.7,700.3 644.6,700.4 645.4,700.4 646.3,700.4 647.1,700.4 648.0,700.5 648.9,700.5 649.7,700.5 650.6,700.6 651.4,700.6 652.3,700.6 653.1,700.7 654.0,700.7 654.9,700.7 655.7,700.8 656.6,700.8 657.4,700.8 658.3,700.9 659.2,700.9 660.0,700.9 660.9,701.0 661.7,701.0 662.6,701.1 663.5,701.1 664.3,701.1 665.2,701.2 666.0,701.2 666.9,701.2 667.8,701.3 668.6,701.3 669.5,701.4 670.3,701.4 671.2,701.4 672.0,701.5 672.9,701.5 673.8,701.5 674.6,701.6 675.5,701.6 676.3,701.7 677.2,701.7" fill="none" stroke="#f80000" stroke-width="3.1" stroke-dasharray="0 5.9" stroke-linecap="round" clip-path="url(#cC2)"/>
<line x1="415.5" y1="865" x2="419.7" y2="865" stroke="#000" stroke-width="1.6" />
<line x1="417.4" y1="860.69" x2="419.7" y2="860.69" stroke="#000" stroke-width="1.3" />
<line x1="417.4" y1="856.39" x2="419.7" y2="856.39" stroke="#000" stroke-width="1.3" />
<line x1="417.4" y1="852.08" x2="419.7" y2="852.08" stroke="#000" stroke-width="1.3" />
<line x1="417.4" y1="847.77" x2="419.7" y2="847.77" stroke="#000" stroke-width="1.3" />
<line x1="417.4" y1="843.47" x2="419.7" y2="843.47" stroke="#000" stroke-width="1.3" />
<line x1="415.5" y1="839.16" x2="419.7" y2="839.16" stroke="#000" stroke-width="1.6" />
<line x1="417.4" y1="834.86" x2="419.7" y2="834.86" stroke="#000" stroke-width="1.3" />
<line x1="417.4" y1="830.55" x2="419.7" y2="830.55" stroke="#000" stroke-width="1.3" />
<line x1="417.4" y1="826.24" x2="419.7" y2="826.24" stroke="#000" stroke-width="1.3" />
<line x1="417.4" y1="821.94" x2="419.7" y2="821.94" stroke="#000" stroke-width="1.3" />
<line x1="417.4" y1="817.63" x2="419.7" y2="817.63" stroke="#000" stroke-width="1.3" />
<line x1="415.5" y1="813.33" x2="419.7" y2="813.33" stroke="#000" stroke-width="1.6" />
<line x1="417.4" y1="809.02" x2="419.7" y2="809.02" stroke="#000" stroke-width="1.3" />
<line x1="417.4" y1="804.71" x2="419.7" y2="804.71" stroke="#000" stroke-width="1.3" />
<line x1="417.4" y1="800.41" x2="419.7" y2="800.41" stroke="#000" stroke-width="1.3" />
<line x1="417.4" y1="796.1" x2="419.7" y2="796.1" stroke="#000" stroke-width="1.3" />
<line x1="417.4" y1="791.79" x2="419.7" y2="791.79" stroke="#000" stroke-width="1.3" />
<line x1="415.5" y1="787.49" x2="419.7" y2="787.49" stroke="#000" stroke-width="1.6" />
<line x1="417.4" y1="783.18" x2="419.7" y2="783.18" stroke="#000" stroke-width="1.3" />
<line x1="417.4" y1="778.88" x2="419.7" y2="778.88" stroke="#000" stroke-width="1.3" />
<line x1="417.4" y1="774.57" x2="419.7" y2="774.57" stroke="#000" stroke-width="1.3" />
<line x1="417.4" y1="770.26" x2="419.7" y2="770.26" stroke="#000" stroke-width="1.3" />
<line x1="417.4" y1="765.96" x2="419.7" y2="765.96" stroke="#000" stroke-width="1.3" />
<line x1="415.5" y1="761.65" x2="419.7" y2="761.65" stroke="#000" stroke-width="1.6" />
<line x1="417.4" y1="757.34" x2="419.7" y2="757.34" stroke="#000" stroke-width="1.3" />
<line x1="417.4" y1="753.04" x2="419.7" y2="753.04" stroke="#000" stroke-width="1.3" />
<line x1="417.4" y1="748.73" x2="419.7" y2="748.73" stroke="#000" stroke-width="1.3" />
<line x1="417.4" y1="744.42" x2="419.7" y2="744.42" stroke="#000" stroke-width="1.3" />
<line x1="417.4" y1="740.12" x2="419.7" y2="740.12" stroke="#000" stroke-width="1.3" />
<line x1="415.5" y1="735.81" x2="419.7" y2="735.81" stroke="#000" stroke-width="1.6" />
<line x1="417.4" y1="731.51" x2="419.7" y2="731.51" stroke="#000" stroke-width="1.3" />
<line x1="417.4" y1="727.2" x2="419.7" y2="727.2" stroke="#000" stroke-width="1.3" />
<line x1="417.4" y1="722.89" x2="419.7" y2="722.89" stroke="#000" stroke-width="1.3" />
<line x1="417.4" y1="718.59" x2="419.7" y2="718.59" stroke="#000" stroke-width="1.3" />
<line x1="417.4" y1="714.28" x2="419.7" y2="714.28" stroke="#000" stroke-width="1.3" />
<line x1="415.5" y1="709.97" x2="419.7" y2="709.97" stroke="#000" stroke-width="1.6" />
<line x1="417.4" y1="705.67" x2="419.7" y2="705.67" stroke="#000" stroke-width="1.3" />
<line x1="417.4" y1="701.36" x2="419.7" y2="701.36" stroke="#000" stroke-width="1.3" />
<line x1="417.4" y1="697.06" x2="419.7" y2="697.06" stroke="#000" stroke-width="1.3" />
<line x1="417.4" y1="692.75" x2="419.7" y2="692.75" stroke="#000" stroke-width="1.3" />
<line x1="417.4" y1="688.44" x2="419.7" y2="688.44" stroke="#000" stroke-width="1.3" />
<line x1="415.5" y1="684.14" x2="419.7" y2="684.14" stroke="#000" stroke-width="1.6" />
<line x1="417.4" y1="679.83" x2="419.7" y2="679.83" stroke="#000" stroke-width="1.3" />
<line x1="417.4" y1="675.52" x2="419.7" y2="675.52" stroke="#000" stroke-width="1.3" />
<line x1="417.4" y1="671.22" x2="419.7" y2="671.22" stroke="#000" stroke-width="1.3" />
<line x1="417.4" y1="666.91" x2="419.7" y2="666.91" stroke="#000" stroke-width="1.3" />
<line x1="417.4" y1="662.61" x2="419.7" y2="662.61" stroke="#000" stroke-width="1.3" />
<line x1="415.5" y1="658.3" x2="419.7" y2="658.3" stroke="#000" stroke-width="1.6" />
<line x1="419.7" y1="865" x2="419.7" y2="869.2" stroke="#000" stroke-width="1.6" />
<line x1="426.14" y1="865" x2="426.14" y2="867.4" stroke="#000" stroke-width="1.3" />
<line x1="432.57" y1="865" x2="432.57" y2="869.2" stroke="#000" stroke-width="1.6" />
<line x1="439.01" y1="865" x2="439.01" y2="867.4" stroke="#000" stroke-width="1.3" />
<line x1="445.45" y1="865" x2="445.45" y2="869.2" stroke="#000" stroke-width="1.6" />
<line x1="451.89" y1="865" x2="451.89" y2="867.4" stroke="#000" stroke-width="1.3" />
<line x1="458.32" y1="865" x2="458.32" y2="869.2" stroke="#000" stroke-width="1.6" />
<line x1="464.76" y1="865" x2="464.76" y2="867.4" stroke="#000" stroke-width="1.3" />
<line x1="471.2" y1="865" x2="471.2" y2="869.2" stroke="#000" stroke-width="1.6" />
<line x1="477.64" y1="865" x2="477.64" y2="867.4" stroke="#000" stroke-width="1.3" />
<line x1="484.07" y1="865" x2="484.07" y2="869.2" stroke="#000" stroke-width="1.6" />
<line x1="490.51" y1="865" x2="490.51" y2="867.4" stroke="#000" stroke-width="1.3" />
<line x1="496.95" y1="865" x2="496.95" y2="869.2" stroke="#000" stroke-width="1.6" />
<line x1="503.39" y1="865" x2="503.39" y2="867.4" stroke="#000" stroke-width="1.3" />
<line x1="509.82" y1="865" x2="509.82" y2="869.2" stroke="#000" stroke-width="1.6" />
<line x1="516.26" y1="865" x2="516.26" y2="867.4" stroke="#000" stroke-width="1.3" />
<line x1="522.7" y1="865" x2="522.7" y2="869.2" stroke="#000" stroke-width="1.6" />
<line x1="529.14" y1="865" x2="529.14" y2="867.4" stroke="#000" stroke-width="1.3" />
<line x1="535.58" y1="865" x2="535.58" y2="869.2" stroke="#000" stroke-width="1.6" />
<line x1="542.01" y1="865" x2="542.01" y2="867.4" stroke="#000" stroke-width="1.3" />
<line x1="548.45" y1="865" x2="548.45" y2="869.2" stroke="#000" stroke-width="1.6" />
<line x1="554.89" y1="865" x2="554.89" y2="867.4" stroke="#000" stroke-width="1.3" />
<line x1="561.33" y1="865" x2="561.33" y2="869.2" stroke="#000" stroke-width="1.6" />
<line x1="567.76" y1="865" x2="567.76" y2="867.4" stroke="#000" stroke-width="1.3" />
<line x1="574.2" y1="865" x2="574.2" y2="869.2" stroke="#000" stroke-width="1.6" />
<line x1="580.64" y1="865" x2="580.64" y2="867.4" stroke="#000" stroke-width="1.3" />
<line x1="587.08" y1="865" x2="587.08" y2="869.2" stroke="#000" stroke-width="1.6" />
<line x1="593.51" y1="865" x2="593.51" y2="867.4" stroke="#000" stroke-width="1.3" />
<line x1="599.95" y1="865" x2="599.95" y2="869.2" stroke="#000" stroke-width="1.6" />
<line x1="606.39" y1="865" x2="606.39" y2="867.4" stroke="#000" stroke-width="1.3" />
<line x1="612.83" y1="865" x2="612.83" y2="869.2" stroke="#000" stroke-width="1.6" />
<line x1="619.26" y1="865" x2="619.26" y2="867.4" stroke="#000" stroke-width="1.3" />
<line x1="625.7" y1="865" x2="625.7" y2="869.2" stroke="#000" stroke-width="1.6" />
<line x1="632.14" y1="865" x2="632.14" y2="867.4" stroke="#000" stroke-width="1.3" />
<line x1="638.58" y1="865" x2="638.58" y2="869.2" stroke="#000" stroke-width="1.6" />
<line x1="645.01" y1="865" x2="645.01" y2="867.4" stroke="#000" stroke-width="1.3" />
<line x1="651.45" y1="865" x2="651.45" y2="869.2" stroke="#000" stroke-width="1.6" />
<line x1="657.89" y1="865" x2="657.89" y2="867.4" stroke="#000" stroke-width="1.3" />
<line x1="664.33" y1="865" x2="664.33" y2="869.2" stroke="#000" stroke-width="1.6" />
<line x1="670.76" y1="865" x2="670.76" y2="867.4" stroke="#000" stroke-width="1.3" />
<line x1="677.2" y1="865" x2="677.2" y2="869.2" stroke="#000" stroke-width="1.6" />
<line x1="419.7" y1="657.3" x2="419.7" y2="866" stroke="#000" stroke-width="2.0" />
<line x1="418.7" y1="865" x2="678.2" y2="865" stroke="#000" stroke-width="2.0" />
<line x1="677.2" y1="658.3" x2="677.2" y2="865" stroke="#000" stroke-width="2.0" />
<line x1="418.7" y1="658.3" x2="678.2" y2="658.3" stroke="#000" stroke-width="2.0" />
<text x="411.2" y="868.65" font-family='"Liberation Sans", sans-serif' font-size="11.6" font-weight="bold" text-anchor="end" fill="#000" stroke="#000" stroke-width="0.3" >0</text>
<text x="411.2" y="842.82" font-family='"Liberation Sans", sans-serif' font-size="11.6" font-weight="bold" text-anchor="end" fill="#000" stroke="#000" stroke-width="0.3" >10</text>
<text x="411.2" y="816.98" font-family='"Liberation Sans", sans-serif' font-size="11.6" font-weight="bold" text-anchor="end" fill="#000" stroke="#000" stroke-width="0.3" >20</text>
<text x="411.2" y="791.14" font-family='"Liberation Sans", sans-serif' font-size="11.6" font-weight="bold" text-anchor="end" fill="#000" stroke="#000" stroke-width="0.3" >30</text>
<text x="411.2" y="765.3" font-family='"Liberation Sans", sans-serif' font-size="11.6" font-weight="bold" text-anchor="end" fill="#000" stroke="#000" stroke-width="0.3" >40</text>
<text x="411.2" y="739.47" font-family='"Liberation Sans", sans-serif' font-size="11.6" font-weight="bold" text-anchor="end" fill="#000" stroke="#000" stroke-width="0.3" >50</text>
<text x="411.2" y="713.63" font-family='"Liberation Sans", sans-serif' font-size="11.6" font-weight="bold" text-anchor="end" fill="#000" stroke="#000" stroke-width="0.3" >60</text>
<text x="411.2" y="687.79" font-family='"Liberation Sans", sans-serif' font-size="11.6" font-weight="bold" text-anchor="end" fill="#000" stroke="#000" stroke-width="0.3" >70</text>
<text x="411.2" y="661.95" font-family='"Liberation Sans", sans-serif' font-size="11.6" font-weight="bold" text-anchor="end" fill="#000" stroke="#000" stroke-width="0.3" >80</text>
<text transform="translate(424,872.4) rotate(-90)" font-family='"Liberation Sans", sans-serif' font-size="12.0" font-weight="bold" text-anchor="end" stroke="#000" stroke-width="0.3">0</text>
<text transform="translate(436.87,872.4) rotate(-90)" font-family='"Liberation Sans", sans-serif' font-size="12.0" font-weight="bold" text-anchor="end" stroke="#000" stroke-width="0.3">10</text>
<text transform="translate(449.75,872.4) rotate(-90)" font-family='"Liberation Sans", sans-serif' font-size="12.0" font-weight="bold" text-anchor="end" stroke="#000" stroke-width="0.3">20</text>
<text transform="translate(462.62,872.4) rotate(-90)" font-family='"Liberation Sans", sans-serif' font-size="12.0" font-weight="bold" text-anchor="end" stroke="#000" stroke-width="0.3">30</text>
<text transform="translate(475.5,872.4) rotate(-90)" font-family='"Liberation Sans", sans-serif' font-size="12.0" font-weight="bold" text-anchor="end" stroke="#000" stroke-width="0.3">40</text>
<text transform="translate(488.37,872.4) rotate(-90)" font-family='"Liberation Sans", sans-serif' font-size="12.0" font-weight="bold" text-anchor="end" stroke="#000" stroke-width="0.3">50</text>
<text transform="translate(501.25,872.4) rotate(-90)" font-family='"Liberation Sans", sans-serif' font-size="12.0" font-weight="bold" text-anchor="end" stroke="#000" stroke-width="0.3">60</text>
<text transform="translate(514.12,872.4) rotate(-90)" font-family='"Liberation Sans", sans-serif' font-size="12.0" font-weight="bold" text-anchor="end" stroke="#000" stroke-width="0.3">70</text>
<text transform="translate(527,872.4) rotate(-90)" font-family='"Liberation Sans", sans-serif' font-size="12.0" font-weight="bold" text-anchor="end" stroke="#000" stroke-width="0.3">80</text>
<text transform="translate(539.87,872.4) rotate(-90)" font-family='"Liberation Sans", sans-serif' font-size="12.0" font-weight="bold" text-anchor="end" stroke="#000" stroke-width="0.3">90</text>
<text transform="translate(552.75,872.4) rotate(-90)" font-family='"Liberation Sans", sans-serif' font-size="12.0" font-weight="bold" text-anchor="end" stroke="#000" stroke-width="0.3">100</text>
<text transform="translate(565.62,872.4) rotate(-90)" font-family='"Liberation Sans", sans-serif' font-size="12.0" font-weight="bold" text-anchor="end" stroke="#000" stroke-width="0.3">110</text>
<text transform="translate(578.5,872.4) rotate(-90)" font-family='"Liberation Sans", sans-serif' font-size="12.0" font-weight="bold" text-anchor="end" stroke="#000" stroke-width="0.3">120</text>
<text transform="translate(591.37,872.4) rotate(-90)" font-family='"Liberation Sans", sans-serif' font-size="12.0" font-weight="bold" text-anchor="end" stroke="#000" stroke-width="0.3">130</text>
<text transform="translate(604.25,872.4) rotate(-90)" font-family='"Liberation Sans", sans-serif' font-size="12.0" font-weight="bold" text-anchor="end" stroke="#000" stroke-width="0.3">140</text>
<text transform="translate(617.12,872.4) rotate(-90)" font-family='"Liberation Sans", sans-serif' font-size="12.0" font-weight="bold" text-anchor="end" stroke="#000" stroke-width="0.3">150</text>
<text transform="translate(630,872.4) rotate(-90)" font-family='"Liberation Sans", sans-serif' font-size="12.0" font-weight="bold" text-anchor="end" stroke="#000" stroke-width="0.3">160</text>
<text transform="translate(642.87,872.4) rotate(-90)" font-family='"Liberation Sans", sans-serif' font-size="12.0" font-weight="bold" text-anchor="end" stroke="#000" stroke-width="0.3">170</text>
<text transform="translate(655.75,872.4) rotate(-90)" font-family='"Liberation Sans", sans-serif' font-size="12.0" font-weight="bold" text-anchor="end" stroke="#000" stroke-width="0.3">180</text>
<text transform="translate(668.62,872.4) rotate(-90)" font-family='"Liberation Sans", sans-serif' font-size="12.0" font-weight="bold" text-anchor="end" stroke="#000" stroke-width="0.3">190</text>
<text transform="translate(681.5,872.4) rotate(-90)" font-family='"Liberation Sans", sans-serif' font-size="12.0" font-weight="bold" text-anchor="end" stroke="#000" stroke-width="0.3">200</text>
<rect x="563.8" y="771.8" width="108.8" height="87.7" fill="#fff" stroke="#222" stroke-width="1.4"/>
<line x1="564.3" y1="779.7" x2="592.8" y2="779.7" stroke="#0000e6" stroke-width="3.2"/>
<text x="594.9" y="782.99" font-family='"Liberation Sans", sans-serif' font-size="9.2" font-weight="bold" text-anchor="start" fill="#000" textLength="74.9" lengthAdjust="spacingAndGlyphs" stroke="#000" stroke-width="0.3" >S1OL-1.5h-0.2h</text>
<line x1="565.4" y1="794.1" x2="570.6" y2="794.1" stroke="#0000e6" stroke-width="3.2" stroke-linecap="round"/>
<line x1="579.2" y1="794.1" x2="584.4" y2="794.1" stroke="#0000e6" stroke-width="3.2" stroke-linecap="round"/>
<text x="594.9" y="797.39" font-family='"Liberation Sans", sans-serif' font-size="9.2" font-weight="bold" text-anchor="start" fill="#000" textLength="74.9" lengthAdjust="spacingAndGlyphs" stroke="#000" stroke-width="0.3" >S1OL-1.5h-0.3h</text>
<circle cx="564.9" cy="808.5" r="1.4" fill="#0000e6"/>
<circle cx="571" cy="808.5" r="1.4" fill="#0000e6"/>
<circle cx="577.1" cy="808.5" r="1.4" fill="#0000e6"/>
<circle cx="583.2" cy="808.5" r="1.4" fill="#0000e6"/>
<circle cx="589.3" cy="808.5" r="1.4" fill="#0000e6"/>
<text x="594.9" y="811.79" font-family='"Liberation Sans", sans-serif' font-size="9.2" font-weight="bold" text-anchor="start" fill="#000" textLength="74.9" lengthAdjust="spacingAndGlyphs" stroke="#000" stroke-width="0.3" >S1OL-1.5h-0.4h</text>
<line x1="564.3" y1="822.9" x2="592.8" y2="822.9" stroke="#f80000" stroke-width="3.2"/>
<text x="594.9" y="826.19" font-family='"Liberation Sans", sans-serif' font-size="9.2" font-weight="bold" text-anchor="start" fill="#000" textLength="74.9" lengthAdjust="spacingAndGlyphs" stroke="#000" stroke-width="0.3" >S1OL-2.0h-0.2h</text>
<line x1="565.4" y1="837.3" x2="570.6" y2="837.3" stroke="#f80000" stroke-width="3.2" stroke-linecap="round"/>
<line x1="579.2" y1="837.3" x2="584.4" y2="837.3" stroke="#f80000" stroke-width="3.2" stroke-linecap="round"/>
<text x="594.9" y="840.59" font-family='"Liberation Sans", sans-serif' font-size="9.2" font-weight="bold" text-anchor="start" fill="#000" textLength="74.9" lengthAdjust="spacingAndGlyphs" stroke="#000" stroke-width="0.3" >S1OL-2.0h-0.3h</text>
<circle cx="564.9" cy="851.7" r="1.4" fill="#f80000"/>
<circle cx="571" cy="851.7" r="1.4" fill="#f80000"/>
<circle cx="577.1" cy="851.7" r="1.4" fill="#f80000"/>
<circle cx="583.2" cy="851.7" r="1.4" fill="#f80000"/>
<circle cx="589.3" cy="851.7" r="1.4" fill="#f80000"/>
<text x="594.9" y="854.99" font-family='"Liberation Sans", sans-serif' font-size="9.2" font-weight="bold" text-anchor="start" fill="#000" textLength="74.9" lengthAdjust="spacingAndGlyphs" stroke="#000" stroke-width="0.3" >S1OL-2.0h-0.4h</text>
<rect x="457.7" y="835.6" width="70.7" height="17.1" fill="#fff" stroke="#333" stroke-width="1.3"/>
<text x="462.4" y="847.5" font-family='"Liberation Sans", sans-serif' font-size="11.3" font-weight="bold" text-anchor="start" fill="#000" textLength="60.8" lengthAdjust="spacingAndGlyphs" stroke="#000" stroke-width="0.01" >Top chord</text>
<line x1="473.4" y1="671.6" x2="503" y2="671.6" stroke="#333" stroke-width="0.9" />
<line x1="452.5" y1="678.2" x2="469.8" y2="678.2" stroke="#333" stroke-width="0.9" />
<circle cx="472.7" cy="678.4" r="3.0" fill="#fff" stroke="#333" stroke-width="0.9"/>
<circle cx="470.7" cy="671.6" r="3.0" fill="#fff" stroke="#333" stroke-width="0.9"/>
<text x="503.4" y="676" font-family='"Liberation Sans", sans-serif' font-size="11" font-weight="bold" text-anchor="start" fill="#000" textLength="29" lengthAdjust="spacingAndGlyphs" stroke="#000" stroke-width="0.12" >74.56</text>
<text x="424.1" y="681.5" font-family='"Liberation Sans", sans-serif' font-size="11" font-weight="bold" text-anchor="start" fill="#000" textLength="28.2" lengthAdjust="spacingAndGlyphs" stroke="#000" stroke-width="0.12" >72.34</text>
<line x1="460.2" y1="735.6" x2="469.5" y2="730.8" stroke="#333" stroke-width="0.9" />
<line x1="460" y1="737.5" x2="497" y2="737.5" stroke="#333" stroke-width="0.9" />
<circle cx="457.2" cy="737.3" r="3.0" fill="#fff" stroke="#333" stroke-width="0.9"/>
<text x="471.1" y="727.4" font-family='"Liberation Sans", sans-serif' font-size="11" font-weight="bold" text-anchor="start" fill="#000" textLength="28.2" lengthAdjust="spacingAndGlyphs" stroke="#000" stroke-width="0.12" >49.51</text>
<text x="497.3" y="741.7" font-family='"Liberation Sans", sans-serif' font-size="11" font-weight="bold" text-anchor="start" fill="#000" textLength="29" lengthAdjust="spacingAndGlyphs" stroke="#000" stroke-width="0.12" >49.13</text>
<line x1="453.4" y1="765.9" x2="463.5" y2="765.9" stroke="#333" stroke-width="0.9" />
<line x1="452.3" y1="773.4" x2="495" y2="773.4" stroke="#333" stroke-width="0.9" />
<circle cx="449.6" cy="773.4" r="3.0" fill="#fff" stroke="#333" stroke-width="0.9"/>
<circle cx="450.7" cy="765.9" r="3.0" fill="#fff" stroke="#333" stroke-width="0.9"/>
<text x="463.9" y="770.4" font-family='"Liberation Sans", sans-serif' font-size="11" font-weight="bold" text-anchor="start" fill="#000" textLength="28.7" lengthAdjust="spacingAndGlyphs" stroke="#000" stroke-width="0.12" >38.25</text>
<text x="495.2" y="778.1" font-family='"Liberation Sans", sans-serif' font-size="11" font-weight="bold" text-anchor="start" fill="#000" textLength="28.6" lengthAdjust="spacingAndGlyphs" stroke="#000" stroke-width="0.12" >35.34</text>
<text transform="translate(392.45,761.3) rotate(-90)" font-family='"Liberation Sans", sans-serif' font-size="14.1" font-weight="bold" text-anchor="middle" textLength="116.2" lengthAdjust="spacingAndGlyphs" stroke="#000" stroke-width="0.4">Deflection (mm)</text>
<text x="511.7" y="907.3" font-family='"Liberation Sans", sans-serif' font-size="12.9" font-weight="bold" text-anchor="start" fill="#000" textLength="72.9" lengthAdjust="spacingAndGlyphs" stroke="#000" stroke-width="0.4" >Time (ms)</text>
<text x="194.4" y="324.2" font-family='"Liberation Sans", sans-serif' font-size="18.5" font-weight="normal" text-anchor="start" fill="#000" textLength="18.1" lengthAdjust="spacingAndGlyphs" >(a)</text>
<text x="222.2" y="324.2" font-family='"Liberation Serif", serif' font-size="18.5" font-weight="normal" text-anchor="start" fill="#000" textLength="290.9" lengthAdjust="spacingAndGlyphs" >Strengthened beams with two openings</text>
<text x="114.5" y="614.5" font-family='"Liberation Sans", sans-serif' font-size="18.5" font-weight="normal" text-anchor="start" fill="#000" textLength="18.2" lengthAdjust="spacingAndGlyphs" >(b)</text>
<text x="142" y="614.5" font-family='"Liberation Serif", serif' font-size="18.5" font-weight="normal" text-anchor="start" fill="#000" textLength="451" lengthAdjust="spacingAndGlyphs" >strengthened beams with one midspan opening at mid-height</text>
<text x="31.5" y="959.8" font-family='"Liberation Sans", sans-serif' font-size="18.5" font-weight="normal" text-anchor="start" fill="#000" textLength="17.5" lengthAdjust="spacingAndGlyphs" >(c)</text>
<text x="59.9" y="959.8" font-family='"Liberation Serif", serif' font-size="18.5" font-weight="normal" text-anchor="start" fill="#000" textLength="616.3" lengthAdjust="spacingAndGlyphs" >strengthened beams with one midspan opening at 100 mm from the bottom surface</text>
</svg></body></html>
